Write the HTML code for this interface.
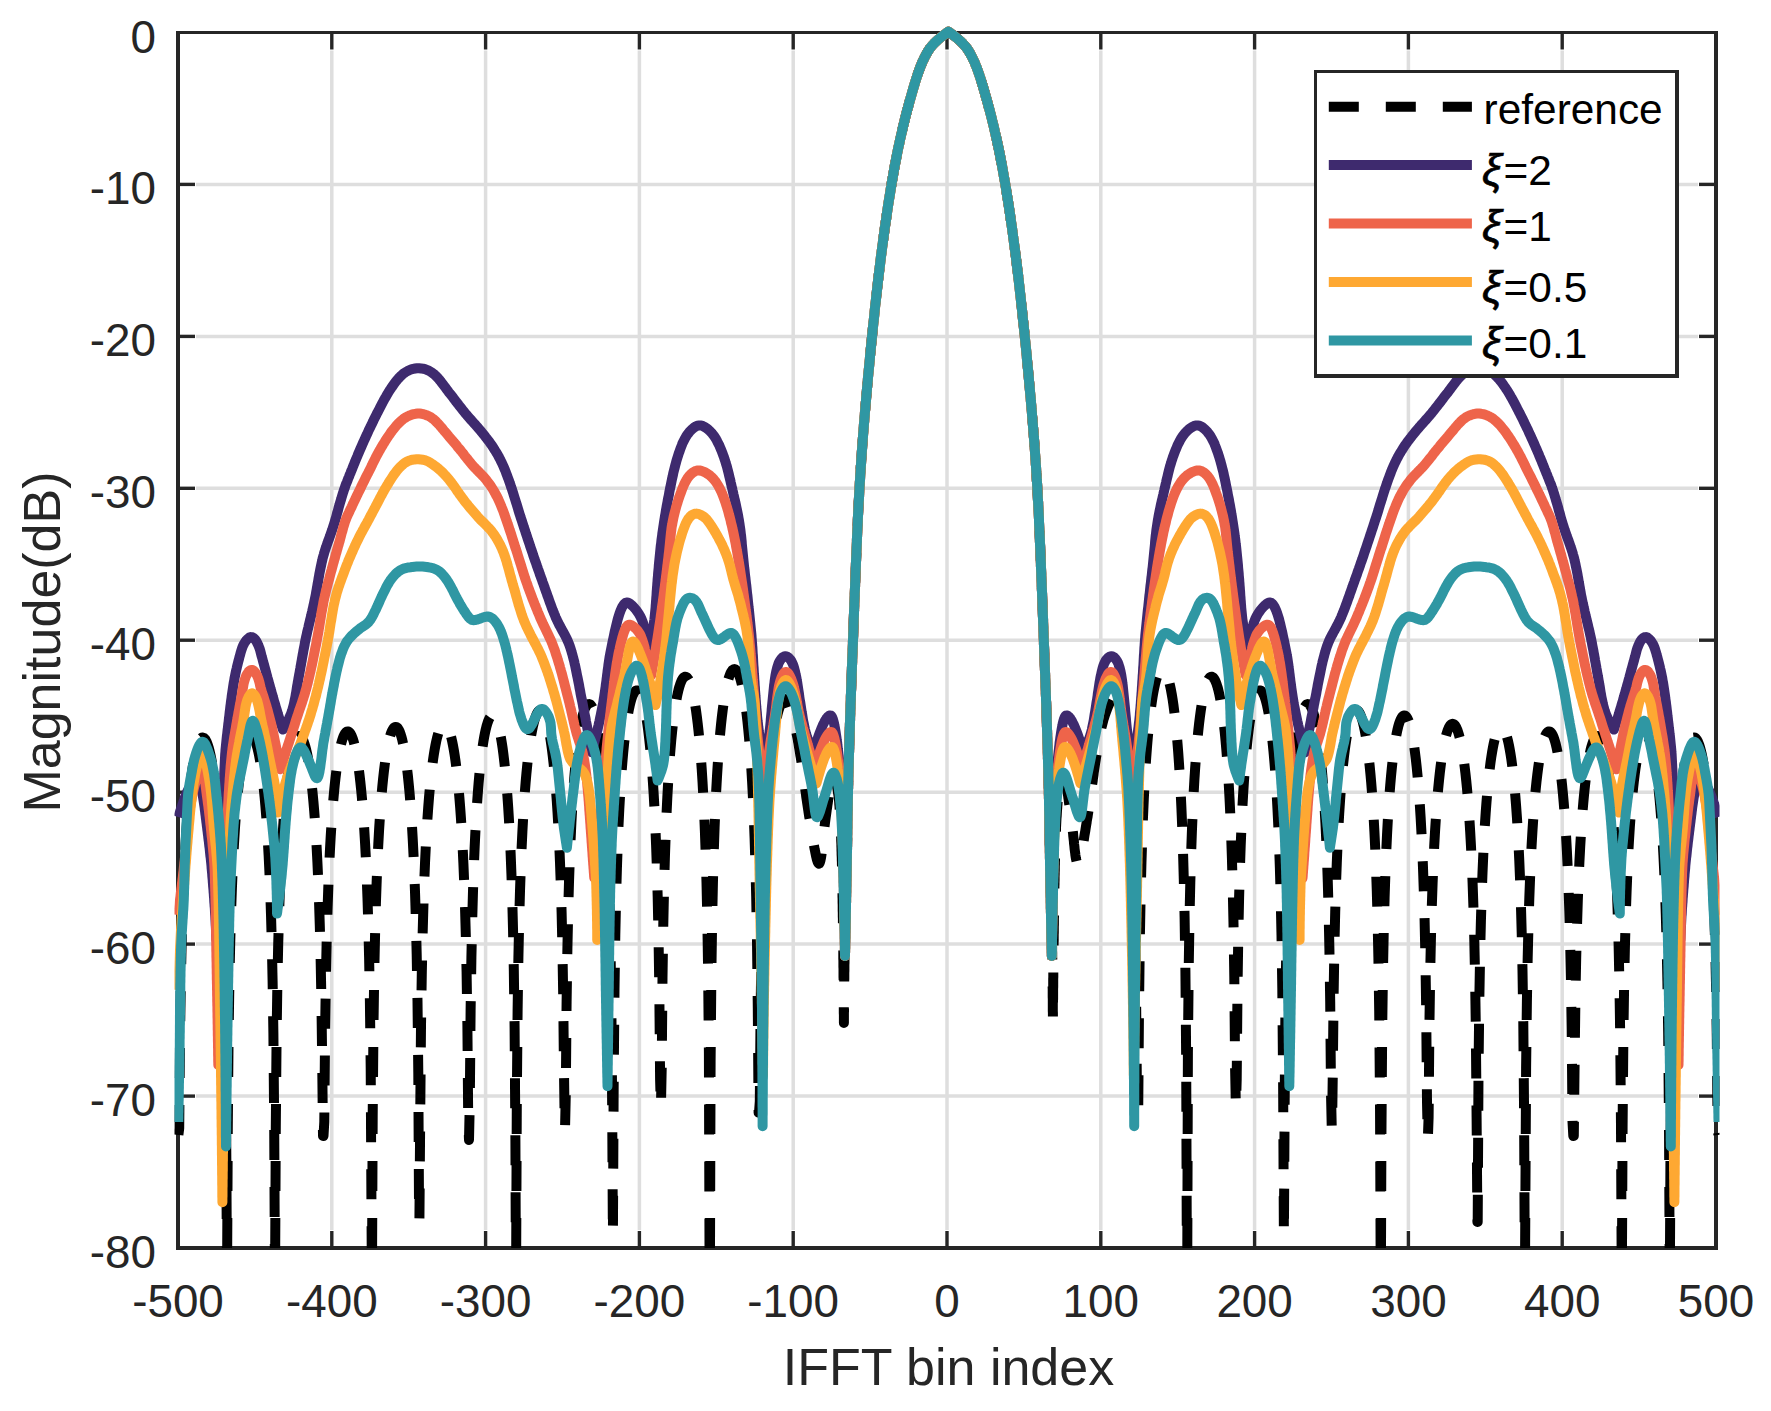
<!DOCTYPE html>
<html><head><meta charset="utf-8"><title>IFFT magnitude</title>
<style>
html,body{margin:0;padding:0;background:#fff;}
svg{display:block;}
text{font-family:"Liberation Sans",sans-serif;fill:#262626;}
.tk{font-size:45.8px;}
.lb{font-size:52px;}
.lg{font-size:42.4px;fill:#000;}
.xi{font-style:italic;font-size:44.5px;stroke:#000;stroke-width:0.7px;}
</style></head><body>
<svg width="1771" height="1411" viewBox="0 0 1771 1411">
<rect x="0" y="0" width="1771" height="1411" fill="#ffffff"/>
<defs><clipPath id="clip"><rect x="174.5" y="25.5" width="1545.0" height="1223.0"/></clipPath></defs>
<g stroke="#dedede" stroke-width="3.5" fill="none">
<line x1="331.8" y1="50.5" x2="331.8" y2="1230.0"/><line x1="485.6" y1="50.5" x2="485.6" y2="1230.0"/><line x1="639.4" y1="50.5" x2="639.4" y2="1230.0"/><line x1="793.2" y1="50.5" x2="793.2" y2="1230.0"/><line x1="947.0" y1="50.5" x2="947.0" y2="1230.0"/><line x1="1100.8" y1="50.5" x2="1100.8" y2="1230.0"/><line x1="1254.6" y1="50.5" x2="1254.6" y2="1230.0"/><line x1="1408.4" y1="50.5" x2="1408.4" y2="1230.0"/><line x1="1562.2" y1="50.5" x2="1562.2" y2="1230.0"/><line x1="196.0" y1="1096.1" x2="1698.0" y2="1096.1"/><line x1="196.0" y1="944.1" x2="1698.0" y2="944.1"/><line x1="196.0" y1="792.2" x2="1698.0" y2="792.2"/><line x1="196.0" y1="640.2" x2="1698.0" y2="640.2"/><line x1="196.0" y1="488.3" x2="1698.0" y2="488.3"/><line x1="196.0" y1="336.4" x2="1698.0" y2="336.4"/><line x1="196.0" y1="184.4" x2="1698.0" y2="184.4"/>
</g>
<g fill="#262626" stroke="none">
<rect x="176" y="31" width="4" height="1219"/><rect x="1714" y="31" width="4" height="1219"/><rect x="176" y="31" width="1542" height="3"/><rect x="176" y="1246" width="1542" height="4"/>
</g>
<g stroke="#262626" stroke-width="3.4" fill="none">
<line x1="331.8" y1="1248.0" x2="331.8" y2="1231.0"/><line x1="331.8" y1="32.5" x2="331.8" y2="49.5"/><line x1="485.6" y1="1248.0" x2="485.6" y2="1231.0"/><line x1="485.6" y1="32.5" x2="485.6" y2="49.5"/><line x1="639.4" y1="1248.0" x2="639.4" y2="1231.0"/><line x1="639.4" y1="32.5" x2="639.4" y2="49.5"/><line x1="793.2" y1="1248.0" x2="793.2" y2="1231.0"/><line x1="793.2" y1="32.5" x2="793.2" y2="49.5"/><line x1="947.0" y1="1248.0" x2="947.0" y2="1231.0"/><line x1="947.0" y1="32.5" x2="947.0" y2="49.5"/><line x1="1100.8" y1="1248.0" x2="1100.8" y2="1231.0"/><line x1="1100.8" y1="32.5" x2="1100.8" y2="49.5"/><line x1="1254.6" y1="1248.0" x2="1254.6" y2="1231.0"/><line x1="1254.6" y1="32.5" x2="1254.6" y2="49.5"/><line x1="1408.4" y1="1248.0" x2="1408.4" y2="1231.0"/><line x1="1408.4" y1="32.5" x2="1408.4" y2="49.5"/><line x1="1562.2" y1="1248.0" x2="1562.2" y2="1231.0"/><line x1="1562.2" y1="32.5" x2="1562.2" y2="49.5"/><line x1="178.0" y1="1096.1" x2="195.0" y2="1096.1"/><line x1="1716.0" y1="1096.1" x2="1699.0" y2="1096.1"/><line x1="178.0" y1="944.1" x2="195.0" y2="944.1"/><line x1="1716.0" y1="944.1" x2="1699.0" y2="944.1"/><line x1="178.0" y1="792.2" x2="195.0" y2="792.2"/><line x1="1716.0" y1="792.2" x2="1699.0" y2="792.2"/><line x1="178.0" y1="640.2" x2="195.0" y2="640.2"/><line x1="1716.0" y1="640.2" x2="1699.0" y2="640.2"/><line x1="178.0" y1="488.3" x2="195.0" y2="488.3"/><line x1="1716.0" y1="488.3" x2="1699.0" y2="488.3"/><line x1="178.0" y1="336.4" x2="195.0" y2="336.4"/><line x1="1716.0" y1="336.4" x2="1699.0" y2="336.4"/><line x1="178.0" y1="184.4" x2="195.0" y2="184.4"/><line x1="1716.0" y1="184.4" x2="1699.0" y2="184.4"/>
</g>
<text class="tk" x="178.0" y="1316.6" text-anchor="middle">-500</text><text class="tk" x="331.8" y="1316.6" text-anchor="middle">-400</text><text class="tk" x="485.6" y="1316.6" text-anchor="middle">-300</text><text class="tk" x="639.4" y="1316.6" text-anchor="middle">-200</text><text class="tk" x="793.2" y="1316.6" text-anchor="middle">-100</text><text class="tk" x="947.0" y="1316.6" text-anchor="middle">0</text><text class="tk" x="1100.8" y="1316.6" text-anchor="middle">100</text><text class="tk" x="1254.6" y="1316.6" text-anchor="middle">200</text><text class="tk" x="1408.4" y="1316.6" text-anchor="middle">300</text><text class="tk" x="1562.2" y="1316.6" text-anchor="middle">400</text><text class="tk" x="1716.0" y="1316.6" text-anchor="middle">500</text>
<text class="tk" x="156" y="1268.0" text-anchor="end">-80</text><text class="tk" x="156" y="1116.1" text-anchor="end">-70</text><text class="tk" x="156" y="964.1" text-anchor="end">-60</text><text class="tk" x="156" y="812.2" text-anchor="end">-50</text><text class="tk" x="156" y="660.2" text-anchor="end">-40</text><text class="tk" x="156" y="508.3" text-anchor="end">-30</text><text class="tk" x="156" y="356.4" text-anchor="end">-20</text><text class="tk" x="156" y="204.4" text-anchor="end">-10</text><text class="tk" x="156" y="52.5" text-anchor="end">0</text>
<text class="lb" x="948.5" y="1384.7" text-anchor="middle">IFFT bin index</text>
<text class="lb" transform="translate(59.5,642) rotate(-90)" text-anchor="middle">Magnitude(dB)</text>
<g clip-path="url(#clip)" fill="none" stroke-linejoin="round" stroke-linecap="butt">
<path d="M178.4 1135.0L179.2 1128.5L180.0 1037.2L180.8 983.9L181.6 946.4L182.4 917.5L183.2 894.1L184.0 874.5L184.8 857.8L185.6 843.2L186.4 830.5L187.2 819.1L188.0 809.0L188.8 800.0L189.6 791.9L190.4 784.5L191.2 777.9L192.0 772.0L192.8 766.6L193.6 761.8L194.4 757.5L195.2 753.6L196.0 750.3L196.8 747.3L197.6 744.8L198.4 742.7L199.2 740.9L200.0 739.5L200.8 738.5L201.6 737.8L202.4 737.5L203.2 737.6L204.0 738.0L204.8 738.7L205.6 739.8L206.4 741.3L207.2 743.2L208.0 745.4L208.8 748.0L209.6 751.1L210.4 754.6L211.2 758.5L212.0 762.9L212.8 767.9L213.6 773.4L214.4 779.5L215.2 786.3L216.0 793.8L216.8 802.2L217.6 811.5L218.4 821.8L219.2 833.5L220.0 846.7L220.8 861.7L221.6 879.1L222.4 899.5L223.2 924.1L224.0 954.8L224.8 995.3L225.6 1054.7L226.4 1166.4L226.8 1248.0M227.2 1248.0L227.8 1125.3L228.6 1034.0L229.4 980.8L230.2 943.3L231.0 914.3L231.8 891.0L232.6 871.4L233.4 854.7L234.2 840.2L235.0 827.4L235.8 816.2L236.6 806.1L237.4 797.1L238.2 789.0L239.0 781.7L239.8 775.1L240.6 769.2L241.4 763.9L242.2 759.2L243.0 755.0L243.8 751.2L244.6 747.9L245.4 745.0L246.2 742.6L247.0 740.5L247.8 738.9L248.6 737.6L249.4 736.7L250.2 736.2L251.0 736.0L251.8 736.2L252.6 736.7L253.4 737.6L254.2 738.9L255.0 740.5L255.8 742.6L256.6 745.0L257.4 747.9L258.2 751.2L259.0 755.0L259.8 759.2L260.6 763.9L261.4 769.2L262.2 775.1L263.0 781.7L263.8 789.0L264.6 797.1L265.4 806.1L266.2 816.2L267.0 827.4L267.8 840.2L268.6 854.7L269.4 871.4L270.2 891.0L271.0 914.3L271.8 943.3L272.6 980.8L273.4 1034.0L274.2 1125.3L274.8 1248.0M275.2 1248.0L275.8 1126.7L276.6 1035.4L277.4 982.1L278.2 944.6L279.0 915.7L279.8 892.3L280.6 872.7L281.4 856.0L282.2 841.5L283.0 828.7L283.8 817.4L284.6 807.3L285.4 798.2L286.2 790.1L287.0 782.8L287.8 776.2L288.6 770.2L289.4 764.9L290.2 760.1L291.0 755.8L291.8 752.0L292.6 748.6L293.4 745.7L294.2 743.2L295.0 741.0L295.8 739.3L296.6 737.9L297.4 736.9L298.2 736.3L299.0 736.0L299.8 736.1L300.6 736.5L301.4 737.3L302.2 738.4L303.0 739.9L303.8 741.8L304.6 744.1L305.4 746.7L306.2 749.8L307.0 753.3L307.8 757.3L308.6 761.8L309.4 766.8L310.2 772.4L311.0 778.6L311.8 785.4L312.6 793.1L313.4 801.5L314.2 810.9L315.0 821.5L315.8 833.3L316.6 846.7L317.4 862.0L318.2 879.7L319.0 900.5L319.8 925.8L320.6 957.4L321.4 999.6L322.2 1062.7L323.0 1136.0L323.5 1136.0L324.3 1121.8L325.1 1030.5L325.9 977.3L326.7 939.8L327.5 910.9L328.3 887.5L329.1 867.9L329.9 851.2L330.7 836.6L331.5 823.9L332.3 812.6L333.1 802.5L333.9 793.5L334.7 785.3L335.5 778.0L336.3 771.4L337.1 765.5L337.9 760.1L338.7 755.3L339.5 751.1L340.3 747.3L341.1 743.9L341.9 741.0L342.7 738.5L343.5 736.4L344.3 734.7L345.1 733.3L345.9 732.3L346.7 731.7L347.5 731.4L348.3 731.5L349.1 732.0L349.9 732.8L350.7 733.9L351.5 735.5L352.3 737.4L353.1 739.7L353.9 742.4L354.7 745.5L355.5 749.1L356.3 753.1L357.1 757.7L357.9 762.7L358.7 768.4L359.5 774.6L360.3 781.6L361.1 789.3L361.9 797.8L362.7 807.4L363.5 818.1L364.3 830.1L365.1 843.7L365.9 859.2L366.7 877.3L367.5 898.6L368.3 924.5L369.1 957.2L369.9 1001.2L370.7 1068.4L371.5 1213.3L371.7 1248.0M372.1 1248.0L372.7 1114.8L373.5 1023.5L374.3 970.3L375.1 932.8L375.9 903.9L376.7 880.5L377.5 861.0L378.3 844.3L379.1 829.8L379.9 817.1L380.7 805.8L381.5 795.8L382.3 786.8L383.1 778.8L383.9 771.5L384.7 765.0L385.5 759.1L386.3 753.9L387.1 749.2L387.9 745.0L388.7 741.3L389.5 738.1L390.3 735.3L391.1 732.9L391.9 731.0L392.7 729.4L393.5 728.2L394.3 727.4L395.1 726.9L395.9 726.9L396.7 727.2L397.5 727.8L398.3 728.9L399.1 730.3L399.9 732.1L400.7 734.4L401.5 737.0L402.3 740.1L403.1 743.6L403.9 747.6L404.7 752.1L405.5 757.1L406.3 762.7L407.1 769.0L407.9 775.9L408.7 783.7L409.5 792.3L410.3 801.9L411.1 812.7L411.9 824.8L412.7 838.6L413.5 854.4L414.3 872.8L415.1 894.6L415.9 921.1L416.7 954.9L417.5 1000.9L418.3 1072.8L419.1 1222.0L419.4 1222.0L420.2 1117.5L421.0 1026.2L421.8 972.9L422.6 935.4L423.4 906.4L424.2 883.0L425.0 863.4L425.8 846.6L426.6 832.0L427.4 819.2L428.2 807.9L429.0 797.7L429.8 788.6L430.6 780.4L431.4 773.0L432.2 766.3L433.0 760.2L433.8 754.8L434.6 749.9L435.4 745.5L436.2 741.5L437.0 738.0L437.8 735.0L438.6 732.3L439.4 730.0L440.2 728.1L441.0 726.5L441.8 725.3L442.6 724.5L443.4 724.0L444.2 723.8L445.0 724.0L445.8 724.5L446.6 725.3L447.4 726.5L448.2 728.1L449.0 730.0L449.8 732.3L450.6 735.0L451.4 738.0L452.2 741.5L453.0 745.5L453.8 749.9L454.6 754.8L455.4 760.2L456.2 766.3L457.0 773.0L457.8 780.4L458.6 788.6L459.4 797.7L460.2 807.9L461.0 819.2L461.8 832.0L462.6 846.6L463.4 863.4L464.2 883.0L465.0 906.4L465.8 935.4L466.6 972.9L467.4 1026.2L468.2 1117.5L469.0 1140.0L469.0 1140.0L469.8 1102.0L470.6 1010.7L471.4 957.5L472.2 920.0L473.0 891.1L473.8 867.8L474.6 848.2L475.4 831.6L476.2 817.1L477.0 804.4L477.8 793.2L478.6 783.2L479.4 774.3L480.2 766.2L481.0 759.0L481.8 752.6L482.6 746.7L483.4 741.5L484.2 736.9L485.0 732.8L485.8 729.2L486.6 726.0L487.4 723.3L488.2 721.0L489.0 719.1L489.8 717.6L490.6 716.5L491.4 715.8L492.2 715.5L493.0 715.5L493.8 716.0L494.6 716.8L495.4 718.0L496.2 719.5L497.0 721.5L497.8 723.9L498.6 726.7L499.4 730.0L500.2 733.8L501.0 738.0L501.8 742.8L502.6 748.1L503.4 754.1L504.2 760.8L505.0 768.2L505.8 776.4L506.6 785.6L507.4 795.9L508.2 807.4L509.0 820.5L509.8 835.5L510.6 852.8L511.4 873.2L512.2 897.7L513.0 928.4L513.8 968.9L514.6 1028.3L515.4 1139.9L515.8 1248.0M516.2 1248.0L516.8 1102.2L517.6 1010.9L518.4 957.7L519.2 920.1L520.0 891.2L520.8 867.8L521.6 848.2L522.4 831.4L523.2 816.9L524.0 804.1L524.8 792.8L525.6 782.6L526.4 773.6L527.2 765.4L528.0 758.0L528.8 751.4L529.6 745.4L530.4 740.0L531.2 735.1L532.0 730.8L532.8 726.9L533.6 723.5L534.4 720.5L535.2 717.9L536.0 715.7L536.8 713.9L537.6 712.4L538.4 711.3L539.2 710.6L540.0 710.2L540.8 710.2L541.6 710.5L542.4 711.1L543.2 712.1L544.0 713.5L544.8 715.2L545.6 717.3L546.4 719.8L547.2 722.7L548.0 726.0L548.8 729.8L549.6 734.0L550.4 738.7L551.2 744.0L552.0 749.8L552.8 756.3L553.6 763.5L554.4 771.4L555.2 780.3L556.0 790.1L556.8 801.1L557.6 813.5L558.4 827.6L559.2 843.7L560.0 862.5L560.8 884.9L561.6 912.2L562.4 947.2L563.2 995.4L564.0 1072.8L564.8 1130.0L565.0 1130.0L565.8 1093.1L566.6 1001.8L567.4 948.6L568.2 911.1L569.0 882.2L569.8 858.8L570.6 839.2L571.4 822.5L572.2 808.0L573.0 795.3L573.8 784.0L574.6 774.0L575.4 765.0L576.2 756.9L577.0 749.6L577.8 743.0L578.6 737.1L579.4 731.8L580.2 727.1L581.0 722.9L581.8 719.1L582.6 715.9L583.4 713.0L584.2 710.6L585.0 708.5L585.8 706.9L586.6 705.6L587.4 704.7L588.2 704.2L589.0 704.1L589.8 704.3L590.6 704.8L591.4 705.8L592.2 707.1L593.0 708.8L593.8 710.9L594.6 713.3L595.4 716.2L596.2 719.6L597.0 723.4L597.8 727.7L598.6 732.5L599.4 737.8L600.2 743.8L601.0 750.5L601.8 757.8L602.6 766.0L603.4 775.2L604.2 785.3L605.0 796.8L605.8 809.7L606.6 824.5L607.4 841.5L608.2 861.5L609.0 885.4L609.8 915.2L610.6 954.2L611.4 1010.3L612.2 1110.7L612.9 1235.9L613.7 1079.7L614.5 988.4L615.3 935.2L616.1 897.7L616.9 868.8L617.7 845.4L618.5 825.8L619.3 809.1L620.1 794.6L620.9 781.9L621.7 770.6L622.5 760.5L623.3 751.5L624.1 743.4L624.9 736.1L625.7 729.6L626.5 723.7L627.3 718.4L628.1 713.6L628.9 709.4L629.7 705.6L630.5 702.3L631.3 699.5L632.1 697.0L632.9 695.0L633.7 693.3L634.5 692.0L635.3 691.1L636.1 690.6L636.9 690.4L637.7 690.6L638.5 691.1L639.3 692.0L640.1 693.3L640.9 695.0L641.7 697.0L642.5 699.5L643.3 702.3L644.1 705.6L644.9 709.4L645.7 713.6L646.5 718.4L647.3 723.7L648.1 729.6L648.9 736.1L649.7 743.4L650.5 751.5L651.3 760.5L652.1 770.6L652.9 781.9L653.7 794.6L654.5 809.1L655.3 825.8L656.1 845.4L656.9 868.8L657.7 897.7L658.5 935.2L659.3 988.4L660.1 1079.7L660.9 1108.0L661.7 1068.5L662.5 977.2L663.3 924.0L664.1 886.4L664.9 857.5L665.7 834.1L666.5 814.5L667.3 797.7L668.1 783.2L668.9 770.4L669.7 759.1L670.5 749.0L671.3 739.9L672.1 731.7L672.9 724.4L673.7 717.8L674.5 711.8L675.3 706.4L676.1 701.5L676.9 697.2L677.7 693.3L678.5 689.9L679.3 686.9L680.1 684.4L680.9 682.2L681.7 680.4L682.5 678.9L683.3 677.9L684.1 677.1L684.9 676.8L685.7 676.7L686.5 677.1L687.3 677.8L688.1 678.8L688.9 680.2L689.7 681.9L690.5 684.1L691.3 686.6L692.1 689.5L692.9 692.9L693.7 696.7L694.5 701.0L695.3 705.7L696.1 711.1L696.9 717.0L697.7 723.5L698.5 730.8L699.3 738.8L700.1 747.8L700.9 757.8L701.7 768.9L702.5 781.5L703.3 795.8L704.1 812.3L704.9 831.4L705.7 854.3L706.5 882.4L707.3 918.6L708.1 969.2L708.9 1053.0L709.5 1248.0M710.0 1248.0L710.6 1061.7L711.4 970.4L712.2 917.2L713.0 879.6L713.8 850.7L714.6 827.3L715.4 807.7L716.2 790.9L717.0 776.4L717.8 763.6L718.6 752.2L719.4 742.1L720.2 733.0L721.0 724.8L721.8 717.4L722.6 710.8L723.4 704.8L724.2 699.3L725.0 694.5L725.8 690.1L726.6 686.2L727.4 682.8L728.2 679.7L729.0 677.1L729.8 674.9L730.6 673.0L731.4 671.6L732.2 670.4L733.0 669.6L733.8 669.2L734.6 669.1L735.4 669.4L736.2 670.0L737.0 670.9L737.8 672.3L738.6 673.9L739.4 676.0L740.2 678.4L741.0 681.2L741.8 684.4L742.6 688.1L743.4 692.2L744.2 696.8L745.0 702.0L745.8 707.7L746.6 714.0L747.4 721.0L748.2 728.8L749.0 737.4L749.8 747.0L750.6 757.7L751.4 769.8L752.2 783.4L753.0 799.0L753.8 817.1L754.6 838.4L755.4 864.3L756.2 897.0L757.0 941.1L757.8 1008.3L758.6 1112.8L759.0 1112.8L759.8 1101.4L760.6 1010.1L761.4 956.8L762.2 919.2L763.0 890.2L763.8 866.7L764.6 847.0L765.4 830.1L766.2 815.4L767.0 802.5L767.8 790.9L768.6 780.6L769.4 771.3L770.2 762.9L771.0 755.3L771.8 748.4L772.6 742.1L773.4 736.3L774.2 731.1L775.0 726.4L775.8 722.1L776.6 718.3L777.4 714.8L778.2 711.8L779.0 709.0L779.8 706.7L780.6 704.6L781.4 702.9L782.2 701.5L783.0 700.5L783.8 699.7L784.6 699.2L785.4 699.0L786.3 700.8L787.1 702.7L787.9 704.6L788.7 706.4L789.4 708.3L790.1 710.2L790.8 712.0L791.5 713.9L792.1 715.8L792.7 717.7L793.3 719.6L793.8 721.5L794.3 723.5L794.8 725.4L795.3 727.3L795.7 729.3L796.1 731.2L796.5 733.2L796.9 735.1L797.3 737.1L797.7 739.1L798.0 741.1L798.4 743.0L798.7 745.0L799.0 747.0L799.4 749.0L799.7 751.0L800.0 753.0L800.3 754.9L800.7 756.9L801.0 758.9L801.3 760.9L801.6 762.8L801.9 764.8L802.2 766.8L802.5 768.8L802.8 770.8L803.1 772.7L803.3 774.7L803.6 776.7L803.9 778.7L804.1 780.7L804.4 782.7L804.7 784.7L804.9 786.6L805.2 788.6L805.4 790.6L805.7 792.6L806.0 794.6L806.2 796.6L806.5 798.6L806.8 800.5L807.1 802.5L807.4 804.5L807.7 806.5L808.0 808.5L808.3 810.4L808.6 812.4L808.9 814.4L809.2 816.5L809.6 818.7L810.0 820.9L810.3 823.3L810.8 826.3L811.2 828.8L811.6 831.4L812.1 834.0L812.5 836.6L812.9 839.2L813.3 841.7L813.8 844.2L814.2 846.7L814.6 849.0L815.1 851.2L815.5 853.3L815.9 855.3L816.3 857.1L816.7 858.7L817.1 860.2L817.5 861.4L817.9 862.4L818.3 863.1L818.6 863.5L819.0 863.7L819.3 863.5L819.6 863.1L819.9 862.4L820.2 861.4L820.5 860.2L820.8 858.8L821.1 857.1L821.4 855.3L821.6 853.3L821.9 851.1L822.2 848.9L822.4 846.5L822.7 844.0L822.9 841.5L823.2 838.9L823.5 836.3L823.7 833.7L824.0 831.1L824.3 828.5L824.6 826.0L824.9 823.5L825.2 821.1L825.5 818.8L825.8 816.6L826.1 814.5L826.4 812.3L826.7 810.0L827.1 807.7L827.4 805.2L827.8 802.7L828.1 800.1L828.5 797.5L828.8 794.9L829.2 792.4L829.6 789.9L830.0 787.5L830.3 785.3L830.7 783.2L831.1 781.3L831.5 779.7L831.9 778.2L832.3 777.0L832.7 776.2L833.1 775.6L833.5 775.5L833.9 775.8L834.4 776.5L834.9 777.7L835.4 779.3L835.9 781.2L836.4 783.4L836.9 785.8L837.3 788.2L837.8 790.8L838.1 793.3L838.5 795.7L838.8 798.0L839.0 800.1L839.2 802.2L839.3 804.2L839.5 806.2L839.6 808.2L839.8 810.2L839.9 812.2L840.0 814.1L840.1 816.1L840.3 818.1L840.4 820.1L840.5 822.1L840.6 824.1L840.7 826.1L840.8 828.1L840.8 830.1L840.9 832.2L841.0 834.2L841.1 836.2L841.2 838.2L841.2 840.2L841.3 842.2L841.4 844.2L841.4 846.2L841.5 848.2L841.5 850.2L841.6 852.2L841.6 854.2L841.7 856.2L841.8 858.2L841.8 860.2L841.9 862.2L841.9 864.2L842.0 866.2L842.0 868.2L842.0 870.3L842.1 872.3L842.1 874.3L842.2 876.3L842.2 878.3L842.2 880.3L842.3 882.3L842.3 884.3L842.4 886.3L842.4 888.3L842.4 890.3L842.5 892.3L842.5 894.3L842.5 896.8L842.6 898.8L842.6 900.8L842.6 902.8L842.7 904.8L842.7 906.8L842.7 908.8L842.7 910.8L842.8 912.8L842.8 914.8L842.8 916.8L842.9 918.8L842.9 920.8L842.9 922.8L842.9 924.8L843.0 926.8L843.0 928.8L843.0 930.8L843.0 932.8L843.1 934.8L843.1 936.8L843.1 938.8L843.1 940.8L843.2 942.8L843.2 944.8L843.2 946.8L843.2 948.8L843.3 950.8L843.3 952.8L843.3 954.8L843.3 956.8L843.3 958.8L843.4 960.8L843.4 962.8L843.4 964.8L843.4 966.8L843.5 968.8L843.5 970.8L843.5 972.8L843.5 974.9L843.5 976.9L843.6 978.9L843.6 980.9L843.6 982.9L843.6 984.9L843.6 986.9L843.7 988.9L843.7 990.9L843.7 992.9L843.7 994.9L843.7 996.9L843.7 998.9L843.8 1000.9L843.8 1002.9L843.8 1004.9L843.8 1006.9L843.8 1008.9L843.8 1010.9L843.8 1012.9L843.9 1014.9L843.9 1016.9L843.9 1018.9L843.9 1020.9L843.9 1022.9L843.9 1020.9L843.9 1018.9L843.9 1016.9L843.9 1014.9L843.9 1012.9L844.0 1010.9L844.0 1008.9L844.0 1006.9L844.0 1004.9L844.0 1002.9L844.0 1000.9L844.0 998.9L844.1 996.9L844.1 994.9L844.1 992.9L844.1 990.9L844.1 988.9L844.2 986.9L844.2 984.9L844.2 982.9L844.2 980.9L844.3 978.9L844.3 976.9L844.3 974.9L844.3 972.9L844.4 970.9L844.4 968.9L844.4 966.9L844.4 964.9L844.5 962.9L844.5 960.9L844.5 958.9L844.6 956.9L844.6 954.8L844.6 952.8L844.7 950.8L844.7 948.8L844.7 946.8L844.8 944.8L844.8 942.8L844.8 940.8L844.9 938.8L844.9 936.8L844.9 934.8L845.0 932.8L845.0 930.8L845.0 928.8L845.1 926.8L845.1 924.8L845.1 922.8L845.2 920.8L845.2 918.8L845.3 916.8L845.3 914.8L845.4 912.8L845.5 910.8L845.5 908.8L845.6 906.8L845.6 904.8L845.7 902.8L845.8 900.8L845.8 898.8L845.9 896.8L845.9 894.8L846.0 892.8L846.1 890.8L846.1 888.8L846.2 886.8L846.3 884.8L846.3 882.8L846.4 880.8L846.4 878.8L846.5 876.8L846.5 874.8L846.6 872.8L846.6 870.8L846.7 868.8L846.7 866.8L846.8 864.8L846.8 862.8L846.8 860.8L846.9 858.8L846.9 856.8L847.0 854.8L847.0 852.8L847.0 850.8L847.1 848.8L847.1 846.8L847.1 844.8L847.2 842.8L847.2 840.8L847.2 838.8L847.2 836.8L847.3 834.8L847.3 832.8L847.3 830.8L847.4 828.8L847.4 826.8L847.4 824.8L847.5 822.8L847.5 820.8L847.5 818.8L847.5 816.8L847.6 814.8L847.6 812.8L847.6 810.8L847.7 808.8L847.7 806.8L847.8 804.8L847.8 802.8L847.8 800.8L847.9 798.8L847.9 796.8L847.9 794.8L848.0 792.8L848.0 790.8L848.1 788.8L848.1 786.8L848.2 784.8L848.2 782.8L848.3 780.8L848.3 778.8L848.4 776.8L848.4 774.8L848.5 772.8L848.5 770.8L848.6 768.8L848.6 766.8L848.7 764.8L848.7 762.7L848.8 760.7L848.9 758.7L848.9 756.7L849.0 754.7L849.0 752.7L849.1 750.7L849.2 748.7L849.2 746.7L849.3 744.7L849.3 742.7L849.4 740.7L849.5 738.7L849.5 736.7L849.6 734.7L849.7 732.7L849.7 730.7L849.8 728.7L849.9 726.7L849.9 724.7L850.0 722.7L850.0 720.7L850.1 718.7L850.2 716.7L850.2 714.7L850.3 712.7L850.4 710.7L850.4 708.7L850.5 706.7L850.6 704.7L850.6 702.7L850.7 700.7L850.8 698.7L850.9 696.7L850.9 694.7L851.0 692.7L851.1 690.7L851.2 688.7L851.2 686.7L851.3 684.7L851.4 682.7L851.5 680.7L851.5 678.7L851.6 676.7L851.7 674.7L851.8 672.7L851.8 670.7L851.9 668.7L852.0 666.7L852.1 664.7L852.1 662.7L852.2 660.7L852.3 658.7L852.4 656.7L852.4 654.7L852.5 652.7L852.6 650.7L852.7 648.7L852.7 646.7L852.8 644.7L852.9 642.7L853.0 640.7L853.0 638.7L853.1 636.7L853.2 634.7L853.3 632.7L853.3 630.7L853.4 628.7L853.5 626.7L853.6 624.7L853.6 622.7L853.7 620.7L853.8 618.7L853.9 616.7L853.9 614.7L854.0 612.7L854.1 610.7L854.2 608.7L854.2 606.7L854.3 604.7L854.4 602.7L854.5 600.7L854.6 598.7L854.6 596.7L854.7 594.7L854.8 592.7L854.9 590.7L854.9 588.7L855.0 586.7L855.1 584.7L855.2 582.7L855.3 580.7L855.3 578.7L855.4 576.7L855.5 574.7L855.6 572.7L855.7 570.7L855.7 568.7L855.8 566.7L855.9 564.7L856.0 562.7L856.1 560.7L856.1 558.7L856.2 556.7L856.3 554.7L856.4 552.7L856.5 550.7L856.6 548.7L856.6 546.7L856.7 544.7L856.8 542.7L856.9 540.7L857.0 538.7L857.1 536.7L857.2 534.7L857.3 532.7L857.3 530.7L857.4 528.7L857.5 526.7L857.6 524.7L857.7 522.7L857.8 520.7L857.9 518.2L858.0 516.2L858.1 514.2L858.2 512.2L858.3 510.2L858.4 508.2L858.5 506.2L858.6 504.2L858.7 502.2L858.8 500.2L858.9 498.2L859.0 496.2L859.2 494.2L859.3 492.2L859.4 490.2L859.5 488.3L859.6 486.3L859.7 484.3L859.8 482.3L860.0 480.3L860.1 478.3L860.2 476.3L860.3 474.3L860.5 472.3L860.6 470.3L860.7 468.3L860.8 466.3L861.0 464.3L861.1 462.3L861.2 460.3L861.4 458.3L861.5 456.3L861.7 454.3L861.8 452.3L862.0 450.3L862.1 448.3L862.2 446.3L862.4 444.3L862.5 442.3L862.7 440.3L862.8 438.3L863.0 436.3L863.1 434.3L863.3 432.3L863.5 430.3L863.6 428.3L863.8 426.4L863.9 424.4L864.1 422.4L864.3 420.4L864.4 418.4L864.6 416.4L864.8 414.4L864.9 412.4L865.1 410.4L865.3 408.4L865.4 406.4L865.6 404.4L865.8 402.4L866.0 400.4L866.1 398.4L866.3 396.4L866.5 394.4L866.7 392.4L866.9 390.4L867.0 388.4L867.2 386.5L867.4 384.5L867.6 382.5L867.8 380.5L868.0 378.5L868.1 376.5L868.3 374.5L868.5 372.5L868.7 370.5L868.9 368.5L869.1 366.5L869.3 364.5L869.5 362.5L869.7 360.5L869.9 358.5L870.0 356.6L870.2 354.6L870.4 352.6L870.6 350.6L870.8 348.6L871.0 346.6L871.2 344.6L871.4 342.6L871.6 340.6L871.8 338.6L872.0 336.6L872.2 334.7L872.4 332.7L872.6 330.7L872.8 328.7L873.0 326.7L873.2 324.7L873.4 322.7L873.7 320.7L873.9 318.7L874.1 316.7L874.3 314.8L874.5 312.8L874.7 310.8L874.9 308.8L875.1 306.8L875.4 304.8L875.6 302.8L875.8 300.8L876.0 298.8L876.2 296.8L876.4 294.8L876.7 292.9L876.9 290.9L877.1 288.9L877.4 286.9L877.6 284.9L877.8 282.9L878.0 280.9L878.3 278.9L878.5 276.9L878.7 274.9L879.0 272.9L879.2 271.0L879.5 269.0L879.7 267.0L880.0 265.0L880.2 263.0L880.4 261.0L880.7 259.0L880.9 257.0L881.2 255.0L881.5 253.1L881.7 251.1L882.0 249.1L882.2 247.1L882.5 245.1L882.8 243.1L883.0 241.1L883.3 239.2L883.6 237.2L883.8 235.2L884.1 233.2L884.4 231.2L884.7 229.2L884.9 227.3L885.2 225.3L885.5 223.3L885.8 221.3L886.1 219.3L886.4 217.3L886.6 215.4L886.9 213.4L887.2 211.4L887.5 209.4L887.8 207.5L888.1 205.5L888.4 203.5L888.7 201.5L889.1 199.6L889.4 197.6L889.7 195.6L890.0 193.6L890.3 191.7L890.6 189.7L891.0 187.7L891.3 185.8L891.6 183.8L891.9 181.8L892.3 179.8L892.6 177.9L893.0 175.9L893.3 173.9L893.7 172.0L894.0 170.0L894.4 168.0L894.7 166.0L895.1 164.1L895.5 162.1L895.9 160.1L896.3 158.2L896.6 156.2L897.0 154.2L897.4 152.3L897.8 150.3L898.2 148.3L898.7 146.4L899.1 144.4L899.5 142.4L899.9 140.5L900.3 138.5L900.8 136.5L901.2 134.6L901.7 132.6L902.1 130.7L902.6 128.7L903.0 126.8L903.5 124.8L904.0 122.9L904.5 120.9L904.9 119.0L905.4 117.1L905.9 115.1L906.4 113.2L906.9 111.3L907.4 109.3L908.0 107.4L908.5 105.5L909.0 103.6L909.5 101.6L910.1 99.7L910.6 97.8L911.2 95.8L911.7 93.9L912.3 91.9L912.8 90.0L913.4 88.0L914.0 86.0L914.6 84.0L915.2 82.0L915.8 80.1L916.4 78.1L917.1 76.1L917.7 74.2L918.4 72.2L919.1 70.3L919.8 68.4L920.5 66.5L921.3 64.7L922.0 62.8L922.8 61.0L923.7 59.3L924.5 57.5L925.4 55.8L926.3 54.1L927.2 52.5L928.2 50.9L929.2 49.3L930.3 47.8L931.5 46.3L932.8 44.8L934.1 43.4L935.5 42.0L937.0 40.6L938.5 39.2L940.1 37.9L941.7 36.6L943.3 35.3L945.0 34.1L946.7 32.8L948.4 31.6L950.1 32.8L951.8 34.1L953.5 35.3L955.1 36.6L956.7 37.9L958.3 39.2L959.8 40.6L961.3 42.0L962.7 43.4L964.0 44.8L965.3 46.3L966.5 47.8L967.6 49.3L968.6 50.9L969.6 52.5L970.5 54.1L971.4 55.8L972.3 57.5L973.1 59.3L974.0 61.0L974.8 62.8L975.5 64.7L976.3 66.5L977.0 68.4L977.7 70.3L978.4 72.2L979.1 74.2L979.7 76.1L980.4 78.1L981.0 80.1L981.6 82.0L982.2 84.0L982.8 86.0L983.4 88.0L984.0 90.0L984.5 91.9L985.1 93.9L985.6 95.8L986.2 97.8L986.7 99.7L987.3 101.6L987.8 103.6L988.3 105.5L988.8 107.4L989.4 109.3L989.9 111.3L990.4 113.2L990.9 115.1L991.4 117.1L991.9 119.0L992.3 120.9L992.8 122.9L993.3 124.8L993.8 126.8L994.2 128.7L994.7 130.7L995.1 132.6L995.6 134.6L996.0 136.5L996.5 138.5L996.9 140.5L997.3 142.4L997.7 144.4L998.1 146.4L998.6 148.3L999.0 150.3L999.4 152.3L999.8 154.2L1000.2 156.2L1000.5 158.2L1000.9 160.1L1001.3 162.1L1001.7 164.1L1002.1 166.0L1002.4 168.0L1002.8 170.0L1003.1 172.0L1003.5 173.9L1003.8 175.9L1004.2 177.9L1004.5 179.8L1004.9 181.8L1005.2 183.8L1005.5 185.8L1005.8 187.7L1006.2 189.7L1006.5 191.7L1006.8 193.6L1007.1 195.6L1007.4 197.6L1007.7 199.6L1008.1 201.5L1008.4 203.5L1008.7 205.5L1009.0 207.5L1009.3 209.4L1009.6 211.4L1009.9 213.4L1010.2 215.4L1010.4 217.3L1010.7 219.3L1011.0 221.3L1011.3 223.3L1011.6 225.3L1011.9 227.3L1012.1 229.2L1012.4 231.2L1012.7 233.2L1013.0 235.2L1013.2 237.2L1013.5 239.2L1013.8 241.1L1014.0 243.1L1014.3 245.1L1014.6 247.1L1014.8 249.1L1015.1 251.1L1015.3 253.1L1015.6 255.0L1015.9 257.0L1016.1 259.0L1016.4 261.0L1016.6 263.0L1016.8 265.0L1017.1 267.0L1017.3 269.0L1017.6 271.0L1017.8 272.9L1018.1 274.9L1018.3 276.9L1018.5 278.9L1018.8 280.9L1019.0 282.9L1019.2 284.9L1019.4 286.9L1019.7 288.9L1019.9 290.9L1020.1 292.9L1020.4 294.8L1020.6 296.8L1020.8 298.8L1021.0 300.8L1021.2 302.8L1021.4 304.8L1021.7 306.8L1021.9 308.8L1022.1 310.8L1022.3 312.8L1022.5 314.8L1022.7 316.7L1022.9 318.7L1023.1 320.7L1023.4 322.7L1023.6 324.7L1023.8 326.7L1024.0 328.7L1024.2 330.7L1024.4 332.7L1024.6 334.7L1024.8 336.6L1025.0 338.6L1025.2 340.6L1025.4 342.6L1025.6 344.6L1025.8 346.6L1026.0 348.6L1026.2 350.6L1026.4 352.6L1026.6 354.6L1026.8 356.6L1026.9 358.5L1027.1 360.5L1027.3 362.5L1027.5 364.5L1027.7 366.5L1027.9 368.5L1028.1 370.5L1028.3 372.5L1028.5 374.5L1028.7 376.5L1028.8 378.5L1029.0 380.5L1029.2 382.5L1029.4 384.5L1029.6 386.5L1029.8 388.4L1029.9 390.4L1030.1 392.4L1030.3 394.4L1030.5 396.4L1030.7 398.4L1030.8 400.4L1031.0 402.4L1031.2 404.4L1031.4 406.4L1031.5 408.4L1031.7 410.4L1031.9 412.4L1032.0 414.4L1032.2 416.4L1032.4 418.4L1032.5 420.4L1032.7 422.4L1032.9 424.4L1033.0 426.4L1033.2 428.3L1033.3 430.3L1033.5 432.3L1033.7 434.3L1033.8 436.3L1034.0 438.3L1034.1 440.3L1034.3 442.3L1034.4 444.3L1034.6 446.3L1034.7 448.3L1034.8 450.3L1035.0 452.3L1035.1 454.3L1035.3 456.3L1035.4 458.3L1035.6 460.3L1035.7 462.3L1035.8 464.3L1036.0 466.3L1036.1 468.3L1036.2 470.3L1036.3 472.3L1036.5 474.3L1036.6 476.3L1036.7 478.3L1036.8 480.3L1037.0 482.3L1037.1 484.3L1037.2 486.3L1037.3 488.3L1037.4 490.2L1037.5 492.2L1037.6 494.2L1037.8 496.2L1037.9 498.2L1038.0 500.2L1038.1 502.2L1038.2 504.2L1038.3 506.2L1038.4 508.2L1038.5 510.2L1038.6 512.2L1038.7 514.2L1038.8 516.2L1038.9 518.2L1039.0 520.7L1039.1 522.7L1039.2 524.7L1039.3 526.7L1039.4 528.7L1039.5 530.7L1039.5 532.7L1039.6 534.7L1039.7 536.7L1039.8 538.7L1039.9 540.7L1040.0 542.7L1040.1 544.7L1040.2 546.7L1040.2 548.7L1040.3 550.7L1040.4 552.7L1040.5 554.7L1040.6 556.7L1040.7 558.7L1040.7 560.7L1040.8 562.7L1040.9 564.7L1041.0 566.7L1041.1 568.7L1041.1 570.7L1041.2 572.7L1041.3 574.7L1041.4 576.7L1041.5 578.7L1041.5 580.7L1041.6 582.7L1041.7 584.7L1041.8 586.7L1041.9 588.7L1041.9 590.7L1042.0 592.7L1042.1 594.7L1042.2 596.7L1042.2 598.7L1042.3 600.7L1042.4 602.7L1042.5 604.7L1042.6 606.7L1042.6 608.7L1042.7 610.7L1042.8 612.7L1042.9 614.7L1042.9 616.7L1043.0 618.7L1043.1 620.7L1043.2 622.7L1043.2 624.7L1043.3 626.7L1043.4 628.7L1043.5 630.7L1043.5 632.7L1043.6 634.7L1043.7 636.7L1043.8 638.7L1043.8 640.7L1043.9 642.7L1044.0 644.7L1044.1 646.7L1044.1 648.7L1044.2 650.7L1044.3 652.7L1044.4 654.7L1044.4 656.7L1044.5 658.7L1044.6 660.7L1044.7 662.7L1044.7 664.7L1044.8 666.7L1044.9 668.7L1045.0 670.7L1045.0 672.7L1045.1 674.7L1045.2 676.7L1045.3 678.7L1045.3 680.7L1045.4 682.7L1045.5 684.7L1045.6 686.7L1045.6 688.7L1045.7 690.7L1045.8 692.7L1045.9 694.7L1045.9 696.7L1046.0 698.7L1046.1 700.7L1046.2 702.7L1046.2 704.7L1046.3 706.7L1046.4 708.7L1046.4 710.7L1046.5 712.7L1046.6 714.7L1046.6 716.7L1046.7 718.7L1046.8 720.7L1046.8 722.7L1046.9 724.7L1046.9 726.7L1047.0 728.7L1047.1 730.7L1047.1 732.7L1047.2 734.7L1047.3 736.7L1047.3 738.7L1047.4 740.7L1047.5 742.7L1047.5 744.7L1047.6 746.7L1047.6 748.7L1047.7 750.7L1047.8 752.7L1047.8 754.7L1047.9 756.7L1047.9 758.7L1048.0 760.7L1048.1 762.7L1048.1 764.8L1048.2 766.8L1048.2 768.8L1048.3 770.8L1048.3 772.8L1048.4 774.8L1048.4 776.8L1048.5 778.8L1048.5 780.8L1048.6 782.8L1048.6 784.8L1048.7 786.8L1048.7 788.8L1048.8 790.8L1048.8 792.8L1048.9 794.8L1048.9 796.8L1048.9 798.8L1049.0 800.8L1049.0 802.8L1049.0 804.8L1049.1 806.8L1049.1 808.8L1049.2 810.8L1049.2 812.8L1049.2 814.8L1049.3 816.8L1049.3 818.8L1049.3 820.8L1049.3 822.8L1049.4 824.8L1049.4 826.8L1049.4 828.8L1049.5 830.8L1049.5 832.8L1049.5 834.8L1049.6 836.8L1049.6 838.8L1049.6 840.8L1049.6 842.8L1049.7 844.8L1049.7 846.8L1049.7 848.8L1049.8 850.8L1049.8 852.8L1049.8 854.8L1049.9 856.8L1049.9 858.8L1050.0 860.8L1050.0 862.8L1050.0 864.8L1050.1 866.8L1050.1 868.8L1050.2 870.8L1050.2 872.8L1050.3 874.8L1050.3 876.8L1050.4 878.8L1050.4 880.8L1050.5 882.8L1050.5 884.8L1050.6 886.8L1050.7 888.8L1050.7 890.8L1050.8 892.8L1050.9 894.8L1050.9 896.8L1051.0 898.8L1051.0 900.8L1051.1 902.8L1051.2 904.8L1051.2 906.8L1051.3 908.8L1051.3 910.8L1051.4 912.8L1051.5 914.8L1051.5 916.8L1051.6 918.8L1051.6 920.8L1051.7 922.8L1051.7 924.8L1051.7 926.8L1051.8 928.8L1051.8 930.8L1051.8 932.8L1051.9 934.8L1051.9 936.8L1051.9 938.8L1052.0 940.8L1052.0 942.8L1052.0 944.8L1052.1 946.8L1052.1 948.8L1052.1 950.8L1052.2 952.8L1052.2 954.8L1052.2 956.9L1052.3 958.9L1052.3 960.9L1052.3 962.9L1052.4 964.9L1052.4 966.9L1052.4 968.9L1052.4 970.9L1052.5 972.9L1052.5 974.9L1052.5 976.9L1052.5 978.9L1052.6 980.9L1052.6 982.9L1052.6 984.9L1052.6 986.9L1052.7 988.9L1052.7 990.9L1052.7 992.9L1052.7 994.9L1052.7 996.9L1052.8 998.9L1052.8 1000.9L1052.8 1002.9L1052.8 1004.9L1052.8 1006.9L1052.8 1008.9L1052.8 1010.9L1052.9 1012.9L1052.9 1014.9L1052.9 1016.9L1052.9 1018.9L1052.9 1020.9L1052.9 1022.9L1052.9 1020.9L1052.9 1018.9L1052.9 1016.9L1052.9 1014.9L1053.0 1012.9L1053.0 1010.9L1053.0 1008.9L1053.0 1006.9L1053.0 1004.9L1053.0 1002.9L1053.0 1000.9L1053.1 998.9L1053.1 996.9L1053.1 994.9L1053.1 992.9L1053.1 990.9L1053.1 988.9L1053.2 986.9L1053.2 984.9L1053.2 982.9L1053.2 980.9L1053.2 978.9L1053.3 976.9L1053.3 974.9L1053.3 972.8L1053.3 970.8L1053.3 968.8L1053.4 966.8L1053.4 964.8L1053.4 962.8L1053.4 960.8L1053.5 958.8L1053.5 956.8L1053.5 954.8L1053.5 952.8L1053.5 950.8L1053.6 948.8L1053.6 946.8L1053.6 944.8L1053.6 942.8L1053.7 940.8L1053.7 938.8L1053.7 936.8L1053.7 934.8L1053.8 932.8L1053.8 930.8L1053.8 928.8L1053.8 926.8L1053.9 924.8L1053.9 922.8L1053.9 920.8L1053.9 918.8L1054.0 916.8L1054.0 914.8L1054.0 912.8L1054.1 910.8L1054.1 908.8L1054.1 906.8L1054.1 904.8L1054.2 902.8L1054.2 900.8L1054.2 898.8L1054.3 896.8L1054.3 894.3L1054.3 892.3L1054.4 890.3L1054.4 888.3L1054.4 886.3L1054.5 884.3L1054.5 882.3L1054.6 880.3L1054.6 878.3L1054.6 876.3L1054.7 874.3L1054.7 872.3L1054.8 870.3L1054.8 868.2L1054.8 866.2L1054.9 864.2L1054.9 862.2L1055.0 860.2L1055.0 858.2L1055.1 856.2L1055.2 854.2L1055.2 852.2L1055.3 850.2L1055.3 848.2L1055.4 846.2L1055.4 844.2L1055.5 842.2L1055.6 840.2L1055.6 838.2L1055.7 836.2L1055.8 834.2L1055.9 832.2L1056.0 830.1L1056.0 828.1L1056.1 826.1L1056.2 824.1L1056.3 822.1L1056.4 820.1L1056.5 818.1L1056.7 816.1L1056.8 814.1L1056.9 812.2L1057.0 810.2L1057.2 808.2L1057.3 806.2L1057.5 804.2L1057.6 802.2L1057.8 800.1L1058.0 798.0L1058.3 795.7L1058.7 793.3L1059.0 790.8L1059.5 788.2L1059.9 785.8L1060.4 783.4L1060.9 781.2L1061.4 779.3L1061.9 777.7L1062.4 776.5L1062.9 775.8L1063.3 775.5L1063.7 775.6L1064.1 776.2L1064.5 777.0L1064.9 778.2L1065.3 779.7L1065.7 781.3L1066.1 783.2L1066.5 785.3L1066.8 787.5L1067.2 789.9L1067.6 792.4L1068.0 794.9L1068.3 797.5L1068.7 800.1L1069.0 802.7L1069.4 805.2L1069.7 807.7L1070.1 810.0L1070.4 812.3L1070.7 814.5L1071.0 816.6L1071.3 818.8L1071.6 821.1L1071.9 823.5L1072.2 826.0L1072.5 828.5L1072.8 831.1L1073.1 833.7L1073.3 836.3L1073.6 838.9L1073.9 841.5L1074.1 844.0L1074.4 846.5L1074.6 848.9L1074.9 851.1L1075.2 853.3L1075.4 855.3L1075.7 857.1L1076.0 858.8L1076.3 860.2L1076.6 861.4L1076.9 862.4L1077.2 863.1L1077.5 863.5L1077.8 863.7L1078.2 863.5L1078.5 863.1L1078.9 862.4L1079.3 861.4L1079.7 860.2L1080.1 858.7L1080.5 857.1L1080.9 855.3L1081.3 853.3L1081.7 851.2L1082.2 849.0L1082.6 846.7L1083.0 844.2L1083.5 841.7L1083.9 839.2L1084.3 836.6L1084.7 834.0L1085.2 831.4L1085.6 828.8L1086.0 826.3L1086.5 823.3L1086.8 820.9L1087.2 818.7L1087.6 816.5L1087.9 814.4L1088.2 812.4L1088.5 810.4L1088.8 808.5L1089.1 806.5L1089.4 804.5L1089.7 802.5L1090.0 800.5L1090.3 798.6L1090.6 796.6L1090.8 794.6L1091.1 792.6L1091.4 790.6L1091.6 788.6L1091.9 786.6L1092.1 784.7L1092.4 782.7L1092.7 780.7L1092.9 778.7L1093.2 776.7L1093.5 774.7L1093.7 772.7L1094.0 770.8L1094.3 768.8L1094.6 766.8L1094.9 764.8L1095.2 762.8L1095.5 760.9L1095.8 758.9L1096.1 756.9L1096.5 754.9L1096.8 753.0L1097.1 751.0L1097.4 749.0L1097.8 747.0L1098.1 745.0L1098.4 743.0L1098.8 741.1L1099.1 739.1L1099.5 737.1L1099.9 735.1L1100.3 733.2L1100.7 731.2L1101.1 729.3L1101.5 727.3L1102.0 725.4L1102.5 723.5L1103.0 721.5L1103.5 719.6L1104.1 717.7L1104.7 715.8L1105.3 713.9L1106.0 712.0L1106.7 710.2L1107.4 708.3L1108.1 706.4L1108.9 704.6L1109.7 702.7L1110.5 700.8L1111.4 699.0L1112.2 699.2L1113.0 699.7L1113.8 700.5L1114.6 701.5L1115.4 702.9L1116.2 704.6L1117.0 706.7L1117.8 709.0L1118.6 711.8L1119.4 714.8L1120.2 718.3L1121.0 722.1L1121.8 726.4L1122.6 731.1L1123.4 736.3L1124.2 742.1L1125.0 748.4L1125.8 755.3L1126.6 762.9L1127.4 771.3L1128.2 780.6L1129.0 790.9L1129.8 802.5L1130.6 815.4L1131.4 830.1L1132.2 847.0L1133.0 866.7L1133.8 890.2L1134.6 919.2L1135.4 956.8L1136.2 1010.1L1137.0 1101.4L1137.8 1112.8L1138.2 1112.8L1139.0 1008.3L1139.8 941.1L1140.6 897.0L1141.4 864.3L1142.2 838.4L1143.0 817.1L1143.8 799.0L1144.6 783.4L1145.4 769.8L1146.2 757.7L1147.0 747.0L1147.8 737.4L1148.6 728.8L1149.4 721.0L1150.2 714.0L1151.0 707.7L1151.8 702.0L1152.6 696.8L1153.4 692.2L1154.2 688.1L1155.0 684.4L1155.8 681.2L1156.6 678.4L1157.4 676.0L1158.2 673.9L1159.0 672.3L1159.8 670.9L1160.6 670.0L1161.4 669.4L1162.2 669.1L1163.0 669.2L1163.8 669.6L1164.6 670.4L1165.4 671.6L1166.2 673.0L1167.0 674.9L1167.8 677.1L1168.6 679.7L1169.4 682.8L1170.2 686.2L1171.0 690.1L1171.8 694.5L1172.6 699.3L1173.4 704.8L1174.2 710.8L1175.0 717.4L1175.8 724.8L1176.6 733.0L1177.4 742.1L1178.2 752.2L1179.0 763.6L1179.8 776.4L1180.6 790.9L1181.4 807.7L1182.2 827.3L1183.0 850.7L1183.8 879.6L1184.6 917.2L1185.4 970.4L1186.2 1061.7L1186.8 1248.0M1187.3 1248.0L1187.9 1053.0L1188.7 969.2L1189.5 918.6L1190.3 882.4L1191.1 854.3L1191.9 831.4L1192.7 812.3L1193.5 795.8L1194.3 781.5L1195.1 768.9L1195.9 757.8L1196.7 747.8L1197.5 738.8L1198.3 730.8L1199.1 723.5L1199.9 717.0L1200.7 711.1L1201.5 705.7L1202.3 701.0L1203.1 696.7L1203.9 692.9L1204.7 689.5L1205.5 686.6L1206.3 684.1L1207.1 681.9L1207.9 680.2L1208.7 678.8L1209.5 677.8L1210.3 677.1L1211.1 676.7L1211.9 676.8L1212.7 677.1L1213.5 677.9L1214.3 678.9L1215.1 680.4L1215.9 682.2L1216.7 684.4L1217.5 686.9L1218.3 689.9L1219.1 693.3L1219.9 697.2L1220.7 701.5L1221.5 706.4L1222.3 711.8L1223.1 717.8L1223.9 724.4L1224.7 731.7L1225.5 739.9L1226.3 749.0L1227.1 759.1L1227.9 770.4L1228.7 783.2L1229.5 797.7L1230.3 814.5L1231.1 834.1L1231.9 857.5L1232.7 886.4L1233.5 924.0L1234.3 977.2L1235.1 1068.5L1235.9 1108.0L1236.7 1079.7L1237.5 988.4L1238.3 935.2L1239.1 897.7L1239.9 868.8L1240.7 845.4L1241.5 825.8L1242.3 809.1L1243.1 794.6L1243.9 781.9L1244.7 770.6L1245.5 760.5L1246.3 751.5L1247.1 743.4L1247.9 736.1L1248.7 729.6L1249.5 723.7L1250.3 718.4L1251.1 713.6L1251.9 709.4L1252.7 705.6L1253.5 702.3L1254.3 699.5L1255.1 697.0L1255.9 695.0L1256.7 693.3L1257.5 692.0L1258.3 691.1L1259.1 690.6L1259.9 690.4L1260.7 690.6L1261.5 691.1L1262.3 692.0L1263.1 693.3L1263.9 695.0L1264.7 697.0L1265.5 699.5L1266.3 702.3L1267.1 705.6L1267.9 709.4L1268.7 713.6L1269.5 718.4L1270.3 723.7L1271.1 729.6L1271.9 736.1L1272.7 743.4L1273.5 751.5L1274.3 760.5L1275.1 770.6L1275.9 781.9L1276.7 794.6L1277.5 809.1L1278.3 825.8L1279.1 845.4L1279.9 868.8L1280.7 897.7L1281.5 935.2L1282.3 988.4L1283.1 1079.7L1283.9 1235.9L1284.6 1110.7L1285.4 1010.3L1286.2 954.2L1287.0 915.2L1287.8 885.4L1288.6 861.5L1289.4 841.5L1290.2 824.5L1291.0 809.7L1291.8 796.8L1292.6 785.3L1293.4 775.2L1294.2 766.0L1295.0 757.8L1295.8 750.5L1296.6 743.8L1297.4 737.8L1298.2 732.5L1299.0 727.7L1299.8 723.4L1300.6 719.6L1301.4 716.2L1302.2 713.3L1303.0 710.9L1303.8 708.8L1304.6 707.1L1305.4 705.8L1306.2 704.8L1307.0 704.3L1307.8 704.1L1308.6 704.2L1309.4 704.7L1310.2 705.6L1311.0 706.9L1311.8 708.5L1312.6 710.6L1313.4 713.0L1314.2 715.9L1315.0 719.1L1315.8 722.9L1316.6 727.1L1317.4 731.8L1318.2 737.1L1319.0 743.0L1319.8 749.6L1320.6 756.9L1321.4 765.0L1322.2 774.0L1323.0 784.0L1323.8 795.3L1324.6 808.0L1325.4 822.5L1326.2 839.2L1327.0 858.8L1327.8 882.2L1328.6 911.1L1329.4 948.6L1330.2 1001.8L1331.0 1093.1L1331.8 1130.0L1332.0 1130.0L1332.8 1072.8L1333.6 995.4L1334.4 947.2L1335.2 912.2L1336.0 884.9L1336.8 862.5L1337.6 843.7L1338.4 827.6L1339.2 813.5L1340.0 801.1L1340.8 790.1L1341.6 780.3L1342.4 771.4L1343.2 763.5L1344.0 756.3L1344.8 749.8L1345.6 744.0L1346.4 738.7L1347.2 734.0L1348.0 729.8L1348.8 726.0L1349.6 722.7L1350.4 719.8L1351.2 717.3L1352.0 715.2L1352.8 713.5L1353.6 712.1L1354.4 711.1L1355.2 710.5L1356.0 710.2L1356.8 710.2L1357.6 710.6L1358.4 711.3L1359.2 712.4L1360.0 713.9L1360.8 715.7L1361.6 717.9L1362.4 720.5L1363.2 723.5L1364.0 726.9L1364.8 730.8L1365.6 735.1L1366.4 740.0L1367.2 745.4L1368.0 751.4L1368.8 758.0L1369.6 765.4L1370.4 773.6L1371.2 782.6L1372.0 792.8L1372.8 804.1L1373.6 816.9L1374.4 831.4L1375.2 848.2L1376.0 867.8L1376.8 891.2L1377.6 920.1L1378.4 957.7L1379.2 1010.9L1380.0 1102.2L1380.6 1248.0M1381.0 1248.0L1381.4 1139.9L1382.2 1028.3L1383.0 968.9L1383.8 928.4L1384.6 897.7L1385.4 873.2L1386.2 852.8L1387.0 835.5L1387.8 820.5L1388.6 807.4L1389.4 795.9L1390.2 785.6L1391.0 776.4L1391.8 768.2L1392.6 760.8L1393.4 754.1L1394.2 748.1L1395.0 742.8L1395.8 738.0L1396.6 733.8L1397.4 730.0L1398.2 726.7L1399.0 723.9L1399.8 721.5L1400.6 719.5L1401.4 718.0L1402.2 716.8L1403.0 716.0L1403.8 715.5L1404.6 715.5L1405.4 715.8L1406.2 716.5L1407.0 717.6L1407.8 719.1L1408.6 721.0L1409.4 723.3L1410.2 726.0L1411.0 729.2L1411.8 732.8L1412.6 736.9L1413.4 741.5L1414.2 746.7L1415.0 752.6L1415.8 759.0L1416.6 766.2L1417.4 774.3L1418.2 783.2L1419.0 793.2L1419.8 804.4L1420.6 817.1L1421.4 831.6L1422.2 848.2L1423.0 867.8L1423.8 891.1L1424.6 920.0L1425.4 957.5L1426.2 1010.7L1427.0 1102.0L1427.8 1140.0L1427.8 1140.0L1428.6 1117.5L1429.4 1026.2L1430.2 972.9L1431.0 935.4L1431.8 906.4L1432.6 883.0L1433.4 863.4L1434.2 846.6L1435.0 832.0L1435.8 819.2L1436.6 807.9L1437.4 797.7L1438.2 788.6L1439.0 780.4L1439.8 773.0L1440.6 766.3L1441.4 760.2L1442.2 754.8L1443.0 749.9L1443.8 745.5L1444.6 741.5L1445.4 738.0L1446.2 735.0L1447.0 732.3L1447.8 730.0L1448.6 728.1L1449.4 726.5L1450.2 725.3L1451.0 724.5L1451.8 724.0L1452.6 723.8L1453.4 724.0L1454.2 724.5L1455.0 725.3L1455.8 726.5L1456.6 728.1L1457.4 730.0L1458.2 732.3L1459.0 735.0L1459.8 738.0L1460.6 741.5L1461.4 745.5L1462.2 749.9L1463.0 754.8L1463.8 760.2L1464.6 766.3L1465.4 773.0L1466.2 780.4L1467.0 788.6L1467.8 797.7L1468.6 807.9L1469.4 819.2L1470.2 832.0L1471.0 846.6L1471.8 863.4L1472.6 883.0L1473.4 906.4L1474.2 935.4L1475.0 972.9L1475.8 1026.2L1476.6 1117.5L1477.4 1222.0L1477.7 1222.0L1478.5 1072.8L1479.3 1000.9L1480.1 954.9L1480.9 921.1L1481.7 894.6L1482.5 872.8L1483.3 854.4L1484.1 838.6L1484.9 824.8L1485.7 812.7L1486.5 801.9L1487.3 792.3L1488.1 783.7L1488.9 775.9L1489.7 769.0L1490.5 762.7L1491.3 757.1L1492.1 752.1L1492.9 747.6L1493.7 743.6L1494.5 740.1L1495.3 737.0L1496.1 734.4L1496.9 732.1L1497.7 730.3L1498.5 728.9L1499.3 727.8L1500.1 727.2L1500.9 726.9L1501.7 726.9L1502.5 727.4L1503.3 728.2L1504.1 729.4L1504.9 731.0L1505.7 732.9L1506.5 735.3L1507.3 738.1L1508.1 741.3L1508.9 745.0L1509.7 749.2L1510.5 753.9L1511.3 759.1L1512.1 765.0L1512.9 771.5L1513.7 778.8L1514.5 786.8L1515.3 795.8L1516.1 805.8L1516.9 817.1L1517.7 829.8L1518.5 844.3L1519.3 861.0L1520.1 880.5L1520.9 903.9L1521.7 932.8L1522.5 970.3L1523.3 1023.5L1524.1 1114.8L1524.7 1248.0M1525.1 1248.0L1525.3 1213.3L1526.1 1068.4L1526.9 1001.2L1527.7 957.2L1528.5 924.5L1529.3 898.6L1530.1 877.3L1530.9 859.2L1531.7 843.7L1532.5 830.1L1533.3 818.1L1534.1 807.4L1534.9 797.8L1535.7 789.3L1536.5 781.6L1537.3 774.6L1538.1 768.4L1538.9 762.7L1539.7 757.7L1540.5 753.1L1541.3 749.1L1542.1 745.5L1542.9 742.4L1543.7 739.7L1544.5 737.4L1545.3 735.5L1546.1 733.9L1546.9 732.8L1547.7 732.0L1548.5 731.5L1549.3 731.4L1550.1 731.7L1550.9 732.3L1551.7 733.3L1552.5 734.7L1553.3 736.4L1554.1 738.5L1554.9 741.0L1555.7 743.9L1556.5 747.3L1557.3 751.1L1558.1 755.3L1558.9 760.1L1559.7 765.5L1560.5 771.4L1561.3 778.0L1562.1 785.3L1562.9 793.5L1563.7 802.5L1564.5 812.6L1565.3 823.9L1566.1 836.6L1566.9 851.2L1567.7 867.9L1568.5 887.5L1569.3 910.9L1570.1 939.8L1570.9 977.3L1571.7 1030.5L1572.5 1121.8L1573.3 1136.0L1573.8 1136.0L1574.6 1062.7L1575.4 999.6L1576.2 957.4L1577.0 925.8L1577.8 900.5L1578.6 879.7L1579.4 862.0L1580.2 846.7L1581.0 833.3L1581.8 821.5L1582.6 810.9L1583.4 801.5L1584.2 793.1L1585.0 785.4L1585.8 778.6L1586.6 772.4L1587.4 766.8L1588.2 761.8L1589.0 757.3L1589.8 753.3L1590.6 749.8L1591.4 746.7L1592.2 744.1L1593.0 741.8L1593.8 739.9L1594.6 738.4L1595.4 737.3L1596.2 736.5L1597.0 736.1L1597.8 736.0L1598.6 736.3L1599.4 736.9L1600.2 737.9L1601.0 739.3L1601.8 741.0L1602.6 743.2L1603.4 745.7L1604.2 748.6L1605.0 752.0L1605.8 755.8L1606.6 760.1L1607.4 764.9L1608.2 770.2L1609.0 776.2L1609.8 782.8L1610.6 790.1L1611.4 798.2L1612.2 807.3L1613.0 817.4L1613.8 828.7L1614.6 841.5L1615.4 856.0L1616.2 872.7L1617.0 892.3L1617.8 915.7L1618.6 944.6L1619.4 982.1L1620.2 1035.4L1621.0 1126.7L1621.6 1248.0M1622.0 1248.0L1622.6 1125.3L1623.4 1034.0L1624.2 980.8L1625.0 943.3L1625.8 914.3L1626.6 891.0L1627.4 871.4L1628.2 854.7L1629.0 840.2L1629.8 827.4L1630.6 816.2L1631.4 806.1L1632.2 797.1L1633.0 789.0L1633.8 781.7L1634.6 775.1L1635.4 769.2L1636.2 763.9L1637.0 759.2L1637.8 755.0L1638.6 751.2L1639.4 747.9L1640.2 745.0L1641.0 742.6L1641.8 740.5L1642.6 738.9L1643.4 737.6L1644.2 736.7L1645.0 736.2L1645.8 736.0L1646.6 736.2L1647.4 736.7L1648.2 737.6L1649.0 738.9L1649.8 740.5L1650.6 742.6L1651.4 745.0L1652.2 747.9L1653.0 751.2L1653.8 755.0L1654.6 759.2L1655.4 763.9L1656.2 769.2L1657.0 775.1L1657.8 781.7L1658.6 789.0L1659.4 797.1L1660.2 806.1L1661.0 816.2L1661.8 827.4L1662.6 840.2L1663.4 854.7L1664.2 871.4L1665.0 891.0L1665.8 914.3L1666.6 943.3L1667.4 980.8L1668.2 1034.0L1669.0 1125.3L1669.6 1248.0M1670.0 1248.0L1670.4 1166.4L1671.2 1054.7L1672.0 995.3L1672.8 954.8L1673.6 924.1L1674.4 899.5L1675.2 879.1L1676.0 861.7L1676.8 846.7L1677.6 833.5L1678.4 821.8L1679.2 811.5L1680.0 802.2L1680.8 793.8L1681.6 786.3L1682.4 779.5L1683.2 773.4L1684.0 767.9L1684.8 762.9L1685.6 758.5L1686.4 754.6L1687.2 751.1L1688.0 748.0L1688.8 745.4L1689.6 743.2L1690.4 741.3L1691.2 739.8L1692.0 738.7L1692.8 738.0L1693.6 737.6L1694.4 737.5L1695.2 737.8L1696.0 738.5L1696.8 739.5L1697.6 740.9L1698.4 742.7L1699.2 744.8L1700.0 747.3L1700.8 750.3L1701.6 753.6L1702.4 757.5L1703.2 761.8L1704.0 766.6L1704.8 772.0L1705.6 777.9L1706.4 784.5L1707.2 791.9L1708.0 800.0L1708.8 809.0L1709.6 819.1L1710.4 830.5L1711.2 843.2L1712.0 857.8L1712.8 874.5L1713.6 894.1L1714.4 917.5L1715.2 946.4L1716.0 983.9L1716.8 1037.2L1717.6 1128.5L1718.4 1135.0" stroke="#000" stroke-width="10.0" stroke-dasharray="30 27"/>
<path d="M178.3 817.0L178.9 815.1L179.6 813.2L180.2 811.3L180.8 809.4L181.5 807.5L182.1 805.6L182.8 803.7L183.4 801.8L184.1 799.8L184.7 797.9L185.4 796.1L186.2 794.2L187.0 792.3L187.8 790.5L188.7 788.7L189.8 787.0L191.0 785.4L192.4 784.0L193.9 782.9L195.6 782.2L197.3 782.1L198.8 782.5L199.9 783.4L200.7 784.7L201.2 786.5L201.7 788.6L202.1 790.8L202.4 793.1L202.7 795.4L203.1 797.5L203.4 799.5L203.7 801.5L204.0 803.5L204.3 805.5L204.6 807.5L204.8 809.5L205.1 811.5L205.3 813.5L205.6 815.5L205.8 817.5L206.1 819.5L206.3 821.5L206.6 823.5L206.8 825.5L207.1 827.4L207.3 829.4L207.6 831.4L207.8 833.4L208.1 835.4L208.3 837.4L208.6 839.9L208.9 841.9L209.1 843.9L209.3 845.9L209.6 847.9L209.8 849.9L210.0 851.9L210.2 853.9L210.4 855.9L210.7 857.9L210.9 859.9L211.1 861.9L211.3 863.9L211.5 865.9L211.6 867.9L211.8 869.9L212.0 871.9L212.2 873.9L212.3 875.9L212.5 877.9L212.7 879.9L212.8 881.9L213.0 883.9L213.1 885.9L213.3 887.9L213.5 889.9L213.6 891.9L213.8 893.9L213.9 895.9L214.1 897.9L214.2 899.9L214.3 901.9L214.5 903.9L214.6 905.9L214.8 907.9L214.9 909.9L215.0 911.9L215.1 913.9L215.3 915.9L215.4 917.9L215.5 919.9L215.6 921.9L215.7 923.9L215.8 925.9L215.9 928.0L216.0 930.0L216.1 932.0L216.2 934.0L216.3 936.0L216.4 938.0L216.5 940.0L216.6 938.0L216.7 936.0L216.9 934.0L217.0 932.0L217.1 930.0L217.2 928.0L217.4 926.0L217.5 924.0L217.6 922.0L217.7 920.0L217.8 918.0L218.0 916.0L218.1 914.0L218.2 912.0L218.3 910.0L218.4 908.0L218.5 906.0L218.7 904.0L218.8 902.0L218.9 900.0L219.0 898.0L219.1 896.0L219.2 894.0L219.3 892.0L219.5 890.0L219.6 888.0L219.7 886.0L219.8 884.0L219.9 882.0L220.0 880.0L220.1 878.0L220.2 876.0L220.3 874.0L220.4 872.0L220.5 870.0L220.6 868.0L220.8 866.0L220.9 864.0L221.0 862.0L221.1 860.0L221.2 858.0L221.3 856.0L221.4 854.0L221.5 852.0L221.6 850.0L221.7 848.0L221.8 846.0L221.9 844.0L222.0 842.0L222.1 840.0L222.2 838.0L222.2 836.0L222.3 834.0L222.4 832.0L222.5 830.0L222.6 828.0L222.7 826.0L222.7 824.0L222.8 822.0L222.9 820.0L222.9 818.0L223.0 816.0L223.1 814.0L223.1 812.0L223.2 810.0L223.2 808.0L223.3 806.0L223.3 804.0L223.4 802.0L223.4 800.0L223.5 798.0L223.6 796.0L223.6 794.0L223.7 792.0L223.7 790.0L223.8 787.9L223.8 785.9L223.9 783.9L224.0 781.9L224.0 779.9L224.1 777.9L224.2 775.9L224.2 773.9L224.3 771.9L224.4 769.9L224.5 767.9L224.6 765.9L224.7 763.9L224.8 761.9L224.9 759.9L225.0 757.9L225.1 756.0L225.2 754.0L225.4 752.0L225.5 750.0L225.7 748.0L225.9 746.0L226.1 744.0L226.3 742.0L226.5 740.0L226.7 738.0L226.9 736.0L227.2 734.0L227.4 732.0L227.6 730.0L227.9 728.0L228.1 726.1L228.3 724.1L228.6 722.1L228.8 720.1L229.0 718.1L229.3 716.1L229.5 714.1L229.7 712.1L230.0 710.1L230.2 708.1L230.4 706.2L230.7 704.2L230.9 702.2L231.2 700.2L231.5 698.2L231.7 696.2L232.0 694.2L232.3 692.2L232.6 690.3L232.9 688.3L233.2 686.3L233.5 684.3L233.8 682.4L234.2 680.4L234.5 678.4L234.9 676.5L235.3 674.5L235.7 672.5L236.1 670.6L236.6 668.6L237.0 666.7L237.5 664.7L238.0 662.8L238.5 660.8L239.0 658.9L239.5 656.9L240.1 654.9L240.6 652.9L241.2 650.9L241.8 649.0L242.5 647.1L243.2 645.3L244.1 643.6L245.2 641.9L246.4 640.2L247.8 638.8L249.3 637.6L250.9 637.1L252.4 637.3L253.8 638.1L255.1 639.5L256.3 641.2L257.3 643.1L258.2 644.9L258.9 646.7L259.6 648.6L260.2 650.5L260.7 652.5L261.2 654.5L261.7 656.4L262.3 658.4L262.8 660.4L263.3 662.3L263.9 664.2L264.4 666.2L264.9 668.1L265.4 670.0L266.0 672.0L266.5 673.9L267.0 675.8L267.5 677.8L268.1 679.7L268.6 681.6L269.1 683.6L269.7 685.5L270.2 687.4L270.7 689.3L271.3 691.3L271.8 693.2L272.4 695.1L272.9 697.0L273.5 699.0L274.0 700.9L274.6 702.8L275.2 704.7L275.7 706.7L276.3 708.6L276.9 710.5L277.5 712.4L278.0 714.3L278.6 716.2L279.2 718.2L279.8 720.1L280.4 722.0L281.0 723.9L281.7 725.8L282.3 727.7L282.9 729.6L283.9 727.8L285.0 726.1L286.0 724.3L287.0 722.5L287.9 720.7L288.8 718.9L289.6 717.1L290.4 715.3L291.1 713.5L291.8 711.6L292.4 709.7L292.9 707.8L293.4 705.9L293.9 704.0L294.3 702.1L294.7 700.1L295.1 698.2L295.5 696.2L295.8 694.2L296.2 692.2L296.5 690.2L296.8 688.2L297.1 686.2L297.5 684.2L297.8 682.3L298.2 680.3L298.5 678.3L298.9 676.3L299.2 674.4L299.6 672.4L299.9 670.4L300.3 668.4L300.6 666.5L301.0 664.5L301.3 662.5L301.7 660.6L302.0 658.6L302.4 656.6L302.7 654.6L303.1 652.7L303.4 650.7L303.8 648.7L304.2 646.8L304.6 644.8L304.9 642.8L305.3 640.9L305.7 638.9L306.1 637.0L306.6 635.0L307.0 633.0L307.4 631.1L307.9 629.1L308.4 627.2L308.8 625.2L309.3 623.3L309.8 621.3L310.2 619.4L310.7 617.5L311.2 615.5L311.6 613.6L312.1 611.6L312.5 609.7L313.0 607.7L313.4 605.8L313.9 603.8L314.3 601.8L314.7 599.9L315.1 597.9L315.5 596.0L315.9 594.0L316.2 592.0L316.6 590.0L316.9 588.1L317.3 586.1L317.6 584.1L318.0 582.1L318.3 580.2L318.6 578.2L319.0 576.2L319.3 574.2L319.7 572.3L320.1 570.3L320.5 568.3L320.9 566.4L321.3 564.4L321.7 562.5L322.2 560.5L322.6 558.6L323.1 556.7L323.7 554.8L324.2 552.8L324.8 550.9L325.4 549.0L326.1 547.1L326.7 545.2L327.4 543.3L328.0 541.4L328.7 539.6L329.4 537.7L330.1 535.8L330.7 533.9L331.4 532.0L332.1 530.1L332.7 528.2L333.3 526.3L333.9 524.4L334.5 522.5L335.1 520.5L335.7 518.6L336.2 516.7L336.7 514.8L337.2 512.8L337.8 510.9L338.3 509.0L338.8 507.0L339.4 505.1L339.9 503.2L340.5 501.3L341.1 499.3L341.6 497.4L342.2 495.5L342.8 493.6L343.4 491.7L344.0 489.8L344.7 487.9L345.3 486.0L346.0 484.1L346.8 482.3L347.5 480.4L348.2 478.5L349.0 476.7L349.7 474.8L350.5 473.0L351.2 471.1L352.0 469.3L352.7 467.4L353.5 465.5L354.2 463.7L355.0 461.8L355.7 460.0L356.5 458.1L357.3 456.3L358.0 454.4L358.8 452.6L359.6 450.7L360.4 448.9L361.2 447.1L362.0 445.2L362.8 443.4L363.6 441.6L364.5 439.7L365.3 437.9L366.1 436.1L367.0 434.3L367.8 432.5L368.6 430.6L369.5 428.8L370.4 427.0L371.2 425.2L372.1 423.4L373.0 421.6L373.8 419.8L374.7 418.0L375.6 416.2L376.5 414.4L377.4 412.7L378.3 410.9L379.3 409.1L380.2 407.3L381.1 405.5L382.0 403.7L383.0 401.9L383.9 400.2L384.9 398.4L385.9 396.7L386.9 394.9L387.9 393.2L388.9 391.5L390.0 389.9L391.1 388.2L392.3 386.5L393.4 384.9L394.6 383.2L395.8 381.6L397.1 380.0L398.4 378.5L399.8 377.0L401.2 375.6L402.6 374.3L404.2 373.1L405.8 372.0L407.6 371.0L409.4 370.1L411.2 369.4L413.2 368.9L415.1 368.5L417.1 368.2L419.1 368.2L421.1 368.4L423.0 368.7L425.0 369.2L426.8 369.9L428.7 370.7L430.4 371.6L432.1 372.7L433.7 373.9L435.2 375.2L436.6 376.6L437.9 378.0L439.2 379.5L440.5 381.1L441.7 382.7L442.9 384.3L444.2 386.0L445.4 387.6L446.6 389.2L447.8 390.8L449.0 392.4L450.3 393.9L451.5 395.5L452.7 397.1L453.9 398.7L455.1 400.3L456.3 401.9L457.6 403.5L458.8 405.1L460.0 406.6L461.3 408.2L462.5 409.8L463.8 411.4L465.0 412.9L466.3 414.4L467.6 416.0L468.9 417.5L470.2 419.0L471.6 420.5L472.9 422.0L474.2 423.5L475.6 424.9L476.9 426.4L478.2 428.0L479.5 429.5L480.8 431.0L482.1 432.6L483.3 434.1L484.6 435.7L485.8 437.3L487.1 438.9L488.3 440.5L489.5 442.1L490.6 443.7L491.8 445.3L492.9 447.0L494.0 448.7L495.0 450.4L496.1 452.1L497.1 453.8L498.1 455.5L499.0 457.3L500.0 459.1L500.9 460.9L501.8 462.7L502.6 464.5L503.4 466.3L504.2 468.1L505.0 470.0L505.7 471.8L506.4 473.7L507.1 475.6L507.8 477.5L508.5 479.3L509.2 481.2L509.8 483.1L510.5 485.0L511.1 486.9L511.8 488.8L512.4 490.7L513.0 492.6L513.6 494.5L514.2 496.4L514.8 498.4L515.4 500.3L516.0 502.2L516.6 504.1L517.2 506.0L517.8 507.9L518.3 509.8L518.9 511.8L519.5 513.7L520.1 515.6L520.7 517.5L521.4 519.4L522.0 521.3L522.6 523.2L523.2 525.1L523.8 527.0L524.5 528.9L525.1 530.8L525.7 532.7L526.3 534.6L527.0 536.5L527.6 538.4L528.2 540.3L528.9 542.2L529.5 544.1L530.1 546.0L530.8 547.9L531.4 549.8L532.1 551.7L532.7 553.6L533.3 555.5L534.0 557.4L534.6 559.3L535.3 561.2L536.0 563.1L536.6 565.0L537.3 566.9L537.9 568.7L538.6 570.6L539.3 572.5L539.9 574.4L540.6 576.3L541.3 578.2L542.0 580.1L542.6 582.0L543.3 583.8L544.0 585.7L544.6 587.6L545.3 589.5L546.0 591.4L546.7 593.3L547.3 595.2L548.0 597.1L548.7 598.9L549.3 600.8L550.0 602.7L550.7 604.6L551.4 606.5L552.1 608.4L552.8 610.2L553.6 612.1L554.3 613.9L555.1 615.8L555.8 617.6L556.7 619.5L557.5 621.3L558.4 623.1L559.3 624.9L560.3 626.6L561.2 628.4L562.2 630.2L563.2 632.0L564.1 633.7L565.1 635.5L566.0 637.3L566.9 639.1L567.7 640.9L568.5 642.7L569.2 644.6L569.9 646.4L570.5 648.3L571.1 650.2L571.6 652.0L572.2 653.9L572.7 655.9L573.2 657.8L573.7 659.7L574.2 661.6L574.6 663.6L575.1 665.5L575.5 667.5L575.9 669.5L576.3 671.4L576.7 673.4L577.1 675.4L577.5 677.3L577.9 679.3L578.3 681.3L578.7 683.3L579.1 685.3L579.4 687.3L579.8 689.3L580.2 691.2L580.5 693.2L580.9 695.2L581.3 697.2L581.7 699.1L582.1 701.1L582.5 703.1L582.9 705.0L583.2 707.0L583.6 709.0L584.0 710.9L584.4 712.9L584.8 714.9L585.2 716.8L585.6 718.8L585.9 720.8L586.3 722.7L586.7 724.7L587.1 726.7L587.4 728.6L587.8 730.6L588.2 732.6L588.5 734.5L588.9 736.5L589.3 738.5L589.6 740.4L590.0 742.4L590.3 744.4L590.7 746.4L591.0 748.3L591.4 750.3L591.7 752.3L592.2 750.3L592.8 748.4L593.3 746.4L593.8 744.5L594.3 742.6L594.8 740.6L595.3 738.7L595.8 736.7L596.3 734.8L596.7 732.8L597.2 730.8L597.7 728.9L598.1 726.9L598.6 725.0L599.0 723.0L599.5 721.1L599.9 719.1L600.3 717.1L600.7 715.2L601.1 713.2L601.5 711.3L601.9 709.3L602.3 707.3L602.7 705.4L603.1 703.4L603.4 701.4L603.8 698.9L604.1 697.0L604.4 695.0L604.7 693.0L605.0 691.0L605.3 689.0L605.6 687.0L605.8 685.0L606.1 683.0L606.4 681.0L606.6 679.0L606.9 677.0L607.1 675.0L607.4 673.0L607.6 671.0L607.9 669.0L608.2 667.0L608.4 665.0L608.7 663.0L609.0 661.0L609.3 659.1L609.6 657.1L610.0 655.1L610.3 653.2L610.7 651.2L611.1 649.2L611.5 647.2L611.9 645.2L612.3 643.1L612.8 640.9L613.3 638.6L613.8 636.2L614.3 633.8L614.8 631.3L615.4 628.8L616.0 626.3L616.6 623.8L617.2 621.4L617.8 619.0L618.5 616.7L619.2 614.5L619.9 612.4L620.6 610.5L621.4 608.7L622.2 607.1L623.0 605.7L623.8 604.5L624.6 603.6L625.5 602.9L626.4 602.5L627.4 602.5L628.8 603.0L630.1 603.8L631.5 605.0L633.0 606.4L634.6 608.1L636.1 609.9L637.5 611.9L638.8 613.8L639.9 615.7L640.9 617.6L641.7 619.4L642.4 621.1L643.0 622.9L643.6 624.7L644.3 626.5L644.8 628.4L645.4 630.3L645.9 632.2L646.4 634.2L646.8 636.2L647.2 638.2L647.5 640.2L647.8 642.3L648.0 644.4L648.2 646.6L648.3 648.8L648.4 650.9L648.9 649.0L649.3 647.0L649.8 645.1L650.2 643.1L650.6 641.1L651.0 639.2L651.4 637.2L651.8 635.2L652.2 633.3L652.6 631.3L652.9 629.3L653.2 627.4L653.5 625.4L653.8 623.4L654.1 621.4L654.4 619.5L654.6 617.5L654.8 615.5L655.0 613.5L655.2 611.5L655.4 609.5L655.6 607.5L655.7 605.5L655.9 603.5L656.0 601.5L656.2 599.5L656.3 597.5L656.5 595.5L656.6 593.5L656.7 591.5L656.9 589.5L657.0 587.5L657.2 585.5L657.3 583.5L657.5 581.5L657.6 579.5L657.8 577.5L658.0 575.5L658.1 573.6L658.3 571.6L658.5 569.6L658.7 567.6L658.8 565.6L659.0 563.6L659.2 561.6L659.4 559.6L659.6 557.6L659.8 555.6L660.0 553.6L660.2 551.6L660.4 549.6L660.6 547.6L660.8 545.6L661.1 543.7L661.3 541.7L661.5 539.7L661.8 537.7L662.1 535.7L662.3 533.7L662.6 531.7L662.9 529.8L663.2 527.8L663.5 525.8L663.8 523.8L664.1 521.8L664.4 519.9L664.7 517.9L665.0 515.9L665.4 513.9L665.7 511.9L666.0 510.0L666.4 508.0L666.7 506.0L667.1 504.1L667.5 502.1L667.8 500.1L668.2 498.1L668.6 496.2L669.0 494.2L669.3 492.2L669.7 490.3L670.1 488.3L670.5 486.4L670.9 484.4L671.3 482.4L671.7 480.5L672.1 478.5L672.6 476.5L673.0 474.6L673.4 472.6L673.9 470.6L674.4 468.7L674.9 466.7L675.4 464.8L675.9 462.9L676.4 461.0L677.0 459.1L677.6 457.1L678.2 455.2L678.8 453.3L679.5 451.4L680.2 449.4L680.9 447.5L681.7 445.5L682.4 443.6L683.3 441.8L684.2 440.0L685.1 438.2L686.1 436.5L687.1 434.9L688.3 433.4L689.5 431.8L691.0 430.3L692.5 428.8L694.2 427.4L695.9 426.4L697.6 425.7L699.3 425.4L701.1 425.5L702.9 426.1L704.6 427.0L706.4 428.2L708.1 429.4L709.6 430.8L711.0 432.2L712.2 433.6L713.4 435.1L714.5 436.7L715.6 438.3L716.6 440.1L717.5 441.9L718.5 443.8L719.4 445.6L720.2 447.6L721.0 449.5L721.8 451.4L722.5 453.3L723.2 455.2L723.9 457.1L724.5 459.0L725.2 460.9L725.7 462.8L726.3 464.7L726.9 466.6L727.4 468.6L727.9 470.5L728.4 472.5L728.9 474.4L729.3 476.4L729.9 478.8L730.4 480.8L730.8 482.8L731.3 484.7L731.7 486.7L732.2 488.6L732.6 490.6L733.1 492.5L733.5 494.5L734.0 496.4L734.4 498.4L734.9 500.3L735.3 502.3L735.8 504.3L736.2 506.2L736.6 508.2L737.0 510.1L737.4 512.1L737.8 514.1L738.2 516.0L738.5 518.0L738.9 520.0L739.2 522.0L739.5 523.9L739.8 525.9L740.1 527.9L740.4 529.9L740.6 531.8L740.8 533.8L741.1 535.8L741.3 537.8L741.5 539.8L741.7 541.8L741.8 543.8L742.0 545.8L742.2 547.8L742.4 549.8L742.6 551.8L742.8 553.8L743.0 555.8L743.2 557.8L743.4 559.8L743.6 561.7L743.8 563.7L744.0 565.7L744.2 567.7L744.5 569.7L744.7 571.7L744.9 573.7L745.1 575.7L745.4 577.7L745.6 579.7L745.8 581.6L746.0 583.6L746.3 585.6L746.5 587.6L746.7 589.6L746.9 591.6L747.1 593.6L747.4 595.6L747.6 597.6L747.8 599.6L748.0 601.6L748.2 603.5L748.4 605.5L748.6 607.5L748.9 609.5L749.1 611.5L749.3 613.5L749.5 615.5L749.7 617.5L749.9 619.5L750.1 621.5L750.3 623.5L750.5 625.5L750.7 627.4L750.9 629.4L751.1 631.4L751.3 633.4L751.5 635.4L751.6 637.4L751.8 639.4L751.9 641.4L752.1 643.4L752.2 645.4L752.4 647.4L752.5 649.4L752.6 651.4L752.7 653.4L752.9 655.4L753.0 657.4L753.1 659.4L753.2 661.4L753.3 663.4L753.4 665.4L753.6 667.4L753.7 669.4L753.8 671.4L753.9 673.4L754.1 675.4L754.2 677.4L754.3 679.4L754.5 681.4L754.6 683.4L754.7 685.4L754.9 687.4L755.0 689.4L755.1 691.4L755.3 693.4L755.4 695.4L755.6 697.4L755.7 699.4L755.9 701.4L756.0 703.4L756.2 705.4L756.3 707.3L756.5 709.3L756.7 711.3L756.9 713.3L757.0 715.3L757.2 717.3L757.4 719.3L757.6 721.3L757.9 723.3L758.1 725.3L758.3 727.3L758.6 729.3L758.8 731.2L759.1 733.2L759.3 735.2L759.6 737.2L759.8 739.2L760.0 741.2L760.3 743.2L760.5 745.2L760.8 747.2L761.0 749.1L761.2 751.1L761.4 753.1L761.7 755.1L761.9 757.1L762.1 759.1L762.4 761.1L762.6 763.1L762.8 765.1L763.1 767.0L763.3 769.0L763.5 771.0L763.8 773.0L764.0 775.0L764.2 773.0L764.4 771.0L764.6 769.0L764.8 767.0L765.0 765.0L765.2 763.0L765.4 761.0L765.6 759.0L765.9 757.0L766.1 755.0L766.4 753.1L766.6 751.1L766.9 749.1L767.2 747.1L767.5 745.1L767.9 743.1L768.2 741.1L768.5 739.2L768.8 737.2L769.1 735.2L769.4 733.2L769.6 731.2L769.9 729.2L770.1 727.2L770.3 725.2L770.5 723.2L770.7 721.2L770.8 719.2L771.0 717.2L771.2 715.2L771.4 713.2L771.6 711.2L771.7 709.2L771.9 707.2L772.1 705.2L772.3 703.2L772.5 701.2L772.7 699.2L772.9 697.2L773.1 695.2L773.3 693.2L773.5 691.2L773.7 689.2L773.9 687.2L774.1 685.2L774.4 683.2L774.6 681.3L774.9 679.3L775.2 677.3L775.5 675.3L775.9 673.3L776.3 671.3L776.8 669.3L777.3 667.3L777.9 665.4L778.5 663.5L779.1 662.2L780.1 660.4L781.3 658.8L782.7 657.4L784.2 656.5L785.8 656.2L787.3 656.7L788.8 657.8L790.2 659.3L791.3 660.9L792.2 662.7L793.0 664.5L793.7 666.4L794.2 668.3L794.7 670.3L795.2 672.3L795.6 674.3L796.1 676.3L796.5 678.3L796.8 680.2L797.2 682.2L797.5 684.2L797.8 686.2L798.1 688.2L798.4 690.2L798.7 692.1L799.0 694.1L799.2 696.1L799.5 698.1L799.8 700.1L800.2 702.1L800.5 704.1L800.8 706.1L801.1 708.1L801.4 710.0L801.7 712.0L802.1 714.0L802.4 716.0L802.7 718.0L803.0 720.0L803.4 722.0L803.8 723.9L804.2 725.9L804.6 727.8L805.0 729.8L805.5 731.7L806.0 733.6L806.6 735.5L807.2 737.4L807.9 739.3L808.6 741.2L809.4 743.1L810.1 744.9L811.0 746.8L811.8 748.6L812.7 750.4L813.5 752.3L814.6 748.7L815.6 745.2L816.6 741.9L817.6 738.8L818.6 735.9L819.5 733.3L820.5 730.8L821.4 728.5L822.3 726.4L823.1 724.5L824.0 722.8L824.8 721.2L825.6 719.9L826.3 718.7L827.1 717.7L827.8 716.9L828.5 716.3L829.1 715.8L829.7 715.5L830.3 715.4L830.9 715.6L831.4 716.1L832.0 716.9L832.5 718.1L833.0 719.5L833.5 721.3L834.0 723.2L834.4 725.4L834.9 727.7L835.3 730.1L835.7 732.6L836.1 735.2L836.5 737.7L836.8 740.3L837.2 742.8L837.4 745.1L837.7 747.4L837.9 749.6L838.2 751.6L838.4 753.6L838.6 755.6L838.8 757.6L838.9 759.6L839.1 761.6L839.3 763.6L839.5 765.6L839.6 767.6L839.8 769.6L839.9 771.6L840.1 773.6L840.2 775.6L840.4 777.6L840.5 779.6L840.6 781.6L840.7 783.6L840.9 785.6L841.0 787.6L841.1 789.6L841.2 791.6L841.3 793.6L841.4 795.7L841.5 797.7L841.6 799.7L841.7 801.7L841.8 803.7L841.8 805.7L841.9 807.7L842.0 809.7L842.1 811.7L842.1 813.7L842.2 815.7L842.3 817.7L842.3 819.7L842.4 821.7L842.4 823.7L842.5 825.7L842.6 827.7L842.6 829.7L842.7 831.7L842.7 833.7L842.8 835.7L842.8 837.7L842.9 839.7L842.9 841.8L843.0 843.8L843.0 845.8L843.0 847.8L843.1 849.8L843.1 851.8L843.2 853.8L843.2 855.8L843.2 857.8L843.3 859.8L843.3 861.8L843.4 863.8L843.4 865.8L843.5 867.8L843.5 869.8L843.5 871.8L843.6 873.8L843.6 875.8L843.7 877.8L843.7 879.8L843.7 881.8L843.8 883.8L843.8 885.8L843.9 887.9L843.9 889.9L843.9 891.9L844.0 893.9L844.0 895.9L844.1 897.9L844.1 899.9L844.1 901.9L844.2 903.9L844.2 905.9L844.2 907.9L844.3 909.9L844.3 911.9L844.3 913.9L844.4 915.9L844.4 917.9L844.5 919.9L844.5 921.9L844.5 923.9L844.6 925.9L844.6 927.9L844.6 929.9L844.7 931.9L844.7 934.0L844.7 936.0L844.7 938.0L844.8 940.0L844.8 942.0L844.8 944.0L844.9 946.0L844.9 948.0L844.9 950.0L844.9 952.0L845.0 954.0L845.0 956.0L845.0 954.0L845.1 952.0L845.1 950.0L845.2 948.0L845.2 946.0L845.2 944.0L845.3 942.0L845.3 940.0L845.4 938.0L845.4 936.0L845.4 934.0L845.5 932.0L845.5 930.0L845.6 928.0L845.6 926.0L845.6 924.0L845.7 922.0L845.7 920.0L845.8 918.0L845.8 916.0L845.8 914.0L845.9 912.0L845.9 910.0L846.0 908.0L846.0 906.0L846.0 904.0L846.1 902.0L846.1 900.0L846.1 898.0L846.2 896.0L846.2 894.0L846.3 892.0L846.3 890.0L846.3 888.0L846.4 885.9L846.4 883.9L846.4 881.9L846.5 879.9L846.5 877.9L846.6 875.9L846.6 873.9L846.6 871.9L846.7 869.9L846.7 867.9L846.7 865.9L846.8 863.9L846.8 861.9L846.8 859.9L846.9 857.9L846.9 855.9L846.9 853.9L847.0 851.9L847.0 849.9L847.0 847.9L847.1 845.9L847.1 843.9L847.1 841.9L847.2 839.9L847.2 837.9L847.2 835.9L847.3 833.9L847.3 831.9L847.3 829.9L847.4 827.9L847.4 825.9L847.4 823.9L847.4 821.9L847.5 819.9L847.5 817.9L847.5 815.9L847.6 813.9L847.6 811.9L847.7 809.9L847.7 807.9L847.7 805.9L847.8 803.9L847.8 801.9L847.8 799.9L847.9 797.9L847.9 795.9L848.0 793.9L848.0 791.9L848.0 789.9L848.1 787.9L848.1 785.9L848.2 783.9L848.2 781.9L848.3 779.9L848.3 777.9L848.4 775.9L848.4 773.9L848.5 771.9L848.5 769.9L848.6 767.9L848.7 765.9L848.7 763.9L848.8 761.9L848.8 759.9L848.9 757.9L848.9 755.9L849.0 753.9L849.1 751.9L849.1 749.9L849.2 747.9L849.2 745.9L849.3 743.9L849.4 741.8L849.4 739.8L849.5 737.8L849.6 735.8L849.6 733.8L849.7 731.8L849.8 729.8L849.8 727.8L849.9 725.8L849.9 723.8L850.0 721.8L850.1 719.8L850.1 717.8L850.2 715.8L850.3 713.8L850.3 711.8L850.4 709.8L850.5 707.8L850.5 705.8L850.6 703.8L850.7 701.8L850.8 699.8L850.8 697.8L850.9 695.8L851.0 693.8L851.0 691.8L851.1 689.8L851.2 687.8L851.3 685.8L851.3 683.8L851.4 681.8L851.5 679.8L851.6 677.8L851.6 675.8L851.7 673.8L851.8 671.8L851.9 669.8L851.9 667.8L852.0 665.8L852.1 663.8L852.2 661.8L852.2 659.8L852.3 657.8L852.4 655.8L852.5 653.8L852.6 651.8L852.6 649.8L852.7 647.8L852.8 645.8L852.9 643.8L852.9 641.8L853.0 639.8L853.1 637.8L853.2 635.8L853.2 633.8L853.3 631.8L853.4 629.8L853.4 627.8L853.5 625.8L853.6 623.8L853.7 621.8L853.7 619.8L853.8 617.8L853.9 615.8L854.0 613.8L854.0 611.8L854.1 609.8L854.2 607.8L854.3 605.8L854.3 603.8L854.4 601.8L854.5 599.8L854.6 597.8L854.7 595.8L854.7 593.8L854.8 591.8L854.9 589.8L855.0 587.8L855.1 585.8L855.1 583.8L855.2 581.8L855.3 579.8L855.4 577.8L855.5 575.8L855.5 573.8L855.6 571.8L855.7 569.8L855.8 567.8L855.9 565.8L855.9 563.8L856.0 561.8L856.1 559.8L856.2 557.8L856.3 555.8L856.4 553.8L856.4 551.8L856.5 549.8L856.6 547.8L856.7 545.8L856.8 543.8L856.9 541.8L856.9 539.8L857.0 537.8L857.1 535.8L857.2 533.8L857.3 531.8L857.4 529.8L857.5 527.8L857.6 525.8L857.7 523.8L857.8 521.8L857.8 519.8L857.9 517.8L858.0 515.8L858.1 513.8L858.2 511.8L858.3 509.8L858.4 507.8L858.5 505.8L858.6 503.8L858.7 501.8L858.9 499.8L859.0 497.8L859.1 495.8L859.2 493.8L859.3 491.8L859.4 489.8L859.5 487.8L859.6 485.8L859.7 484.3L859.8 482.3L860.0 480.3L860.1 478.3L860.2 476.3L860.3 474.3L860.5 472.3L860.6 470.3L860.7 468.3L860.8 466.3L861.0 464.4L861.1 462.4L861.2 460.4L861.4 458.4L861.5 456.4L861.7 454.4L861.8 452.4L861.9 450.4L862.1 448.4L862.2 446.4L862.4 444.4L862.5 442.4L862.7 440.4L862.8 438.4L863.0 436.4L863.1 434.4L863.3 432.4L863.5 430.4L863.6 428.4L863.8 426.4L863.9 424.4L864.1 422.4L864.3 420.4L864.4 418.4L864.6 416.4L864.8 414.4L864.9 412.4L865.1 410.4L865.3 408.4L865.4 406.5L865.6 404.5L865.8 402.5L866.0 400.5L866.1 398.5L866.3 396.5L866.5 394.5L866.7 392.5L866.9 390.5L867.0 388.5L867.2 386.5L867.4 384.5L867.6 382.5L867.8 380.5L867.9 378.5L868.1 376.5L868.3 374.5L868.5 372.5L868.7 370.6L868.9 368.6L869.1 366.6L869.3 364.6L869.5 362.6L869.7 360.6L869.9 358.6L870.0 356.6L870.2 354.6L870.4 352.6L870.6 350.6L870.8 348.6L871.0 346.6L871.2 344.7L871.4 342.7L871.6 340.7L871.8 338.7L872.0 336.7L872.2 334.7L872.4 332.7L872.6 330.7L872.8 328.7L873.0 326.7L873.2 324.7L873.4 322.8L873.7 320.8L873.9 318.8L874.1 316.8L874.3 314.8L874.5 312.8L874.7 310.8L874.9 308.8L875.1 306.8L875.3 304.8L875.6 302.8L875.8 300.9L876.0 298.9L876.2 296.9L876.4 294.9L876.7 292.9L876.9 290.9L877.1 288.9L877.3 286.9L877.6 284.9L877.8 282.9L878.0 280.9L878.3 279.0L878.5 277.0L878.7 275.0L879.0 273.0L879.2 271.0L879.5 269.0L879.7 267.0L880.0 265.0L880.2 263.0L880.4 261.0L880.7 259.1L880.9 257.1L881.2 255.1L881.5 253.1L881.7 251.1L882.0 249.1L882.2 247.1L882.5 245.1L882.8 243.2L883.0 241.2L883.3 239.2L883.6 237.2L883.8 235.2L884.1 233.2L884.4 231.2L884.6 229.3L884.9 227.3L885.2 225.3L885.5 223.3L885.8 221.3L886.1 219.4L886.4 217.4L886.6 215.4L886.9 213.4L887.2 211.4L887.5 209.5L887.8 207.5L888.1 205.5L888.4 203.5L888.7 201.6L889.0 199.6L889.4 197.6L889.7 195.6L890.0 193.7L890.3 191.7L890.6 189.7L890.9 187.7L891.3 185.8L891.6 183.8L891.9 181.8L892.3 179.9L892.6 177.9L893.0 175.9L893.3 174.0L893.7 172.0L894.0 170.0L894.4 168.0L894.7 166.1L895.1 164.1L895.5 162.1L895.9 160.2L896.2 158.2L896.6 156.2L897.0 154.2L897.4 152.3L897.8 150.3L898.2 148.3L898.6 146.4L899.1 144.4L899.5 142.4L899.9 140.5L900.3 138.5L900.8 136.6L901.2 134.6L901.7 132.6L902.1 130.7L902.6 128.7L903.0 126.8L903.5 124.8L904.0 122.9L904.5 120.9L904.9 119.0L905.4 117.1L905.9 115.1L906.4 113.2L906.9 111.3L907.4 109.3L908.0 107.4L908.5 105.5L909.0 103.6L909.5 101.6L910.1 99.7L910.6 97.8L911.2 95.9L911.7 93.9L912.3 91.9L912.8 90.0L913.4 88.0L914.0 86.0L914.6 84.0L915.2 82.1L915.8 80.1L916.4 78.1L917.1 76.1L917.7 74.2L918.4 72.3L919.1 70.3L919.8 68.4L920.5 66.5L921.3 64.7L922.0 62.8L922.8 61.0L923.7 59.3L924.5 57.5L925.4 55.8L926.3 54.1L927.2 52.5L928.2 50.9L929.2 49.3L930.3 47.8L931.5 46.3L932.8 44.8L934.1 43.4L935.5 42.0L937.0 40.6L938.5 39.3L940.1 37.9L941.7 36.6L943.3 35.3L945.0 34.1L946.7 32.8L948.4 31.6L950.1 32.8L951.8 34.1L953.5 35.3L955.1 36.6L956.7 37.9L958.3 39.3L959.8 40.6L961.3 42.0L962.7 43.4L964.0 44.8L965.3 46.3L966.5 47.8L967.6 49.3L968.6 50.9L969.6 52.5L970.5 54.1L971.4 55.8L972.3 57.5L973.1 59.3L974.0 61.0L974.8 62.8L975.5 64.7L976.3 66.5L977.0 68.4L977.7 70.3L978.4 72.3L979.1 74.2L979.7 76.1L980.4 78.1L981.0 80.1L981.6 82.1L982.2 84.0L982.8 86.0L983.4 88.0L984.0 90.0L984.5 91.9L985.1 93.9L985.6 95.9L986.2 97.8L986.7 99.7L987.3 101.6L987.8 103.6L988.3 105.5L988.8 107.4L989.4 109.3L989.9 111.3L990.4 113.2L990.9 115.1L991.4 117.1L991.9 119.0L992.3 120.9L992.8 122.9L993.3 124.8L993.8 126.8L994.2 128.7L994.7 130.7L995.1 132.6L995.6 134.6L996.0 136.6L996.5 138.5L996.9 140.5L997.3 142.4L997.7 144.4L998.2 146.4L998.6 148.3L999.0 150.3L999.4 152.3L999.8 154.2L1000.2 156.2L1000.6 158.2L1000.9 160.2L1001.3 162.1L1001.7 164.1L1002.1 166.1L1002.4 168.0L1002.8 170.0L1003.1 172.0L1003.5 174.0L1003.8 175.9L1004.2 177.9L1004.5 179.9L1004.9 181.8L1005.2 183.8L1005.5 185.8L1005.9 187.7L1006.2 189.7L1006.5 191.7L1006.8 193.7L1007.1 195.6L1007.4 197.6L1007.8 199.6L1008.1 201.6L1008.4 203.5L1008.7 205.5L1009.0 207.5L1009.3 209.5L1009.6 211.4L1009.9 213.4L1010.2 215.4L1010.4 217.4L1010.7 219.4L1011.0 221.3L1011.3 223.3L1011.6 225.3L1011.9 227.3L1012.2 229.3L1012.4 231.2L1012.7 233.2L1013.0 235.2L1013.2 237.2L1013.5 239.2L1013.8 241.2L1014.0 243.2L1014.3 245.1L1014.6 247.1L1014.8 249.1L1015.1 251.1L1015.3 253.1L1015.6 255.1L1015.9 257.1L1016.1 259.1L1016.4 261.0L1016.6 263.0L1016.8 265.0L1017.1 267.0L1017.3 269.0L1017.6 271.0L1017.8 273.0L1018.1 275.0L1018.3 277.0L1018.5 279.0L1018.8 280.9L1019.0 282.9L1019.2 284.9L1019.5 286.9L1019.7 288.9L1019.9 290.9L1020.1 292.9L1020.4 294.9L1020.6 296.9L1020.8 298.9L1021.0 300.9L1021.2 302.8L1021.5 304.8L1021.7 306.8L1021.9 308.8L1022.1 310.8L1022.3 312.8L1022.5 314.8L1022.7 316.8L1022.9 318.8L1023.1 320.8L1023.4 322.8L1023.6 324.7L1023.8 326.7L1024.0 328.7L1024.2 330.7L1024.4 332.7L1024.6 334.7L1024.8 336.7L1025.0 338.7L1025.2 340.7L1025.4 342.7L1025.6 344.7L1025.8 346.6L1026.0 348.6L1026.2 350.6L1026.4 352.6L1026.6 354.6L1026.8 356.6L1026.9 358.6L1027.1 360.6L1027.3 362.6L1027.5 364.6L1027.7 366.6L1027.9 368.6L1028.1 370.6L1028.3 372.5L1028.5 374.5L1028.7 376.5L1028.9 378.5L1029.0 380.5L1029.2 382.5L1029.4 384.5L1029.6 386.5L1029.8 388.5L1029.9 390.5L1030.1 392.5L1030.3 394.5L1030.5 396.5L1030.7 398.5L1030.8 400.5L1031.0 402.5L1031.2 404.5L1031.4 406.5L1031.5 408.4L1031.7 410.4L1031.9 412.4L1032.0 414.4L1032.2 416.4L1032.4 418.4L1032.5 420.4L1032.7 422.4L1032.9 424.4L1033.0 426.4L1033.2 428.4L1033.3 430.4L1033.5 432.4L1033.7 434.4L1033.8 436.4L1034.0 438.4L1034.1 440.4L1034.3 442.4L1034.4 444.4L1034.6 446.4L1034.7 448.4L1034.9 450.4L1035.0 452.4L1035.1 454.4L1035.3 456.4L1035.4 458.4L1035.6 460.4L1035.7 462.4L1035.8 464.4L1036.0 466.3L1036.1 468.3L1036.2 470.3L1036.3 472.3L1036.5 474.3L1036.6 476.3L1036.7 478.3L1036.8 480.3L1037.0 482.3L1037.1 484.3L1037.2 485.8L1037.3 487.8L1037.4 489.8L1037.5 491.8L1037.6 493.8L1037.7 495.8L1037.8 497.8L1037.9 499.8L1038.1 501.8L1038.2 503.8L1038.3 505.8L1038.4 507.8L1038.5 509.8L1038.6 511.8L1038.7 513.8L1038.8 515.8L1038.9 517.8L1039.0 519.8L1039.0 521.8L1039.1 523.8L1039.2 525.8L1039.3 527.8L1039.4 529.8L1039.5 531.8L1039.6 533.8L1039.7 535.8L1039.8 537.8L1039.9 539.8L1039.9 541.8L1040.0 543.8L1040.1 545.8L1040.2 547.8L1040.3 549.8L1040.4 551.8L1040.4 553.8L1040.5 555.8L1040.6 557.8L1040.7 559.8L1040.8 561.8L1040.9 563.8L1040.9 565.8L1041.0 567.8L1041.1 569.8L1041.2 571.8L1041.3 573.8L1041.3 575.8L1041.4 577.8L1041.5 579.8L1041.6 581.8L1041.7 583.8L1041.7 585.8L1041.8 587.8L1041.9 589.8L1042.0 591.8L1042.1 593.8L1042.1 595.8L1042.2 597.8L1042.3 599.8L1042.4 601.8L1042.5 603.8L1042.5 605.8L1042.6 607.8L1042.7 609.8L1042.8 611.8L1042.8 613.8L1042.9 615.8L1043.0 617.8L1043.1 619.8L1043.1 621.8L1043.2 623.8L1043.3 625.8L1043.4 627.8L1043.4 629.8L1043.5 631.8L1043.6 633.8L1043.6 635.8L1043.7 637.8L1043.8 639.8L1043.9 641.8L1043.9 643.8L1044.0 645.8L1044.1 647.8L1044.2 649.8L1044.2 651.8L1044.3 653.8L1044.4 655.8L1044.5 657.8L1044.6 659.8L1044.6 661.8L1044.7 663.8L1044.8 665.8L1044.9 667.8L1044.9 669.8L1045.0 671.8L1045.1 673.8L1045.2 675.8L1045.2 677.8L1045.3 679.8L1045.4 681.8L1045.5 683.8L1045.5 685.8L1045.6 687.8L1045.7 689.8L1045.8 691.8L1045.8 693.8L1045.9 695.8L1046.0 697.8L1046.0 699.8L1046.1 701.8L1046.2 703.8L1046.3 705.8L1046.3 707.8L1046.4 709.8L1046.5 711.8L1046.5 713.8L1046.6 715.8L1046.7 717.8L1046.7 719.8L1046.8 721.8L1046.9 723.8L1046.9 725.8L1047.0 727.8L1047.0 729.8L1047.1 731.8L1047.2 733.8L1047.2 735.8L1047.3 737.8L1047.4 739.8L1047.4 741.8L1047.5 743.9L1047.6 745.9L1047.6 747.9L1047.7 749.9L1047.7 751.9L1047.8 753.9L1047.9 755.9L1047.9 757.9L1048.0 759.9L1048.0 761.9L1048.1 763.9L1048.1 765.9L1048.2 767.9L1048.3 769.9L1048.3 771.9L1048.4 773.9L1048.4 775.9L1048.5 777.9L1048.5 779.9L1048.6 781.9L1048.6 783.9L1048.7 785.9L1048.7 787.9L1048.8 789.9L1048.8 791.9L1048.8 793.9L1048.9 795.9L1048.9 797.9L1049.0 799.9L1049.0 801.9L1049.0 803.9L1049.1 805.9L1049.1 807.9L1049.1 809.9L1049.2 811.9L1049.2 813.9L1049.3 815.9L1049.3 817.9L1049.3 819.9L1049.4 821.9L1049.4 823.9L1049.4 825.9L1049.4 827.9L1049.5 829.9L1049.5 831.9L1049.5 833.9L1049.6 835.9L1049.6 837.9L1049.6 839.9L1049.7 841.9L1049.7 843.9L1049.7 845.9L1049.8 847.9L1049.8 849.9L1049.8 851.9L1049.9 853.9L1049.9 855.9L1049.9 857.9L1050.0 859.9L1050.0 861.9L1050.0 863.9L1050.1 865.9L1050.1 867.9L1050.1 869.9L1050.2 871.9L1050.2 873.9L1050.2 875.9L1050.3 877.9L1050.3 879.9L1050.4 881.9L1050.4 883.9L1050.4 885.9L1050.5 888.0L1050.5 890.0L1050.5 892.0L1050.6 894.0L1050.6 896.0L1050.7 898.0L1050.7 900.0L1050.7 902.0L1050.8 904.0L1050.8 906.0L1050.8 908.0L1050.9 910.0L1050.9 912.0L1051.0 914.0L1051.0 916.0L1051.0 918.0L1051.1 920.0L1051.1 922.0L1051.2 924.0L1051.2 926.0L1051.2 928.0L1051.3 930.0L1051.3 932.0L1051.4 934.0L1051.4 936.0L1051.4 938.0L1051.5 940.0L1051.5 942.0L1051.6 944.0L1051.6 946.0L1051.6 948.0L1051.7 950.0L1051.7 952.0L1051.8 954.0L1051.8 956.0L1051.8 954.0L1051.9 952.0L1051.9 950.0L1051.9 948.0L1051.9 946.0L1052.0 944.0L1052.0 942.0L1052.0 940.0L1052.1 938.0L1052.1 936.0L1052.1 934.0L1052.1 931.9L1052.2 929.9L1052.2 927.9L1052.2 925.9L1052.3 923.9L1052.3 921.9L1052.3 919.9L1052.4 917.9L1052.4 915.9L1052.5 913.9L1052.5 911.9L1052.5 909.9L1052.6 907.9L1052.6 905.9L1052.6 903.9L1052.7 901.9L1052.7 899.9L1052.7 897.9L1052.8 895.9L1052.8 893.9L1052.9 891.9L1052.9 889.9L1052.9 887.9L1053.0 885.8L1053.0 883.8L1053.1 881.8L1053.1 879.8L1053.1 877.8L1053.2 875.8L1053.2 873.8L1053.3 871.8L1053.3 869.8L1053.3 867.8L1053.4 865.8L1053.4 863.8L1053.5 861.8L1053.5 859.8L1053.6 857.8L1053.6 855.8L1053.6 853.8L1053.7 851.8L1053.7 849.8L1053.8 847.8L1053.8 845.8L1053.8 843.8L1053.9 841.8L1053.9 839.7L1054.0 837.7L1054.0 835.7L1054.1 833.7L1054.1 831.7L1054.2 829.7L1054.2 827.7L1054.3 825.7L1054.4 823.7L1054.4 821.7L1054.5 819.7L1054.5 817.7L1054.6 815.7L1054.7 813.7L1054.7 811.7L1054.8 809.7L1054.9 807.7L1055.0 805.7L1055.0 803.7L1055.1 801.7L1055.2 799.7L1055.3 797.7L1055.4 795.7L1055.5 793.6L1055.6 791.6L1055.7 789.6L1055.8 787.6L1055.9 785.6L1056.1 783.6L1056.2 781.6L1056.3 779.6L1056.4 777.6L1056.6 775.6L1056.7 773.6L1056.9 771.6L1057.0 769.6L1057.2 767.6L1057.3 765.6L1057.5 763.6L1057.7 761.6L1057.9 759.6L1058.0 757.6L1058.2 755.6L1058.4 753.6L1058.6 751.6L1058.9 749.6L1059.1 747.4L1059.4 745.1L1059.6 742.8L1060.0 740.3L1060.3 737.7L1060.7 735.2L1061.1 732.6L1061.5 730.1L1061.9 727.7L1062.4 725.4L1062.8 723.2L1063.3 721.3L1063.8 719.5L1064.3 718.1L1064.8 716.9L1065.4 716.1L1065.9 715.6L1066.5 715.4L1067.1 715.5L1067.7 715.8L1068.3 716.3L1069.0 716.9L1069.7 717.7L1070.5 718.7L1071.2 719.9L1072.0 721.2L1072.8 722.8L1073.7 724.5L1074.5 726.4L1075.4 728.5L1076.3 730.8L1077.3 733.3L1078.2 735.9L1079.2 738.8L1080.2 741.9L1081.2 745.2L1082.2 748.7L1083.3 752.3L1084.1 750.4L1085.0 748.6L1085.8 746.8L1086.7 744.9L1087.4 743.1L1088.2 741.2L1088.9 739.3L1089.6 737.4L1090.2 735.5L1090.8 733.6L1091.3 731.7L1091.8 729.8L1092.2 727.8L1092.6 725.9L1093.0 723.9L1093.4 722.0L1093.8 720.0L1094.1 718.0L1094.4 716.0L1094.7 714.0L1095.1 712.0L1095.4 710.0L1095.7 708.1L1096.0 706.1L1096.3 704.1L1096.6 702.1L1097.0 700.1L1097.3 698.1L1097.6 696.1L1097.8 694.1L1098.1 692.1L1098.4 690.2L1098.7 688.2L1099.0 686.2L1099.3 684.2L1099.6 682.2L1100.0 680.2L1100.3 678.3L1100.7 676.3L1101.2 674.3L1101.6 672.3L1102.1 670.3L1102.6 668.3L1103.1 666.4L1103.8 664.5L1104.6 662.7L1105.5 660.9L1106.6 659.3L1108.0 657.8L1109.5 656.7L1111.0 656.2L1112.6 656.5L1114.1 657.4L1115.5 658.8L1116.7 660.4L1117.7 662.2L1118.3 663.5L1118.9 665.4L1119.5 667.3L1120.0 669.3L1120.5 671.3L1120.9 673.3L1121.3 675.3L1121.6 677.3L1121.9 679.3L1122.2 681.3L1122.4 683.2L1122.7 685.2L1122.9 687.2L1123.1 689.2L1123.3 691.2L1123.5 693.2L1123.7 695.2L1123.9 697.2L1124.1 699.2L1124.3 701.2L1124.5 703.2L1124.7 705.2L1124.9 707.2L1125.1 709.2L1125.2 711.2L1125.4 713.2L1125.6 715.2L1125.8 717.2L1126.0 719.2L1126.1 721.2L1126.3 723.2L1126.5 725.2L1126.7 727.2L1126.9 729.2L1127.2 731.2L1127.4 733.2L1127.7 735.2L1128.0 737.2L1128.3 739.2L1128.6 741.1L1128.9 743.1L1129.3 745.1L1129.6 747.1L1129.9 749.1L1130.2 751.1L1130.4 753.1L1130.7 755.0L1130.9 757.0L1131.2 759.0L1131.4 761.0L1131.6 763.0L1131.8 765.0L1132.0 767.0L1132.2 769.0L1132.4 771.0L1132.6 773.0L1132.8 775.0L1133.0 773.0L1133.3 771.0L1133.5 769.0L1133.7 767.0L1134.0 765.1L1134.2 763.1L1134.4 761.1L1134.7 759.1L1134.9 757.1L1135.1 755.1L1135.4 753.1L1135.6 751.1L1135.8 749.1L1136.0 747.2L1136.3 745.2L1136.5 743.2L1136.8 741.2L1137.0 739.2L1137.2 737.2L1137.5 735.2L1137.7 733.2L1138.0 731.2L1138.2 729.3L1138.5 727.3L1138.7 725.3L1138.9 723.3L1139.2 721.3L1139.4 719.3L1139.6 717.3L1139.8 715.3L1139.9 713.3L1140.1 711.3L1140.3 709.3L1140.5 707.3L1140.6 705.4L1140.8 703.4L1140.9 701.4L1141.1 699.4L1141.2 697.4L1141.4 695.4L1141.5 693.4L1141.7 691.4L1141.8 689.4L1141.9 687.4L1142.1 685.4L1142.2 683.4L1142.3 681.4L1142.5 679.4L1142.6 677.4L1142.7 675.4L1142.9 673.4L1143.0 671.4L1143.1 669.4L1143.2 667.4L1143.4 665.4L1143.5 663.4L1143.6 661.4L1143.7 659.4L1143.8 657.4L1143.9 655.4L1144.1 653.4L1144.2 651.4L1144.3 649.4L1144.4 647.4L1144.6 645.4L1144.7 643.4L1144.9 641.4L1145.0 639.4L1145.2 637.4L1145.3 635.4L1145.5 633.4L1145.7 631.4L1145.9 629.4L1146.1 627.4L1146.3 625.5L1146.5 623.5L1146.7 621.5L1146.9 619.5L1147.1 617.5L1147.3 615.5L1147.5 613.5L1147.7 611.5L1147.9 609.5L1148.2 607.5L1148.4 605.5L1148.6 603.5L1148.8 601.6L1149.0 599.6L1149.2 597.6L1149.4 595.6L1149.7 593.6L1149.9 591.6L1150.1 589.6L1150.3 587.6L1150.5 585.6L1150.8 583.6L1151.0 581.6L1151.2 579.7L1151.4 577.7L1151.7 575.7L1151.9 573.7L1152.1 571.7L1152.3 569.7L1152.6 567.7L1152.8 565.7L1153.0 563.7L1153.2 561.7L1153.4 559.8L1153.6 557.8L1153.8 555.8L1154.0 553.8L1154.2 551.8L1154.4 549.8L1154.6 547.8L1154.8 545.8L1155.0 543.8L1155.1 541.8L1155.3 539.8L1155.5 537.8L1155.7 535.8L1156.0 533.8L1156.2 531.8L1156.4 529.9L1156.7 527.9L1157.0 525.9L1157.3 523.9L1157.6 522.0L1157.9 520.0L1158.3 518.0L1158.6 516.0L1159.0 514.1L1159.4 512.1L1159.8 510.1L1160.2 508.2L1160.6 506.2L1161.0 504.3L1161.5 502.3L1161.9 500.3L1162.4 498.4L1162.8 496.4L1163.3 494.5L1163.7 492.5L1164.2 490.6L1164.6 488.6L1165.1 486.7L1165.5 484.7L1166.0 482.8L1166.4 480.8L1166.9 478.8L1167.5 476.4L1167.9 474.4L1168.4 472.5L1168.9 470.5L1169.4 468.6L1169.9 466.6L1170.5 464.7L1171.1 462.8L1171.6 460.9L1172.3 459.0L1172.9 457.1L1173.6 455.2L1174.3 453.3L1175.0 451.4L1175.8 449.5L1176.6 447.6L1177.4 445.6L1178.3 443.8L1179.3 441.9L1180.2 440.1L1181.2 438.3L1182.3 436.7L1183.4 435.1L1184.6 433.6L1185.8 432.2L1187.2 430.8L1188.7 429.4L1190.4 428.2L1192.2 427.0L1193.9 426.1L1195.7 425.5L1197.5 425.4L1199.2 425.7L1200.9 426.4L1202.6 427.4L1204.3 428.8L1205.8 430.3L1207.3 431.8L1208.5 433.4L1209.7 434.9L1210.7 436.5L1211.7 438.2L1212.6 440.0L1213.5 441.8L1214.4 443.6L1215.1 445.5L1215.9 447.5L1216.6 449.4L1217.3 451.4L1218.0 453.3L1218.6 455.2L1219.2 457.1L1219.8 459.1L1220.4 461.0L1220.9 462.9L1221.4 464.8L1221.9 466.7L1222.4 468.7L1222.9 470.6L1223.4 472.6L1223.8 474.6L1224.2 476.5L1224.7 478.5L1225.1 480.5L1225.5 482.4L1225.9 484.4L1226.3 486.4L1226.7 488.3L1227.1 490.3L1227.5 492.2L1227.8 494.2L1228.2 496.2L1228.6 498.1L1229.0 500.1L1229.3 502.1L1229.7 504.1L1230.1 506.0L1230.4 508.0L1230.8 510.0L1231.1 511.9L1231.4 513.9L1231.8 515.9L1232.1 517.9L1232.4 519.9L1232.7 521.8L1233.0 523.8L1233.3 525.8L1233.6 527.8L1233.9 529.8L1234.2 531.7L1234.5 533.7L1234.7 535.7L1235.0 537.7L1235.3 539.7L1235.5 541.7L1235.7 543.7L1236.0 545.6L1236.2 547.6L1236.4 549.6L1236.6 551.6L1236.8 553.6L1237.0 555.6L1237.2 557.6L1237.4 559.6L1237.6 561.6L1237.8 563.6L1238.0 565.6L1238.1 567.6L1238.3 569.6L1238.5 571.6L1238.7 573.6L1238.8 575.5L1239.0 577.5L1239.2 579.5L1239.3 581.5L1239.5 583.5L1239.6 585.5L1239.8 587.5L1239.9 589.5L1240.1 591.5L1240.2 593.5L1240.3 595.5L1240.5 597.5L1240.6 599.5L1240.8 601.5L1240.9 603.5L1241.1 605.5L1241.2 607.5L1241.4 609.5L1241.6 611.5L1241.8 613.5L1242.0 615.5L1242.2 617.5L1242.4 619.5L1242.7 621.4L1243.0 623.4L1243.3 625.4L1243.6 627.4L1243.9 629.3L1244.2 631.3L1244.6 633.3L1245.0 635.2L1245.4 637.2L1245.8 639.2L1246.2 641.1L1246.6 643.1L1247.0 645.1L1247.5 647.0L1247.9 649.0L1248.4 650.9L1248.5 648.8L1248.6 646.6L1248.8 644.4L1249.0 642.3L1249.3 640.2L1249.6 638.2L1250.0 636.2L1250.4 634.2L1250.9 632.2L1251.4 630.3L1252.0 628.4L1252.5 626.5L1253.2 624.7L1253.8 622.9L1254.4 621.1L1255.1 619.4L1255.9 617.6L1256.9 615.7L1258.0 613.8L1259.3 611.9L1260.7 609.9L1262.2 608.1L1263.8 606.4L1265.3 605.0L1266.7 603.8L1268.0 603.0L1269.4 602.5L1270.4 602.5L1271.3 602.9L1272.2 603.6L1273.0 604.5L1273.8 605.7L1274.6 607.1L1275.4 608.7L1276.2 610.5L1276.9 612.4L1277.6 614.5L1278.3 616.7L1279.0 619.0L1279.6 621.4L1280.2 623.8L1280.8 626.3L1281.4 628.8L1282.0 631.3L1282.5 633.8L1283.0 636.2L1283.5 638.6L1284.0 640.9L1284.5 643.1L1284.9 645.2L1285.3 647.2L1285.7 649.2L1286.1 651.2L1286.5 653.2L1286.8 655.1L1287.2 657.1L1287.5 659.1L1287.8 661.0L1288.1 663.0L1288.4 665.0L1288.6 667.0L1288.9 669.0L1289.2 671.0L1289.4 673.0L1289.7 675.0L1289.9 677.0L1290.2 679.0L1290.4 681.0L1290.7 683.0L1291.0 685.0L1291.2 687.0L1291.5 689.0L1291.8 691.0L1292.1 693.0L1292.4 695.0L1292.7 697.0L1293.0 698.9L1293.4 701.4L1293.7 703.4L1294.1 705.4L1294.5 707.3L1294.9 709.3L1295.3 711.3L1295.7 713.2L1296.1 715.2L1296.5 717.1L1296.9 719.1L1297.3 721.1L1297.8 723.0L1298.2 725.0L1298.7 726.9L1299.1 728.9L1299.6 730.8L1300.1 732.8L1300.5 734.8L1301.0 736.7L1301.5 738.7L1302.0 740.6L1302.5 742.6L1303.0 744.5L1303.5 746.4L1304.0 748.4L1304.6 750.3L1305.1 752.3L1305.4 750.3L1305.8 748.3L1306.1 746.4L1306.5 744.4L1306.8 742.4L1307.2 740.4L1307.5 738.5L1307.9 736.5L1308.3 734.5L1308.6 732.6L1309.0 730.6L1309.4 728.6L1309.7 726.7L1310.1 724.7L1310.5 722.7L1310.9 720.8L1311.2 718.8L1311.6 716.8L1312.0 714.9L1312.4 712.9L1312.8 710.9L1313.2 709.0L1313.6 707.0L1313.9 705.0L1314.3 703.1L1314.7 701.1L1315.1 699.1L1315.5 697.2L1315.9 695.2L1316.3 693.2L1316.6 691.2L1317.0 689.3L1317.4 687.3L1317.7 685.3L1318.1 683.3L1318.5 681.3L1318.9 679.3L1319.3 677.3L1319.7 675.4L1320.1 673.4L1320.5 671.4L1320.9 669.5L1321.3 667.5L1321.7 665.5L1322.2 663.6L1322.6 661.6L1323.1 659.7L1323.6 657.8L1324.1 655.9L1324.6 653.9L1325.2 652.0L1325.7 650.2L1326.3 648.3L1326.9 646.4L1327.6 644.6L1328.3 642.7L1329.1 640.9L1329.9 639.1L1330.8 637.3L1331.7 635.5L1332.7 633.7L1333.6 632.0L1334.6 630.2L1335.6 628.4L1336.5 626.6L1337.5 624.9L1338.4 623.1L1339.3 621.3L1340.1 619.5L1341.0 617.6L1341.7 615.8L1342.5 613.9L1343.2 612.1L1344.0 610.2L1344.7 608.4L1345.4 606.5L1346.1 604.6L1346.8 602.7L1347.5 600.8L1348.1 598.9L1348.8 597.1L1349.5 595.2L1350.1 593.3L1350.8 591.4L1351.5 589.5L1352.2 587.6L1352.8 585.7L1353.5 583.8L1354.2 582.0L1354.8 580.1L1355.5 578.2L1356.2 576.3L1356.9 574.4L1357.5 572.5L1358.2 570.6L1358.9 568.7L1359.5 566.9L1360.2 565.0L1360.8 563.1L1361.5 561.2L1362.2 559.3L1362.8 557.4L1363.5 555.5L1364.1 553.6L1364.7 551.7L1365.4 549.8L1366.0 547.9L1366.7 546.0L1367.3 544.1L1367.9 542.2L1368.6 540.3L1369.2 538.4L1369.8 536.5L1370.5 534.6L1371.1 532.7L1371.7 530.8L1372.3 528.9L1373.0 527.0L1373.6 525.1L1374.2 523.2L1374.8 521.3L1375.4 519.4L1376.1 517.5L1376.7 515.6L1377.3 513.7L1377.9 511.8L1378.5 509.8L1379.0 507.9L1379.6 506.0L1380.2 504.1L1380.8 502.2L1381.4 500.3L1382.0 498.4L1382.6 496.4L1383.2 494.5L1383.8 492.6L1384.4 490.7L1385.0 488.8L1385.7 486.9L1386.3 485.0L1387.0 483.1L1387.6 481.2L1388.3 479.3L1389.0 477.5L1389.7 475.6L1390.4 473.7L1391.1 471.8L1391.8 470.0L1392.6 468.1L1393.4 466.3L1394.2 464.5L1395.0 462.7L1395.9 460.9L1396.8 459.1L1397.8 457.3L1398.7 455.5L1399.7 453.8L1400.7 452.1L1401.8 450.4L1402.8 448.7L1403.9 447.0L1405.0 445.3L1406.2 443.7L1407.3 442.1L1408.5 440.5L1409.7 438.9L1411.0 437.3L1412.2 435.7L1413.5 434.1L1414.7 432.6L1416.0 431.0L1417.3 429.5L1418.6 428.0L1419.9 426.4L1421.2 424.9L1422.6 423.5L1423.9 422.0L1425.2 420.5L1426.6 419.0L1427.9 417.5L1429.2 416.0L1430.5 414.4L1431.8 412.9L1433.0 411.4L1434.3 409.8L1435.5 408.2L1436.8 406.6L1438.0 405.1L1439.2 403.5L1440.5 401.9L1441.7 400.3L1442.9 398.7L1444.1 397.1L1445.3 395.5L1446.5 393.9L1447.8 392.4L1449.0 390.8L1450.2 389.2L1451.4 387.6L1452.6 386.0L1453.9 384.3L1455.1 382.7L1456.3 381.1L1457.6 379.5L1458.9 378.0L1460.2 376.6L1461.6 375.2L1463.1 373.9L1464.7 372.7L1466.4 371.6L1468.1 370.7L1470.0 369.9L1471.8 369.2L1473.8 368.7L1475.7 368.4L1477.7 368.2L1479.7 368.2L1481.7 368.5L1483.6 368.9L1485.6 369.4L1487.4 370.1L1489.2 371.0L1491.0 372.0L1492.6 373.1L1494.2 374.3L1495.6 375.6L1497.0 377.0L1498.4 378.5L1499.7 380.0L1501.0 381.6L1502.2 383.2L1503.4 384.9L1504.5 386.5L1505.7 388.2L1506.8 389.9L1507.9 391.5L1508.9 393.2L1509.9 394.9L1510.9 396.7L1511.9 398.4L1512.9 400.2L1513.8 401.9L1514.8 403.7L1515.7 405.5L1516.6 407.3L1517.5 409.1L1518.5 410.9L1519.4 412.7L1520.3 414.4L1521.2 416.2L1522.1 418.0L1523.0 419.8L1523.8 421.6L1524.7 423.4L1525.6 425.2L1526.4 427.0L1527.3 428.8L1528.2 430.6L1529.0 432.5L1529.8 434.3L1530.7 436.1L1531.5 437.9L1532.3 439.7L1533.2 441.6L1534.0 443.4L1534.8 445.2L1535.6 447.1L1536.4 448.9L1537.2 450.7L1538.0 452.6L1538.8 454.4L1539.5 456.3L1540.3 458.1L1541.1 460.0L1541.8 461.8L1542.6 463.7L1543.3 465.5L1544.1 467.4L1544.8 469.3L1545.6 471.1L1546.3 473.0L1547.1 474.8L1547.8 476.7L1548.6 478.5L1549.3 480.4L1550.0 482.3L1550.8 484.1L1551.5 486.0L1552.1 487.9L1552.8 489.8L1553.4 491.7L1554.0 493.6L1554.6 495.5L1555.2 497.4L1555.7 499.3L1556.3 501.3L1556.9 503.2L1557.4 505.1L1558.0 507.0L1558.5 509.0L1559.0 510.9L1559.6 512.8L1560.1 514.8L1560.6 516.7L1561.1 518.6L1561.7 520.5L1562.3 522.5L1562.9 524.4L1563.5 526.3L1564.1 528.2L1564.7 530.1L1565.4 532.0L1566.1 533.9L1566.7 535.8L1567.4 537.7L1568.1 539.6L1568.8 541.4L1569.4 543.3L1570.1 545.2L1570.7 547.1L1571.4 549.0L1572.0 550.9L1572.6 552.8L1573.1 554.8L1573.7 556.7L1574.2 558.6L1574.6 560.5L1575.1 562.5L1575.5 564.4L1575.9 566.4L1576.3 568.3L1576.7 570.3L1577.1 572.3L1577.5 574.2L1577.8 576.2L1578.2 578.2L1578.5 580.2L1578.8 582.1L1579.2 584.1L1579.5 586.1L1579.9 588.1L1580.2 590.0L1580.6 592.0L1580.9 594.0L1581.3 596.0L1581.7 597.9L1582.1 599.9L1582.5 601.8L1582.9 603.8L1583.4 605.8L1583.8 607.7L1584.3 609.7L1584.7 611.6L1585.2 613.6L1585.6 615.5L1586.1 617.5L1586.6 619.4L1587.0 621.3L1587.5 623.3L1588.0 625.2L1588.4 627.2L1588.9 629.1L1589.4 631.1L1589.8 633.0L1590.2 635.0L1590.7 637.0L1591.1 638.9L1591.5 640.9L1591.9 642.8L1592.2 644.8L1592.6 646.8L1593.0 648.7L1593.4 650.7L1593.7 652.7L1594.1 654.6L1594.4 656.6L1594.8 658.6L1595.1 660.6L1595.5 662.5L1595.8 664.5L1596.2 666.5L1596.5 668.4L1596.9 670.4L1597.2 672.4L1597.6 674.4L1597.9 676.3L1598.3 678.3L1598.6 680.3L1599.0 682.3L1599.3 684.2L1599.7 686.2L1600.0 688.2L1600.3 690.2L1600.6 692.2L1601.0 694.2L1601.3 696.2L1601.7 698.2L1602.1 700.1L1602.5 702.1L1602.9 704.0L1603.4 705.9L1603.9 707.8L1604.4 709.7L1605.0 711.6L1605.7 713.5L1606.4 715.3L1607.2 717.1L1608.0 718.9L1608.9 720.7L1609.8 722.5L1610.8 724.3L1611.8 726.1L1612.9 727.8L1613.9 729.6L1614.5 727.7L1615.1 725.8L1615.8 723.9L1616.4 722.0L1617.0 720.1L1617.6 718.2L1618.2 716.2L1618.8 714.3L1619.3 712.4L1619.9 710.5L1620.5 708.6L1621.1 706.7L1621.6 704.7L1622.2 702.8L1622.8 700.9L1623.3 699.0L1623.9 697.0L1624.4 695.1L1625.0 693.2L1625.5 691.3L1626.1 689.3L1626.6 687.4L1627.1 685.5L1627.7 683.6L1628.2 681.6L1628.7 679.7L1629.3 677.8L1629.8 675.8L1630.3 673.9L1630.8 672.0L1631.4 670.0L1631.9 668.1L1632.4 666.2L1632.9 664.2L1633.5 662.3L1634.0 660.4L1634.5 658.4L1635.1 656.4L1635.6 654.5L1636.1 652.5L1636.6 650.5L1637.2 648.6L1637.9 646.7L1638.6 644.9L1639.5 643.1L1640.5 641.2L1641.7 639.5L1643.0 638.1L1644.4 637.3L1645.9 637.1L1647.5 637.6L1649.0 638.8L1650.4 640.2L1651.6 641.9L1652.7 643.6L1653.6 645.3L1654.3 647.1L1655.0 649.0L1655.6 650.9L1656.2 652.9L1656.7 654.9L1657.3 656.9L1657.8 658.9L1658.3 660.8L1658.8 662.8L1659.3 664.7L1659.8 666.7L1660.2 668.6L1660.7 670.6L1661.1 672.5L1661.5 674.5L1661.9 676.5L1662.3 678.4L1662.6 680.4L1663.0 682.4L1663.3 684.3L1663.6 686.3L1663.9 688.3L1664.2 690.3L1664.5 692.2L1664.8 694.2L1665.1 696.2L1665.3 698.2L1665.6 700.2L1665.9 702.2L1666.1 704.2L1666.4 706.2L1666.6 708.1L1666.8 710.1L1667.1 712.1L1667.3 714.1L1667.5 716.1L1667.8 718.1L1668.0 720.1L1668.2 722.1L1668.5 724.1L1668.7 726.1L1668.9 728.0L1669.2 730.0L1669.4 732.0L1669.6 734.0L1669.9 736.0L1670.1 738.0L1670.3 740.0L1670.5 742.0L1670.7 744.0L1670.9 746.0L1671.1 748.0L1671.3 750.0L1671.4 752.0L1671.6 754.0L1671.7 756.0L1671.8 757.9L1671.9 759.9L1672.0 761.9L1672.1 763.9L1672.2 765.9L1672.3 767.9L1672.4 769.9L1672.5 771.9L1672.6 773.9L1672.6 775.9L1672.7 777.9L1672.8 779.9L1672.8 781.9L1672.9 783.9L1673.0 785.9L1673.0 787.9L1673.1 790.0L1673.1 792.0L1673.2 794.0L1673.2 796.0L1673.3 798.0L1673.4 800.0L1673.4 802.0L1673.5 804.0L1673.5 806.0L1673.6 808.0L1673.6 810.0L1673.7 812.0L1673.7 814.0L1673.8 816.0L1673.9 818.0L1673.9 820.0L1674.0 822.0L1674.1 824.0L1674.1 826.0L1674.2 828.0L1674.3 830.0L1674.4 832.0L1674.5 834.0L1674.6 836.0L1674.6 838.0L1674.7 840.0L1674.8 842.0L1674.9 844.0L1675.0 846.0L1675.1 848.0L1675.2 850.0L1675.3 852.0L1675.4 854.0L1675.5 856.0L1675.6 858.0L1675.7 860.0L1675.8 862.0L1675.9 864.0L1676.0 866.0L1676.2 868.0L1676.3 870.0L1676.4 872.0L1676.5 874.0L1676.6 876.0L1676.7 878.0L1676.8 880.0L1676.9 882.0L1677.0 884.0L1677.1 886.0L1677.2 888.0L1677.3 890.0L1677.5 892.0L1677.6 894.0L1677.7 896.0L1677.8 898.0L1677.9 900.0L1678.0 902.0L1678.1 904.0L1678.3 906.0L1678.4 908.0L1678.5 910.0L1678.6 912.0L1678.7 914.0L1678.8 916.0L1679.0 918.0L1679.1 920.0L1679.2 922.0L1679.3 924.0L1679.4 926.0L1679.6 928.0L1679.7 930.0L1679.8 932.0L1679.9 934.0L1680.1 936.0L1680.2 938.0L1680.3 940.0L1680.4 938.0L1680.5 936.0L1680.6 934.0L1680.7 932.0L1680.8 930.0L1680.9 928.0L1681.0 925.9L1681.1 923.9L1681.2 921.9L1681.3 919.9L1681.4 917.9L1681.5 915.9L1681.7 913.9L1681.8 911.9L1681.9 909.9L1682.0 907.9L1682.2 905.9L1682.3 903.9L1682.5 901.9L1682.6 899.9L1682.7 897.9L1682.9 895.9L1683.0 893.9L1683.2 891.9L1683.3 889.9L1683.5 887.9L1683.7 885.9L1683.8 883.9L1684.0 881.9L1684.1 879.9L1684.3 877.9L1684.5 875.9L1684.6 873.9L1684.8 871.9L1685.0 869.9L1685.2 867.9L1685.3 865.9L1685.5 863.9L1685.7 861.9L1685.9 859.9L1686.1 857.9L1686.4 855.9L1686.6 853.9L1686.8 851.9L1687.0 849.9L1687.2 847.9L1687.5 845.9L1687.7 843.9L1687.9 841.9L1688.2 839.9L1688.5 837.4L1688.7 835.4L1689.0 833.4L1689.2 831.4L1689.5 829.4L1689.7 827.4L1690.0 825.5L1690.2 823.5L1690.5 821.5L1690.7 819.5L1691.0 817.5L1691.2 815.5L1691.5 813.5L1691.7 811.5L1692.0 809.5L1692.2 807.5L1692.5 805.5L1692.8 803.5L1693.1 801.5L1693.4 799.5L1693.7 797.5L1694.1 795.4L1694.4 793.1L1694.7 790.8L1695.1 788.6L1695.6 786.5L1696.1 784.7L1696.9 783.4L1698.0 782.5L1699.5 782.1L1701.2 782.2L1702.9 782.9L1704.4 784.0L1705.8 785.4L1707.0 787.0L1708.1 788.7L1709.0 790.5L1709.8 792.3L1710.6 794.2L1711.4 796.1L1712.1 797.9L1712.7 799.8L1713.4 801.8L1714.0 803.7L1714.7 805.6L1715.3 807.5L1716.0 809.4L1716.6 811.3L1717.2 813.2L1717.9 815.1L1718.5 817.0" stroke="#3e2a6e" stroke-width="10.0"/>
<path d="M178.3 915.0L178.5 913.0L178.8 911.0L179.0 909.0L179.2 907.0L179.5 905.0L179.7 903.1L179.9 901.1L180.1 899.1L180.4 897.1L180.6 895.1L180.8 893.1L181.1 891.1L181.3 889.1L181.6 887.1L181.8 885.2L182.0 883.2L182.3 881.2L182.5 879.2L182.8 877.2L183.0 875.2L183.2 873.2L183.5 871.2L183.7 869.2L183.9 867.2L184.1 865.3L184.3 863.3L184.6 861.3L184.8 859.3L185.0 857.3L185.2 855.3L185.4 853.3L185.6 851.3L185.7 849.3L185.9 847.3L186.1 845.3L186.3 843.3L186.5 841.3L186.7 839.3L186.9 837.3L187.0 835.3L187.2 833.4L187.4 831.4L187.6 829.4L187.7 827.4L187.9 825.4L188.1 823.4L188.3 821.4L188.5 819.4L188.7 817.4L189.0 815.4L189.2 813.4L189.5 811.4L189.8 809.5L190.1 807.5L190.4 805.5L190.7 803.5L191.1 801.5L191.5 799.6L191.8 797.6L192.2 795.6L192.7 793.7L193.1 791.7L193.5 789.8L194.0 787.8L194.5 785.8L195.0 783.9L195.6 782.0L196.3 780.1L197.1 778.1L198.0 776.2L199.1 774.3L200.1 772.7L201.1 771.6L201.9 771.1L202.6 771.4L203.1 772.2L203.6 773.5L204.0 775.2L204.4 777.2L204.8 779.4L205.2 781.8L205.5 784.3L205.8 786.9L206.1 789.4L206.4 791.9L206.7 794.2L207.0 796.4L207.3 798.4L207.6 800.4L207.8 802.4L208.1 804.4L208.4 806.4L208.6 808.4L208.9 810.4L209.1 812.4L209.3 814.4L209.6 816.4L209.8 818.3L210.0 820.3L210.2 822.3L210.4 824.3L210.7 826.3L210.9 828.3L211.1 830.3L211.3 832.3L211.5 834.3L211.7 836.3L212.0 838.3L212.2 840.3L212.4 842.3L212.6 844.8L212.8 846.8L213.0 848.7L213.2 850.7L213.4 852.7L213.6 854.7L213.7 856.7L213.9 858.7L214.0 860.7L214.2 862.7L214.3 864.7L214.4 866.7L214.5 868.7L214.6 870.7L214.7 872.7L214.8 874.7L214.8 876.7L214.9 878.7L215.0 880.7L215.0 882.7L215.1 884.7L215.1 886.7L215.2 888.7L215.2 890.7L215.3 892.7L215.3 894.7L215.4 896.7L215.4 898.7L215.5 900.7L215.5 902.7L215.6 904.7L215.6 906.7L215.6 908.7L215.7 910.7L215.7 912.8L215.7 914.8L215.8 916.8L215.8 918.8L215.9 920.8L215.9 922.8L215.9 924.8L216.0 926.8L216.0 928.8L216.0 930.8L216.0 932.8L216.1 934.8L216.1 936.8L216.1 938.8L216.2 940.8L216.2 942.8L216.2 944.8L216.3 946.8L216.3 948.8L216.3 950.8L216.4 952.8L216.4 954.8L216.4 956.8L216.5 958.8L216.5 960.8L216.6 962.8L216.6 964.8L216.6 966.9L216.7 968.9L216.7 970.9L216.7 972.9L216.8 974.9L216.8 976.9L216.8 978.9L216.9 980.9L216.9 982.9L217.0 984.9L217.0 986.9L217.0 988.9L217.1 990.9L217.1 992.9L217.1 994.9L217.2 996.9L217.2 998.9L217.2 1000.9L217.3 1002.9L217.3 1004.9L217.4 1006.9L217.4 1008.9L217.4 1010.9L217.5 1012.9L217.5 1014.9L217.5 1016.9L217.6 1018.9L217.6 1020.9L217.6 1022.9L217.7 1024.9L217.7 1026.9L217.7 1028.9L217.8 1030.9L217.8 1033.0L217.8 1035.0L217.9 1037.0L217.9 1039.0L217.9 1041.0L218.0 1043.0L218.0 1045.0L218.0 1047.0L218.1 1049.0L218.1 1051.0L218.1 1053.0L218.1 1055.0L218.2 1057.0L218.2 1059.0L218.2 1061.0L218.3 1063.0L218.3 1065.0L218.3 1063.0L218.4 1061.0L218.4 1059.0L218.5 1057.0L218.5 1055.0L218.5 1053.0L218.6 1051.0L218.6 1049.0L218.7 1047.0L218.7 1045.0L218.8 1043.0L218.8 1041.0L218.8 1039.0L218.9 1037.0L218.9 1035.0L219.0 1033.0L219.0 1031.0L219.1 1029.0L219.1 1027.0L219.2 1025.0L219.2 1023.0L219.3 1021.0L219.3 1019.0L219.4 1017.0L219.4 1014.9L219.5 1012.9L219.5 1010.9L219.6 1008.9L219.6 1006.9L219.7 1004.9L219.8 1002.9L219.8 1000.9L219.9 998.9L219.9 996.9L220.0 994.9L220.0 992.9L220.1 990.9L220.1 988.9L220.2 986.9L220.3 984.9L220.3 982.9L220.4 980.9L220.4 978.9L220.5 976.9L220.5 974.9L220.6 972.9L220.7 970.9L220.7 968.9L220.8 966.9L220.9 964.9L220.9 962.9L221.0 960.9L221.0 958.9L221.1 956.9L221.2 954.9L221.2 952.9L221.3 950.9L221.3 948.9L221.4 946.9L221.5 944.9L221.5 942.9L221.6 940.9L221.7 938.9L221.7 936.9L221.8 934.9L221.9 932.9L222.0 930.9L222.0 928.9L222.1 926.9L222.2 924.9L222.2 922.9L222.3 920.9L222.4 918.9L222.5 916.9L222.5 914.9L222.6 912.9L222.7 910.9L222.8 908.9L222.8 906.9L222.9 904.9L223.0 902.9L223.1 900.9L223.2 898.9L223.3 896.9L223.3 894.9L223.4 892.9L223.5 890.9L223.6 888.9L223.7 886.9L223.8 884.9L223.9 882.9L224.0 880.9L224.1 878.9L224.2 876.9L224.3 874.9L224.4 872.9L224.5 870.9L224.6 868.9L224.7 866.9L224.8 864.9L224.9 862.9L225.0 860.9L225.2 858.9L225.3 856.9L225.4 854.9L225.5 852.9L225.7 850.9L225.8 848.9L225.9 846.9L226.0 844.9L226.2 842.9L226.3 840.9L226.4 838.9L226.5 836.9L226.7 834.9L226.8 832.9L226.9 830.9L227.0 828.9L227.1 826.9L227.2 824.9L227.3 822.9L227.5 820.9L227.6 818.9L227.6 816.9L227.7 814.9L227.8 812.9L227.9 810.4L228.0 808.4L228.1 806.4L228.2 804.4L228.3 802.4L228.4 800.4L228.5 798.4L228.6 796.4L228.7 794.4L228.8 792.4L229.0 790.4L229.1 788.4L229.2 786.4L229.3 784.4L229.5 782.4L229.6 780.4L229.7 778.4L229.9 776.4L230.0 774.4L230.2 772.4L230.3 770.4L230.5 768.4L230.6 766.4L230.8 764.4L231.0 762.4L231.2 760.4L231.4 758.4L231.6 756.5L231.8 754.5L232.0 752.5L232.3 750.5L232.5 748.5L232.8 746.5L233.1 744.5L233.4 742.6L233.7 740.6L234.0 738.6L234.3 736.6L234.7 734.6L235.0 732.7L235.3 730.7L235.7 728.7L236.0 726.7L236.3 724.8L236.7 722.8L237.0 720.8L237.4 718.8L237.7 716.9L238.1 714.9L238.4 712.9L238.8 711.0L239.2 709.0L239.5 707.0L239.9 705.1L240.3 703.1L240.7 701.1L241.0 699.1L241.4 697.2L241.7 695.1L242.1 693.1L242.4 691.1L242.7 689.1L243.1 687.1L243.4 685.1L243.8 683.1L244.3 681.2L244.9 679.3L245.5 677.4L246.3 675.5L247.3 673.7L248.5 671.9L249.8 670.6L251.1 669.9L252.5 670.0L253.8 670.8L255.1 672.3L256.2 674.0L257.2 675.9L258.0 677.7L258.6 679.6L259.2 681.6L259.7 683.5L260.1 685.5L260.6 687.5L261.2 689.4L261.7 691.4L262.3 693.3L263.0 695.2L263.6 697.1L264.2 699.0L264.8 700.9L265.4 702.8L266.0 704.7L266.6 706.6L267.1 708.6L267.7 710.5L268.2 712.4L268.7 714.4L269.2 716.3L269.7 718.2L270.2 720.2L270.7 722.1L271.2 724.1L271.6 726.0L272.1 728.0L272.5 729.9L272.9 731.9L273.4 733.8L273.8 735.8L274.2 737.7L274.6 739.7L275.0 741.7L275.4 743.6L275.8 745.6L276.2 747.5L276.6 749.5L277.0 751.5L277.4 753.4L277.8 755.4L278.1 757.4L278.5 759.3L278.9 761.3L279.2 763.3L279.6 765.3L280.0 767.2L280.3 769.2L280.9 767.3L281.5 765.4L282.1 763.5L282.7 761.6L283.3 759.7L284.0 757.8L284.6 755.9L285.2 753.9L285.8 752.0L286.4 750.1L287.0 748.2L287.6 746.3L288.2 744.4L288.9 742.5L289.5 740.6L290.1 738.7L290.7 736.8L291.3 734.9L291.9 733.0L292.5 731.1L293.2 729.2L293.8 727.3L294.4 725.4L295.0 723.5L295.6 721.5L296.2 719.6L296.8 717.7L297.5 715.8L298.1 713.9L298.7 712.0L299.4 710.1L300.0 708.2L300.7 706.3L301.3 704.4L302.0 702.5L302.6 700.6L303.2 698.7L303.8 696.8L304.4 694.9L305.0 693.0L305.5 691.1L306.1 689.2L306.6 687.2L307.1 685.3L307.6 683.4L308.1 681.4L308.5 679.5L309.0 677.5L309.5 675.6L309.9 673.6L310.4 671.7L310.8 669.7L311.2 667.8L311.7 665.8L312.1 663.9L312.5 661.9L312.9 659.9L313.3 658.0L313.7 656.0L314.1 654.0L314.5 652.1L314.9 650.1L315.3 648.1L315.7 646.2L316.1 644.2L316.5 642.2L316.8 640.3L317.2 638.3L317.6 636.3L317.9 634.4L318.3 632.4L318.6 630.4L318.9 628.5L319.3 626.5L319.6 624.5L319.9 622.5L320.2 620.5L320.6 618.6L320.9 616.6L321.2 614.6L321.5 612.6L321.9 610.7L322.2 608.7L322.6 606.7L323.0 604.8L323.3 602.8L323.7 600.8L324.1 598.9L324.6 596.9L325.0 595.0L325.5 593.0L325.9 591.1L326.4 589.1L326.9 587.2L327.4 585.3L327.9 583.3L328.4 581.4L329.0 579.5L329.5 577.5L330.0 575.6L330.5 573.6L331.0 571.7L331.6 569.8L332.1 567.8L332.6 565.9L333.1 564.0L333.7 562.1L334.2 560.1L334.8 558.2L335.3 556.3L335.8 554.3L336.4 552.4L336.9 550.5L337.5 548.6L338.0 546.6L338.6 544.7L339.1 542.8L339.7 540.9L340.2 538.9L340.7 537.0L341.2 535.1L341.7 533.1L342.3 531.2L342.8 529.2L343.3 527.3L343.9 525.4L344.5 523.5L345.1 521.6L345.8 519.7L346.5 517.9L347.3 516.0L348.1 514.2L349.0 512.4L349.8 510.6L350.7 508.8L351.6 507.0L352.4 505.1L353.3 503.3L354.1 501.5L355.0 499.7L355.8 497.9L356.7 496.1L357.6 494.3L358.4 492.5L359.3 490.7L360.2 488.9L361.1 487.1L361.9 485.3L362.8 483.5L363.7 481.7L364.6 479.9L365.5 478.1L366.4 476.3L367.3 474.5L368.2 472.8L369.1 471.0L370.0 469.2L370.9 467.4L371.8 465.6L372.6 463.8L373.5 462.0L374.4 460.2L375.3 458.4L376.2 456.6L377.2 454.8L378.1 453.1L379.1 451.3L380.1 449.6L381.1 447.8L382.1 446.1L383.1 444.4L384.2 442.7L385.2 441.0L386.3 439.3L387.4 437.6L388.5 436.0L389.7 434.3L390.8 432.7L392.0 431.0L393.2 429.4L394.5 427.9L395.8 426.3L397.1 424.8L398.5 423.4L399.9 422.0L401.4 420.6L403.0 419.3L404.6 418.1L406.3 417.1L408.0 416.2L409.8 415.4L411.7 414.7L413.6 414.2L415.6 413.8L417.6 413.6L419.6 413.6L421.6 413.8L423.5 414.2L425.5 414.8L427.3 415.5L429.1 416.3L430.8 417.2L432.4 418.4L434.0 419.6L435.5 421.0L436.9 422.5L438.3 423.9L439.7 425.4L441.0 426.9L442.3 428.5L443.5 430.0L444.8 431.6L446.1 433.1L447.4 434.6L448.7 436.2L450.0 437.7L451.3 439.2L452.6 440.7L453.9 442.3L455.2 443.8L456.5 445.3L457.7 446.9L459.0 448.4L460.3 450.0L461.5 451.5L462.8 453.1L463.7 454.3L464.9 455.9L466.2 457.4L467.4 459.0L468.7 460.6L469.9 462.1L471.2 463.7L472.5 465.2L473.8 466.7L475.2 468.1L476.6 469.6L478.0 471.0L479.4 472.5L480.8 473.9L482.2 475.4L483.6 476.8L484.9 478.3L486.2 479.8L487.4 481.4L488.6 483.0L489.8 484.6L490.9 486.2L492.0 487.9L493.1 489.6L494.1 491.4L495.1 493.1L496.0 494.9L497.0 496.6L497.9 498.4L498.7 500.2L499.5 502.0L500.3 503.9L501.1 505.7L501.8 507.6L502.6 509.5L503.3 511.3L504.0 513.2L504.6 515.1L505.3 517.0L506.0 518.9L506.6 520.8L507.3 522.7L507.9 524.6L508.6 526.5L509.2 528.4L509.8 530.3L510.5 532.2L511.1 534.1L511.7 536.0L512.3 537.9L512.9 539.8L513.5 541.7L514.1 543.6L514.7 545.5L515.3 547.4L516.0 549.3L516.6 551.2L517.2 553.1L517.8 555.1L518.4 557.0L519.0 558.9L519.6 560.8L520.2 562.7L520.8 564.6L521.4 566.5L522.0 568.4L522.6 570.4L523.2 572.3L523.8 574.2L524.4 576.1L525.0 578.0L525.7 579.9L526.3 581.8L527.0 583.6L527.6 585.5L528.3 587.4L529.0 589.3L529.7 591.2L530.4 593.1L531.1 594.9L531.8 596.8L532.5 598.7L533.2 600.5L534.0 602.4L534.7 604.3L535.5 606.1L536.2 608.0L537.0 609.8L537.7 611.7L538.5 613.5L539.3 615.4L540.0 617.2L540.8 619.1L541.7 620.9L542.5 622.7L543.3 624.5L544.2 626.3L545.1 628.2L546.0 630.0L546.8 631.8L547.7 633.6L548.6 635.4L549.4 637.2L550.3 639.0L551.1 640.8L551.9 642.7L552.6 644.5L553.3 646.4L554.0 648.2L554.7 650.1L555.3 652.0L555.9 653.9L556.5 655.8L557.2 657.7L557.7 659.6L558.3 661.5L558.9 663.4L559.5 665.3L560.0 667.3L560.6 669.2L561.1 671.1L561.7 673.1L562.2 675.0L562.7 676.9L563.2 678.9L563.7 680.8L564.2 682.8L564.7 684.7L565.2 686.7L565.7 688.6L566.2 690.6L566.7 692.5L567.2 694.4L567.7 696.4L568.2 698.3L568.7 700.3L569.2 702.2L569.7 704.2L570.1 706.1L570.6 708.1L571.1 710.0L571.5 712.0L572.0 713.9L572.4 715.9L572.8 717.8L573.3 719.8L573.7 721.7L574.2 723.7L574.6 725.6L575.1 727.6L575.6 729.5L576.1 731.4L576.6 733.4L577.2 735.3L577.8 737.2L578.4 739.1L579.0 741.0L579.7 742.9L580.3 744.9L580.9 746.8L581.5 748.7L582.0 750.6L582.6 752.5L583.0 754.5L583.4 756.4L583.8 758.4L584.2 760.3L584.5 762.3L584.8 764.3L585.1 766.3L585.4 768.2L585.7 770.2L585.9 772.2L586.2 774.2L586.4 776.2L586.6 778.2L586.9 780.2L587.1 782.2L587.3 784.2L587.4 786.2L587.6 788.1L587.8 790.1L588.0 792.1L588.1 794.1L588.3 796.1L588.5 798.1L588.6 800.1L588.8 802.1L588.9 804.1L589.1 806.1L589.2 808.1L589.3 810.1L589.5 812.1L589.6 814.1L589.8 816.1L589.9 818.1L590.1 820.1L590.2 822.1L590.4 824.1L590.5 826.1L590.6 828.1L590.8 830.1L590.9 832.1L591.1 834.1L591.2 836.1L591.4 838.1L591.5 840.1L591.6 842.1L591.8 844.1L591.9 846.1L592.1 848.1L592.2 850.0L592.4 852.0L592.5 854.0L592.6 856.0L592.8 858.0L592.9 860.0L593.1 862.0L593.2 864.0L593.4 866.0L593.5 868.0L593.7 870.0L593.8 872.0L594.0 874.0L594.1 876.0L594.3 878.0L594.5 876.0L594.7 874.0L594.9 872.0L595.0 870.0L595.2 868.0L595.4 866.0L595.6 864.0L595.8 862.0L596.0 860.0L596.2 858.1L596.4 856.1L596.6 854.1L596.8 852.1L597.0 850.1L597.2 848.1L597.4 846.1L597.6 844.1L597.8 842.1L598.0 840.1L598.2 838.1L598.4 836.1L598.6 834.1L598.9 832.1L599.1 830.2L599.3 828.2L599.5 826.2L599.7 824.2L599.9 822.2L600.1 820.2L600.3 818.2L600.6 816.2L600.8 814.2L601.0 812.2L601.2 810.2L601.4 808.2L601.6 806.2L601.8 804.3L602.0 802.3L602.3 800.3L602.5 798.3L602.7 796.3L602.9 794.3L603.1 792.3L603.3 790.3L603.5 788.3L603.7 786.3L603.9 784.3L604.1 782.3L604.3 780.3L604.4 778.3L604.6 776.3L604.7 774.3L604.9 772.3L605.0 770.3L605.2 768.3L605.3 766.3L605.4 764.3L605.6 762.4L605.7 760.4L605.9 758.4L606.0 756.4L606.2 754.4L606.3 752.4L606.5 750.4L606.6 748.4L606.8 746.4L607.0 744.4L607.2 742.4L607.4 740.4L607.6 738.4L607.8 736.4L608.0 734.4L608.2 732.4L608.4 730.4L608.6 728.4L608.8 726.4L609.1 724.4L609.3 722.5L609.5 720.5L609.7 718.5L610.0 716.5L610.2 714.5L610.5 712.5L610.7 710.5L610.9 708.5L611.2 706.5L611.4 704.5L611.7 702.6L611.9 700.6L612.2 698.6L612.4 696.6L612.6 694.6L612.9 692.6L613.1 690.6L613.4 688.6L613.6 686.6L613.8 684.6L614.1 682.6L614.3 680.5L614.6 678.5L614.9 676.5L615.1 674.5L615.4 672.6L615.7 670.6L616.0 668.6L616.3 666.6L616.6 664.6L616.9 662.6L617.3 660.7L617.6 658.7L618.0 656.7L618.3 654.8L618.7 652.9L619.1 650.9L619.6 649.0L620.0 647.0L620.5 644.9L621.0 642.7L621.6 640.4L622.2 638.0L622.9 635.6L623.6 633.3L624.4 631.1L625.2 629.1L626.0 627.4L627.0 626.1L627.9 625.1L629.0 624.7L630.3 624.8L631.7 625.4L633.2 626.4L634.9 627.8L636.4 629.3L637.8 630.9L639.0 632.6L640.0 634.2L640.8 635.9L641.5 637.7L642.2 639.5L642.8 641.4L643.4 643.3L643.9 645.3L644.5 647.3L644.9 649.3L645.4 651.4L645.9 653.4L646.4 655.5L646.9 657.5L647.4 659.4L647.9 661.4L648.4 663.4L648.9 665.3L649.4 667.2L649.8 669.2L650.3 671.1L650.8 673.1L651.3 675.0L651.6 673.1L652.0 671.1L652.3 669.1L652.6 667.1L653.0 665.2L653.3 663.2L653.7 661.2L654.0 659.3L654.3 657.3L654.7 655.3L655.0 653.3L655.3 651.4L655.7 649.4L656.0 647.4L656.3 645.4L656.6 643.4L656.9 641.5L657.3 639.5L657.6 637.5L657.9 635.5L658.2 633.6L658.5 631.6L658.8 629.6L659.1 627.6L659.4 625.6L659.7 623.7L660.0 621.7L660.3 619.7L660.6 617.7L660.8 615.7L661.1 613.8L661.4 611.8L661.7 609.8L661.9 607.8L662.2 605.8L662.5 603.9L662.8 601.9L663.0 599.9L663.3 597.9L663.6 595.9L663.8 593.9L664.1 591.9L664.3 590.0L664.6 588.0L664.9 586.0L665.1 584.0L665.4 582.0L665.6 580.0L665.9 578.0L666.1 576.1L666.4 574.1L666.6 572.1L666.9 570.1L667.1 568.1L667.3 566.1L667.6 564.1L667.8 562.1L668.0 560.2L668.3 558.2L668.5 556.2L668.7 554.2L669.0 552.2L669.2 550.2L669.4 548.2L669.6 546.2L669.8 544.2L670.0 542.2L670.2 540.2L670.4 538.2L670.6 536.2L670.8 534.2L671.0 532.3L671.3 530.3L671.5 528.3L671.8 526.3L672.2 524.4L672.5 522.4L672.9 520.4L673.3 518.5L673.7 516.5L674.2 514.5L674.7 512.6L675.2 510.6L675.7 508.7L676.2 506.7L676.8 504.8L677.4 502.9L678.0 500.9L678.6 499.0L679.3 497.1L679.9 495.2L680.6 493.4L681.3 491.5L682.0 489.6L682.7 487.8L683.5 485.9L684.3 484.0L685.2 482.2L686.2 480.4L687.2 478.7L688.3 477.1L689.6 475.5L691.0 474.1L692.5 472.8L694.2 471.7L696.0 470.8L697.8 470.4L699.6 470.5L701.5 470.9L703.4 471.6L705.3 472.4L707.0 473.5L708.7 474.6L710.3 475.8L711.7 477.1L713.1 478.5L714.4 480.1L715.7 481.7L716.8 483.4L717.9 485.1L718.9 486.9L719.8 488.6L720.7 490.4L721.5 492.1L722.3 493.9L723.0 495.8L723.7 497.6L724.4 499.5L725.1 501.4L725.7 503.3L726.3 505.2L726.9 507.1L727.5 509.1L728.1 511.1L728.6 513.0L729.1 515.0L729.7 517.0L730.2 518.9L730.7 520.9L731.1 522.9L731.6 524.8L732.1 526.8L732.5 528.7L733.0 530.7L733.4 532.6L733.8 534.6L734.2 536.5L734.6 538.5L735.0 540.5L735.4 542.4L735.8 544.4L736.1 546.4L736.5 548.4L736.8 550.3L737.2 552.3L737.5 554.3L737.9 556.3L738.2 558.2L738.5 560.2L738.9 562.2L739.2 564.2L739.5 566.1L739.8 568.1L740.1 570.1L740.4 572.1L740.7 574.0L741.0 576.0L741.3 578.0L741.6 580.0L741.9 582.0L742.2 583.9L742.5 585.9L742.8 587.9L743.1 589.9L743.3 591.9L743.6 593.9L743.9 595.8L744.1 597.8L744.4 599.8L744.7 601.8L744.9 603.8L745.2 605.8L745.5 607.7L745.7 609.7L746.0 611.7L746.3 613.7L746.5 615.7L746.8 617.7L747.0 619.7L747.3 621.7L747.5 623.6L747.8 625.6L748.0 627.6L748.2 629.6L748.4 631.6L748.7 633.6L748.9 635.6L749.1 637.6L749.3 639.6L749.5 641.5L749.7 643.5L749.9 645.5L750.1 647.5L750.3 649.5L750.5 651.5L750.6 653.5L750.8 655.5L751.0 657.5L751.2 659.5L751.3 661.5L751.5 663.5L751.7 665.5L751.8 667.5L752.0 669.5L752.2 671.5L752.3 673.4L752.5 675.4L752.7 677.4L752.8 679.4L753.0 681.4L753.1 683.4L753.3 685.4L753.5 687.4L753.6 689.4L753.8 691.4L753.9 693.4L754.1 695.4L754.2 697.4L754.4 699.4L754.5 701.4L754.7 703.4L754.8 705.4L755.0 707.4L755.1 709.4L755.3 711.4L755.4 713.4L755.6 715.4L755.8 717.4L755.9 719.4L756.1 721.3L756.3 723.3L756.5 725.3L756.7 727.3L756.9 729.3L757.0 731.3L757.2 733.3L757.4 735.3L757.6 737.3L757.8 739.3L758.0 741.3L758.2 743.3L758.4 745.3L758.7 747.3L758.9 749.2L759.1 751.2L759.3 753.2L759.5 755.2L759.7 757.2L759.9 759.2L760.1 761.2L760.3 763.2L760.6 765.2L760.8 767.2L761.0 769.1L761.2 771.1L761.4 773.1L761.7 775.1L761.9 777.1L762.1 779.1L762.4 781.1L762.6 783.1L762.8 785.1L763.1 787.0L763.3 789.0L763.5 791.0L763.8 793.0L764.0 795.0L764.2 793.0L764.4 791.0L764.6 789.0L764.8 787.0L765.0 785.0L765.2 783.0L765.4 781.0L765.6 779.0L765.9 777.0L766.1 775.0L766.3 773.0L766.6 771.1L766.8 769.1L767.0 767.1L767.3 765.1L767.5 763.1L767.8 761.1L768.1 759.1L768.3 757.1L768.6 755.1L768.8 753.2L769.1 751.2L769.4 749.2L769.7 747.2L770.0 745.2L770.3 743.2L770.6 741.3L770.9 739.3L771.3 737.3L771.6 735.3L771.9 733.3L772.3 731.4L772.6 729.4L772.9 727.4L773.3 725.4L773.6 723.5L773.9 721.5L774.3 719.5L774.6 717.5L774.9 715.5L775.2 713.5L775.5 711.5L775.8 709.5L776.0 707.5L776.3 705.5L776.5 703.5L776.7 701.4L777.0 699.4L777.2 697.4L777.5 695.4L777.8 693.4L778.1 691.4L778.4 689.4L778.7 687.5L779.1 685.5L779.6 683.6L780.1 681.7L780.7 679.7L781.5 677.6L782.4 675.6L783.4 673.8L784.5 672.5L785.6 671.9L786.7 672.1L787.9 673.0L789.0 674.5L790.0 676.4L791.0 678.4L791.8 680.5L792.5 682.4L793.1 684.3L793.7 686.2L794.1 688.1L794.6 690.0L795.0 692.0L795.4 694.0L795.8 695.9L796.2 697.9L796.6 699.9L796.9 701.9L797.3 704.0L797.6 706.0L798.0 708.0L798.4 710.0L798.8 711.9L799.3 713.9L799.7 715.9L800.2 717.8L800.7 719.7L801.2 721.7L801.8 723.6L802.3 725.5L802.8 727.5L803.4 729.4L803.9 731.3L804.5 733.3L805.0 735.2L805.6 737.1L806.1 739.1L806.7 741.0L807.3 742.9L807.8 744.8L808.4 746.8L808.9 748.7L809.5 750.6L810.1 752.5L810.6 754.5L811.2 756.4L811.8 758.3L812.4 760.2L812.9 762.1L813.5 764.1L814.1 766.0L814.7 767.9L815.7 764.4L816.8 761.0L817.8 757.8L818.8 754.8L819.8 751.9L820.7 749.3L821.7 746.8L822.6 744.6L823.5 742.5L824.3 740.6L825.2 738.9L826.0 737.4L826.8 736.1L827.5 735.0L828.2 734.0L828.9 733.2L829.6 732.6L830.2 732.2L830.8 732.0L831.3 732.0L831.9 732.3L832.4 732.9L832.9 733.8L833.4 735.1L833.9 736.6L834.4 738.3L834.8 740.2L835.3 742.4L835.7 744.7L836.1 747.1L836.5 749.6L836.9 752.1L837.3 754.7L837.6 757.3L837.9 759.8L838.2 762.3L838.5 764.7L838.7 767.0L838.9 769.1L839.1 771.2L839.3 773.2L839.5 775.2L839.6 777.2L839.8 779.2L840.0 781.2L840.1 783.2L840.3 785.2L840.4 787.2L840.5 789.2L840.7 791.2L840.8 793.2L840.9 795.2L841.0 797.2L841.1 799.2L841.3 801.2L841.4 803.2L841.5 805.2L841.6 807.2L841.7 809.2L841.7 811.2L841.8 813.2L841.9 815.2L842.0 817.2L842.1 819.3L842.2 821.3L842.2 823.3L842.3 825.8L842.4 827.8L842.5 829.8L842.6 831.8L842.6 833.8L842.7 835.8L842.8 837.8L842.8 839.8L842.9 841.8L842.9 843.8L843.0 845.8L843.1 847.8L843.1 849.8L843.2 851.8L843.2 853.8L843.3 855.8L843.3 857.8L843.4 859.8L843.4 861.8L843.5 863.8L843.5 865.8L843.5 867.8L843.6 869.8L843.6 871.8L843.7 873.8L843.7 875.9L843.8 877.9L843.8 879.9L843.8 881.9L843.9 883.9L843.9 885.9L844.0 887.9L844.0 889.9L844.0 891.9L844.1 893.9L844.1 895.9L844.1 897.9L844.2 899.9L844.2 901.9L844.3 903.9L844.3 905.9L844.3 907.9L844.4 909.9L844.4 911.9L844.4 913.9L844.5 915.9L844.5 917.9L844.5 919.9L844.6 921.9L844.6 923.9L844.6 925.9L844.7 927.9L844.7 930.0L844.7 932.0L844.7 934.0L844.8 936.0L844.8 938.0L844.8 940.0L844.8 942.0L844.9 944.0L844.9 946.0L844.9 948.0L844.9 950.0L845.0 952.0L845.0 954.0L845.0 956.0L845.0 954.0L845.1 952.0L845.1 950.0L845.2 948.0L845.2 946.0L845.2 944.0L845.3 942.0L845.3 940.0L845.4 938.0L845.4 936.0L845.4 934.0L845.5 932.0L845.5 930.0L845.6 928.0L845.6 926.0L845.6 924.0L845.7 922.0L845.7 920.0L845.8 918.0L845.8 916.0L845.8 914.0L845.9 912.0L845.9 910.0L846.0 908.0L846.0 906.0L846.0 904.0L846.1 902.0L846.1 900.0L846.1 898.0L846.2 896.0L846.2 894.0L846.3 892.0L846.3 890.0L846.3 888.0L846.4 885.9L846.4 883.9L846.4 881.9L846.5 879.9L846.5 877.9L846.6 875.9L846.6 873.9L846.6 871.9L846.7 869.9L846.7 867.9L846.7 865.9L846.8 863.9L846.8 861.9L846.8 859.9L846.9 857.9L846.9 855.9L846.9 853.9L847.0 851.9L847.0 849.9L847.0 847.9L847.1 845.9L847.1 843.9L847.1 841.9L847.2 839.9L847.2 837.9L847.2 835.9L847.3 833.9L847.3 831.9L847.3 829.9L847.4 827.9L847.4 825.9L847.4 823.9L847.4 821.9L847.5 819.9L847.5 817.9L847.5 815.9L847.6 813.9L847.6 811.9L847.7 809.9L847.7 807.9L847.7 805.9L847.8 803.9L847.8 801.9L847.8 799.9L847.9 797.9L847.9 795.9L848.0 793.9L848.0 791.9L848.0 789.9L848.1 787.9L848.1 785.9L848.2 783.9L848.2 781.9L848.3 779.9L848.3 777.9L848.4 775.9L848.4 773.9L848.5 771.9L848.5 769.9L848.6 767.9L848.7 765.9L848.7 763.9L848.8 761.9L848.8 759.9L848.9 757.9L848.9 755.9L849.0 753.9L849.1 751.9L849.1 749.9L849.2 747.9L849.2 745.9L849.3 743.9L849.4 741.8L849.4 739.8L849.5 737.8L849.6 735.8L849.6 733.8L849.7 731.8L849.8 729.8L849.8 727.8L849.9 725.8L849.9 723.8L850.0 721.8L850.1 719.8L850.1 717.8L850.2 715.8L850.3 713.8L850.3 711.8L850.4 709.8L850.5 707.8L850.5 705.8L850.6 703.8L850.7 701.8L850.8 699.8L850.8 697.8L850.9 695.8L851.0 693.8L851.0 691.8L851.1 689.8L851.2 687.8L851.3 685.8L851.3 683.8L851.4 681.8L851.5 679.8L851.6 677.8L851.6 675.8L851.7 673.8L851.8 671.8L851.9 669.8L851.9 667.8L852.0 665.8L852.1 663.8L852.2 661.8L852.2 659.8L852.3 657.8L852.4 655.8L852.5 653.8L852.6 651.8L852.6 649.8L852.7 647.8L852.8 645.8L852.9 643.8L852.9 641.8L853.0 639.8L853.1 637.8L853.2 635.8L853.2 633.8L853.3 631.8L853.4 629.8L853.4 627.8L853.5 625.8L853.6 623.8L853.7 621.8L853.7 619.8L853.8 617.8L853.9 615.8L854.0 613.8L854.0 611.8L854.1 609.8L854.2 607.8L854.3 605.8L854.3 603.8L854.4 601.8L854.5 599.8L854.6 597.8L854.7 595.8L854.7 593.8L854.8 591.8L854.9 589.8L855.0 587.8L855.1 585.8L855.1 583.8L855.2 581.8L855.3 579.8L855.4 577.8L855.5 575.8L855.5 573.8L855.6 571.8L855.7 569.8L855.8 567.8L855.9 565.8L855.9 563.8L856.0 561.8L856.1 559.8L856.2 557.8L856.3 555.8L856.4 553.8L856.4 551.8L856.5 549.8L856.6 547.8L856.7 545.8L856.8 543.8L856.9 541.8L856.9 539.8L857.0 537.8L857.1 535.8L857.2 533.8L857.3 531.8L857.4 529.8L857.5 527.8L857.6 525.8L857.7 523.8L857.8 521.8L857.8 519.8L857.9 517.8L858.0 515.8L858.1 513.8L858.2 511.8L858.3 509.8L858.4 507.8L858.5 505.8L858.6 503.8L858.7 501.8L858.9 499.8L859.0 497.8L859.1 495.8L859.2 493.8L859.3 491.8L859.4 489.8L859.5 487.8L859.6 485.8L859.7 484.3L859.8 482.3L860.0 480.3L860.1 478.3L860.2 476.3L860.3 474.3L860.5 472.3L860.6 470.3L860.7 468.3L860.8 466.3L861.0 464.4L861.1 462.4L861.2 460.4L861.4 458.4L861.5 456.4L861.7 454.4L861.8 452.4L861.9 450.4L862.1 448.4L862.2 446.4L862.4 444.4L862.5 442.4L862.7 440.4L862.8 438.4L863.0 436.4L863.1 434.4L863.3 432.4L863.5 430.4L863.6 428.4L863.8 426.4L863.9 424.4L864.1 422.4L864.3 420.4L864.4 418.4L864.6 416.4L864.8 414.4L864.9 412.4L865.1 410.4L865.3 408.4L865.4 406.5L865.6 404.5L865.8 402.5L866.0 400.5L866.1 398.5L866.3 396.5L866.5 394.5L866.7 392.5L866.9 390.5L867.0 388.5L867.2 386.5L867.4 384.5L867.6 382.5L867.8 380.5L867.9 378.5L868.1 376.5L868.3 374.5L868.5 372.5L868.7 370.6L868.9 368.6L869.1 366.6L869.3 364.6L869.5 362.6L869.7 360.6L869.9 358.6L870.0 356.6L870.2 354.6L870.4 352.6L870.6 350.6L870.8 348.6L871.0 346.6L871.2 344.7L871.4 342.7L871.6 340.7L871.8 338.7L872.0 336.7L872.2 334.7L872.4 332.7L872.6 330.7L872.8 328.7L873.0 326.7L873.2 324.7L873.4 322.8L873.7 320.8L873.9 318.8L874.1 316.8L874.3 314.8L874.5 312.8L874.7 310.8L874.9 308.8L875.1 306.8L875.3 304.8L875.6 302.8L875.8 300.9L876.0 298.9L876.2 296.9L876.4 294.9L876.7 292.9L876.9 290.9L877.1 288.9L877.3 286.9L877.6 284.9L877.8 282.9L878.0 280.9L878.3 279.0L878.5 277.0L878.7 275.0L879.0 273.0L879.2 271.0L879.5 269.0L879.7 267.0L880.0 265.0L880.2 263.0L880.4 261.0L880.7 259.1L880.9 257.1L881.2 255.1L881.5 253.1L881.7 251.1L882.0 249.1L882.2 247.1L882.5 245.1L882.8 243.2L883.0 241.2L883.3 239.2L883.6 237.2L883.8 235.2L884.1 233.2L884.4 231.2L884.6 229.3L884.9 227.3L885.2 225.3L885.5 223.3L885.8 221.3L886.1 219.4L886.4 217.4L886.6 215.4L886.9 213.4L887.2 211.4L887.5 209.5L887.8 207.5L888.1 205.5L888.4 203.5L888.7 201.6L889.0 199.6L889.4 197.6L889.7 195.6L890.0 193.7L890.3 191.7L890.6 189.7L890.9 187.7L891.3 185.8L891.6 183.8L891.9 181.8L892.3 179.9L892.6 177.9L893.0 175.9L893.3 174.0L893.7 172.0L894.0 170.0L894.4 168.0L894.7 166.1L895.1 164.1L895.5 162.1L895.9 160.2L896.2 158.2L896.6 156.2L897.0 154.2L897.4 152.3L897.8 150.3L898.2 148.3L898.6 146.4L899.1 144.4L899.5 142.4L899.9 140.5L900.3 138.5L900.8 136.6L901.2 134.6L901.7 132.6L902.1 130.7L902.6 128.7L903.0 126.8L903.5 124.8L904.0 122.9L904.5 120.9L904.9 119.0L905.4 117.1L905.9 115.1L906.4 113.2L906.9 111.3L907.4 109.3L908.0 107.4L908.5 105.5L909.0 103.6L909.5 101.6L910.1 99.7L910.6 97.8L911.2 95.9L911.7 93.9L912.3 91.9L912.8 90.0L913.4 88.0L914.0 86.0L914.6 84.0L915.2 82.1L915.8 80.1L916.4 78.1L917.1 76.1L917.7 74.2L918.4 72.3L919.1 70.3L919.8 68.4L920.5 66.5L921.3 64.7L922.0 62.8L922.8 61.0L923.7 59.3L924.5 57.5L925.4 55.8L926.3 54.1L927.2 52.5L928.2 50.9L929.2 49.3L930.3 47.8L931.5 46.3L932.8 44.8L934.1 43.4L935.5 42.0L937.0 40.6L938.5 39.3L940.1 37.9L941.7 36.6L943.3 35.3L945.0 34.1L946.7 32.8L948.4 31.6L950.1 32.8L951.8 34.1L953.5 35.3L955.1 36.6L956.7 37.9L958.3 39.3L959.8 40.6L961.3 42.0L962.7 43.4L964.0 44.8L965.3 46.3L966.5 47.8L967.6 49.3L968.6 50.9L969.6 52.5L970.5 54.1L971.4 55.8L972.3 57.5L973.1 59.3L974.0 61.0L974.8 62.8L975.5 64.7L976.3 66.5L977.0 68.4L977.7 70.3L978.4 72.3L979.1 74.2L979.7 76.1L980.4 78.1L981.0 80.1L981.6 82.1L982.2 84.0L982.8 86.0L983.4 88.0L984.0 90.0L984.5 91.9L985.1 93.9L985.6 95.9L986.2 97.8L986.7 99.7L987.3 101.6L987.8 103.6L988.3 105.5L988.8 107.4L989.4 109.3L989.9 111.3L990.4 113.2L990.9 115.1L991.4 117.1L991.9 119.0L992.3 120.9L992.8 122.9L993.3 124.8L993.8 126.8L994.2 128.7L994.7 130.7L995.1 132.6L995.6 134.6L996.0 136.6L996.5 138.5L996.9 140.5L997.3 142.4L997.7 144.4L998.2 146.4L998.6 148.3L999.0 150.3L999.4 152.3L999.8 154.2L1000.2 156.2L1000.6 158.2L1000.9 160.2L1001.3 162.1L1001.7 164.1L1002.1 166.1L1002.4 168.0L1002.8 170.0L1003.1 172.0L1003.5 174.0L1003.8 175.9L1004.2 177.9L1004.5 179.9L1004.9 181.8L1005.2 183.8L1005.5 185.8L1005.9 187.7L1006.2 189.7L1006.5 191.7L1006.8 193.7L1007.1 195.6L1007.4 197.6L1007.8 199.6L1008.1 201.6L1008.4 203.5L1008.7 205.5L1009.0 207.5L1009.3 209.5L1009.6 211.4L1009.9 213.4L1010.2 215.4L1010.4 217.4L1010.7 219.4L1011.0 221.3L1011.3 223.3L1011.6 225.3L1011.9 227.3L1012.2 229.3L1012.4 231.2L1012.7 233.2L1013.0 235.2L1013.2 237.2L1013.5 239.2L1013.8 241.2L1014.0 243.2L1014.3 245.1L1014.6 247.1L1014.8 249.1L1015.1 251.1L1015.3 253.1L1015.6 255.1L1015.9 257.1L1016.1 259.1L1016.4 261.0L1016.6 263.0L1016.8 265.0L1017.1 267.0L1017.3 269.0L1017.6 271.0L1017.8 273.0L1018.1 275.0L1018.3 277.0L1018.5 279.0L1018.8 280.9L1019.0 282.9L1019.2 284.9L1019.5 286.9L1019.7 288.9L1019.9 290.9L1020.1 292.9L1020.4 294.9L1020.6 296.9L1020.8 298.9L1021.0 300.9L1021.2 302.8L1021.5 304.8L1021.7 306.8L1021.9 308.8L1022.1 310.8L1022.3 312.8L1022.5 314.8L1022.7 316.8L1022.9 318.8L1023.1 320.8L1023.4 322.8L1023.6 324.7L1023.8 326.7L1024.0 328.7L1024.2 330.7L1024.4 332.7L1024.6 334.7L1024.8 336.7L1025.0 338.7L1025.2 340.7L1025.4 342.7L1025.6 344.7L1025.8 346.6L1026.0 348.6L1026.2 350.6L1026.4 352.6L1026.6 354.6L1026.8 356.6L1026.9 358.6L1027.1 360.6L1027.3 362.6L1027.5 364.6L1027.7 366.6L1027.9 368.6L1028.1 370.6L1028.3 372.5L1028.5 374.5L1028.7 376.5L1028.9 378.5L1029.0 380.5L1029.2 382.5L1029.4 384.5L1029.6 386.5L1029.8 388.5L1029.9 390.5L1030.1 392.5L1030.3 394.5L1030.5 396.5L1030.7 398.5L1030.8 400.5L1031.0 402.5L1031.2 404.5L1031.4 406.5L1031.5 408.4L1031.7 410.4L1031.9 412.4L1032.0 414.4L1032.2 416.4L1032.4 418.4L1032.5 420.4L1032.7 422.4L1032.9 424.4L1033.0 426.4L1033.2 428.4L1033.3 430.4L1033.5 432.4L1033.7 434.4L1033.8 436.4L1034.0 438.4L1034.1 440.4L1034.3 442.4L1034.4 444.4L1034.6 446.4L1034.7 448.4L1034.9 450.4L1035.0 452.4L1035.1 454.4L1035.3 456.4L1035.4 458.4L1035.6 460.4L1035.7 462.4L1035.8 464.4L1036.0 466.3L1036.1 468.3L1036.2 470.3L1036.3 472.3L1036.5 474.3L1036.6 476.3L1036.7 478.3L1036.8 480.3L1037.0 482.3L1037.1 484.3L1037.2 485.8L1037.3 487.8L1037.4 489.8L1037.5 491.8L1037.6 493.8L1037.7 495.8L1037.8 497.8L1037.9 499.8L1038.1 501.8L1038.2 503.8L1038.3 505.8L1038.4 507.8L1038.5 509.8L1038.6 511.8L1038.7 513.8L1038.8 515.8L1038.9 517.8L1039.0 519.8L1039.0 521.8L1039.1 523.8L1039.2 525.8L1039.3 527.8L1039.4 529.8L1039.5 531.8L1039.6 533.8L1039.7 535.8L1039.8 537.8L1039.9 539.8L1039.9 541.8L1040.0 543.8L1040.1 545.8L1040.2 547.8L1040.3 549.8L1040.4 551.8L1040.4 553.8L1040.5 555.8L1040.6 557.8L1040.7 559.8L1040.8 561.8L1040.9 563.8L1040.9 565.8L1041.0 567.8L1041.1 569.8L1041.2 571.8L1041.3 573.8L1041.3 575.8L1041.4 577.8L1041.5 579.8L1041.6 581.8L1041.7 583.8L1041.7 585.8L1041.8 587.8L1041.9 589.8L1042.0 591.8L1042.1 593.8L1042.1 595.8L1042.2 597.8L1042.3 599.8L1042.4 601.8L1042.5 603.8L1042.5 605.8L1042.6 607.8L1042.7 609.8L1042.8 611.8L1042.8 613.8L1042.9 615.8L1043.0 617.8L1043.1 619.8L1043.1 621.8L1043.2 623.8L1043.3 625.8L1043.4 627.8L1043.4 629.8L1043.5 631.8L1043.6 633.8L1043.6 635.8L1043.7 637.8L1043.8 639.8L1043.9 641.8L1043.9 643.8L1044.0 645.8L1044.1 647.8L1044.2 649.8L1044.2 651.8L1044.3 653.8L1044.4 655.8L1044.5 657.8L1044.6 659.8L1044.6 661.8L1044.7 663.8L1044.8 665.8L1044.9 667.8L1044.9 669.8L1045.0 671.8L1045.1 673.8L1045.2 675.8L1045.2 677.8L1045.3 679.8L1045.4 681.8L1045.5 683.8L1045.5 685.8L1045.6 687.8L1045.7 689.8L1045.8 691.8L1045.8 693.8L1045.9 695.8L1046.0 697.8L1046.0 699.8L1046.1 701.8L1046.2 703.8L1046.3 705.8L1046.3 707.8L1046.4 709.8L1046.5 711.8L1046.5 713.8L1046.6 715.8L1046.7 717.8L1046.7 719.8L1046.8 721.8L1046.9 723.8L1046.9 725.8L1047.0 727.8L1047.0 729.8L1047.1 731.8L1047.2 733.8L1047.2 735.8L1047.3 737.8L1047.4 739.8L1047.4 741.8L1047.5 743.9L1047.6 745.9L1047.6 747.9L1047.7 749.9L1047.7 751.9L1047.8 753.9L1047.9 755.9L1047.9 757.9L1048.0 759.9L1048.0 761.9L1048.1 763.9L1048.1 765.9L1048.2 767.9L1048.3 769.9L1048.3 771.9L1048.4 773.9L1048.4 775.9L1048.5 777.9L1048.5 779.9L1048.6 781.9L1048.6 783.9L1048.7 785.9L1048.7 787.9L1048.8 789.9L1048.8 791.9L1048.8 793.9L1048.9 795.9L1048.9 797.9L1049.0 799.9L1049.0 801.9L1049.0 803.9L1049.1 805.9L1049.1 807.9L1049.1 809.9L1049.2 811.9L1049.2 813.9L1049.3 815.9L1049.3 817.9L1049.3 819.9L1049.4 821.9L1049.4 823.9L1049.4 825.9L1049.4 827.9L1049.5 829.9L1049.5 831.9L1049.5 833.9L1049.6 835.9L1049.6 837.9L1049.6 839.9L1049.7 841.9L1049.7 843.9L1049.7 845.9L1049.8 847.9L1049.8 849.9L1049.8 851.9L1049.9 853.9L1049.9 855.9L1049.9 857.9L1050.0 859.9L1050.0 861.9L1050.0 863.9L1050.1 865.9L1050.1 867.9L1050.1 869.9L1050.2 871.9L1050.2 873.9L1050.2 875.9L1050.3 877.9L1050.3 879.9L1050.4 881.9L1050.4 883.9L1050.4 885.9L1050.5 888.0L1050.5 890.0L1050.5 892.0L1050.6 894.0L1050.6 896.0L1050.7 898.0L1050.7 900.0L1050.7 902.0L1050.8 904.0L1050.8 906.0L1050.8 908.0L1050.9 910.0L1050.9 912.0L1051.0 914.0L1051.0 916.0L1051.0 918.0L1051.1 920.0L1051.1 922.0L1051.2 924.0L1051.2 926.0L1051.2 928.0L1051.3 930.0L1051.3 932.0L1051.4 934.0L1051.4 936.0L1051.4 938.0L1051.5 940.0L1051.5 942.0L1051.6 944.0L1051.6 946.0L1051.6 948.0L1051.7 950.0L1051.7 952.0L1051.8 954.0L1051.8 956.0L1051.8 954.0L1051.8 952.0L1051.9 950.0L1051.9 948.0L1051.9 946.0L1051.9 944.0L1052.0 942.0L1052.0 940.0L1052.0 938.0L1052.0 936.0L1052.1 934.0L1052.1 932.0L1052.1 930.0L1052.1 927.9L1052.2 925.9L1052.2 923.9L1052.2 921.9L1052.3 919.9L1052.3 917.9L1052.3 915.9L1052.4 913.9L1052.4 911.9L1052.4 909.9L1052.5 907.9L1052.5 905.9L1052.5 903.9L1052.6 901.9L1052.6 899.9L1052.7 897.9L1052.7 895.9L1052.7 893.9L1052.8 891.9L1052.8 889.9L1052.8 887.9L1052.9 885.9L1052.9 883.9L1053.0 881.9L1053.0 879.9L1053.0 877.9L1053.1 875.9L1053.1 873.8L1053.2 871.8L1053.2 869.8L1053.3 867.8L1053.3 865.8L1053.3 863.8L1053.4 861.8L1053.4 859.8L1053.5 857.8L1053.5 855.8L1053.6 853.8L1053.6 851.8L1053.7 849.8L1053.7 847.8L1053.8 845.8L1053.9 843.8L1053.9 841.8L1054.0 839.8L1054.0 837.8L1054.1 835.8L1054.2 833.8L1054.2 831.8L1054.3 829.8L1054.4 827.8L1054.5 825.8L1054.6 823.3L1054.6 821.3L1054.7 819.3L1054.8 817.2L1054.9 815.2L1055.0 813.2L1055.1 811.2L1055.1 809.2L1055.2 807.2L1055.3 805.2L1055.4 803.2L1055.5 801.2L1055.7 799.2L1055.8 797.2L1055.9 795.2L1056.0 793.2L1056.1 791.2L1056.3 789.2L1056.4 787.2L1056.5 785.2L1056.7 783.2L1056.8 781.2L1057.0 779.2L1057.2 777.2L1057.3 775.2L1057.5 773.2L1057.7 771.2L1057.9 769.1L1058.1 767.0L1058.3 764.7L1058.6 762.3L1058.9 759.8L1059.2 757.3L1059.5 754.7L1059.9 752.1L1060.3 749.6L1060.7 747.1L1061.1 744.7L1061.5 742.4L1062.0 740.2L1062.4 738.3L1062.9 736.6L1063.4 735.1L1063.9 733.8L1064.4 732.9L1064.9 732.3L1065.5 732.0L1066.0 732.0L1066.6 732.2L1067.2 732.6L1067.9 733.2L1068.6 734.0L1069.3 735.0L1070.0 736.1L1070.8 737.4L1071.6 738.9L1072.5 740.6L1073.3 742.5L1074.2 744.6L1075.1 746.8L1076.1 749.3L1077.0 751.9L1078.0 754.8L1079.0 757.8L1080.0 761.0L1081.1 764.4L1082.1 767.9L1082.7 766.0L1083.3 764.1L1083.9 762.1L1084.4 760.2L1085.0 758.3L1085.6 756.4L1086.2 754.5L1086.7 752.5L1087.3 750.6L1087.9 748.7L1088.4 746.8L1089.0 744.8L1089.5 742.9L1090.1 741.0L1090.7 739.1L1091.2 737.1L1091.8 735.2L1092.3 733.3L1092.9 731.3L1093.4 729.4L1094.0 727.5L1094.5 725.5L1095.0 723.6L1095.6 721.7L1096.1 719.7L1096.6 717.8L1097.1 715.9L1097.5 713.9L1098.0 711.9L1098.4 710.0L1098.8 708.0L1099.2 706.0L1099.5 704.0L1099.9 701.9L1100.2 699.9L1100.6 697.9L1101.0 695.9L1101.4 694.0L1101.8 692.0L1102.2 690.0L1102.7 688.1L1103.1 686.2L1103.7 684.3L1104.3 682.4L1105.0 680.5L1105.8 678.4L1106.8 676.4L1107.8 674.5L1108.9 673.0L1110.1 672.1L1111.2 671.9L1112.3 672.5L1113.4 673.8L1114.4 675.6L1115.3 677.6L1116.1 679.7L1116.7 681.7L1117.2 683.6L1117.7 685.5L1118.1 687.5L1118.4 689.4L1118.7 691.4L1119.0 693.4L1119.3 695.4L1119.6 697.4L1119.8 699.4L1120.1 701.4L1120.3 703.5L1120.5 705.5L1120.8 707.5L1121.0 709.5L1121.3 711.5L1121.6 713.5L1121.9 715.5L1122.2 717.5L1122.5 719.5L1122.9 721.5L1123.2 723.5L1123.5 725.4L1123.9 727.4L1124.2 729.4L1124.5 731.4L1124.9 733.3L1125.2 735.3L1125.5 737.3L1125.9 739.3L1126.2 741.3L1126.5 743.2L1126.8 745.2L1127.1 747.2L1127.4 749.2L1127.7 751.2L1128.0 753.2L1128.2 755.1L1128.5 757.1L1128.7 759.1L1129.0 761.1L1129.3 763.1L1129.5 765.1L1129.8 767.1L1130.0 769.1L1130.2 771.1L1130.5 773.0L1130.7 775.0L1130.9 777.0L1131.2 779.0L1131.4 781.0L1131.6 783.0L1131.8 785.0L1132.0 787.0L1132.2 789.0L1132.4 791.0L1132.6 793.0L1132.8 795.0L1133.0 793.0L1133.3 791.0L1133.5 789.0L1133.7 787.0L1134.0 785.1L1134.2 783.1L1134.4 781.1L1134.7 779.1L1134.9 777.1L1135.1 775.1L1135.4 773.1L1135.6 771.1L1135.8 769.1L1136.0 767.2L1136.2 765.2L1136.5 763.2L1136.7 761.2L1136.9 759.2L1137.1 757.2L1137.3 755.2L1137.5 753.2L1137.7 751.2L1137.9 749.2L1138.1 747.3L1138.4 745.3L1138.6 743.3L1138.8 741.3L1139.0 739.3L1139.2 737.3L1139.4 735.3L1139.6 733.3L1139.8 731.3L1139.9 729.3L1140.1 727.3L1140.3 725.3L1140.5 723.3L1140.7 721.3L1140.9 719.4L1141.0 717.4L1141.2 715.4L1141.4 713.4L1141.5 711.4L1141.7 709.4L1141.8 707.4L1142.0 705.4L1142.1 703.4L1142.3 701.4L1142.4 699.4L1142.6 697.4L1142.7 695.4L1142.9 693.4L1143.0 691.4L1143.2 689.4L1143.3 687.4L1143.5 685.4L1143.7 683.4L1143.8 681.4L1144.0 679.4L1144.1 677.4L1144.3 675.4L1144.5 673.4L1144.6 671.5L1144.8 669.5L1145.0 667.5L1145.1 665.5L1145.3 663.5L1145.5 661.5L1145.6 659.5L1145.8 657.5L1146.0 655.5L1146.2 653.5L1146.3 651.5L1146.5 649.5L1146.7 647.5L1146.9 645.5L1147.1 643.5L1147.3 641.5L1147.5 639.6L1147.7 637.6L1147.9 635.6L1148.1 633.6L1148.4 631.6L1148.6 629.6L1148.8 627.6L1149.0 625.6L1149.3 623.6L1149.5 621.7L1149.8 619.7L1150.0 617.7L1150.3 615.7L1150.5 613.7L1150.8 611.7L1151.1 609.7L1151.3 607.7L1151.6 605.8L1151.9 603.8L1152.1 601.8L1152.4 599.8L1152.7 597.8L1152.9 595.8L1153.2 593.9L1153.5 591.9L1153.7 589.9L1154.0 587.9L1154.3 585.9L1154.6 583.9L1154.9 582.0L1155.2 580.0L1155.5 578.0L1155.8 576.0L1156.1 574.0L1156.4 572.1L1156.7 570.1L1157.0 568.1L1157.3 566.1L1157.6 564.2L1157.9 562.2L1158.3 560.2L1158.6 558.2L1158.9 556.3L1159.3 554.3L1159.6 552.3L1160.0 550.3L1160.3 548.4L1160.7 546.4L1161.0 544.4L1161.4 542.4L1161.8 540.5L1162.2 538.5L1162.6 536.5L1163.0 534.6L1163.4 532.6L1163.8 530.7L1164.3 528.7L1164.7 526.8L1165.2 524.8L1165.7 522.9L1166.1 520.9L1166.6 518.9L1167.1 517.0L1167.7 515.0L1168.2 513.0L1168.7 511.1L1169.3 509.1L1169.9 507.1L1170.5 505.2L1171.1 503.3L1171.7 501.4L1172.4 499.5L1173.1 497.6L1173.8 495.8L1174.5 493.9L1175.3 492.1L1176.1 490.4L1177.0 488.6L1177.9 486.9L1178.9 485.1L1180.0 483.4L1181.1 481.7L1182.4 480.1L1183.7 478.5L1185.1 477.1L1186.5 475.8L1188.1 474.6L1189.8 473.5L1191.5 472.4L1193.4 471.6L1195.3 470.9L1197.2 470.5L1199.0 470.4L1200.8 470.8L1202.6 471.7L1204.3 472.8L1205.8 474.1L1207.2 475.5L1208.5 477.1L1209.6 478.7L1210.6 480.4L1211.6 482.2L1212.5 484.0L1213.3 485.9L1214.1 487.8L1214.8 489.6L1215.5 491.5L1216.2 493.4L1216.9 495.2L1217.5 497.1L1218.2 499.0L1218.8 500.9L1219.4 502.9L1220.0 504.8L1220.6 506.7L1221.1 508.7L1221.6 510.6L1222.1 512.6L1222.6 514.5L1223.1 516.5L1223.5 518.5L1223.9 520.4L1224.3 522.4L1224.6 524.4L1225.0 526.3L1225.3 528.3L1225.5 530.3L1225.8 532.3L1226.0 534.2L1226.2 536.2L1226.4 538.2L1226.6 540.2L1226.8 542.2L1227.0 544.2L1227.2 546.2L1227.4 548.2L1227.6 550.2L1227.8 552.2L1228.1 554.2L1228.3 556.2L1228.5 558.2L1228.8 560.2L1229.0 562.1L1229.2 564.1L1229.5 566.1L1229.7 568.1L1229.9 570.1L1230.2 572.1L1230.4 574.1L1230.7 576.1L1230.9 578.0L1231.2 580.0L1231.4 582.0L1231.7 584.0L1231.9 586.0L1232.2 588.0L1232.5 590.0L1232.7 591.9L1233.0 593.9L1233.2 595.9L1233.5 597.9L1233.8 599.9L1234.0 601.9L1234.3 603.9L1234.6 605.8L1234.9 607.8L1235.1 609.8L1235.4 611.8L1235.7 613.8L1236.0 615.7L1236.2 617.7L1236.5 619.7L1236.8 621.7L1237.1 623.7L1237.4 625.6L1237.7 627.6L1238.0 629.6L1238.3 631.6L1238.6 633.6L1238.9 635.5L1239.2 637.5L1239.5 639.5L1239.9 641.5L1240.2 643.4L1240.5 645.4L1240.8 647.4L1241.1 649.4L1241.5 651.4L1241.8 653.3L1242.1 655.3L1242.5 657.3L1242.8 659.3L1243.1 661.2L1243.5 663.2L1243.8 665.2L1244.2 667.1L1244.5 669.1L1244.8 671.1L1245.2 673.1L1245.5 675.0L1246.0 673.1L1246.5 671.1L1247.0 669.2L1247.4 667.2L1247.9 665.3L1248.4 663.4L1248.9 661.4L1249.4 659.4L1249.9 657.5L1250.4 655.5L1250.9 653.4L1251.4 651.4L1251.9 649.3L1252.3 647.3L1252.9 645.3L1253.4 643.3L1254.0 641.4L1254.6 639.5L1255.3 637.7L1256.0 635.9L1256.8 634.2L1257.8 632.6L1259.0 630.9L1260.4 629.3L1261.9 627.8L1263.6 626.4L1265.1 625.4L1266.5 624.8L1267.8 624.7L1268.9 625.1L1269.8 626.1L1270.8 627.4L1271.6 629.1L1272.4 631.1L1273.2 633.3L1273.9 635.6L1274.6 638.0L1275.2 640.4L1275.8 642.7L1276.3 644.9L1276.8 647.0L1277.2 649.0L1277.7 650.9L1278.1 652.9L1278.5 654.8L1278.8 656.7L1279.2 658.7L1279.5 660.7L1279.9 662.6L1280.2 664.6L1280.5 666.6L1280.8 668.6L1281.1 670.6L1281.4 672.6L1281.7 674.5L1281.9 676.5L1282.2 678.5L1282.5 680.5L1282.7 682.6L1283.0 684.6L1283.2 686.6L1283.4 688.6L1283.7 690.6L1283.9 692.6L1284.2 694.6L1284.4 696.6L1284.6 698.6L1284.9 700.6L1285.1 702.6L1285.4 704.5L1285.6 706.5L1285.9 708.5L1286.1 710.5L1286.3 712.5L1286.6 714.5L1286.8 716.5L1287.1 718.5L1287.3 720.5L1287.5 722.5L1287.7 724.4L1288.0 726.4L1288.2 728.4L1288.4 730.4L1288.6 732.4L1288.8 734.4L1289.0 736.4L1289.2 738.4L1289.4 740.4L1289.6 742.4L1289.8 744.4L1290.0 746.4L1290.2 748.4L1290.3 750.4L1290.5 752.4L1290.6 754.4L1290.8 756.4L1290.9 758.4L1291.1 760.4L1291.2 762.4L1291.4 764.3L1291.5 766.3L1291.6 768.3L1291.8 770.3L1291.9 772.3L1292.1 774.3L1292.2 776.3L1292.4 778.3L1292.5 780.3L1292.7 782.3L1292.9 784.3L1293.1 786.3L1293.3 788.3L1293.5 790.3L1293.7 792.3L1293.9 794.3L1294.1 796.3L1294.3 798.3L1294.5 800.3L1294.8 802.3L1295.0 804.3L1295.2 806.2L1295.4 808.2L1295.6 810.2L1295.8 812.2L1296.0 814.2L1296.2 816.2L1296.5 818.2L1296.7 820.2L1296.9 822.2L1297.1 824.2L1297.3 826.2L1297.5 828.2L1297.7 830.2L1297.9 832.1L1298.2 834.1L1298.4 836.1L1298.6 838.1L1298.8 840.1L1299.0 842.1L1299.2 844.1L1299.4 846.1L1299.6 848.1L1299.8 850.1L1300.0 852.1L1300.2 854.1L1300.4 856.1L1300.6 858.1L1300.8 860.0L1301.0 862.0L1301.2 864.0L1301.4 866.0L1301.6 868.0L1301.8 870.0L1301.9 872.0L1302.1 874.0L1302.3 876.0L1302.5 878.0L1302.7 876.0L1302.8 874.0L1303.0 872.0L1303.1 870.0L1303.3 868.0L1303.4 866.0L1303.6 864.0L1303.7 862.0L1303.9 860.0L1304.0 858.0L1304.2 856.0L1304.3 854.0L1304.4 852.0L1304.6 850.0L1304.7 848.1L1304.9 846.1L1305.0 844.1L1305.2 842.1L1305.3 840.1L1305.4 838.1L1305.6 836.1L1305.7 834.1L1305.9 832.1L1306.0 830.1L1306.2 828.1L1306.3 826.1L1306.4 824.1L1306.6 822.1L1306.7 820.1L1306.9 818.1L1307.0 816.1L1307.2 814.1L1307.3 812.1L1307.5 810.1L1307.6 808.1L1307.7 806.1L1307.9 804.1L1308.0 802.1L1308.2 800.1L1308.3 798.1L1308.5 796.1L1308.7 794.1L1308.8 792.1L1309.0 790.1L1309.2 788.1L1309.4 786.2L1309.5 784.2L1309.7 782.2L1309.9 780.2L1310.2 778.2L1310.4 776.2L1310.6 774.2L1310.9 772.2L1311.1 770.2L1311.4 768.2L1311.7 766.3L1312.0 764.3L1312.3 762.3L1312.6 760.3L1313.0 758.4L1313.4 756.4L1313.8 754.5L1314.2 752.5L1314.8 750.6L1315.3 748.7L1315.9 746.8L1316.5 744.9L1317.1 742.9L1317.8 741.0L1318.4 739.1L1319.0 737.2L1319.6 735.3L1320.2 733.4L1320.7 731.4L1321.2 729.5L1321.7 727.6L1322.2 725.6L1322.6 723.7L1323.1 721.7L1323.5 719.8L1324.0 717.8L1324.4 715.9L1324.8 713.9L1325.3 712.0L1325.7 710.0L1326.2 708.1L1326.7 706.1L1327.1 704.2L1327.6 702.2L1328.1 700.3L1328.6 698.3L1329.1 696.4L1329.6 694.4L1330.1 692.5L1330.6 690.6L1331.1 688.6L1331.6 686.7L1332.1 684.7L1332.6 682.8L1333.1 680.8L1333.6 678.9L1334.1 676.9L1334.6 675.0L1335.1 673.1L1335.7 671.1L1336.2 669.2L1336.8 667.3L1337.3 665.3L1337.9 663.4L1338.5 661.5L1339.1 659.6L1339.6 657.7L1340.3 655.8L1340.9 653.9L1341.5 652.0L1342.1 650.1L1342.8 648.2L1343.5 646.4L1344.2 644.5L1344.9 642.7L1345.7 640.8L1346.5 639.0L1347.4 637.2L1348.2 635.4L1349.1 633.6L1350.0 631.8L1350.8 630.0L1351.7 628.2L1352.6 626.3L1353.5 624.5L1354.3 622.7L1355.1 620.9L1356.0 619.1L1356.8 617.2L1357.5 615.4L1358.3 613.5L1359.1 611.7L1359.8 609.8L1360.6 608.0L1361.3 606.1L1362.1 604.3L1362.8 602.4L1363.6 600.5L1364.3 598.7L1365.0 596.8L1365.7 594.9L1366.4 593.1L1367.1 591.2L1367.8 589.3L1368.5 587.4L1369.2 585.5L1369.8 583.6L1370.5 581.8L1371.1 579.9L1371.8 578.0L1372.4 576.1L1373.0 574.2L1373.6 572.3L1374.2 570.4L1374.8 568.4L1375.4 566.5L1376.0 564.6L1376.6 562.7L1377.2 560.8L1377.8 558.9L1378.4 557.0L1379.0 555.1L1379.6 553.1L1380.2 551.2L1380.8 549.3L1381.5 547.4L1382.1 545.5L1382.7 543.6L1383.3 541.7L1383.9 539.8L1384.5 537.9L1385.1 536.0L1385.7 534.1L1386.3 532.2L1387.0 530.3L1387.6 528.4L1388.2 526.5L1388.9 524.6L1389.5 522.7L1390.2 520.8L1390.8 518.9L1391.5 517.0L1392.2 515.1L1392.8 513.2L1393.5 511.3L1394.2 509.5L1395.0 507.6L1395.7 505.7L1396.5 503.9L1397.3 502.0L1398.1 500.2L1398.9 498.4L1399.8 496.6L1400.8 494.9L1401.7 493.1L1402.7 491.4L1403.7 489.6L1404.8 487.9L1405.9 486.2L1407.0 484.6L1408.2 483.0L1409.4 481.4L1410.6 479.8L1411.9 478.3L1413.2 476.8L1414.6 475.4L1416.0 473.9L1417.4 472.5L1418.8 471.0L1420.2 469.6L1421.6 468.1L1423.0 466.7L1424.3 465.2L1425.6 463.7L1426.9 462.1L1428.1 460.6L1429.4 459.0L1430.6 457.4L1431.9 455.9L1433.1 454.3L1434.0 453.1L1435.3 451.5L1436.5 450.0L1437.8 448.4L1439.1 446.9L1440.3 445.3L1441.6 443.8L1442.9 442.3L1444.2 440.7L1445.5 439.2L1446.8 437.7L1448.1 436.2L1449.4 434.6L1450.7 433.1L1452.0 431.6L1453.3 430.0L1454.5 428.5L1455.8 426.9L1457.1 425.4L1458.5 423.9L1459.9 422.5L1461.3 421.0L1462.8 419.6L1464.4 418.4L1466.0 417.2L1467.7 416.3L1469.5 415.5L1471.3 414.8L1473.3 414.2L1475.2 413.8L1477.2 413.6L1479.2 413.6L1481.2 413.8L1483.2 414.2L1485.1 414.7L1487.0 415.4L1488.8 416.2L1490.5 417.1L1492.2 418.1L1493.8 419.3L1495.4 420.6L1496.9 422.0L1498.3 423.4L1499.7 424.8L1501.0 426.3L1502.3 427.9L1503.6 429.4L1504.8 431.0L1506.0 432.7L1507.1 434.3L1508.3 436.0L1509.4 437.6L1510.5 439.3L1511.6 441.0L1512.6 442.7L1513.7 444.4L1514.7 446.1L1515.7 447.8L1516.7 449.6L1517.7 451.3L1518.7 453.1L1519.6 454.8L1520.6 456.6L1521.5 458.4L1522.4 460.2L1523.3 462.0L1524.2 463.8L1525.0 465.6L1525.9 467.4L1526.8 469.2L1527.7 471.0L1528.6 472.8L1529.5 474.5L1530.4 476.3L1531.3 478.1L1532.2 479.9L1533.1 481.7L1534.0 483.5L1534.9 485.3L1535.7 487.1L1536.6 488.9L1537.5 490.7L1538.4 492.5L1539.2 494.3L1540.1 496.1L1541.0 497.9L1541.8 499.7L1542.7 501.5L1543.5 503.3L1544.4 505.1L1545.2 507.0L1546.1 508.8L1547.0 510.6L1547.8 512.4L1548.7 514.2L1549.5 516.0L1550.3 517.9L1551.0 519.7L1551.7 521.6L1552.3 523.5L1552.9 525.4L1553.5 527.3L1554.0 529.2L1554.5 531.2L1555.1 533.1L1555.6 535.1L1556.1 537.0L1556.6 538.9L1557.1 540.9L1557.7 542.8L1558.2 544.7L1558.8 546.6L1559.3 548.6L1559.9 550.5L1560.4 552.4L1561.0 554.3L1561.5 556.3L1562.0 558.2L1562.6 560.1L1563.1 562.1L1563.7 564.0L1564.2 565.9L1564.7 567.8L1565.2 569.8L1565.8 571.7L1566.3 573.6L1566.8 575.6L1567.3 577.5L1567.8 579.5L1568.4 581.4L1568.9 583.3L1569.4 585.3L1569.9 587.2L1570.4 589.1L1570.9 591.1L1571.3 593.0L1571.8 595.0L1572.2 596.9L1572.7 598.9L1573.1 600.8L1573.5 602.8L1573.8 604.8L1574.2 606.7L1574.6 608.7L1574.9 610.7L1575.3 612.6L1575.6 614.6L1575.9 616.6L1576.2 618.6L1576.6 620.5L1576.9 622.5L1577.2 624.5L1577.5 626.5L1577.9 628.5L1578.2 630.4L1578.5 632.4L1578.9 634.4L1579.2 636.3L1579.6 638.3L1580.0 640.3L1580.3 642.2L1580.7 644.2L1581.1 646.2L1581.5 648.1L1581.9 650.1L1582.3 652.1L1582.7 654.0L1583.1 656.0L1583.5 658.0L1583.9 659.9L1584.3 661.9L1584.7 663.9L1585.1 665.8L1585.6 667.8L1586.0 669.7L1586.4 671.7L1586.9 673.6L1587.3 675.6L1587.8 677.5L1588.3 679.5L1588.7 681.4L1589.2 683.4L1589.7 685.3L1590.2 687.2L1590.7 689.2L1591.3 691.1L1591.8 693.0L1592.4 694.9L1593.0 696.8L1593.6 698.7L1594.2 700.6L1594.8 702.5L1595.5 704.4L1596.1 706.3L1596.8 708.2L1597.4 710.1L1598.1 712.0L1598.7 713.9L1599.3 715.8L1600.0 717.7L1600.6 719.6L1601.2 721.5L1601.8 723.5L1602.4 725.4L1603.0 727.3L1603.6 729.2L1604.3 731.1L1604.9 733.0L1605.5 734.9L1606.1 736.8L1606.7 738.7L1607.3 740.6L1607.9 742.5L1608.6 744.4L1609.2 746.3L1609.8 748.2L1610.4 750.1L1611.0 752.0L1611.6 753.9L1612.2 755.9L1612.8 757.8L1613.5 759.7L1614.1 761.6L1614.7 763.5L1615.3 765.4L1615.9 767.3L1616.5 769.2L1616.8 767.2L1617.2 765.3L1617.6 763.3L1617.9 761.3L1618.3 759.3L1618.7 757.4L1619.0 755.4L1619.4 753.4L1619.8 751.5L1620.2 749.5L1620.6 747.5L1621.0 745.6L1621.4 743.6L1621.8 741.7L1622.2 739.7L1622.6 737.7L1623.0 735.8L1623.4 733.8L1623.9 731.9L1624.3 729.9L1624.7 728.0L1625.2 726.0L1625.6 724.1L1626.1 722.1L1626.6 720.2L1627.1 718.2L1627.6 716.3L1628.1 714.4L1628.6 712.4L1629.1 710.5L1629.7 708.6L1630.2 706.6L1630.8 704.7L1631.4 702.8L1632.0 700.9L1632.6 699.0L1633.2 697.1L1633.8 695.2L1634.5 693.3L1635.1 691.4L1635.6 689.4L1636.2 687.5L1636.7 685.5L1637.1 683.5L1637.6 681.6L1638.2 679.6L1638.8 677.7L1639.6 675.9L1640.6 674.0L1641.7 672.3L1643.0 670.8L1644.3 670.0L1645.7 669.9L1647.0 670.6L1648.3 671.9L1649.5 673.7L1650.5 675.5L1651.3 677.4L1651.9 679.3L1652.5 681.2L1653.0 683.1L1653.4 685.1L1653.7 687.1L1654.1 689.1L1654.4 691.1L1654.7 693.1L1655.1 695.1L1655.4 697.2L1655.8 699.1L1656.1 701.1L1656.5 703.1L1656.9 705.1L1657.3 707.0L1657.6 709.0L1658.0 711.0L1658.4 712.9L1658.7 714.9L1659.1 716.9L1659.4 718.8L1659.8 720.8L1660.1 722.8L1660.5 724.8L1660.8 726.7L1661.1 728.7L1661.5 730.7L1661.8 732.7L1662.1 734.6L1662.5 736.6L1662.8 738.6L1663.1 740.6L1663.4 742.6L1663.7 744.5L1664.0 746.5L1664.3 748.5L1664.5 750.5L1664.8 752.5L1665.0 754.5L1665.2 756.5L1665.4 758.4L1665.6 760.4L1665.8 762.4L1666.0 764.4L1666.2 766.4L1666.3 768.4L1666.5 770.4L1666.6 772.4L1666.8 774.4L1666.9 776.4L1667.1 778.4L1667.2 780.4L1667.3 782.4L1667.5 784.4L1667.6 786.4L1667.7 788.4L1667.8 790.4L1668.0 792.4L1668.1 794.4L1668.2 796.4L1668.3 798.4L1668.4 800.4L1668.5 802.4L1668.6 804.4L1668.7 806.4L1668.8 808.4L1668.9 810.4L1669.0 812.9L1669.1 814.9L1669.2 816.9L1669.2 818.9L1669.3 820.9L1669.5 822.9L1669.6 824.9L1669.7 826.9L1669.8 828.9L1669.9 830.9L1670.0 832.9L1670.1 834.9L1670.3 836.9L1670.4 838.9L1670.5 840.9L1670.6 842.9L1670.8 844.9L1670.9 846.9L1671.0 848.9L1671.1 850.9L1671.3 852.9L1671.4 854.9L1671.5 856.9L1671.6 858.9L1671.8 860.9L1671.9 862.9L1672.0 864.9L1672.1 866.9L1672.2 868.9L1672.3 870.9L1672.4 872.9L1672.5 874.9L1672.6 876.9L1672.7 878.9L1672.8 880.9L1672.9 882.9L1673.0 884.9L1673.1 886.9L1673.2 888.9L1673.3 890.9L1673.4 892.9L1673.5 894.9L1673.5 896.9L1673.6 898.9L1673.7 900.9L1673.8 902.9L1673.9 904.9L1674.0 906.9L1674.0 908.9L1674.1 910.9L1674.2 912.9L1674.3 914.9L1674.3 916.9L1674.4 918.9L1674.5 920.9L1674.6 922.9L1674.6 924.9L1674.7 926.9L1674.8 928.9L1674.8 930.9L1674.9 932.9L1675.0 934.9L1675.1 936.9L1675.1 938.9L1675.2 940.9L1675.3 942.9L1675.3 944.9L1675.4 946.9L1675.5 948.9L1675.5 950.9L1675.6 952.9L1675.6 954.9L1675.7 956.9L1675.8 958.9L1675.8 960.9L1675.9 962.9L1675.9 964.9L1676.0 966.9L1676.1 968.9L1676.1 970.9L1676.2 972.9L1676.3 974.9L1676.3 976.9L1676.4 978.9L1676.4 980.9L1676.5 982.9L1676.5 984.9L1676.6 986.9L1676.7 988.9L1676.7 990.9L1676.8 992.9L1676.8 994.9L1676.9 996.9L1676.9 998.9L1677.0 1000.9L1677.0 1002.9L1677.1 1004.9L1677.2 1006.9L1677.2 1008.9L1677.3 1010.9L1677.3 1012.9L1677.4 1014.9L1677.4 1017.0L1677.5 1019.0L1677.5 1021.0L1677.6 1023.0L1677.6 1025.0L1677.7 1027.0L1677.7 1029.0L1677.8 1031.0L1677.8 1033.0L1677.9 1035.0L1677.9 1037.0L1678.0 1039.0L1678.0 1041.0L1678.0 1043.0L1678.1 1045.0L1678.1 1047.0L1678.2 1049.0L1678.2 1051.0L1678.3 1053.0L1678.3 1055.0L1678.3 1057.0L1678.4 1059.0L1678.4 1061.0L1678.5 1063.0L1678.5 1065.0L1678.5 1063.0L1678.6 1061.0L1678.6 1059.0L1678.6 1057.0L1678.7 1055.0L1678.7 1053.0L1678.7 1051.0L1678.7 1049.0L1678.8 1047.0L1678.8 1045.0L1678.8 1043.0L1678.9 1041.0L1678.9 1039.0L1678.9 1037.0L1679.0 1035.0L1679.0 1033.0L1679.0 1030.9L1679.1 1028.9L1679.1 1026.9L1679.1 1024.9L1679.2 1022.9L1679.2 1020.9L1679.2 1018.9L1679.3 1016.9L1679.3 1014.9L1679.3 1012.9L1679.4 1010.9L1679.4 1008.9L1679.4 1006.9L1679.5 1004.9L1679.5 1002.9L1679.6 1000.9L1679.6 998.9L1679.6 996.9L1679.7 994.9L1679.7 992.9L1679.7 990.9L1679.8 988.9L1679.8 986.9L1679.8 984.9L1679.9 982.9L1679.9 980.9L1680.0 978.9L1680.0 976.9L1680.0 974.9L1680.1 972.9L1680.1 970.9L1680.1 968.9L1680.2 966.9L1680.2 964.8L1680.2 962.8L1680.3 960.8L1680.3 958.8L1680.4 956.8L1680.4 954.8L1680.4 952.8L1680.5 950.8L1680.5 948.8L1680.5 946.8L1680.6 944.8L1680.6 942.8L1680.6 940.8L1680.7 938.8L1680.7 936.8L1680.7 934.8L1680.8 932.8L1680.8 930.8L1680.8 928.8L1680.8 926.8L1680.9 924.8L1680.9 922.8L1680.9 920.8L1681.0 918.8L1681.0 916.8L1681.1 914.8L1681.1 912.8L1681.1 910.7L1681.2 908.7L1681.2 906.7L1681.2 904.7L1681.3 902.7L1681.3 900.7L1681.4 898.7L1681.4 896.7L1681.5 894.7L1681.5 892.7L1681.6 890.7L1681.6 888.7L1681.7 886.7L1681.7 884.7L1681.8 882.7L1681.8 880.7L1681.9 878.7L1682.0 876.7L1682.0 874.7L1682.1 872.7L1682.2 870.7L1682.3 868.7L1682.4 866.7L1682.5 864.7L1682.6 862.7L1682.8 860.7L1682.9 858.7L1683.1 856.7L1683.2 854.7L1683.4 852.7L1683.6 850.7L1683.8 848.7L1684.0 846.8L1684.2 844.8L1684.4 842.3L1684.6 840.3L1684.8 838.3L1685.1 836.3L1685.3 834.3L1685.5 832.3L1685.7 830.3L1685.9 828.3L1686.1 826.3L1686.4 824.3L1686.6 822.3L1686.8 820.3L1687.0 818.3L1687.2 816.4L1687.5 814.4L1687.7 812.4L1687.9 810.4L1688.2 808.4L1688.4 806.4L1688.7 804.4L1689.0 802.4L1689.2 800.4L1689.5 798.4L1689.8 796.4L1690.1 794.2L1690.4 791.9L1690.7 789.4L1691.0 786.9L1691.3 784.3L1691.6 781.8L1692.0 779.4L1692.4 777.2L1692.8 775.2L1693.2 773.5L1693.7 772.2L1694.2 771.4L1694.9 771.1L1695.7 771.6L1696.7 772.7L1697.7 774.3L1698.8 776.2L1699.7 778.1L1700.5 780.1L1701.2 782.0L1701.8 783.9L1702.3 785.8L1702.8 787.8L1703.3 789.8L1703.7 791.7L1704.1 793.7L1704.6 795.6L1705.0 797.6L1705.3 799.6L1705.7 801.5L1706.1 803.5L1706.4 805.5L1706.7 807.5L1707.0 809.5L1707.3 811.4L1707.6 813.4L1707.8 815.4L1708.1 817.4L1708.3 819.4L1708.5 821.4L1708.7 823.4L1708.9 825.4L1709.1 827.4L1709.2 829.4L1709.4 831.4L1709.6 833.4L1709.8 835.3L1709.9 837.3L1710.1 839.3L1710.3 841.3L1710.5 843.3L1710.7 845.3L1710.9 847.3L1711.1 849.3L1711.2 851.3L1711.4 853.3L1711.6 855.3L1711.8 857.3L1712.0 859.3L1712.2 861.3L1712.5 863.3L1712.7 865.3L1712.9 867.2L1713.1 869.2L1713.3 871.2L1713.6 873.2L1713.8 875.2L1714.0 877.2L1714.3 879.2L1714.5 881.2L1714.8 883.2L1715.0 885.2L1715.2 887.1L1715.5 889.1L1715.7 891.1L1716.0 893.1L1716.2 895.1L1716.4 897.1L1716.7 899.1L1716.9 901.1L1717.1 903.1L1717.3 905.0L1717.6 907.0L1717.8 909.0L1718.0 911.0L1718.3 913.0L1718.5 915.0" stroke="#ee644a" stroke-width="10.0"/>
<path d="M178.3 990.0L178.4 988.0L178.4 986.0L178.5 984.0L178.6 982.0L178.6 980.0L178.7 978.0L178.8 976.0L178.9 974.0L179.0 972.0L179.0 970.0L179.1 968.0L179.2 966.0L179.3 964.0L179.4 962.0L179.5 960.0L179.6 958.0L179.7 956.0L179.8 954.0L179.9 952.0L180.0 950.0L180.1 948.0L180.2 946.0L180.3 944.0L180.4 942.0L180.5 940.0L180.6 938.0L180.7 936.0L180.8 934.0L180.9 932.0L181.0 930.0L181.1 928.0L181.2 926.0L181.4 924.0L181.5 922.0L181.6 920.0L181.7 918.0L181.9 916.0L182.0 914.0L182.1 912.0L182.3 910.0L182.4 908.0L182.6 906.0L182.7 904.0L182.8 902.0L183.0 900.0L183.1 898.0L183.3 896.0L183.4 894.0L183.6 892.0L183.7 890.0L183.9 888.0L184.0 886.0L184.2 884.1L184.3 882.1L184.5 880.1L184.6 878.1L184.8 876.1L184.9 874.1L185.1 872.1L185.2 870.1L185.4 868.1L185.5 866.1L185.7 864.1L185.9 862.1L186.0 860.1L186.2 858.1L186.3 856.1L186.5 854.1L186.6 852.1L186.8 850.1L187.0 848.1L187.1 846.1L187.3 844.1L187.5 842.1L187.6 840.1L187.8 838.1L188.0 836.1L188.1 834.2L188.3 832.2L188.5 830.2L188.7 828.2L188.8 826.2L189.0 824.2L189.2 822.2L189.4 820.2L189.6 818.2L189.7 816.2L189.9 814.2L190.1 812.2L190.3 810.2L190.5 808.2L190.7 806.2L190.9 804.2L191.2 802.2L191.4 800.3L191.6 798.3L191.8 796.3L192.1 794.3L192.3 792.3L192.6 790.3L192.9 788.3L193.2 786.3L193.4 784.3L193.7 782.4L194.1 780.4L194.4 778.4L194.8 776.4L195.1 774.4L195.5 772.5L195.9 770.5L196.4 768.5L197.0 766.4L197.6 764.2L198.3 761.8L199.0 759.5L199.8 757.4L200.5 755.6L201.3 754.2L202.0 753.4L202.7 753.2L203.3 753.7L203.9 754.7L204.4 756.2L205.0 758.1L205.5 760.3L206.0 762.7L206.5 765.2L207.0 767.6L207.4 770.0L207.9 772.2L208.2 774.3L208.6 776.3L209.0 778.3L209.3 780.3L209.6 782.2L209.9 784.2L210.2 786.2L210.5 788.2L210.7 790.2L211.0 792.2L211.2 794.2L211.4 796.1L211.6 798.1L211.8 800.1L212.0 802.1L212.1 804.1L212.3 806.1L212.4 808.1L212.6 810.1L212.7 812.1L212.8 814.1L213.0 816.1L213.1 818.1L213.3 820.1L213.4 822.1L213.6 824.1L213.8 826.1L213.9 828.1L214.1 830.1L214.3 832.1L214.5 834.1L214.7 836.1L214.9 838.1L215.1 840.0L215.3 842.0L215.5 844.0L215.8 846.0L216.0 848.0L216.2 850.0L216.3 852.0L216.5 854.0L216.7 856.0L216.9 858.0L217.0 860.0L217.2 862.0L217.3 864.0L217.5 866.0L217.6 868.0L217.7 870.0L217.8 872.0L217.8 874.0L217.9 876.0L218.0 878.0L218.0 880.0L218.1 882.0L218.1 884.0L218.2 886.0L218.2 888.0L218.3 890.0L218.3 892.0L218.4 894.0L218.4 896.0L218.5 898.0L218.5 900.0L218.6 902.0L218.6 904.0L218.7 906.0L218.7 908.0L218.7 910.0L218.8 912.0L218.8 914.0L218.8 916.0L218.9 918.0L218.9 920.0L219.0 922.0L219.0 924.0L219.0 926.0L219.0 928.0L219.1 930.0L219.1 932.0L219.1 934.0L219.2 936.0L219.2 938.0L219.2 940.0L219.3 942.0L219.3 944.0L219.3 946.0L219.3 948.0L219.4 950.0L219.4 952.0L219.4 954.0L219.4 956.0L219.5 958.0L219.5 960.0L219.5 962.0L219.5 964.0L219.6 966.0L219.6 968.0L219.6 970.0L219.6 972.0L219.7 974.1L219.7 976.1L219.7 978.1L219.7 980.1L219.8 982.1L219.8 984.1L219.8 986.1L219.8 988.1L219.9 990.1L219.9 992.1L219.9 994.1L219.9 996.1L220.0 998.1L220.0 1000.1L220.0 1002.1L220.1 1004.1L220.1 1006.1L220.1 1008.1L220.1 1010.1L220.2 1012.1L220.2 1014.1L220.2 1016.1L220.3 1018.1L220.3 1020.1L220.3 1022.1L220.3 1024.1L220.4 1026.1L220.4 1028.1L220.4 1030.1L220.5 1032.1L220.5 1034.1L220.5 1036.1L220.5 1038.1L220.6 1040.1L220.6 1042.1L220.6 1044.1L220.6 1046.1L220.7 1048.1L220.7 1050.1L220.7 1052.1L220.7 1054.1L220.8 1056.1L220.8 1058.1L220.8 1060.1L220.9 1062.2L220.9 1064.2L220.9 1066.2L220.9 1068.2L221.0 1070.2L221.0 1072.2L221.0 1074.2L221.0 1076.2L221.1 1078.2L221.1 1080.2L221.1 1082.2L221.1 1084.2L221.2 1086.2L221.2 1088.2L221.2 1090.2L221.2 1092.2L221.3 1094.2L221.3 1096.2L221.3 1098.2L221.3 1100.2L221.4 1102.2L221.4 1104.2L221.4 1106.2L221.4 1108.2L221.5 1110.2L221.5 1112.2L221.5 1114.2L221.5 1116.2L221.5 1118.2L221.6 1120.2L221.6 1122.2L221.6 1124.2L221.6 1126.2L221.7 1128.2L221.7 1130.2L221.7 1132.2L221.7 1134.2L221.8 1136.2L221.8 1138.2L221.8 1140.2L221.8 1142.2L221.8 1144.2L221.9 1146.2L221.9 1148.2L221.9 1150.2L221.9 1152.2L221.9 1154.2L222.0 1156.2L222.0 1158.3L222.0 1160.3L222.0 1162.3L222.0 1164.3L222.1 1166.3L222.1 1168.3L222.1 1170.3L222.1 1172.3L222.1 1174.3L222.2 1176.3L222.2 1178.3L222.2 1180.3L222.2 1182.3L222.2 1184.3L222.3 1186.3L222.3 1188.3L222.3 1190.3L222.3 1192.3L222.3 1194.3L222.3 1196.3L222.4 1198.3L222.4 1200.3L222.4 1202.3L222.4 1200.3L222.4 1198.3L222.5 1196.3L222.5 1194.3L222.5 1192.3L222.5 1190.3L222.5 1188.3L222.6 1186.3L222.6 1184.3L222.6 1182.3L222.6 1180.3L222.7 1178.3L222.7 1176.3L222.7 1174.3L222.7 1172.3L222.8 1170.3L222.8 1168.3L222.8 1166.3L222.8 1164.3L222.8 1162.3L222.9 1160.3L222.9 1158.3L222.9 1156.3L222.9 1154.3L223.0 1152.2L223.0 1150.2L223.0 1148.2L223.1 1146.2L223.1 1144.2L223.1 1142.2L223.1 1140.2L223.2 1138.2L223.2 1136.2L223.2 1134.2L223.2 1132.2L223.3 1130.2L223.3 1128.2L223.3 1126.2L223.4 1124.2L223.4 1122.2L223.4 1120.2L223.4 1118.2L223.5 1116.2L223.5 1114.2L223.5 1112.2L223.6 1110.2L223.6 1108.2L223.6 1106.2L223.6 1104.2L223.7 1102.2L223.7 1100.2L223.7 1098.2L223.8 1096.2L223.8 1094.2L223.8 1092.2L223.9 1090.2L223.9 1088.2L223.9 1086.2L224.0 1084.2L224.0 1082.2L224.0 1080.2L224.0 1078.2L224.1 1076.2L224.1 1074.2L224.1 1072.2L224.2 1070.2L224.2 1068.2L224.2 1066.2L224.3 1064.2L224.3 1062.2L224.3 1060.2L224.4 1058.2L224.4 1056.2L224.4 1054.2L224.5 1052.2L224.5 1050.1L224.5 1048.1L224.6 1046.1L224.6 1044.1L224.6 1042.1L224.7 1040.1L224.7 1038.1L224.7 1036.1L224.8 1034.1L224.8 1032.1L224.8 1030.1L224.9 1028.1L224.9 1026.1L224.9 1024.1L225.0 1022.1L225.0 1020.1L225.1 1018.1L225.1 1016.1L225.1 1014.1L225.2 1012.1L225.2 1010.1L225.2 1008.1L225.3 1006.1L225.3 1004.1L225.4 1002.1L225.4 1000.1L225.4 998.1L225.5 996.1L225.5 994.1L225.6 992.1L225.6 990.1L225.6 988.1L225.7 986.1L225.7 984.1L225.8 982.1L225.8 980.1L225.9 978.1L225.9 976.1L225.9 974.1L226.0 972.1L226.0 970.1L226.1 968.1L226.1 966.1L226.2 964.1L226.2 962.1L226.3 960.1L226.3 958.1L226.4 956.1L226.4 954.1L226.5 952.1L226.5 950.1L226.5 948.1L226.6 946.1L226.7 944.1L226.7 942.1L226.8 940.1L226.8 938.1L226.9 936.1L226.9 934.0L227.0 932.0L227.0 930.0L227.1 928.0L227.2 926.0L227.2 924.0L227.3 922.0L227.4 920.0L227.4 918.0L227.5 916.0L227.6 914.0L227.6 912.0L227.7 910.0L227.7 908.0L227.8 906.0L227.9 904.0L227.9 902.0L228.0 900.0L228.1 898.0L228.1 896.0L228.2 894.0L228.3 892.0L228.3 890.0L228.4 888.0L228.5 886.0L228.5 884.0L228.6 882.0L228.7 880.0L228.7 878.0L228.8 876.0L228.9 874.0L228.9 872.0L229.0 870.0L229.1 868.0L229.1 866.0L229.2 864.0L229.2 862.0L229.3 860.0L229.3 858.0L229.4 856.0L229.5 854.0L229.5 852.0L229.6 850.0L229.6 848.0L229.7 846.0L229.7 844.0L229.8 842.0L229.8 840.0L229.9 838.0L230.0 836.0L230.0 834.0L230.1 832.0L230.2 830.0L230.3 828.0L230.3 826.0L230.4 824.0L230.5 822.0L230.6 820.0L230.7 818.0L230.8 816.0L231.0 814.0L231.1 812.0L231.2 810.0L231.4 808.0L231.5 806.0L231.7 804.0L231.9 802.0L232.0 800.0L232.2 798.0L232.4 796.0L232.5 794.0L232.7 792.0L232.9 790.0L233.1 788.0L233.3 786.0L233.4 784.1L233.6 782.1L233.8 780.1L234.0 778.1L234.2 776.1L234.5 774.1L234.7 772.1L234.9 770.1L235.1 768.1L235.4 766.1L235.6 764.1L235.9 762.2L236.1 760.2L236.4 758.2L236.7 756.2L237.0 754.2L237.4 752.3L237.7 750.3L238.1 748.3L238.4 746.4L238.8 744.4L239.2 742.4L239.5 740.5L239.9 738.5L240.3 736.5L240.7 734.6L241.1 732.6L241.5 730.6L241.9 728.7L242.3 726.7L242.6 724.7L243.0 722.8L243.4 720.8L243.7 718.8L244.0 716.8L244.3 714.8L244.6 712.8L244.9 710.8L245.2 708.8L245.5 706.8L245.9 704.9L246.4 702.9L247.0 700.9L247.8 698.8L248.7 696.8L249.8 695.1L250.9 693.8L252.0 693.3L253.1 693.7L254.2 694.8L255.3 696.4L256.2 698.4L257.0 700.3L257.6 702.3L258.1 704.2L258.6 706.2L259.0 708.1L259.4 710.1L259.8 712.1L260.1 714.1L260.5 716.1L260.9 718.1L261.3 720.0L261.7 722.0L262.2 724.0L262.6 725.9L263.1 727.9L263.5 729.8L264.0 731.8L264.4 733.7L264.8 735.7L265.3 737.6L265.7 739.6L266.1 741.5L266.5 743.5L266.9 745.5L267.3 747.4L267.7 749.4L268.0 751.4L268.4 753.3L268.8 755.3L269.2 757.3L269.6 759.2L270.0 761.2L270.4 763.2L270.8 765.1L271.2 767.1L271.6 769.0L272.0 771.0L272.5 773.0L272.9 774.9L273.3 776.9L273.7 778.9L274.1 780.8L274.4 782.8L274.8 784.8L275.1 786.7L275.4 788.7L275.7 790.7L275.9 792.7L276.2 794.6L276.4 796.6L276.6 798.6L276.8 800.6L277.0 802.6L277.2 804.6L277.4 806.6L277.5 808.6L277.7 810.6L277.8 812.6L278.2 810.6L278.7 808.7L279.1 806.7L279.6 804.8L280.0 802.8L280.5 800.9L281.0 798.9L281.5 797.0L282.0 795.0L282.6 793.1L283.1 791.2L283.7 789.3L284.2 787.3L284.8 785.4L285.3 783.5L285.9 781.6L286.5 779.7L287.1 777.8L287.7 775.9L288.4 774.0L289.0 772.1L289.7 770.2L290.4 768.4L291.1 766.5L291.8 764.6L292.5 762.8L293.3 760.9L294.1 759.1L294.8 757.2L295.6 755.4L296.4 753.5L297.2 751.7L297.9 749.8L298.7 747.9L299.4 746.1L300.2 744.2L300.9 742.4L301.6 740.5L302.3 738.6L303.0 736.7L303.7 734.9L304.4 733.0L305.0 731.1L305.7 729.2L306.4 727.3L307.0 725.4L307.7 723.5L308.3 721.6L309.0 719.7L309.6 717.8L310.2 715.9L310.8 714.0L311.3 712.1L311.9 710.2L312.5 708.3L313.0 706.3L313.6 704.4L314.1 702.5L314.6 700.5L315.1 698.6L315.7 696.7L316.2 694.7L316.6 692.8L317.1 690.9L317.6 688.9L318.1 687.0L318.5 685.0L319.0 683.1L319.4 681.1L319.9 679.2L320.3 677.2L320.7 675.3L321.2 673.3L321.6 671.4L322.0 669.4L322.4 667.4L322.8 665.5L323.2 663.5L323.6 661.6L324.0 659.6L324.4 657.6L324.8 655.7L325.2 653.7L325.6 651.7L326.0 649.8L326.4 647.8L326.8 645.8L327.1 643.9L327.5 641.9L327.9 639.9L328.2 638.0L328.6 636.0L328.9 634.0L329.3 632.1L329.6 630.1L329.9 628.1L330.2 626.1L330.5 624.1L330.8 622.1L331.2 620.2L331.5 618.2L331.8 616.2L332.1 614.2L332.5 612.2L332.8 610.3L333.2 608.3L333.5 606.4L333.9 604.4L334.4 602.5L334.8 600.5L335.3 598.6L335.8 596.7L336.3 594.7L336.8 592.8L337.4 590.9L338.0 589.0L338.6 587.1L339.3 585.2L339.9 583.3L340.6 581.4L341.3 579.5L342.0 577.6L342.7 575.7L343.4 573.9L344.1 572.0L344.8 570.1L345.5 568.2L346.2 566.4L346.9 564.5L347.7 562.7L348.4 560.8L349.2 558.9L350.0 557.1L350.8 555.3L351.6 553.4L352.4 551.6L353.2 549.8L354.0 547.9L354.9 546.1L355.7 544.3L356.5 542.5L357.4 540.7L358.3 538.9L359.2 537.1L360.1 535.3L361.0 533.5L362.0 531.8L362.9 530.0L363.9 528.3L364.8 526.5L365.8 524.7L366.8 523.0L367.7 521.2L368.7 519.5L369.6 517.7L370.5 515.9L371.5 514.2L372.4 512.4L373.4 510.6L374.3 508.9L375.3 507.1L376.2 505.3L377.1 503.6L378.1 501.8L379.0 500.0L379.9 498.2L380.8 496.5L381.8 494.7L382.7 492.9L383.7 491.2L384.7 489.4L385.7 487.7L386.7 486.0L387.8 484.3L388.8 482.5L389.9 480.8L391.0 479.1L392.1 477.4L393.2 475.7L394.4 474.0L395.6 472.4L396.8 470.8L398.1 469.3L399.4 467.8L400.8 466.4L402.2 465.1L403.7 463.8L405.3 462.6L407.0 461.6L408.8 460.8L410.7 460.2L412.6 459.7L414.6 459.4L416.6 459.2L418.6 459.2L420.6 459.4L422.6 459.7L424.5 460.1L426.4 460.7L428.2 461.5L429.9 462.5L431.6 463.6L433.3 464.7L434.9 465.9L436.5 467.1L438.1 468.4L439.6 469.7L441.1 471.0L442.5 472.4L443.9 473.8L445.3 475.3L446.6 476.8L447.9 478.3L449.2 479.8L450.4 481.4L451.7 483.0L452.8 484.6L454.0 486.2L455.2 487.9L456.3 489.5L457.4 491.2L458.6 492.8L459.7 494.5L460.9 496.1L462.1 497.7L463.3 499.3L464.5 500.9L465.7 502.5L467.0 504.0L468.2 505.6L469.8 507.5L471.1 509.1L472.4 510.6L473.7 512.1L475.0 513.6L476.3 515.1L477.6 516.6L479.0 518.1L480.4 519.6L481.8 521.0L483.3 522.4L484.7 523.8L486.1 525.2L487.5 526.7L488.9 528.1L490.2 529.6L491.5 531.1L492.7 532.7L493.9 534.3L495.0 535.9L496.1 537.6L497.1 539.3L498.1 541.1L499.1 542.9L500.0 544.6L500.9 546.4L501.8 548.3L502.5 550.1L503.3 551.9L504.0 553.8L504.6 555.6L505.3 557.5L505.9 559.4L506.5 561.3L507.0 563.2L507.6 565.2L508.1 567.1L508.7 569.1L509.2 571.0L509.7 572.9L510.2 574.9L510.8 576.8L511.3 578.8L511.8 580.7L512.4 582.6L512.9 584.6L513.5 586.5L514.1 588.4L514.6 590.3L515.2 592.3L515.7 594.2L516.2 596.1L516.8 598.1L517.3 600.0L517.9 601.9L518.4 603.9L519.0 605.8L519.6 607.7L520.2 609.6L520.8 611.5L521.4 613.4L522.0 615.3L522.7 617.2L523.4 619.0L524.1 620.9L524.9 622.7L525.7 624.6L526.5 626.4L527.4 628.2L528.2 630.0L529.1 631.8L530.0 633.6L530.9 635.4L531.8 637.2L532.8 639.0L533.7 640.7L534.6 642.5L535.6 644.3L536.5 646.1L537.4 647.8L538.3 649.6L539.2 651.4L540.1 653.2L540.9 655.0L541.7 656.9L542.4 658.7L543.2 660.6L543.9 662.4L544.6 664.3L545.3 666.2L546.0 668.0L546.7 669.9L547.4 671.8L548.0 673.7L548.7 675.6L549.3 677.5L549.9 679.4L550.5 681.3L551.1 683.2L551.7 685.2L552.3 687.1L552.9 689.0L553.4 690.9L554.0 692.8L554.6 694.7L555.1 696.7L555.6 698.6L556.2 700.5L556.7 702.4L557.2 704.4L557.7 706.3L558.2 708.3L558.7 710.2L559.2 712.1L559.7 714.1L560.2 716.0L560.7 718.0L561.2 719.9L561.7 721.8L562.2 723.8L562.6 725.7L563.1 727.7L563.6 729.6L564.0 731.6L564.5 733.6L564.9 735.6L565.3 737.6L565.6 739.7L566.0 741.7L566.3 743.8L566.7 745.8L567.1 747.9L567.5 749.9L567.9 751.8L568.4 753.7L568.9 755.6L569.5 757.3L570.2 759.0L571.2 760.6L572.3 762.1L573.7 763.5L575.2 764.9L576.8 766.2L578.4 767.5L580.0 768.8L581.5 770.0L582.9 771.4L584.0 772.9L584.9 774.5L585.6 776.3L586.3 778.2L586.9 780.1L587.4 782.2L587.8 784.2L588.2 786.2L588.6 788.2L588.9 790.2L589.2 792.1L589.5 794.1L589.7 796.1L589.9 798.1L590.1 800.1L590.3 802.1L590.5 804.1L590.7 806.1L590.9 808.1L591.0 810.1L591.2 812.1L591.4 814.1L591.5 816.1L591.7 818.1L591.8 820.1L592.0 822.1L592.2 824.1L592.3 826.1L592.5 828.1L592.7 830.1L592.8 832.0L593.0 834.0L593.1 836.0L593.3 838.0L593.4 840.0L593.6 842.0L593.7 844.0L593.8 846.0L594.0 848.0L594.1 850.0L594.2 852.0L594.4 854.0L594.5 856.0L594.6 858.0L594.8 860.0L594.9 862.0L595.0 864.0L595.2 866.0L595.3 868.0L595.4 870.0L595.5 872.0L595.7 874.0L595.8 876.0L595.9 878.0L596.0 880.0L596.1 882.0L596.2 884.0L596.3 886.0L596.3 888.0L596.4 890.0L596.4 892.0L596.5 894.0L596.5 896.0L596.6 898.0L596.6 900.0L596.7 902.0L596.7 904.0L596.8 906.0L596.8 908.0L596.9 910.0L596.9 912.0L596.9 914.0L597.0 916.0L597.0 918.0L597.0 920.0L597.1 922.0L597.1 924.0L597.1 926.0L597.1 928.0L597.2 930.0L597.2 932.0L597.2 934.0L597.2 936.0L597.2 938.0L597.2 940.0L597.2 938.0L597.2 936.0L597.3 934.0L597.3 932.0L597.3 930.0L597.4 928.0L597.4 926.0L597.5 924.0L597.5 922.0L597.6 920.0L597.6 917.9L597.7 915.9L597.8 913.9L597.9 911.9L597.9 909.9L598.0 907.9L598.1 905.9L598.2 903.9L598.3 901.9L598.3 899.9L598.4 897.9L598.5 895.9L598.6 893.9L598.7 891.9L598.8 889.9L598.9 887.9L599.0 885.9L599.2 883.9L599.3 881.9L599.4 879.9L599.6 877.9L599.7 875.9L599.9 873.9L600.1 871.9L600.3 869.9L600.4 867.9L600.6 865.9L600.8 864.0L601.0 862.0L601.2 860.0L601.3 858.0L601.5 856.0L601.7 854.0L601.8 852.0L602.0 850.0L602.1 848.0L602.3 846.0L602.4 844.0L602.6 842.0L602.7 840.0L602.9 838.0L603.0 836.0L603.1 834.0L603.3 832.0L603.4 830.0L603.6 828.0L603.7 826.0L603.8 824.0L604.0 822.0L604.1 820.0L604.3 818.0L604.4 816.0L604.6 814.0L604.7 812.0L604.9 810.0L605.0 808.0L605.2 806.0L605.4 804.0L605.5 802.0L605.7 800.0L605.8 798.0L606.0 796.0L606.2 794.0L606.3 792.0L606.5 790.0L606.6 788.0L606.8 786.0L606.9 784.0L607.1 782.0L607.2 780.0L607.3 778.0L607.5 776.0L607.6 774.0L607.7 772.0L607.8 770.0L608.0 768.0L608.1 766.0L608.2 764.0L608.3 762.0L608.5 760.0L608.6 757.9L608.7 755.9L608.8 754.4L609.0 752.4L609.1 750.4L609.3 748.4L609.4 746.5L609.6 744.5L609.8 742.5L609.9 740.5L610.1 738.5L610.3 736.5L610.6 734.5L610.8 732.6L611.1 730.6L611.3 728.6L611.7 726.6L612.0 724.7L612.5 722.7L612.9 720.8L613.3 718.8L613.8 716.9L614.3 714.9L614.8 713.0L615.3 711.0L615.8 709.1L616.3 707.1L616.8 705.2L617.3 703.2L617.7 701.3L618.2 699.3L618.7 697.4L619.2 695.4L619.7 693.5L620.2 691.5L620.6 689.6L621.1 687.6L621.6 685.7L622.1 683.8L622.6 681.8L623.1 679.9L623.6 677.9L624.1 675.9L624.6 673.9L625.0 671.7L625.5 669.4L626.0 667.0L626.4 664.5L626.9 662.0L627.3 659.5L627.8 656.9L628.2 654.5L628.7 652.1L629.1 649.9L629.6 647.9L630.1 646.0L630.6 644.5L631.2 643.2L631.7 642.3L632.3 641.7L632.9 641.5L633.5 641.6L634.2 642.1L635.0 643.0L635.7 644.1L636.5 645.5L637.4 647.2L638.3 649.0L639.1 651.1L640.0 653.2L640.9 655.5L641.8 657.8L642.7 660.2L643.5 662.6L644.4 665.0L645.2 667.4L645.9 669.7L646.7 671.8L647.3 673.9L648.0 675.9L648.6 677.8L649.2 679.8L649.8 681.7L650.3 683.6L650.9 685.5L651.4 687.4L651.9 689.4L652.4 691.3L652.9 693.3L653.4 695.2L653.9 697.2L654.3 699.1L654.7 701.1L655.1 703.1L655.5 705.1L655.9 703.1L656.3 701.2L656.8 699.2L657.2 697.2L657.6 695.3L658.0 693.3L658.3 691.3L658.7 689.4L659.1 687.4L659.5 685.4L659.8 683.4L660.2 681.5L660.5 679.5L660.9 677.5L661.2 675.6L661.5 673.6L661.9 671.6L662.2 669.6L662.5 667.7L662.8 665.7L663.1 663.7L663.4 661.7L663.7 659.7L664.0 657.8L664.2 655.8L664.5 653.8L664.8 651.8L665.0 649.8L665.3 647.8L665.5 645.9L665.7 643.9L666.0 641.9L666.2 639.9L666.4 637.9L666.6 635.9L666.8 633.9L667.0 631.9L667.1 629.9L667.3 627.9L667.5 625.9L667.7 623.9L667.9 622.0L668.1 620.0L668.3 618.0L668.5 616.0L668.7 614.0L668.9 612.0L669.1 610.0L669.3 608.0L669.5 606.0L669.6 604.0L669.8 602.0L670.0 600.0L670.2 598.0L670.4 596.0L670.6 594.0L670.8 592.0L671.0 590.0L671.2 588.0L671.4 586.0L671.6 584.0L671.9 582.1L672.1 580.1L672.4 578.1L672.6 576.1L672.9 574.1L673.2 572.2L673.5 570.2L673.8 568.2L674.1 566.3L674.4 564.3L674.8 562.3L675.2 560.3L675.6 558.3L676.0 556.4L676.4 554.4L676.8 552.4L677.3 550.5L677.8 548.5L678.3 546.5L678.8 544.6L679.3 542.6L679.8 540.7L680.4 538.8L681.0 536.9L681.6 535.0L682.2 533.1L682.8 531.2L683.5 529.3L684.2 527.4L684.9 525.6L685.7 523.7L686.6 521.8L687.6 520.1L688.6 518.4L689.9 516.9L691.3 515.5L692.9 514.5L694.6 513.8L696.5 513.6L698.3 513.9L700.2 514.6L701.9 515.6L703.6 516.6L705.1 517.9L706.5 519.2L707.8 520.8L709.0 522.4L710.2 524.1L711.3 525.8L712.4 527.5L713.5 529.2L714.5 530.9L715.5 532.6L716.5 534.4L717.5 536.1L718.5 537.9L719.4 539.7L720.4 541.5L721.3 543.3L722.2 545.1L723.0 546.9L723.9 548.7L724.7 550.6L725.4 552.4L726.2 554.3L726.9 556.2L727.6 558.0L728.2 559.9L728.8 561.8L729.4 563.7L729.9 565.6L730.4 567.6L730.9 569.5L731.4 571.5L731.8 573.4L732.3 575.4L732.8 577.3L733.3 579.3L733.9 581.2L734.4 583.1L735.0 585.0L735.6 587.0L736.2 588.9L736.8 590.8L737.4 592.7L738.0 594.6L738.5 596.5L739.0 598.5L739.6 600.4L740.1 602.3L740.6 604.3L741.1 606.2L741.5 608.2L742.0 610.1L742.5 612.1L743.0 614.0L743.5 616.0L743.9 617.9L744.4 619.9L744.8 621.8L745.2 623.8L745.6 625.8L746.0 627.7L746.4 629.7L746.7 631.7L747.0 633.6L747.3 635.6L747.6 637.6L747.8 639.6L748.0 641.6L748.2 643.5L748.4 645.5L748.5 647.5L748.7 649.5L748.8 651.5L749.0 653.5L749.1 655.5L749.2 657.5L749.3 659.5L749.5 661.5L749.6 663.5L749.7 665.5L749.8 667.5L750.0 669.5L750.1 671.5L750.3 673.5L750.5 675.5L750.7 677.5L750.9 679.5L751.2 681.5L751.5 683.5L751.8 685.4L752.2 687.4L752.4 688.9L752.8 690.9L753.2 692.8L753.6 694.8L753.9 696.8L754.2 698.8L754.4 700.7L754.6 702.7L754.8 704.7L754.9 706.7L755.0 708.7L755.1 710.7L755.2 712.7L755.3 714.6L755.4 716.6L755.5 718.6L755.6 720.6L755.7 722.6L755.8 724.6L755.9 726.6L756.0 728.6L756.1 730.6L756.2 732.6L756.2 734.6L756.3 736.6L756.4 738.5L756.5 740.5L756.6 742.5L756.6 744.5L756.7 746.5L756.8 748.5L756.8 750.5L756.9 752.5L757.0 754.5L757.1 756.5L757.1 758.5L757.2 760.5L757.2 762.5L757.3 764.5L757.4 766.5L757.4 768.5L757.5 770.5L757.5 772.5L757.6 774.5L757.6 776.5L757.7 778.5L757.7 780.5L757.8 782.5L757.8 784.5L757.9 786.5L757.9 788.6L758.0 790.6L758.0 792.6L758.1 794.6L758.1 796.6L758.2 798.6L758.2 800.6L758.3 802.6L758.3 804.6L758.3 806.6L758.4 808.6L758.4 810.6L758.5 812.6L758.5 814.6L758.5 816.6L758.6 818.6L758.6 820.6L758.6 822.6L758.7 824.6L758.7 826.7L758.7 828.7L758.8 830.7L758.8 832.7L758.9 834.7L758.9 836.7L758.9 838.7L759.0 840.7L759.0 842.7L759.0 844.7L759.1 846.7L759.1 848.7L759.1 850.7L759.2 852.7L759.2 854.7L759.2 856.8L759.3 858.8L759.3 860.8L759.3 862.8L759.4 864.8L759.4 866.8L759.4 868.8L759.5 870.8L759.5 872.8L759.5 874.8L759.6 876.8L759.6 878.8L759.6 880.8L759.7 882.8L759.7 884.8L759.7 886.8L759.8 888.8L759.8 890.8L759.9 892.8L759.9 894.8L759.9 896.8L760.0 898.8L760.0 900.8L760.1 902.8L760.1 904.8L760.1 906.8L760.2 908.9L760.2 910.9L760.3 912.9L760.3 914.9L760.3 916.9L760.4 918.9L760.4 920.9L760.5 922.9L760.5 924.9L760.5 926.9L760.6 928.9L760.6 930.9L760.7 932.9L760.7 934.9L760.7 936.9L760.8 938.9L760.8 940.9L760.9 942.9L760.9 944.9L760.9 946.9L761.0 948.9L761.0 950.9L761.1 952.9L761.1 954.9L761.1 956.9L761.2 958.9L761.2 960.9L761.2 962.9L761.3 964.9L761.3 966.9L761.3 968.9L761.4 970.9L761.4 972.9L761.5 974.9L761.5 976.9L761.5 978.9L761.6 980.9L761.6 982.9L761.6 984.9L761.7 986.9L761.7 988.9L761.7 990.9L761.8 992.9L761.8 994.9L761.8 996.9L761.9 998.9L761.9 1000.9L761.9 1002.9L762.0 1004.9L762.0 1006.9L762.0 1008.9L762.1 1010.9L762.1 1012.9L762.1 1014.9L762.2 1016.9L762.2 1018.9L762.2 1020.9L762.3 1022.9L762.3 1025.0L762.3 1027.0L762.4 1029.0L762.4 1031.0L762.4 1033.0L762.4 1035.0L762.5 1037.0L762.5 1039.0L762.5 1041.0L762.6 1043.0L762.6 1045.0L762.6 1047.0L762.7 1049.0L762.7 1051.0L762.7 1053.0L762.7 1055.0L762.8 1057.0L762.8 1059.0L762.8 1061.0L762.8 1063.0L762.9 1065.0L762.9 1067.0L762.9 1069.0L762.9 1071.0L763.0 1073.0L763.0 1075.0L763.0 1073.0L763.0 1071.0L763.0 1069.0L763.1 1067.0L763.1 1065.0L763.1 1063.0L763.1 1061.0L763.1 1059.0L763.1 1057.0L763.2 1055.0L763.2 1053.0L763.2 1051.0L763.2 1049.0L763.2 1047.0L763.3 1045.0L763.3 1043.0L763.3 1041.0L763.3 1039.0L763.4 1036.9L763.4 1034.9L763.4 1032.9L763.4 1030.9L763.5 1028.9L763.5 1026.9L763.5 1024.9L763.6 1022.9L763.6 1020.9L763.6 1018.9L763.6 1016.9L763.7 1014.9L763.7 1012.9L763.7 1010.9L763.8 1008.9L763.8 1006.9L763.8 1004.9L763.9 1002.9L763.9 1000.9L763.9 998.9L764.0 996.9L764.0 994.9L764.0 992.9L764.1 990.9L764.1 988.9L764.1 986.9L764.2 984.9L764.2 982.9L764.3 980.9L764.3 978.9L764.3 976.9L764.4 974.9L764.4 972.9L764.4 970.9L764.5 968.9L764.5 966.9L764.6 964.9L764.6 962.9L764.6 960.9L764.7 958.9L764.7 956.9L764.8 954.9L764.8 952.9L764.9 950.8L764.9 948.8L765.0 946.3L765.0 944.3L765.0 942.3L765.1 940.3L765.1 938.3L765.2 936.3L765.2 934.3L765.3 932.3L765.3 930.3L765.3 928.3L765.4 926.3L765.4 924.3L765.5 922.3L765.5 920.3L765.6 918.3L765.6 916.3L765.7 914.3L765.7 912.3L765.8 910.3L765.8 908.3L765.9 906.3L765.9 904.3L765.9 902.3L766.0 900.3L766.0 898.3L766.1 896.3L766.1 894.3L766.2 892.3L766.2 890.3L766.3 888.3L766.3 886.3L766.4 884.3L766.4 882.3L766.5 880.3L766.5 878.3L766.6 876.3L766.7 874.3L766.7 872.3L766.8 870.3L766.8 868.3L766.9 866.3L766.9 864.3L767.0 862.3L767.1 860.3L767.1 858.3L767.2 856.3L767.3 854.2L767.3 852.2L767.4 850.2L767.5 848.2L767.5 846.2L767.6 844.2L767.7 842.2L767.7 840.2L767.8 838.2L767.9 836.2L768.0 834.2L768.0 832.2L768.1 830.2L768.2 828.2L768.3 826.2L768.4 824.2L768.4 822.2L768.5 820.2L768.6 818.2L768.7 816.2L768.8 814.2L768.9 812.2L769.0 810.2L769.1 808.2L769.2 806.2L769.3 804.2L769.4 802.2L769.5 800.2L769.6 798.2L769.8 796.2L769.9 794.2L770.0 792.2L770.2 790.2L770.3 788.3L770.5 786.3L770.6 784.3L770.8 782.3L770.9 780.3L771.1 778.3L771.2 776.3L771.4 774.3L771.6 772.3L771.7 770.3L771.9 768.3L772.1 766.3L772.3 764.3L772.4 762.3L772.6 760.3L772.8 758.3L773.0 756.3L773.2 754.3L773.3 752.3L773.5 750.3L773.7 748.3L773.9 746.3L774.1 744.3L774.3 742.3L774.5 740.4L774.6 738.4L774.8 736.3L775.0 734.3L775.2 732.3L775.3 730.3L775.5 728.2L775.7 726.2L775.8 724.2L776.0 722.1L776.2 720.1L776.3 718.0L776.5 716.0L776.7 714.0L776.9 711.9L777.1 709.9L777.3 707.9L777.6 705.9L777.8 703.9L778.1 701.9L778.4 700.0L778.7 698.0L779.0 696.1L779.4 693.7L779.8 691.8L780.2 689.9L780.8 688.0L781.4 686.0L782.3 684.0L783.3 682.2L784.4 680.8L785.5 680.1L786.7 680.2L787.8 681.1L788.9 682.6L790.0 684.5L790.9 686.5L791.7 688.4L792.4 690.3L793.0 692.2L793.6 694.1L794.1 696.0L794.5 697.9L795.0 699.8L795.4 701.8L795.8 703.8L796.2 705.7L796.6 707.7L796.9 709.7L797.3 711.7L797.6 713.7L798.0 715.8L798.4 717.8L798.7 719.8L799.1 721.8L799.6 723.7L800.0 725.7L800.4 727.7L800.9 729.6L801.4 731.5L801.9 733.5L802.4 735.4L802.9 737.4L803.5 739.3L804.0 741.2L804.5 743.1L805.1 745.1L805.6 747.0L806.2 748.9L806.7 750.9L807.3 752.8L807.8 754.7L808.4 756.6L808.9 758.6L809.5 760.5L810.1 762.4L810.6 764.3L811.2 766.2L811.8 768.2L812.3 770.1L812.9 772.0L813.5 773.9L814.1 775.8L814.6 777.8L815.2 779.7L815.8 781.6L816.4 783.5L817.4 780.0L818.3 776.6L819.3 773.3L820.2 770.2L821.1 767.3L822.0 764.6L822.9 762.1L823.7 759.8L824.5 757.7L825.4 755.8L826.1 754.1L826.9 752.5L827.6 751.2L828.3 750.0L829.0 749.0L829.7 748.2L830.3 747.6L830.9 747.2L831.5 746.9L832.0 746.9L832.5 747.2L833.0 747.8L833.5 748.7L834.0 749.8L834.5 751.3L834.9 753.0L835.4 755.0L835.8 757.1L836.2 759.4L836.6 761.8L837.0 764.3L837.4 766.8L837.7 769.4L838.1 772.0L838.4 774.5L838.7 777.0L838.9 779.4L839.2 781.7L839.4 783.9L839.6 786.0L839.8 788.0L839.9 790.0L840.1 792.0L840.3 794.0L840.4 796.0L840.6 798.0L840.7 800.0L840.9 802.0L841.0 804.0L841.1 806.0L841.2 808.0L841.4 810.0L841.5 812.1L841.6 814.1L841.7 816.1L841.8 818.1L841.9 820.1L842.0 822.1L842.1 824.1L842.1 826.1L842.2 828.1L842.3 830.1L842.4 831.6L842.4 833.6L842.5 835.6L842.6 837.6L842.7 839.6L842.7 841.7L842.8 843.7L842.9 845.7L842.9 847.7L843.0 849.7L843.0 851.7L843.1 853.7L843.1 855.7L843.2 857.7L843.2 859.7L843.3 861.7L843.3 863.7L843.4 865.7L843.4 867.7L843.5 869.7L843.5 871.7L843.6 873.7L843.6 875.8L843.6 877.8L843.7 879.8L843.7 881.8L843.8 883.8L843.8 885.8L843.9 887.8L843.9 889.8L843.9 891.8L844.0 893.8L844.0 895.8L844.1 897.8L844.1 899.8L844.1 901.8L844.2 903.8L844.2 905.8L844.3 907.9L844.3 909.9L844.3 911.9L844.4 913.9L844.4 915.9L844.4 917.9L844.5 919.9L844.5 921.9L844.5 923.9L844.6 925.9L844.6 927.9L844.6 929.9L844.7 931.9L844.7 933.9L844.7 935.9L844.8 937.9L844.8 939.9L844.8 942.0L844.8 944.0L844.9 946.0L844.9 948.0L844.9 950.0L845.0 952.0L845.0 954.0L845.0 956.0L845.0 954.0L845.1 952.0L845.1 950.0L845.2 948.0L845.2 946.0L845.2 944.0L845.3 942.0L845.3 940.0L845.4 938.0L845.4 936.0L845.4 934.0L845.5 932.0L845.5 930.0L845.6 928.0L845.6 926.0L845.6 924.0L845.7 922.0L845.7 920.0L845.8 918.0L845.8 916.0L845.8 914.0L845.9 912.0L845.9 910.0L846.0 908.0L846.0 906.0L846.0 904.0L846.1 902.0L846.1 900.0L846.1 898.0L846.2 896.0L846.2 894.0L846.3 892.0L846.3 890.0L846.3 888.0L846.4 885.9L846.4 883.9L846.4 881.9L846.5 879.9L846.5 877.9L846.6 875.9L846.6 873.9L846.6 871.9L846.7 869.9L846.7 867.9L846.7 865.9L846.8 863.9L846.8 861.9L846.8 859.9L846.9 857.9L846.9 855.9L846.9 853.9L847.0 851.9L847.0 849.9L847.0 847.9L847.1 845.9L847.1 843.9L847.1 841.9L847.2 839.9L847.2 837.9L847.2 835.9L847.3 833.9L847.3 831.9L847.3 829.9L847.4 827.9L847.4 825.9L847.4 823.9L847.4 821.9L847.5 819.9L847.5 817.9L847.5 815.9L847.6 813.9L847.6 811.9L847.7 809.9L847.7 807.9L847.7 805.9L847.8 803.9L847.8 801.9L847.8 799.9L847.9 797.9L847.9 795.9L848.0 793.9L848.0 791.9L848.0 789.9L848.1 787.9L848.1 785.9L848.2 783.9L848.2 781.9L848.3 779.9L848.3 777.9L848.4 775.9L848.4 773.9L848.5 771.9L848.5 769.9L848.6 767.9L848.7 765.9L848.7 763.9L848.8 761.9L848.8 759.9L848.9 757.9L848.9 755.9L849.0 753.9L849.1 751.9L849.1 749.9L849.2 747.9L849.2 745.9L849.3 743.9L849.4 741.8L849.4 739.8L849.5 737.8L849.6 735.8L849.6 733.8L849.7 731.8L849.8 729.8L849.8 727.8L849.9 725.8L849.9 723.8L850.0 721.8L850.1 719.8L850.1 717.8L850.2 715.8L850.3 713.8L850.3 711.8L850.4 709.8L850.5 707.8L850.5 705.8L850.6 703.8L850.7 701.8L850.8 699.8L850.8 697.8L850.9 695.8L851.0 693.8L851.0 691.8L851.1 689.8L851.2 687.8L851.3 685.8L851.3 683.8L851.4 681.8L851.5 679.8L851.6 677.8L851.6 675.8L851.7 673.8L851.8 671.8L851.9 669.8L851.9 667.8L852.0 665.8L852.1 663.8L852.2 661.8L852.2 659.8L852.3 657.8L852.4 655.8L852.5 653.8L852.6 651.8L852.6 649.8L852.7 647.8L852.8 645.8L852.9 643.8L852.9 641.8L853.0 639.8L853.1 637.8L853.2 635.8L853.2 633.8L853.3 631.8L853.4 629.8L853.4 627.8L853.5 625.8L853.6 623.8L853.7 621.8L853.7 619.8L853.8 617.8L853.9 615.8L854.0 613.8L854.0 611.8L854.1 609.8L854.2 607.8L854.3 605.8L854.3 603.8L854.4 601.8L854.5 599.8L854.6 597.8L854.7 595.8L854.7 593.8L854.8 591.8L854.9 589.8L855.0 587.8L855.1 585.8L855.1 583.8L855.2 581.8L855.3 579.8L855.4 577.8L855.5 575.8L855.5 573.8L855.6 571.8L855.7 569.8L855.8 567.8L855.9 565.8L855.9 563.8L856.0 561.8L856.1 559.8L856.2 557.8L856.3 555.8L856.4 553.8L856.4 551.8L856.5 549.8L856.6 547.8L856.7 545.8L856.8 543.8L856.9 541.8L856.9 539.8L857.0 537.8L857.1 535.8L857.2 533.8L857.3 531.8L857.4 529.8L857.5 527.8L857.6 525.8L857.7 523.8L857.8 521.8L857.8 519.8L857.9 517.8L858.0 515.8L858.1 513.8L858.2 511.8L858.3 509.8L858.4 507.8L858.5 505.8L858.6 503.8L858.7 501.8L858.9 499.8L859.0 497.8L859.1 495.8L859.2 493.8L859.3 491.8L859.4 489.8L859.5 487.8L859.6 485.8L859.7 484.3L859.8 482.3L860.0 480.3L860.1 478.3L860.2 476.3L860.3 474.3L860.5 472.3L860.6 470.3L860.7 468.3L860.8 466.3L861.0 464.4L861.1 462.4L861.2 460.4L861.4 458.4L861.5 456.4L861.7 454.4L861.8 452.4L861.9 450.4L862.1 448.4L862.2 446.4L862.4 444.4L862.5 442.4L862.7 440.4L862.8 438.4L863.0 436.4L863.1 434.4L863.3 432.4L863.5 430.4L863.6 428.4L863.8 426.4L863.9 424.4L864.1 422.4L864.3 420.4L864.4 418.4L864.6 416.4L864.8 414.4L864.9 412.4L865.1 410.4L865.3 408.4L865.4 406.5L865.6 404.5L865.8 402.5L866.0 400.5L866.1 398.5L866.3 396.5L866.5 394.5L866.7 392.5L866.9 390.5L867.0 388.5L867.2 386.5L867.4 384.5L867.6 382.5L867.8 380.5L867.9 378.5L868.1 376.5L868.3 374.5L868.5 372.5L868.7 370.6L868.9 368.6L869.1 366.6L869.3 364.6L869.5 362.6L869.7 360.6L869.9 358.6L870.0 356.6L870.2 354.6L870.4 352.6L870.6 350.6L870.8 348.6L871.0 346.6L871.2 344.7L871.4 342.7L871.6 340.7L871.8 338.7L872.0 336.7L872.2 334.7L872.4 332.7L872.6 330.7L872.8 328.7L873.0 326.7L873.2 324.7L873.4 322.8L873.7 320.8L873.9 318.8L874.1 316.8L874.3 314.8L874.5 312.8L874.7 310.8L874.9 308.8L875.1 306.8L875.3 304.8L875.6 302.8L875.8 300.9L876.0 298.9L876.2 296.9L876.4 294.9L876.7 292.9L876.9 290.9L877.1 288.9L877.3 286.9L877.6 284.9L877.8 282.9L878.0 280.9L878.3 279.0L878.5 277.0L878.7 275.0L879.0 273.0L879.2 271.0L879.5 269.0L879.7 267.0L880.0 265.0L880.2 263.0L880.4 261.0L880.7 259.1L880.9 257.1L881.2 255.1L881.5 253.1L881.7 251.1L882.0 249.1L882.2 247.1L882.5 245.1L882.8 243.2L883.0 241.2L883.3 239.2L883.6 237.2L883.8 235.2L884.1 233.2L884.4 231.2L884.6 229.3L884.9 227.3L885.2 225.3L885.5 223.3L885.8 221.3L886.1 219.4L886.4 217.4L886.6 215.4L886.9 213.4L887.2 211.4L887.5 209.5L887.8 207.5L888.1 205.5L888.4 203.5L888.7 201.6L889.0 199.6L889.4 197.6L889.7 195.6L890.0 193.7L890.3 191.7L890.6 189.7L890.9 187.7L891.3 185.8L891.6 183.8L891.9 181.8L892.3 179.9L892.6 177.9L893.0 175.9L893.3 174.0L893.7 172.0L894.0 170.0L894.4 168.0L894.7 166.1L895.1 164.1L895.5 162.1L895.9 160.2L896.2 158.2L896.6 156.2L897.0 154.2L897.4 152.3L897.8 150.3L898.2 148.3L898.6 146.4L899.1 144.4L899.5 142.4L899.9 140.5L900.3 138.5L900.8 136.6L901.2 134.6L901.7 132.6L902.1 130.7L902.6 128.7L903.0 126.8L903.5 124.8L904.0 122.9L904.5 120.9L904.9 119.0L905.4 117.1L905.9 115.1L906.4 113.2L906.9 111.3L907.4 109.3L908.0 107.4L908.5 105.5L909.0 103.6L909.5 101.6L910.1 99.7L910.6 97.8L911.2 95.9L911.7 93.9L912.3 91.9L912.8 90.0L913.4 88.0L914.0 86.0L914.6 84.0L915.2 82.1L915.8 80.1L916.4 78.1L917.1 76.1L917.7 74.2L918.4 72.3L919.1 70.3L919.8 68.4L920.5 66.5L921.3 64.7L922.0 62.8L922.8 61.0L923.7 59.3L924.5 57.5L925.4 55.8L926.3 54.1L927.2 52.5L928.2 50.9L929.2 49.3L930.3 47.8L931.5 46.3L932.8 44.8L934.1 43.4L935.5 42.0L937.0 40.6L938.5 39.3L940.1 37.9L941.7 36.6L943.3 35.3L945.0 34.1L946.7 32.8L948.4 31.6L950.1 32.8L951.8 34.1L953.5 35.3L955.1 36.6L956.7 37.9L958.3 39.3L959.8 40.6L961.3 42.0L962.7 43.4L964.0 44.8L965.3 46.3L966.5 47.8L967.6 49.3L968.6 50.9L969.6 52.5L970.5 54.1L971.4 55.8L972.3 57.5L973.1 59.3L974.0 61.0L974.8 62.8L975.5 64.7L976.3 66.5L977.0 68.4L977.7 70.3L978.4 72.3L979.1 74.2L979.7 76.1L980.4 78.1L981.0 80.1L981.6 82.1L982.2 84.0L982.8 86.0L983.4 88.0L984.0 90.0L984.5 91.9L985.1 93.9L985.6 95.9L986.2 97.8L986.7 99.7L987.3 101.6L987.8 103.6L988.3 105.5L988.8 107.4L989.4 109.3L989.9 111.3L990.4 113.2L990.9 115.1L991.4 117.1L991.9 119.0L992.3 120.9L992.8 122.9L993.3 124.8L993.8 126.8L994.2 128.7L994.7 130.7L995.1 132.6L995.6 134.6L996.0 136.6L996.5 138.5L996.9 140.5L997.3 142.4L997.7 144.4L998.2 146.4L998.6 148.3L999.0 150.3L999.4 152.3L999.8 154.2L1000.2 156.2L1000.6 158.2L1000.9 160.2L1001.3 162.1L1001.7 164.1L1002.1 166.1L1002.4 168.0L1002.8 170.0L1003.1 172.0L1003.5 174.0L1003.8 175.9L1004.2 177.9L1004.5 179.9L1004.9 181.8L1005.2 183.8L1005.5 185.8L1005.9 187.7L1006.2 189.7L1006.5 191.7L1006.8 193.7L1007.1 195.6L1007.4 197.6L1007.8 199.6L1008.1 201.6L1008.4 203.5L1008.7 205.5L1009.0 207.5L1009.3 209.5L1009.6 211.4L1009.9 213.4L1010.2 215.4L1010.4 217.4L1010.7 219.4L1011.0 221.3L1011.3 223.3L1011.6 225.3L1011.9 227.3L1012.2 229.3L1012.4 231.2L1012.7 233.2L1013.0 235.2L1013.2 237.2L1013.5 239.2L1013.8 241.2L1014.0 243.2L1014.3 245.1L1014.6 247.1L1014.8 249.1L1015.1 251.1L1015.3 253.1L1015.6 255.1L1015.9 257.1L1016.1 259.1L1016.4 261.0L1016.6 263.0L1016.8 265.0L1017.1 267.0L1017.3 269.0L1017.6 271.0L1017.8 273.0L1018.1 275.0L1018.3 277.0L1018.5 279.0L1018.8 280.9L1019.0 282.9L1019.2 284.9L1019.5 286.9L1019.7 288.9L1019.9 290.9L1020.1 292.9L1020.4 294.9L1020.6 296.9L1020.8 298.9L1021.0 300.9L1021.2 302.8L1021.5 304.8L1021.7 306.8L1021.9 308.8L1022.1 310.8L1022.3 312.8L1022.5 314.8L1022.7 316.8L1022.9 318.8L1023.1 320.8L1023.4 322.8L1023.6 324.7L1023.8 326.7L1024.0 328.7L1024.2 330.7L1024.4 332.7L1024.6 334.7L1024.8 336.7L1025.0 338.7L1025.2 340.7L1025.4 342.7L1025.6 344.7L1025.8 346.6L1026.0 348.6L1026.2 350.6L1026.4 352.6L1026.6 354.6L1026.8 356.6L1026.9 358.6L1027.1 360.6L1027.3 362.6L1027.5 364.6L1027.7 366.6L1027.9 368.6L1028.1 370.6L1028.3 372.5L1028.5 374.5L1028.7 376.5L1028.9 378.5L1029.0 380.5L1029.2 382.5L1029.4 384.5L1029.6 386.5L1029.8 388.5L1029.9 390.5L1030.1 392.5L1030.3 394.5L1030.5 396.5L1030.7 398.5L1030.8 400.5L1031.0 402.5L1031.2 404.5L1031.4 406.5L1031.5 408.4L1031.7 410.4L1031.9 412.4L1032.0 414.4L1032.2 416.4L1032.4 418.4L1032.5 420.4L1032.7 422.4L1032.9 424.4L1033.0 426.4L1033.2 428.4L1033.3 430.4L1033.5 432.4L1033.7 434.4L1033.8 436.4L1034.0 438.4L1034.1 440.4L1034.3 442.4L1034.4 444.4L1034.6 446.4L1034.7 448.4L1034.9 450.4L1035.0 452.4L1035.1 454.4L1035.3 456.4L1035.4 458.4L1035.6 460.4L1035.7 462.4L1035.8 464.4L1036.0 466.3L1036.1 468.3L1036.2 470.3L1036.3 472.3L1036.5 474.3L1036.6 476.3L1036.7 478.3L1036.8 480.3L1037.0 482.3L1037.1 484.3L1037.2 485.8L1037.3 487.8L1037.4 489.8L1037.5 491.8L1037.6 493.8L1037.7 495.8L1037.8 497.8L1037.9 499.8L1038.1 501.8L1038.2 503.8L1038.3 505.8L1038.4 507.8L1038.5 509.8L1038.6 511.8L1038.7 513.8L1038.8 515.8L1038.9 517.8L1039.0 519.8L1039.0 521.8L1039.1 523.8L1039.2 525.8L1039.3 527.8L1039.4 529.8L1039.5 531.8L1039.6 533.8L1039.7 535.8L1039.8 537.8L1039.9 539.8L1039.9 541.8L1040.0 543.8L1040.1 545.8L1040.2 547.8L1040.3 549.8L1040.4 551.8L1040.4 553.8L1040.5 555.8L1040.6 557.8L1040.7 559.8L1040.8 561.8L1040.9 563.8L1040.9 565.8L1041.0 567.8L1041.1 569.8L1041.2 571.8L1041.3 573.8L1041.3 575.8L1041.4 577.8L1041.5 579.8L1041.6 581.8L1041.7 583.8L1041.7 585.8L1041.8 587.8L1041.9 589.8L1042.0 591.8L1042.1 593.8L1042.1 595.8L1042.2 597.8L1042.3 599.8L1042.4 601.8L1042.5 603.8L1042.5 605.8L1042.6 607.8L1042.7 609.8L1042.8 611.8L1042.8 613.8L1042.9 615.8L1043.0 617.8L1043.1 619.8L1043.1 621.8L1043.2 623.8L1043.3 625.8L1043.4 627.8L1043.4 629.8L1043.5 631.8L1043.6 633.8L1043.6 635.8L1043.7 637.8L1043.8 639.8L1043.9 641.8L1043.9 643.8L1044.0 645.8L1044.1 647.8L1044.2 649.8L1044.2 651.8L1044.3 653.8L1044.4 655.8L1044.5 657.8L1044.6 659.8L1044.6 661.8L1044.7 663.8L1044.8 665.8L1044.9 667.8L1044.9 669.8L1045.0 671.8L1045.1 673.8L1045.2 675.8L1045.2 677.8L1045.3 679.8L1045.4 681.8L1045.5 683.8L1045.5 685.8L1045.6 687.8L1045.7 689.8L1045.8 691.8L1045.8 693.8L1045.9 695.8L1046.0 697.8L1046.0 699.8L1046.1 701.8L1046.2 703.8L1046.3 705.8L1046.3 707.8L1046.4 709.8L1046.5 711.8L1046.5 713.8L1046.6 715.8L1046.7 717.8L1046.7 719.8L1046.8 721.8L1046.9 723.8L1046.9 725.8L1047.0 727.8L1047.0 729.8L1047.1 731.8L1047.2 733.8L1047.2 735.8L1047.3 737.8L1047.4 739.8L1047.4 741.8L1047.5 743.9L1047.6 745.9L1047.6 747.9L1047.7 749.9L1047.7 751.9L1047.8 753.9L1047.9 755.9L1047.9 757.9L1048.0 759.9L1048.0 761.9L1048.1 763.9L1048.1 765.9L1048.2 767.9L1048.3 769.9L1048.3 771.9L1048.4 773.9L1048.4 775.9L1048.5 777.9L1048.5 779.9L1048.6 781.9L1048.6 783.9L1048.7 785.9L1048.7 787.9L1048.8 789.9L1048.8 791.9L1048.8 793.9L1048.9 795.9L1048.9 797.9L1049.0 799.9L1049.0 801.9L1049.0 803.9L1049.1 805.9L1049.1 807.9L1049.1 809.9L1049.2 811.9L1049.2 813.9L1049.3 815.9L1049.3 817.9L1049.3 819.9L1049.4 821.9L1049.4 823.9L1049.4 825.9L1049.4 827.9L1049.5 829.9L1049.5 831.9L1049.5 833.9L1049.6 835.9L1049.6 837.9L1049.6 839.9L1049.7 841.9L1049.7 843.9L1049.7 845.9L1049.8 847.9L1049.8 849.9L1049.8 851.9L1049.9 853.9L1049.9 855.9L1049.9 857.9L1050.0 859.9L1050.0 861.9L1050.0 863.9L1050.1 865.9L1050.1 867.9L1050.1 869.9L1050.2 871.9L1050.2 873.9L1050.2 875.9L1050.3 877.9L1050.3 879.9L1050.4 881.9L1050.4 883.9L1050.4 885.9L1050.5 888.0L1050.5 890.0L1050.5 892.0L1050.6 894.0L1050.6 896.0L1050.7 898.0L1050.7 900.0L1050.7 902.0L1050.8 904.0L1050.8 906.0L1050.8 908.0L1050.9 910.0L1050.9 912.0L1051.0 914.0L1051.0 916.0L1051.0 918.0L1051.1 920.0L1051.1 922.0L1051.2 924.0L1051.2 926.0L1051.2 928.0L1051.3 930.0L1051.3 932.0L1051.4 934.0L1051.4 936.0L1051.4 938.0L1051.5 940.0L1051.5 942.0L1051.6 944.0L1051.6 946.0L1051.6 948.0L1051.7 950.0L1051.7 952.0L1051.8 954.0L1051.8 956.0L1051.8 954.0L1051.8 952.0L1051.9 950.0L1051.9 948.0L1051.9 946.0L1052.0 944.0L1052.0 942.0L1052.0 939.9L1052.0 937.9L1052.1 935.9L1052.1 933.9L1052.1 931.9L1052.2 929.9L1052.2 927.9L1052.2 925.9L1052.3 923.9L1052.3 921.9L1052.3 919.9L1052.4 917.9L1052.4 915.9L1052.4 913.9L1052.5 911.9L1052.5 909.9L1052.5 907.9L1052.6 905.8L1052.6 903.8L1052.7 901.8L1052.7 899.8L1052.7 897.8L1052.8 895.8L1052.8 893.8L1052.9 891.8L1052.9 889.8L1052.9 887.8L1053.0 885.8L1053.0 883.8L1053.1 881.8L1053.1 879.8L1053.2 877.8L1053.2 875.8L1053.2 873.7L1053.3 871.7L1053.3 869.7L1053.4 867.7L1053.4 865.7L1053.5 863.7L1053.5 861.7L1053.6 859.7L1053.6 857.7L1053.7 855.7L1053.7 853.7L1053.8 851.7L1053.8 849.7L1053.9 847.7L1053.9 845.7L1054.0 843.7L1054.1 841.7L1054.1 839.6L1054.2 837.6L1054.3 835.6L1054.4 833.6L1054.4 831.6L1054.5 830.1L1054.6 828.1L1054.7 826.1L1054.7 824.1L1054.8 822.1L1054.9 820.1L1055.0 818.1L1055.1 816.1L1055.2 814.1L1055.3 812.1L1055.4 810.0L1055.6 808.0L1055.7 806.0L1055.8 804.0L1055.9 802.0L1056.1 800.0L1056.2 798.0L1056.4 796.0L1056.5 794.0L1056.7 792.0L1056.9 790.0L1057.0 788.0L1057.2 786.0L1057.4 783.9L1057.6 781.7L1057.9 779.4L1058.1 777.0L1058.4 774.5L1058.7 772.0L1059.1 769.4L1059.4 766.8L1059.8 764.3L1060.2 761.8L1060.6 759.4L1061.0 757.1L1061.4 755.0L1061.9 753.0L1062.3 751.3L1062.8 749.8L1063.3 748.7L1063.8 747.8L1064.3 747.2L1064.8 746.9L1065.3 746.9L1065.9 747.2L1066.5 747.6L1067.1 748.2L1067.8 749.0L1068.5 750.0L1069.2 751.2L1069.9 752.5L1070.7 754.1L1071.4 755.8L1072.3 757.7L1073.1 759.8L1073.9 762.1L1074.8 764.6L1075.7 767.3L1076.6 770.2L1077.5 773.3L1078.5 776.6L1079.4 780.0L1080.4 783.5L1081.0 781.6L1081.6 779.7L1082.2 777.8L1082.7 775.8L1083.3 773.9L1083.9 772.0L1084.5 770.1L1085.0 768.2L1085.6 766.2L1086.2 764.3L1086.7 762.4L1087.3 760.5L1087.9 758.6L1088.4 756.6L1089.0 754.7L1089.5 752.8L1090.1 750.9L1090.6 748.9L1091.2 747.0L1091.7 745.1L1092.3 743.1L1092.8 741.2L1093.3 739.3L1093.9 737.4L1094.4 735.4L1094.9 733.5L1095.4 731.5L1095.9 729.6L1096.4 727.7L1096.8 725.7L1097.2 723.7L1097.7 721.8L1098.1 719.8L1098.4 717.8L1098.8 715.8L1099.2 713.7L1099.5 711.7L1099.9 709.7L1100.2 707.7L1100.6 705.7L1101.0 703.8L1101.4 701.8L1101.8 699.8L1102.3 697.9L1102.7 696.0L1103.2 694.1L1103.8 692.2L1104.4 690.3L1105.1 688.4L1105.9 686.5L1106.8 684.5L1107.9 682.6L1109.0 681.1L1110.1 680.2L1111.3 680.1L1112.4 680.8L1113.5 682.2L1114.5 684.0L1115.4 686.0L1116.0 688.0L1116.6 689.9L1117.0 691.8L1117.4 693.7L1117.8 696.1L1118.1 698.0L1118.4 700.0L1118.7 701.9L1119.0 703.9L1119.2 705.9L1119.5 707.9L1119.7 709.9L1119.9 711.9L1120.1 714.0L1120.3 716.0L1120.5 718.0L1120.6 720.1L1120.8 722.1L1121.0 724.2L1121.1 726.2L1121.3 728.2L1121.5 730.3L1121.6 732.3L1121.8 734.3L1122.0 736.3L1122.2 738.4L1122.3 740.4L1122.5 742.3L1122.7 744.3L1122.9 746.3L1123.1 748.3L1123.3 750.3L1123.5 752.3L1123.6 754.3L1123.8 756.3L1124.0 758.3L1124.2 760.3L1124.4 762.3L1124.5 764.3L1124.7 766.3L1124.9 768.3L1125.1 770.3L1125.2 772.3L1125.4 774.3L1125.6 776.3L1125.7 778.3L1125.9 780.3L1126.0 782.3L1126.2 784.3L1126.3 786.3L1126.5 788.3L1126.6 790.2L1126.8 792.2L1126.9 794.2L1127.0 796.2L1127.2 798.2L1127.3 800.2L1127.4 802.2L1127.5 804.2L1127.6 806.2L1127.7 808.2L1127.8 810.2L1127.9 812.2L1128.0 814.2L1128.1 816.2L1128.2 818.2L1128.3 820.2L1128.4 822.2L1128.4 824.2L1128.5 826.2L1128.6 828.2L1128.7 830.2L1128.8 832.2L1128.8 834.2L1128.9 836.2L1129.0 838.2L1129.1 840.2L1129.1 842.2L1129.2 844.2L1129.3 846.2L1129.3 848.2L1129.4 850.2L1129.5 852.2L1129.5 854.2L1129.6 856.3L1129.7 858.3L1129.7 860.3L1129.8 862.3L1129.9 864.3L1129.9 866.3L1130.0 868.3L1130.0 870.3L1130.1 872.3L1130.1 874.3L1130.2 876.3L1130.3 878.3L1130.3 880.3L1130.4 882.3L1130.4 884.3L1130.5 886.3L1130.5 888.3L1130.6 890.3L1130.6 892.3L1130.7 894.3L1130.7 896.3L1130.8 898.3L1130.8 900.3L1130.9 902.3L1130.9 904.3L1130.9 906.3L1131.0 908.3L1131.0 910.3L1131.1 912.3L1131.1 914.3L1131.2 916.3L1131.2 918.3L1131.3 920.3L1131.3 922.3L1131.4 924.3L1131.4 926.3L1131.5 928.3L1131.5 930.3L1131.5 932.3L1131.6 934.3L1131.6 936.3L1131.7 938.3L1131.7 940.3L1131.8 942.3L1131.8 944.3L1131.8 946.3L1131.9 948.8L1131.9 950.8L1132.0 952.9L1132.0 954.9L1132.1 956.9L1132.1 958.9L1132.2 960.9L1132.2 962.9L1132.2 964.9L1132.3 966.9L1132.3 968.9L1132.4 970.9L1132.4 972.9L1132.4 974.9L1132.5 976.9L1132.5 978.9L1132.5 980.9L1132.6 982.9L1132.6 984.9L1132.7 986.9L1132.7 988.9L1132.7 990.9L1132.8 992.9L1132.8 994.9L1132.8 996.9L1132.9 998.9L1132.9 1000.9L1132.9 1002.9L1133.0 1004.9L1133.0 1006.9L1133.0 1008.9L1133.1 1010.9L1133.1 1012.9L1133.1 1014.9L1133.2 1016.9L1133.2 1018.9L1133.2 1020.9L1133.2 1022.9L1133.3 1024.9L1133.3 1026.9L1133.3 1028.9L1133.4 1030.9L1133.4 1032.9L1133.4 1034.9L1133.4 1036.9L1133.5 1039.0L1133.5 1041.0L1133.5 1043.0L1133.5 1045.0L1133.6 1047.0L1133.6 1049.0L1133.6 1051.0L1133.6 1053.0L1133.6 1055.0L1133.7 1057.0L1133.7 1059.0L1133.7 1061.0L1133.7 1063.0L1133.7 1065.0L1133.7 1067.0L1133.8 1069.0L1133.8 1071.0L1133.8 1073.0L1133.8 1075.0L1133.8 1073.0L1133.9 1071.0L1133.9 1069.0L1133.9 1067.0L1133.9 1065.0L1134.0 1063.0L1134.0 1061.0L1134.0 1059.0L1134.0 1057.0L1134.1 1055.0L1134.1 1053.0L1134.1 1051.0L1134.1 1049.0L1134.2 1047.0L1134.2 1045.0L1134.2 1043.0L1134.3 1041.0L1134.3 1039.0L1134.3 1037.0L1134.4 1035.0L1134.4 1033.0L1134.4 1031.0L1134.4 1029.0L1134.5 1027.0L1134.5 1025.0L1134.5 1022.9L1134.6 1020.9L1134.6 1018.9L1134.6 1016.9L1134.7 1014.9L1134.7 1012.9L1134.7 1010.9L1134.8 1008.9L1134.8 1006.9L1134.8 1004.9L1134.9 1002.9L1134.9 1000.9L1134.9 998.9L1135.0 996.9L1135.0 994.9L1135.0 992.9L1135.1 990.9L1135.1 988.9L1135.1 986.9L1135.2 984.9L1135.2 982.9L1135.2 980.9L1135.3 978.9L1135.3 976.9L1135.3 974.9L1135.4 972.9L1135.4 970.9L1135.5 968.9L1135.5 966.9L1135.5 964.9L1135.6 962.9L1135.6 960.9L1135.6 958.9L1135.7 956.9L1135.7 954.9L1135.7 952.9L1135.8 950.9L1135.8 948.9L1135.9 946.9L1135.9 944.9L1135.9 942.9L1136.0 940.9L1136.0 938.9L1136.1 936.9L1136.1 934.9L1136.1 932.9L1136.2 930.9L1136.2 928.9L1136.3 926.9L1136.3 924.9L1136.3 922.9L1136.4 920.9L1136.4 918.9L1136.5 916.9L1136.5 914.9L1136.5 912.9L1136.6 910.9L1136.6 908.9L1136.7 906.8L1136.7 904.8L1136.7 902.8L1136.8 900.8L1136.8 898.8L1136.9 896.8L1136.9 894.8L1136.9 892.8L1137.0 890.8L1137.0 888.8L1137.1 886.8L1137.1 884.8L1137.1 882.8L1137.2 880.8L1137.2 878.8L1137.2 876.8L1137.3 874.8L1137.3 872.8L1137.3 870.8L1137.4 868.8L1137.4 866.8L1137.4 864.8L1137.5 862.8L1137.5 860.8L1137.5 858.8L1137.6 856.8L1137.6 854.7L1137.6 852.7L1137.7 850.7L1137.7 848.7L1137.7 846.7L1137.8 844.7L1137.8 842.7L1137.8 840.7L1137.9 838.7L1137.9 836.7L1137.9 834.7L1138.0 832.7L1138.0 830.7L1138.1 828.7L1138.1 826.7L1138.1 824.6L1138.2 822.6L1138.2 820.6L1138.2 818.6L1138.3 816.6L1138.3 814.6L1138.3 812.6L1138.4 810.6L1138.4 808.6L1138.5 806.6L1138.5 804.6L1138.5 802.6L1138.6 800.6L1138.6 798.6L1138.7 796.6L1138.7 794.6L1138.8 792.6L1138.8 790.6L1138.9 788.6L1138.9 786.5L1139.0 784.5L1139.0 782.5L1139.1 780.5L1139.1 778.5L1139.2 776.5L1139.2 774.5L1139.3 772.5L1139.3 770.5L1139.4 768.5L1139.4 766.5L1139.5 764.5L1139.6 762.5L1139.6 760.5L1139.7 758.5L1139.7 756.5L1139.8 754.5L1139.9 752.5L1140.0 750.5L1140.0 748.5L1140.1 746.5L1140.2 744.5L1140.2 742.5L1140.3 740.5L1140.4 738.5L1140.5 736.6L1140.6 734.6L1140.6 732.6L1140.7 730.6L1140.8 728.6L1140.9 726.6L1141.0 724.6L1141.1 722.6L1141.2 720.6L1141.3 718.6L1141.4 716.6L1141.5 714.6L1141.6 712.7L1141.7 710.7L1141.8 708.7L1141.9 706.7L1142.0 704.7L1142.2 702.7L1142.4 700.7L1142.6 698.8L1142.9 696.8L1143.2 694.8L1143.6 692.8L1144.0 690.9L1144.4 688.9L1144.6 687.4L1145.0 685.4L1145.3 683.5L1145.6 681.5L1145.9 679.5L1146.1 677.5L1146.3 675.5L1146.5 673.5L1146.7 671.5L1146.8 669.5L1147.0 667.5L1147.1 665.5L1147.2 663.5L1147.3 661.5L1147.5 659.5L1147.6 657.5L1147.7 655.5L1147.8 653.5L1148.0 651.5L1148.1 649.5L1148.3 647.5L1148.4 645.5L1148.6 643.5L1148.8 641.6L1149.0 639.6L1149.2 637.6L1149.5 635.6L1149.8 633.6L1150.1 631.7L1150.4 629.7L1150.8 627.7L1151.2 625.8L1151.6 623.8L1152.0 621.8L1152.4 619.9L1152.9 617.9L1153.3 616.0L1153.8 614.0L1154.3 612.1L1154.8 610.1L1155.3 608.2L1155.7 606.2L1156.2 604.3L1156.7 602.3L1157.2 600.4L1157.8 598.5L1158.3 596.5L1158.8 594.6L1159.4 592.7L1160.0 590.8L1160.6 588.9L1161.2 587.0L1161.8 585.0L1162.4 583.1L1162.9 581.2L1163.5 579.3L1164.0 577.3L1164.5 575.4L1165.0 573.4L1165.4 571.5L1165.9 569.5L1166.4 567.6L1166.9 565.6L1167.4 563.7L1168.0 561.8L1168.6 559.9L1169.2 558.0L1169.9 556.2L1170.6 554.3L1171.4 552.4L1172.1 550.6L1172.9 548.7L1173.8 546.9L1174.6 545.1L1175.5 543.3L1176.4 541.5L1177.4 539.7L1178.3 537.9L1179.3 536.1L1180.3 534.4L1181.3 532.6L1182.3 530.9L1183.3 529.2L1184.4 527.5L1185.5 525.8L1186.6 524.1L1187.8 522.4L1189.0 520.8L1190.3 519.2L1191.7 517.9L1193.2 516.6L1194.9 515.6L1196.6 514.6L1198.5 513.9L1200.3 513.6L1202.2 513.8L1203.9 514.5L1205.5 515.5L1206.9 516.9L1208.2 518.4L1209.2 520.1L1210.2 521.8L1211.1 523.7L1211.9 525.6L1212.6 527.4L1213.3 529.3L1214.0 531.2L1214.6 533.1L1215.2 535.0L1215.8 536.9L1216.4 538.8L1217.0 540.7L1217.5 542.6L1218.0 544.6L1218.5 546.5L1219.0 548.5L1219.5 550.5L1220.0 552.4L1220.4 554.4L1220.8 556.4L1221.2 558.3L1221.6 560.3L1222.0 562.3L1222.4 564.3L1222.7 566.3L1223.0 568.2L1223.3 570.2L1223.6 572.2L1223.9 574.1L1224.2 576.1L1224.4 578.1L1224.7 580.1L1224.9 582.1L1225.2 584.0L1225.4 586.0L1225.6 588.0L1225.8 590.0L1226.0 592.0L1226.2 594.0L1226.4 596.0L1226.6 598.0L1226.8 600.0L1227.0 602.0L1227.2 604.0L1227.3 606.0L1227.5 608.0L1227.7 610.0L1227.9 612.0L1228.1 614.0L1228.3 616.0L1228.5 618.0L1228.7 620.0L1228.9 622.0L1229.1 623.9L1229.3 625.9L1229.5 627.9L1229.7 629.9L1229.8 631.9L1230.0 633.9L1230.2 635.9L1230.4 637.9L1230.6 639.9L1230.8 641.9L1231.1 643.9L1231.3 645.9L1231.5 647.8L1231.8 649.8L1232.0 651.8L1232.3 653.8L1232.6 655.8L1232.8 657.8L1233.1 659.7L1233.4 661.7L1233.7 663.7L1234.0 665.7L1234.3 667.7L1234.6 669.6L1234.9 671.6L1235.3 673.6L1235.6 675.6L1235.9 677.5L1236.3 679.5L1236.6 681.5L1237.0 683.4L1237.3 685.4L1237.7 687.4L1238.1 689.4L1238.5 691.3L1238.8 693.3L1239.2 695.3L1239.6 697.2L1240.0 699.2L1240.5 701.2L1240.9 703.1L1241.3 705.1L1241.7 703.1L1242.1 701.1L1242.5 699.1L1242.9 697.2L1243.4 695.2L1243.9 693.3L1244.4 691.3L1244.9 689.4L1245.4 687.4L1245.9 685.5L1246.5 683.6L1247.0 681.7L1247.6 679.8L1248.2 677.8L1248.8 675.9L1249.5 673.9L1250.1 671.8L1250.9 669.7L1251.6 667.4L1252.4 665.0L1253.3 662.6L1254.1 660.2L1255.0 657.8L1255.9 655.5L1256.8 653.2L1257.7 651.1L1258.5 649.0L1259.4 647.2L1260.3 645.5L1261.1 644.1L1261.8 643.0L1262.6 642.1L1263.3 641.6L1263.9 641.5L1264.5 641.7L1265.1 642.3L1265.6 643.2L1266.2 644.5L1266.7 646.0L1267.2 647.9L1267.7 649.9L1268.1 652.1L1268.6 654.5L1269.0 656.9L1269.5 659.5L1269.9 662.0L1270.4 664.5L1270.8 667.0L1271.3 669.4L1271.8 671.7L1272.2 673.9L1272.7 675.9L1273.2 677.9L1273.7 679.9L1274.2 681.8L1274.7 683.8L1275.2 685.7L1275.7 687.6L1276.2 689.6L1276.6 691.5L1277.1 693.5L1277.6 695.4L1278.1 697.4L1278.6 699.3L1279.1 701.3L1279.5 703.2L1280.0 705.2L1280.5 707.1L1281.0 709.1L1281.5 711.0L1282.0 713.0L1282.5 714.9L1283.0 716.9L1283.5 718.8L1283.9 720.8L1284.3 722.7L1284.8 724.7L1285.1 726.6L1285.5 728.6L1285.7 730.6L1286.0 732.6L1286.2 734.5L1286.5 736.5L1286.7 738.5L1286.9 740.5L1287.0 742.5L1287.2 744.5L1287.4 746.5L1287.5 748.4L1287.7 750.4L1287.8 752.4L1288.0 754.4L1288.1 755.9L1288.2 757.9L1288.3 760.0L1288.5 762.0L1288.6 764.0L1288.7 766.0L1288.8 768.0L1289.0 770.0L1289.1 772.0L1289.2 774.0L1289.3 776.0L1289.5 778.0L1289.6 780.0L1289.7 782.0L1289.9 784.0L1290.0 786.0L1290.2 788.0L1290.3 790.0L1290.5 792.0L1290.6 794.0L1290.8 796.0L1291.0 798.0L1291.1 800.0L1291.3 802.0L1291.4 804.0L1291.6 806.0L1291.8 808.0L1291.9 810.0L1292.1 812.0L1292.2 814.0L1292.4 816.0L1292.5 818.0L1292.7 820.0L1292.8 822.0L1293.0 824.0L1293.1 826.0L1293.2 828.0L1293.4 830.0L1293.5 832.0L1293.7 834.0L1293.8 836.0L1293.9 838.0L1294.1 840.0L1294.2 842.0L1294.4 844.0L1294.5 846.0L1294.7 848.0L1294.8 850.0L1295.0 852.0L1295.1 854.0L1295.3 856.0L1295.5 858.0L1295.6 860.0L1295.8 862.0L1296.0 864.0L1296.2 865.9L1296.4 867.9L1296.5 869.9L1296.7 871.9L1296.9 873.9L1297.1 875.9L1297.2 877.9L1297.4 879.9L1297.5 881.9L1297.6 883.9L1297.8 885.9L1297.9 887.9L1298.0 889.9L1298.1 891.9L1298.2 893.9L1298.3 895.9L1298.4 897.9L1298.5 899.9L1298.5 901.9L1298.6 903.9L1298.7 905.9L1298.8 907.9L1298.9 909.9L1298.9 911.9L1299.0 913.9L1299.1 915.9L1299.2 917.9L1299.2 920.0L1299.3 922.0L1299.3 924.0L1299.4 926.0L1299.4 928.0L1299.5 930.0L1299.5 932.0L1299.5 934.0L1299.6 936.0L1299.6 938.0L1299.6 940.0L1299.6 938.0L1299.6 936.0L1299.6 934.0L1299.6 932.0L1299.6 930.0L1299.7 928.0L1299.7 926.0L1299.7 924.0L1299.7 922.0L1299.8 920.0L1299.8 918.0L1299.8 916.0L1299.9 914.0L1299.9 912.0L1299.9 910.0L1300.0 908.0L1300.0 906.0L1300.1 904.0L1300.1 902.0L1300.2 900.0L1300.2 898.0L1300.3 896.0L1300.3 894.0L1300.4 892.0L1300.4 890.0L1300.5 888.0L1300.5 886.0L1300.6 884.0L1300.7 882.0L1300.8 880.0L1300.9 878.0L1301.0 876.0L1301.1 874.0L1301.3 872.0L1301.4 870.0L1301.5 868.0L1301.6 866.0L1301.8 864.0L1301.9 862.0L1302.0 860.0L1302.2 858.0L1302.3 856.0L1302.4 854.0L1302.6 852.0L1302.7 850.0L1302.8 848.0L1303.0 846.0L1303.1 844.0L1303.2 842.0L1303.4 840.0L1303.5 838.0L1303.7 836.0L1303.8 834.0L1304.0 832.0L1304.1 830.1L1304.3 828.1L1304.5 826.1L1304.6 824.1L1304.8 822.1L1305.0 820.1L1305.1 818.1L1305.3 816.1L1305.4 814.1L1305.6 812.1L1305.8 810.1L1305.9 808.1L1306.1 806.1L1306.3 804.1L1306.5 802.1L1306.7 800.1L1306.9 798.1L1307.1 796.1L1307.3 794.1L1307.6 792.1L1307.9 790.2L1308.2 788.2L1308.6 786.2L1309.0 784.2L1309.4 782.2L1309.9 780.1L1310.5 778.2L1311.2 776.3L1311.9 774.5L1312.8 772.9L1313.9 771.4L1315.3 770.0L1316.8 768.8L1318.4 767.5L1320.0 766.2L1321.6 764.9L1323.1 763.5L1324.5 762.1L1325.6 760.6L1326.6 759.0L1327.3 757.3L1327.9 755.6L1328.4 753.7L1328.9 751.8L1329.3 749.9L1329.7 747.9L1330.1 745.8L1330.5 743.8L1330.8 741.7L1331.2 739.7L1331.5 737.6L1331.9 735.6L1332.3 733.6L1332.8 731.6L1333.2 729.6L1333.7 727.7L1334.2 725.7L1334.6 723.8L1335.1 721.8L1335.6 719.9L1336.1 718.0L1336.6 716.0L1337.1 714.1L1337.6 712.1L1338.1 710.2L1338.6 708.3L1339.1 706.3L1339.6 704.4L1340.1 702.4L1340.6 700.5L1341.2 698.6L1341.7 696.7L1342.2 694.7L1342.8 692.8L1343.4 690.9L1343.9 689.0L1344.5 687.1L1345.1 685.2L1345.7 683.2L1346.3 681.3L1346.9 679.4L1347.5 677.5L1348.1 675.6L1348.8 673.7L1349.4 671.8L1350.1 669.9L1350.8 668.0L1351.5 666.2L1352.2 664.3L1352.9 662.4L1353.6 660.6L1354.4 658.7L1355.1 656.9L1355.9 655.0L1356.7 653.2L1357.6 651.4L1358.5 649.6L1359.4 647.8L1360.3 646.1L1361.2 644.3L1362.2 642.5L1363.1 640.7L1364.0 639.0L1365.0 637.2L1365.9 635.4L1366.8 633.6L1367.7 631.8L1368.6 630.0L1369.4 628.2L1370.3 626.4L1371.1 624.6L1371.9 622.7L1372.7 620.9L1373.4 619.0L1374.1 617.2L1374.8 615.3L1375.4 613.4L1376.0 611.5L1376.6 609.6L1377.2 607.7L1377.8 605.8L1378.4 603.9L1378.9 601.9L1379.5 600.0L1380.0 598.1L1380.6 596.1L1381.1 594.2L1381.6 592.3L1382.2 590.3L1382.7 588.4L1383.3 586.5L1383.9 584.6L1384.4 582.6L1385.0 580.7L1385.5 578.8L1386.0 576.8L1386.6 574.9L1387.1 572.9L1387.6 571.0L1388.1 569.1L1388.7 567.1L1389.2 565.2L1389.8 563.2L1390.3 561.3L1390.9 559.4L1391.5 557.5L1392.2 555.6L1392.8 553.8L1393.5 551.9L1394.3 550.1L1395.0 548.3L1395.9 546.4L1396.8 544.6L1397.7 542.9L1398.7 541.1L1399.7 539.3L1400.7 537.6L1401.8 535.9L1402.9 534.3L1404.1 532.7L1405.3 531.1L1406.6 529.6L1407.9 528.1L1409.3 526.7L1410.7 525.2L1412.1 523.8L1413.5 522.4L1415.0 521.0L1416.4 519.6L1417.8 518.1L1419.2 516.6L1420.5 515.1L1421.8 513.6L1423.1 512.1L1424.4 510.6L1425.7 509.1L1427.0 507.5L1428.6 505.6L1429.8 504.0L1431.1 502.5L1432.3 500.9L1433.5 499.3L1434.7 497.7L1435.9 496.1L1437.1 494.5L1438.2 492.8L1439.4 491.2L1440.5 489.5L1441.6 487.9L1442.8 486.2L1444.0 484.6L1445.1 483.0L1446.4 481.4L1447.6 479.8L1448.9 478.3L1450.2 476.8L1451.5 475.3L1452.9 473.8L1454.3 472.4L1455.7 471.0L1457.2 469.7L1458.7 468.4L1460.3 467.1L1461.9 465.9L1463.5 464.7L1465.2 463.6L1466.9 462.5L1468.6 461.5L1470.4 460.7L1472.3 460.1L1474.2 459.7L1476.2 459.4L1478.2 459.2L1480.2 459.2L1482.2 459.4L1484.2 459.7L1486.1 460.2L1488.0 460.8L1489.8 461.6L1491.5 462.6L1493.1 463.8L1494.6 465.1L1496.0 466.4L1497.4 467.8L1498.7 469.3L1500.0 470.8L1501.2 472.4L1502.4 474.0L1503.6 475.7L1504.7 477.4L1505.8 479.1L1506.9 480.8L1508.0 482.5L1509.0 484.3L1510.1 486.0L1511.1 487.7L1512.1 489.4L1513.1 491.2L1514.1 492.9L1515.0 494.7L1516.0 496.5L1516.9 498.2L1517.8 500.0L1518.7 501.8L1519.7 503.6L1520.6 505.3L1521.5 507.1L1522.5 508.9L1523.4 510.6L1524.4 512.4L1525.3 514.2L1526.3 515.9L1527.2 517.7L1528.1 519.5L1529.1 521.2L1530.0 523.0L1531.0 524.7L1532.0 526.5L1532.9 528.3L1533.9 530.0L1534.8 531.8L1535.8 533.5L1536.7 535.3L1537.6 537.1L1538.5 538.9L1539.4 540.7L1540.3 542.5L1541.1 544.3L1541.9 546.1L1542.8 547.9L1543.6 549.8L1544.4 551.6L1545.2 553.4L1546.0 555.3L1546.8 557.1L1547.6 558.9L1548.4 560.8L1549.1 562.7L1549.9 564.5L1550.6 566.4L1551.3 568.2L1552.0 570.1L1552.7 572.0L1553.4 573.9L1554.1 575.7L1554.8 577.6L1555.5 579.5L1556.2 581.4L1556.9 583.3L1557.5 585.2L1558.2 587.1L1558.8 589.0L1559.4 590.9L1560.0 592.8L1560.5 594.7L1561.0 596.7L1561.5 598.6L1562.0 600.5L1562.4 602.5L1562.9 604.4L1563.3 606.4L1563.6 608.3L1564.0 610.3L1564.3 612.2L1564.7 614.2L1565.0 616.2L1565.3 618.2L1565.6 620.2L1566.0 622.1L1566.3 624.1L1566.6 626.1L1566.9 628.1L1567.2 630.1L1567.5 632.1L1567.9 634.0L1568.2 636.0L1568.6 638.0L1568.9 639.9L1569.3 641.9L1569.7 643.9L1570.0 645.8L1570.4 647.8L1570.8 649.8L1571.2 651.7L1571.6 653.7L1572.0 655.7L1572.4 657.6L1572.8 659.6L1573.2 661.6L1573.6 663.5L1574.0 665.5L1574.4 667.4L1574.8 669.4L1575.2 671.4L1575.6 673.3L1576.1 675.3L1576.5 677.2L1576.9 679.2L1577.4 681.1L1577.8 683.1L1578.3 685.0L1578.7 687.0L1579.2 688.9L1579.7 690.9L1580.2 692.8L1580.6 694.7L1581.1 696.7L1581.7 698.6L1582.2 700.5L1582.7 702.5L1583.2 704.4L1583.8 706.3L1584.3 708.3L1584.9 710.2L1585.5 712.1L1586.0 714.0L1586.6 715.9L1587.2 717.8L1587.8 719.7L1588.5 721.6L1589.1 723.5L1589.8 725.4L1590.4 727.3L1591.1 729.2L1591.8 731.1L1592.4 733.0L1593.1 734.9L1593.8 736.7L1594.5 738.6L1595.2 740.5L1595.9 742.4L1596.6 744.2L1597.4 746.1L1598.1 747.9L1598.9 749.8L1599.6 751.7L1600.4 753.5L1601.2 755.4L1602.0 757.2L1602.7 759.1L1603.5 760.9L1604.3 762.8L1605.0 764.6L1605.7 766.5L1606.4 768.4L1607.1 770.2L1607.8 772.1L1608.4 774.0L1609.1 775.9L1609.7 777.8L1610.3 779.7L1610.9 781.6L1611.5 783.5L1612.0 785.4L1612.6 787.3L1613.1 789.3L1613.7 791.2L1614.2 793.1L1614.8 795.0L1615.3 797.0L1615.8 798.9L1616.3 800.9L1616.8 802.8L1617.2 804.8L1617.7 806.7L1618.1 808.7L1618.6 810.6L1619.0 812.6L1619.1 810.6L1619.3 808.6L1619.4 806.6L1619.6 804.6L1619.8 802.6L1620.0 800.6L1620.2 798.6L1620.4 796.6L1620.6 794.6L1620.9 792.7L1621.1 790.7L1621.4 788.7L1621.7 786.7L1622.0 784.8L1622.4 782.8L1622.7 780.8L1623.1 778.9L1623.5 776.9L1623.9 774.9L1624.3 773.0L1624.8 771.0L1625.2 769.0L1625.6 767.1L1626.0 765.1L1626.4 763.2L1626.8 761.2L1627.2 759.2L1627.6 757.3L1628.0 755.3L1628.4 753.3L1628.8 751.4L1629.1 749.4L1629.5 747.4L1629.9 745.5L1630.3 743.5L1630.7 741.5L1631.1 739.6L1631.5 737.6L1632.0 735.7L1632.4 733.7L1632.8 731.8L1633.3 729.8L1633.7 727.9L1634.2 725.9L1634.6 724.0L1635.1 722.0L1635.5 720.0L1635.9 718.1L1636.3 716.1L1636.7 714.1L1637.0 712.1L1637.4 710.1L1637.8 708.1L1638.2 706.2L1638.7 704.2L1639.2 702.3L1639.8 700.3L1640.6 698.4L1641.5 696.4L1642.6 694.8L1643.7 693.7L1644.8 693.3L1645.9 693.8L1647.0 695.1L1648.1 696.8L1649.0 698.8L1649.8 700.9L1650.4 702.9L1650.9 704.9L1651.3 706.8L1651.6 708.8L1651.9 710.8L1652.2 712.8L1652.5 714.8L1652.8 716.8L1653.1 718.8L1653.4 720.8L1653.8 722.8L1654.2 724.7L1654.5 726.7L1654.9 728.7L1655.3 730.6L1655.7 732.6L1656.1 734.6L1656.5 736.5L1656.9 738.5L1657.3 740.5L1657.6 742.4L1658.0 744.4L1658.4 746.4L1658.7 748.3L1659.1 750.3L1659.4 752.3L1659.8 754.2L1660.1 756.2L1660.4 758.2L1660.7 760.2L1660.9 762.2L1661.2 764.1L1661.4 766.1L1661.7 768.1L1661.9 770.1L1662.1 772.1L1662.3 774.1L1662.6 776.1L1662.8 778.1L1663.0 780.1L1663.2 782.1L1663.4 784.1L1663.5 786.0L1663.7 788.0L1663.9 790.0L1664.1 792.0L1664.3 794.0L1664.4 796.0L1664.6 798.0L1664.8 800.0L1664.9 802.0L1665.1 804.0L1665.3 806.0L1665.4 808.0L1665.6 810.0L1665.7 812.0L1665.8 814.0L1666.0 816.0L1666.1 818.0L1666.2 820.0L1666.3 822.0L1666.4 824.0L1666.5 826.0L1666.5 828.0L1666.6 830.0L1666.7 832.0L1666.8 834.0L1666.8 836.0L1666.9 838.0L1667.0 840.0L1667.0 842.0L1667.1 844.0L1667.1 846.0L1667.2 848.0L1667.2 850.0L1667.3 852.0L1667.3 854.0L1667.4 856.0L1667.5 858.0L1667.5 860.0L1667.6 862.0L1667.6 864.0L1667.7 866.0L1667.7 868.0L1667.8 870.0L1667.9 872.0L1667.9 874.0L1668.0 876.0L1668.1 878.0L1668.1 880.0L1668.2 882.0L1668.3 884.0L1668.3 886.0L1668.4 888.0L1668.5 890.0L1668.5 892.0L1668.6 894.0L1668.7 896.0L1668.7 898.0L1668.8 900.0L1668.9 902.0L1668.9 904.0L1669.0 906.0L1669.1 908.0L1669.1 910.0L1669.2 912.0L1669.2 914.0L1669.3 916.0L1669.4 918.0L1669.4 920.0L1669.5 922.0L1669.6 924.0L1669.6 926.0L1669.7 928.0L1669.8 930.0L1669.8 932.0L1669.9 934.0L1669.9 936.1L1670.0 938.1L1670.0 940.1L1670.1 942.1L1670.1 944.1L1670.2 946.1L1670.3 948.1L1670.3 950.1L1670.3 952.1L1670.4 954.1L1670.4 956.1L1670.5 958.1L1670.5 960.1L1670.6 962.1L1670.6 964.1L1670.7 966.1L1670.7 968.1L1670.8 970.1L1670.8 972.1L1670.9 974.1L1670.9 976.1L1670.9 978.1L1671.0 980.1L1671.0 982.1L1671.1 984.1L1671.1 986.1L1671.2 988.1L1671.2 990.1L1671.2 992.1L1671.3 994.1L1671.3 996.1L1671.4 998.1L1671.4 1000.1L1671.4 1002.1L1671.5 1004.1L1671.5 1006.1L1671.6 1008.1L1671.6 1010.1L1671.6 1012.1L1671.7 1014.1L1671.7 1016.1L1671.7 1018.1L1671.8 1020.1L1671.8 1022.1L1671.9 1024.1L1671.9 1026.1L1671.9 1028.1L1672.0 1030.1L1672.0 1032.1L1672.0 1034.1L1672.1 1036.1L1672.1 1038.1L1672.1 1040.1L1672.2 1042.1L1672.2 1044.1L1672.2 1046.1L1672.3 1048.1L1672.3 1050.1L1672.3 1052.2L1672.4 1054.2L1672.4 1056.2L1672.4 1058.2L1672.5 1060.2L1672.5 1062.2L1672.5 1064.2L1672.6 1066.2L1672.6 1068.2L1672.6 1070.2L1672.7 1072.2L1672.7 1074.2L1672.7 1076.2L1672.8 1078.2L1672.8 1080.2L1672.8 1082.2L1672.8 1084.2L1672.9 1086.2L1672.9 1088.2L1672.9 1090.2L1673.0 1092.2L1673.0 1094.2L1673.0 1096.2L1673.1 1098.2L1673.1 1100.2L1673.1 1102.2L1673.2 1104.2L1673.2 1106.2L1673.2 1108.2L1673.2 1110.2L1673.3 1112.2L1673.3 1114.2L1673.3 1116.2L1673.4 1118.2L1673.4 1120.2L1673.4 1122.2L1673.4 1124.2L1673.5 1126.2L1673.5 1128.2L1673.5 1130.2L1673.6 1132.2L1673.6 1134.2L1673.6 1136.2L1673.6 1138.2L1673.7 1140.2L1673.7 1142.2L1673.7 1144.2L1673.7 1146.2L1673.8 1148.2L1673.8 1150.2L1673.8 1152.2L1673.9 1154.3L1673.9 1156.3L1673.9 1158.3L1673.9 1160.3L1674.0 1162.3L1674.0 1164.3L1674.0 1166.3L1674.0 1168.3L1674.0 1170.3L1674.1 1172.3L1674.1 1174.3L1674.1 1176.3L1674.1 1178.3L1674.2 1180.3L1674.2 1182.3L1674.2 1184.3L1674.2 1186.3L1674.3 1188.3L1674.3 1190.3L1674.3 1192.3L1674.3 1194.3L1674.3 1196.3L1674.4 1198.3L1674.4 1200.3L1674.4 1202.3L1674.4 1200.3L1674.4 1198.3L1674.5 1196.3L1674.5 1194.3L1674.5 1192.3L1674.5 1190.3L1674.5 1188.3L1674.5 1186.3L1674.6 1184.3L1674.6 1182.3L1674.6 1180.3L1674.6 1178.3L1674.6 1176.3L1674.7 1174.3L1674.7 1172.3L1674.7 1170.3L1674.7 1168.3L1674.7 1166.3L1674.8 1164.3L1674.8 1162.3L1674.8 1160.3L1674.8 1158.3L1674.8 1156.2L1674.9 1154.2L1674.9 1152.2L1674.9 1150.2L1674.9 1148.2L1674.9 1146.2L1675.0 1144.2L1675.0 1142.2L1675.0 1140.2L1675.0 1138.2L1675.0 1136.2L1675.1 1134.2L1675.1 1132.2L1675.1 1130.2L1675.1 1128.2L1675.2 1126.2L1675.2 1124.2L1675.2 1122.2L1675.2 1120.2L1675.3 1118.2L1675.3 1116.2L1675.3 1114.2L1675.3 1112.2L1675.3 1110.2L1675.4 1108.2L1675.4 1106.2L1675.4 1104.2L1675.4 1102.2L1675.5 1100.2L1675.5 1098.2L1675.5 1096.2L1675.5 1094.2L1675.6 1092.2L1675.6 1090.2L1675.6 1088.2L1675.6 1086.2L1675.7 1084.2L1675.7 1082.2L1675.7 1080.2L1675.7 1078.2L1675.8 1076.2L1675.8 1074.2L1675.8 1072.2L1675.8 1070.2L1675.9 1068.2L1675.9 1066.2L1675.9 1064.2L1675.9 1062.2L1676.0 1060.1L1676.0 1058.1L1676.0 1056.1L1676.1 1054.1L1676.1 1052.1L1676.1 1050.1L1676.1 1048.1L1676.2 1046.1L1676.2 1044.1L1676.2 1042.1L1676.2 1040.1L1676.3 1038.1L1676.3 1036.1L1676.3 1034.1L1676.3 1032.1L1676.4 1030.1L1676.4 1028.1L1676.4 1026.1L1676.5 1024.1L1676.5 1022.1L1676.5 1020.1L1676.5 1018.1L1676.6 1016.1L1676.6 1014.1L1676.6 1012.1L1676.7 1010.1L1676.7 1008.1L1676.7 1006.1L1676.7 1004.1L1676.8 1002.1L1676.8 1000.1L1676.8 998.1L1676.9 996.1L1676.9 994.1L1676.9 992.1L1676.9 990.1L1677.0 988.1L1677.0 986.1L1677.0 984.1L1677.0 982.1L1677.1 980.1L1677.1 978.1L1677.1 976.1L1677.1 974.1L1677.2 972.0L1677.2 970.0L1677.2 968.0L1677.2 966.0L1677.3 964.0L1677.3 962.0L1677.3 960.0L1677.3 958.0L1677.4 956.0L1677.4 954.0L1677.4 952.0L1677.4 950.0L1677.5 948.0L1677.5 946.0L1677.5 944.0L1677.5 942.0L1677.6 940.0L1677.6 938.0L1677.6 936.0L1677.7 934.0L1677.7 932.0L1677.7 930.0L1677.8 928.0L1677.8 926.0L1677.8 924.0L1677.8 922.0L1677.9 920.0L1677.9 918.0L1678.0 916.0L1678.0 914.0L1678.0 912.0L1678.1 910.0L1678.1 908.0L1678.1 906.0L1678.2 904.0L1678.2 902.0L1678.3 900.0L1678.3 898.0L1678.4 896.0L1678.4 894.0L1678.5 892.0L1678.5 890.0L1678.6 888.0L1678.6 886.0L1678.7 884.0L1678.7 882.0L1678.8 880.0L1678.8 878.0L1678.9 876.0L1679.0 874.0L1679.0 872.0L1679.1 870.0L1679.2 868.0L1679.3 866.0L1679.5 864.0L1679.6 862.0L1679.8 860.0L1679.9 858.0L1680.1 856.0L1680.3 854.0L1680.5 852.0L1680.6 850.0L1680.8 848.0L1681.0 846.0L1681.3 844.0L1681.5 842.0L1681.7 840.0L1681.9 838.1L1682.1 836.1L1682.3 834.1L1682.5 832.1L1682.7 830.1L1682.9 828.1L1683.0 826.1L1683.2 824.1L1683.4 822.1L1683.5 820.1L1683.7 818.1L1683.8 816.1L1684.0 814.1L1684.1 812.1L1684.2 810.1L1684.4 808.1L1684.5 806.1L1684.7 804.1L1684.8 802.1L1685.0 800.1L1685.2 798.1L1685.4 796.1L1685.6 794.2L1685.8 792.2L1686.1 790.2L1686.3 788.2L1686.6 786.2L1686.9 784.2L1687.2 782.2L1687.5 780.3L1687.8 778.3L1688.2 776.3L1688.6 774.3L1688.9 772.2L1689.4 770.0L1689.8 767.6L1690.3 765.2L1690.8 762.7L1691.3 760.3L1691.8 758.1L1692.4 756.2L1692.9 754.7L1693.5 753.7L1694.1 753.2L1694.8 753.4L1695.5 754.2L1696.3 755.6L1697.0 757.4L1697.8 759.5L1698.5 761.8L1699.2 764.2L1699.8 766.4L1700.4 768.5L1700.9 770.5L1701.3 772.5L1701.7 774.4L1702.0 776.4L1702.4 778.4L1702.7 780.4L1703.1 782.4L1703.4 784.3L1703.6 786.3L1703.9 788.3L1704.2 790.3L1704.5 792.3L1704.7 794.3L1705.0 796.3L1705.2 798.3L1705.4 800.3L1705.6 802.2L1705.9 804.2L1706.1 806.2L1706.3 808.2L1706.5 810.2L1706.7 812.2L1706.9 814.2L1707.1 816.2L1707.2 818.2L1707.4 820.2L1707.6 822.2L1707.8 824.2L1708.0 826.2L1708.1 828.2L1708.3 830.2L1708.5 832.2L1708.7 834.2L1708.8 836.1L1709.0 838.1L1709.2 840.1L1709.3 842.1L1709.5 844.1L1709.7 846.1L1709.8 848.1L1710.0 850.1L1710.2 852.1L1710.3 854.1L1710.5 856.1L1710.6 858.1L1710.8 860.1L1710.9 862.1L1711.1 864.1L1711.3 866.1L1711.4 868.1L1711.6 870.1L1711.7 872.1L1711.9 874.1L1712.0 876.1L1712.2 878.1L1712.3 880.1L1712.5 882.1L1712.6 884.1L1712.8 886.0L1712.9 888.0L1713.1 890.0L1713.2 892.0L1713.4 894.0L1713.5 896.0L1713.7 898.0L1713.8 900.0L1714.0 902.0L1714.1 904.0L1714.2 906.0L1714.4 908.0L1714.5 910.0L1714.7 912.0L1714.8 914.0L1714.9 916.0L1715.1 918.0L1715.2 920.0L1715.3 922.0L1715.4 924.0L1715.6 926.0L1715.7 928.0L1715.8 930.0L1715.9 932.0L1716.0 934.0L1716.1 936.0L1716.2 938.0L1716.3 940.0L1716.4 942.0L1716.5 944.0L1716.6 946.0L1716.7 948.0L1716.8 950.0L1716.9 952.0L1717.0 954.0L1717.1 956.0L1717.2 958.0L1717.3 960.0L1717.4 962.0L1717.5 964.0L1717.6 966.0L1717.7 968.0L1717.8 970.0L1717.8 972.0L1717.9 974.0L1718.0 976.0L1718.1 978.0L1718.2 980.0L1718.2 982.0L1718.3 984.0L1718.4 986.0L1718.4 988.0L1718.5 990.0" stroke="#fea832" stroke-width="10.0"/>
<path d="M178.3 1122.0L178.3 1120.0L178.4 1118.0L178.4 1116.0L178.4 1114.0L178.5 1112.0L178.5 1110.0L178.5 1108.0L178.6 1106.0L178.6 1104.0L178.6 1102.0L178.7 1100.0L178.7 1098.0L178.7 1096.0L178.8 1094.0L178.8 1092.0L178.8 1090.0L178.9 1088.0L178.9 1086.0L178.9 1084.0L179.0 1082.0L179.0 1080.0L179.0 1078.0L179.1 1076.0L179.1 1074.0L179.1 1072.0L179.2 1070.0L179.2 1068.0L179.2 1066.0L179.3 1064.0L179.3 1062.0L179.3 1060.0L179.4 1058.0L179.4 1056.0L179.4 1054.0L179.5 1052.0L179.5 1050.0L179.5 1048.0L179.6 1046.0L179.6 1044.0L179.6 1041.9L179.6 1039.9L179.7 1037.9L179.7 1035.9L179.7 1033.9L179.8 1031.9L179.8 1029.9L179.8 1027.9L179.8 1025.9L179.9 1023.9L179.9 1021.9L179.9 1019.9L179.9 1017.9L179.9 1015.9L180.0 1013.9L180.0 1011.9L180.0 1009.9L180.0 1007.9L180.1 1005.9L180.1 1003.9L180.1 1001.9L180.1 999.9L180.2 997.9L180.2 995.9L180.2 993.9L180.2 991.9L180.3 989.9L180.3 987.9L180.3 985.9L180.3 983.9L180.4 981.9L180.4 979.9L180.4 977.9L180.5 975.9L180.5 973.9L180.5 971.9L180.6 969.9L180.6 967.9L180.7 965.9L180.7 963.9L180.7 961.9L180.8 959.9L180.8 957.9L180.9 955.9L180.9 953.9L181.0 951.9L181.0 949.9L181.1 947.9L181.1 945.9L181.2 943.9L181.3 941.9L181.4 939.9L181.5 937.9L181.6 935.9L181.7 933.9L181.8 931.9L182.0 929.9L182.1 927.9L182.2 925.9L182.4 923.4L182.5 921.4L182.6 919.4L182.8 917.4L182.9 915.4L183.0 913.4L183.1 911.4L183.3 909.4L183.4 907.4L183.5 905.4L183.6 903.4L183.7 901.4L183.8 899.4L183.8 897.4L183.9 895.4L184.0 893.4L184.0 891.4L184.1 889.4L184.2 887.4L184.2 885.4L184.3 883.4L184.3 881.4L184.4 879.4L184.4 877.4L184.5 875.4L184.5 873.4L184.6 871.4L184.6 869.4L184.7 867.4L184.7 865.4L184.8 863.4L184.9 861.4L184.9 859.4L185.0 857.4L185.0 855.4L185.1 853.4L185.2 851.4L185.2 849.4L185.3 847.4L185.4 845.4L185.5 843.4L185.6 841.4L185.7 839.4L185.8 837.4L185.9 835.4L186.0 833.4L186.1 831.4L186.2 829.4L186.3 827.4L186.4 825.4L186.5 823.4L186.6 821.4L186.7 819.4L186.8 817.4L186.9 815.4L187.0 813.4L187.1 811.4L187.2 809.4L187.3 807.4L187.4 805.4L187.5 803.4L187.6 801.4L187.7 799.4L187.9 797.4L188.0 795.4L188.2 793.5L188.5 791.5L188.7 789.5L189.0 787.5L189.3 785.5L189.6 783.6L190.0 781.6L190.3 779.6L190.7 777.6L191.0 775.7L191.4 773.7L191.8 771.7L192.1 769.7L192.5 767.8L192.9 765.8L193.2 763.8L193.7 761.9L194.1 759.9L194.7 757.8L195.3 755.7L196.0 753.5L196.8 751.2L197.6 748.9L198.5 746.8L199.4 744.9L200.4 743.4L201.3 742.3L202.2 741.8L203.1 741.9L204.0 742.5L204.9 743.7L205.8 745.4L206.7 747.3L207.6 749.5L208.4 751.8L209.2 754.1L209.9 756.3L210.6 758.4L211.2 760.4L211.7 762.3L212.2 764.3L212.6 766.2L213.0 768.2L213.4 770.2L213.7 772.1L214.1 774.1L214.3 776.1L214.6 778.1L214.8 780.0L215.1 782.0L215.3 784.0L215.5 786.0L215.7 788.0L215.9 790.0L216.1 792.0L216.3 794.0L216.5 796.0L216.7 798.0L217.0 800.0L217.2 802.0L217.4 804.0L217.6 805.9L217.8 807.9L218.0 809.9L218.2 811.9L218.4 813.9L218.6 815.9L218.7 817.9L218.9 819.9L219.1 821.9L219.3 823.9L219.4 825.9L219.6 827.9L219.8 829.9L219.9 831.9L220.1 833.9L220.2 835.9L220.4 837.8L220.5 839.8L220.6 841.8L220.8 843.8L220.9 845.8L221.0 847.8L221.1 849.8L221.2 851.8L221.3 853.8L221.4 855.8L221.5 857.8L221.6 859.8L221.7 861.8L221.8 863.8L221.9 865.8L221.9 867.8L222.0 869.8L222.1 871.8L222.2 873.8L222.2 875.8L222.3 877.8L222.4 879.8L222.5 881.8L222.5 883.8L222.6 885.8L222.7 887.8L222.7 889.8L222.8 891.8L222.8 893.8L222.9 895.8L222.9 897.8L223.0 899.8L223.0 901.8L223.1 903.8L223.1 905.8L223.2 907.8L223.2 909.8L223.3 911.8L223.3 913.8L223.4 915.8L223.4 917.8L223.5 919.8L223.5 921.8L223.6 923.8L223.6 925.8L223.6 927.8L223.7 929.8L223.7 931.8L223.8 933.9L223.8 935.9L223.8 937.9L223.9 939.9L223.9 941.9L223.9 943.9L224.0 945.9L224.0 947.9L224.0 950.4L224.1 952.4L224.1 954.4L224.1 956.4L224.2 958.4L224.2 960.4L224.2 962.4L224.3 964.4L224.3 966.4L224.3 968.4L224.4 970.4L224.4 972.4L224.4 974.4L224.4 976.4L224.5 978.4L224.5 980.4L224.5 982.4L224.6 984.4L224.6 986.4L224.6 988.4L224.6 990.4L224.7 992.4L224.7 994.4L224.7 996.4L224.7 998.4L224.8 1000.4L224.8 1002.4L224.8 1004.4L224.8 1006.4L224.9 1008.4L224.9 1010.4L224.9 1012.4L224.9 1014.4L225.0 1016.4L225.0 1018.4L225.0 1020.4L225.0 1022.4L225.1 1024.4L225.1 1026.4L225.1 1028.4L225.1 1030.4L225.1 1032.4L225.2 1034.4L225.2 1036.4L225.2 1038.4L225.2 1040.4L225.2 1042.4L225.3 1044.4L225.3 1046.4L225.3 1048.4L225.3 1050.4L225.3 1052.4L225.4 1054.4L225.4 1056.4L225.4 1058.4L225.4 1060.4L225.4 1062.4L225.4 1064.4L225.5 1066.4L225.5 1068.4L225.5 1070.4L225.5 1072.4L225.5 1074.4L225.5 1076.4L225.6 1078.4L225.6 1080.5L225.6 1082.5L225.6 1084.5L225.6 1086.5L225.6 1088.5L225.6 1090.5L225.7 1092.5L225.7 1094.5L225.7 1096.5L225.7 1098.5L225.7 1100.5L225.7 1102.5L225.8 1104.5L225.8 1106.5L225.8 1108.5L225.8 1110.5L225.8 1112.5L225.8 1114.5L225.8 1116.5L225.8 1118.5L225.9 1120.5L225.9 1122.5L225.9 1124.5L225.9 1126.5L225.9 1128.5L225.9 1130.5L225.9 1132.5L225.9 1134.5L225.9 1136.5L226.0 1138.5L226.0 1140.5L226.0 1142.5L226.0 1144.5L226.0 1146.5L226.0 1144.5L226.0 1142.5L226.1 1140.5L226.1 1138.5L226.1 1136.5L226.1 1134.5L226.1 1132.5L226.2 1130.5L226.2 1128.5L226.2 1126.5L226.2 1124.5L226.2 1122.5L226.3 1120.5L226.3 1118.5L226.3 1116.5L226.3 1114.5L226.4 1112.5L226.4 1110.5L226.4 1108.5L226.4 1106.4L226.5 1104.4L226.5 1102.4L226.5 1100.4L226.5 1098.4L226.5 1096.4L226.6 1094.4L226.6 1092.4L226.6 1090.4L226.6 1088.4L226.7 1086.4L226.7 1084.4L226.7 1082.4L226.7 1080.4L226.8 1078.4L226.8 1076.4L226.8 1074.4L226.8 1072.4L226.9 1070.4L226.9 1068.4L226.9 1066.4L226.9 1064.4L227.0 1062.4L227.0 1060.4L227.0 1058.4L227.0 1056.4L227.1 1054.4L227.1 1052.4L227.1 1050.4L227.2 1048.4L227.2 1046.4L227.2 1044.4L227.2 1042.4L227.3 1040.4L227.3 1038.4L227.3 1036.4L227.4 1034.4L227.4 1032.4L227.4 1030.4L227.4 1028.3L227.5 1026.3L227.5 1024.3L227.5 1022.3L227.6 1020.3L227.6 1018.3L227.6 1016.3L227.6 1014.3L227.7 1012.3L227.7 1010.3L227.7 1008.3L227.8 1006.3L227.8 1004.3L227.8 1002.3L227.9 1000.3L227.9 998.3L227.9 996.3L228.0 994.3L228.0 992.3L228.0 990.3L228.1 988.3L228.1 986.3L228.1 984.3L228.2 982.3L228.2 980.3L228.2 978.3L228.3 976.3L228.3 974.3L228.3 972.3L228.4 970.3L228.4 968.3L228.4 966.3L228.5 964.3L228.5 962.3L228.5 960.3L228.6 958.3L228.6 956.3L228.6 954.3L228.7 952.3L228.7 950.3L228.7 948.2L228.8 946.2L228.8 944.2L228.8 942.2L228.9 940.2L228.9 938.2L229.0 936.2L229.0 934.2L229.0 932.2L229.1 930.2L229.1 928.2L229.2 926.2L229.2 924.2L229.2 922.2L229.3 920.2L229.3 918.2L229.4 916.2L229.4 914.2L229.5 912.2L229.5 910.2L229.6 908.2L229.6 906.2L229.7 904.2L229.7 902.2L229.8 900.2L229.9 898.2L229.9 896.2L230.0 894.2L230.1 892.2L230.1 890.2L230.2 888.2L230.3 886.2L230.4 884.2L230.5 882.2L230.6 880.2L230.7 878.2L230.8 876.2L230.9 874.2L231.0 872.2L231.1 870.2L231.2 868.2L231.3 866.2L231.4 864.2L231.5 862.2L231.6 860.2L231.7 858.2L231.8 856.2L231.9 854.2L232.0 852.2L232.1 850.2L232.2 848.2L232.3 846.2L232.4 844.2L232.5 842.2L232.6 840.2L232.7 838.2L232.9 836.2L233.0 834.2L233.1 832.7L233.2 830.7L233.3 828.7L233.5 826.7L233.6 824.7L233.8 822.7L233.9 820.7L234.1 818.7L234.3 816.7L234.4 814.7L234.6 812.7L234.8 810.7L235.1 808.7L235.3 806.7L235.5 804.8L235.8 802.8L236.0 800.8L236.3 798.8L236.5 796.8L236.8 794.8L237.1 792.9L237.4 790.9L237.8 788.9L238.1 786.9L238.5 785.0L238.8 783.0L239.2 781.0L239.6 779.1L240.0 777.1L240.4 775.1L240.8 773.2L241.2 771.2L241.6 769.2L242.0 767.3L242.4 765.3L242.8 763.3L243.2 761.4L243.6 759.4L244.0 757.5L244.4 755.5L244.7 753.5L245.1 751.6L245.5 749.6L245.9 747.6L246.3 745.7L246.7 743.7L247.1 741.7L247.6 739.7L248.0 737.5L248.5 735.3L248.9 732.9L249.4 730.4L249.9 728.0L250.4 725.8L251.0 723.8L251.5 722.3L252.0 721.2L252.6 720.8L253.2 720.9L253.8 721.7L254.5 723.0L255.1 724.7L255.8 726.8L256.5 729.1L257.2 731.5L257.8 733.9L258.4 736.2L258.9 738.4L259.4 740.5L259.9 742.5L260.3 744.4L260.7 746.4L261.1 748.3L261.5 750.3L261.9 752.3L262.3 754.3L262.6 756.2L263.0 758.2L263.3 760.2L263.7 762.1L264.0 764.1L264.3 766.1L264.7 768.1L265.0 770.0L265.3 772.0L265.6 774.0L265.9 776.0L266.2 778.0L266.5 779.9L266.8 781.9L267.1 783.9L267.4 785.9L267.6 787.9L267.9 789.9L268.2 791.8L268.5 793.8L268.7 795.8L269.0 797.8L269.3 799.8L269.5 801.8L269.8 803.8L270.0 805.7L270.3 807.7L270.5 809.7L270.8 811.7L271.0 813.7L271.2 815.7L271.4 817.7L271.6 819.7L271.9 821.7L272.1 823.7L272.3 825.6L272.5 827.6L272.7 829.6L272.9 831.6L273.1 833.6L273.3 835.6L273.5 837.6L273.7 839.6L273.9 841.6L274.1 843.6L274.3 845.6L274.5 847.6L274.7 849.6L274.8 851.6L275.0 853.6L275.1 855.6L275.3 857.6L275.4 859.6L275.5 861.6L275.6 863.6L275.7 865.6L275.8 867.6L275.9 869.6L276.0 871.6L276.1 873.6L276.1 875.6L276.2 877.6L276.3 879.6L276.4 881.6L276.4 883.6L276.5 885.6L276.5 887.6L276.6 889.6L276.7 891.6L276.7 893.6L276.8 895.6L276.8 897.6L276.9 899.6L276.9 901.6L276.9 903.6L276.9 905.6L277.0 907.6L277.0 909.6L277.0 911.6L277.0 913.6L277.3 911.6L277.5 909.6L277.8 907.6L278.1 905.7L278.3 903.7L278.6 901.7L278.8 899.7L279.1 897.7L279.3 895.7L279.6 893.7L279.8 891.8L280.0 889.8L280.3 887.8L280.5 885.8L280.7 883.8L280.9 881.8L281.1 879.8L281.4 877.8L281.6 875.8L281.8 873.8L281.9 871.9L282.1 869.9L282.3 867.9L282.5 865.9L282.7 863.9L282.8 861.9L283.0 859.9L283.1 857.9L283.3 855.9L283.4 853.9L283.6 851.9L283.7 849.9L283.9 847.9L284.0 845.9L284.1 843.9L284.3 841.9L284.4 839.9L284.6 837.9L284.7 835.9L284.8 833.9L285.0 831.9L285.1 829.9L285.3 827.9L285.4 825.9L285.6 824.0L285.7 822.0L285.9 820.0L286.1 818.0L286.2 816.0L286.4 814.0L286.6 812.0L286.8 810.0L287.0 808.0L287.1 806.0L287.3 804.0L287.5 802.0L287.7 800.0L288.0 798.0L288.2 796.0L288.4 794.1L288.6 792.1L288.9 790.1L289.1 788.1L289.4 786.1L289.6 784.1L289.9 782.1L290.1 780.1L290.4 778.1L290.7 776.1L291.0 774.1L291.4 772.2L291.7 770.2L292.1 768.2L292.6 766.2L293.1 764.1L293.7 761.8L294.3 759.5L295.1 757.1L295.8 754.8L296.7 752.7L297.5 750.8L298.4 749.2L299.3 748.1L300.2 747.5L301.1 747.4L302.0 748.0L303.0 749.1L304.0 750.7L305.0 752.6L306.0 754.7L307.0 756.9L308.0 759.0L308.9 761.1L309.8 763.3L310.7 765.5L311.6 767.8L312.5 770.1L313.4 772.3L314.2 774.3L314.9 776.0L315.6 777.2L316.3 778.0L316.8 778.2L317.4 778.0L317.8 777.3L318.3 776.3L318.7 775.0L319.1 773.4L319.5 771.6L319.8 769.6L320.2 767.4L320.5 765.0L320.8 762.6L321.2 760.0L321.5 757.5L321.8 754.9L322.1 752.3L322.4 749.8L322.8 747.4L323.1 745.0L323.4 742.8L323.8 740.7L324.2 738.7L324.5 736.7L324.9 734.7L325.3 732.8L325.6 730.8L326.0 728.8L326.4 726.9L326.7 724.9L327.1 722.9L327.4 721.0L327.8 719.0L328.2 717.0L328.5 715.1L328.9 713.1L329.2 711.1L329.6 709.1L329.9 707.2L330.2 705.2L330.6 703.2L330.9 701.2L331.2 699.3L331.6 697.3L331.9 695.3L332.3 693.4L332.6 691.4L333.0 689.4L333.4 687.5L333.8 685.5L334.1 683.5L334.5 681.5L334.9 679.6L335.3 677.6L335.7 675.6L336.1 673.7L336.5 671.7L337.0 669.8L337.4 667.8L337.9 665.8L338.4 663.9L338.9 662.0L339.4 660.1L339.9 658.1L340.5 656.2L341.1 654.3L341.8 652.4L342.5 650.5L343.2 648.6L344.0 646.8L344.9 645.0L345.8 643.3L346.8 641.6L348.0 640.0L349.2 638.5L350.5 637.0L351.9 635.5L353.4 634.1L354.9 632.7L356.4 631.4L358.0 630.1L359.6 628.8L361.2 627.6L362.9 626.5L364.6 625.4L366.2 624.2L367.7 622.9L369.0 621.6L370.2 620.0L371.2 618.4L372.2 616.7L373.2 614.9L374.1 613.1L375.0 611.2L375.9 609.4L376.7 607.6L377.6 605.7L378.4 603.9L379.2 602.1L380.0 600.3L380.8 598.4L381.7 596.6L382.5 594.8L383.4 593.0L384.3 591.2L385.2 589.4L386.1 587.6L387.0 585.8L388.0 584.1L389.0 582.4L390.1 580.7L391.0 579.4L392.2 577.8L393.4 576.3L394.8 574.8L396.2 573.4L397.7 572.1L399.3 570.9L401.0 569.9L402.8 569.0L404.7 568.3L406.6 567.8L408.5 567.4L410.5 567.2L412.5 566.9L414.5 566.7L416.5 566.6L418.5 566.5L420.5 566.5L422.6 566.6L424.6 566.8L426.6 567.0L428.6 567.3L430.6 567.7L432.5 568.1L434.4 568.7L436.1 569.5L437.9 570.4L439.5 571.6L441.0 572.9L442.4 574.3L443.8 575.8L445.0 577.3L446.2 579.0L447.3 580.6L448.4 582.3L449.4 584.1L450.4 585.8L451.4 587.6L452.3 589.3L453.2 591.1L454.1 592.9L455.0 594.7L455.9 596.5L456.8 598.3L457.8 600.1L458.8 601.8L459.7 603.6L460.7 605.3L461.8 607.0L462.8 608.7L463.9 610.5L465.1 612.2L466.3 614.1L467.6 615.9L468.9 617.5L470.3 618.9L471.7 619.8L473.3 620.2L475.0 620.1L476.9 619.7L478.8 619.1L480.8 618.3L482.8 617.6L484.7 617.0L486.6 616.6L488.4 616.6L490.1 617.1L491.7 618.0L493.2 619.2L494.7 620.8L496.0 622.5L497.2 624.2L498.3 626.0L499.2 627.7L500.1 629.5L500.8 631.3L501.6 633.2L502.3 635.2L502.9 637.1L503.5 639.0L504.1 640.9L504.7 642.9L505.2 644.8L505.7 646.7L506.2 648.7L506.6 650.6L507.1 652.6L507.5 654.5L508.0 656.5L508.4 658.5L508.8 660.4L509.2 662.4L509.6 664.3L510.0 666.3L510.4 668.3L510.8 670.2L511.2 672.2L511.6 674.2L511.9 676.1L512.3 678.1L512.7 680.0L513.1 682.0L513.5 684.0L513.9 685.9L514.2 687.9L514.6 689.9L515.0 691.8L515.4 693.8L515.8 695.8L516.2 697.7L516.6 699.7L517.0 701.6L517.5 703.6L517.9 705.6L518.3 707.5L518.8 709.5L519.2 711.5L519.7 713.4L520.3 715.3L520.9 717.3L521.5 719.3L522.3 721.3L523.1 723.5L524.0 725.5L525.0 727.3L526.0 728.5L527.0 729.2L528.1 729.1L529.2 728.4L530.2 727.1L531.3 725.4L532.5 723.4L533.6 721.1L534.7 718.7L535.9 716.4L537.0 714.2L538.2 712.2L539.3 710.6L540.4 709.5L541.5 708.9L542.6 708.9L543.8 709.5L545.0 710.7L546.2 712.3L547.4 714.2L548.5 716.3L549.3 718.5L550.0 720.7L550.5 722.8L550.7 724.8L550.9 726.8L551.0 728.8L551.1 730.8L551.2 732.8L551.4 734.8L551.7 736.8L552.0 738.8L552.4 740.7L552.8 742.7L553.3 744.6L553.8 746.6L554.2 748.6L554.7 750.5L555.2 752.5L555.6 754.4L556.0 756.4L556.4 758.4L556.7 760.3L557.0 762.3L557.3 764.3L557.5 766.3L557.8 768.3L558.0 770.2L558.2 772.2L558.4 774.2L558.6 776.2L558.8 778.2L559.0 780.2L559.2 782.2L559.4 784.2L559.6 786.2L559.8 788.2L560.0 790.2L560.2 792.2L560.4 794.2L560.6 796.2L560.8 798.1L561.0 800.1L561.1 802.1L561.3 804.1L561.5 806.1L561.7 808.1L561.9 810.1L562.1 812.1L562.3 814.1L562.5 816.1L562.7 818.1L563.0 820.1L563.2 822.0L563.4 824.0L563.7 826.0L563.9 828.0L564.2 830.0L564.5 832.0L564.8 833.9L565.1 835.9L565.4 837.9L565.7 839.9L566.0 841.9L566.3 843.8L566.6 845.8L566.9 847.8L567.1 845.8L567.3 843.8L567.5 841.8L567.7 839.8L567.9 837.8L568.2 835.8L568.4 833.9L568.6 831.9L568.8 829.9L569.0 827.9L569.3 825.9L569.5 823.9L569.7 821.9L569.9 819.9L570.2 817.9L570.4 815.9L570.6 813.9L570.9 812.0L571.1 810.0L571.3 808.0L571.6 806.0L571.8 804.0L572.1 802.0L572.3 800.0L572.5 798.0L572.8 796.0L573.0 794.1L573.3 792.1L573.5 790.1L573.8 788.1L574.0 786.1L574.2 784.1L574.5 782.1L574.7 780.1L574.9 778.1L575.2 776.1L575.4 774.1L575.7 772.1L575.9 770.1L576.2 768.1L576.5 766.2L576.8 764.2L577.2 762.2L577.6 760.2L578.0 758.1L578.5 755.9L579.0 753.5L579.7 751.1L580.3 748.7L581.0 746.3L581.7 743.9L582.5 741.8L583.3 739.8L584.0 738.1L584.8 736.7L585.5 735.8L586.3 735.2L587.0 735.1L587.8 735.5L588.6 736.4L589.4 737.6L590.3 739.2L591.1 741.0L592.0 743.1L592.8 745.4L593.6 747.7L594.3 750.1L595.0 752.6L595.6 754.9L596.1 757.2L596.5 759.3L596.8 761.4L597.2 763.3L597.4 765.3L597.7 767.3L597.9 769.3L598.1 771.3L598.3 773.3L598.5 775.3L598.6 777.3L598.8 779.3L599.0 781.3L599.1 783.3L599.3 785.3L599.4 787.3L599.6 789.3L599.8 791.3L599.9 793.3L600.1 795.3L600.2 797.3L600.4 799.3L600.5 801.3L600.7 803.3L600.8 805.3L601.0 807.3L601.1 809.3L601.2 811.3L601.4 813.3L601.5 815.3L601.6 817.3L601.8 819.3L601.9 821.3L602.0 823.3L602.1 825.3L602.2 827.3L602.3 829.3L602.4 831.3L602.5 833.3L602.6 835.3L602.7 837.3L602.8 839.3L602.9 841.3L602.9 843.3L603.0 845.3L603.1 847.3L603.1 849.3L603.2 851.3L603.3 853.8L603.3 855.8L603.4 857.8L603.5 859.8L603.5 861.8L603.6 863.9L603.6 865.9L603.7 867.9L603.7 869.9L603.8 871.9L603.8 873.9L603.9 875.9L603.9 877.9L604.0 879.9L604.0 881.9L604.1 883.9L604.1 885.9L604.1 887.9L604.2 889.9L604.2 891.9L604.3 893.9L604.3 895.9L604.4 897.9L604.4 899.9L604.4 901.9L604.5 903.9L604.5 905.9L604.6 907.9L604.6 909.9L604.6 911.9L604.7 913.9L604.7 915.9L604.7 917.9L604.8 919.9L604.8 921.9L604.8 923.9L604.9 925.9L604.9 928.0L604.9 930.0L605.0 932.0L605.0 934.0L605.0 936.0L605.1 938.0L605.1 940.0L605.1 942.0L605.2 944.0L605.2 946.0L605.2 948.0L605.2 950.0L605.3 952.0L605.3 954.0L605.3 956.0L605.4 958.0L605.4 960.0L605.4 962.0L605.5 964.0L605.5 966.0L605.5 968.0L605.5 970.0L605.6 972.0L605.6 974.0L605.6 976.0L605.7 978.0L605.7 980.0L605.7 982.0L605.7 984.0L605.8 986.0L605.8 988.0L605.8 990.1L605.9 992.1L605.9 994.1L605.9 996.1L606.0 998.1L606.0 1000.1L606.0 1002.1L606.1 1004.1L606.1 1006.1L606.1 1008.1L606.2 1010.1L606.2 1012.1L606.2 1014.1L606.3 1016.1L606.3 1018.1L606.3 1020.1L606.4 1022.1L606.4 1024.1L606.4 1026.1L606.5 1028.1L606.5 1030.1L606.5 1032.1L606.6 1034.1L606.6 1036.1L606.6 1038.1L606.7 1040.1L606.7 1042.1L606.8 1044.1L606.8 1046.1L606.8 1048.1L606.9 1050.1L606.9 1052.1L606.9 1054.2L607.0 1056.2L607.0 1058.2L607.0 1060.2L607.1 1062.2L607.1 1064.2L607.1 1066.2L607.2 1068.2L607.2 1070.2L607.2 1072.2L607.3 1074.2L607.3 1076.2L607.4 1078.2L607.4 1080.2L607.4 1082.2L607.5 1084.2L607.5 1086.2L607.5 1084.2L607.5 1082.2L607.6 1080.2L607.6 1078.2L607.6 1076.2L607.6 1074.2L607.7 1072.2L607.7 1070.2L607.7 1068.2L607.7 1066.2L607.8 1064.2L607.8 1062.2L607.8 1060.2L607.8 1058.2L607.9 1056.2L607.9 1054.1L607.9 1052.1L607.9 1050.1L608.0 1048.1L608.0 1046.1L608.0 1044.1L608.1 1042.1L608.1 1040.1L608.1 1038.1L608.1 1036.1L608.2 1034.1L608.2 1032.1L608.2 1030.1L608.2 1028.1L608.3 1026.1L608.3 1024.1L608.3 1022.1L608.3 1020.1L608.4 1018.1L608.4 1016.1L608.4 1014.1L608.4 1012.1L608.5 1010.1L608.5 1008.1L608.5 1006.1L608.5 1004.1L608.6 1002.1L608.6 1000.1L608.6 998.1L608.7 996.1L608.7 994.0L608.7 992.0L608.7 990.0L608.8 988.0L608.8 986.0L608.8 984.0L608.8 982.0L608.9 980.0L608.9 978.0L608.9 976.0L608.9 974.0L608.9 972.0L609.0 970.0L609.0 968.0L609.0 966.0L609.0 964.0L609.1 962.0L609.1 960.0L609.1 958.0L609.1 956.0L609.2 954.0L609.2 952.0L609.2 949.5L609.2 947.5L609.3 945.5L609.3 943.5L609.3 941.5L609.4 939.5L609.4 937.5L609.4 935.4L609.4 933.4L609.5 931.4L609.5 929.4L609.5 927.4L609.6 925.4L609.6 923.4L609.6 921.4L609.7 919.4L609.7 917.4L609.7 915.4L609.8 913.4L609.8 911.4L609.8 909.4L609.9 907.4L609.9 905.4L609.9 903.4L610.0 901.4L610.0 899.4L610.1 897.4L610.1 895.4L610.1 893.4L610.2 891.4L610.2 889.4L610.3 887.4L610.3 885.4L610.4 883.4L610.4 881.4L610.5 879.4L610.6 877.4L610.6 875.4L610.7 873.4L610.7 871.4L610.8 869.3L610.9 867.3L610.9 865.3L611.0 863.3L611.1 861.3L611.1 859.3L611.2 857.3L611.3 855.3L611.4 853.3L611.4 851.3L611.5 849.3L611.6 847.3L611.7 845.3L611.7 843.3L611.8 841.3L611.9 839.3L612.0 837.3L612.1 835.3L612.2 833.3L612.3 831.3L612.4 829.3L612.5 827.3L612.6 825.3L612.7 823.3L612.9 821.3L613.0 819.3L613.1 817.3L613.3 815.3L613.4 813.3L613.5 811.3L613.7 809.3L613.8 807.3L613.9 805.3L614.1 803.3L614.2 801.3L614.3 799.3L614.5 797.3L614.6 795.3L614.8 793.3L614.9 791.3L615.0 789.3L615.2 787.3L615.3 785.3L615.5 783.3L615.6 781.3L615.7 779.3L615.9 777.3L616.0 775.3L616.2 773.3L616.3 771.3L616.5 769.3L616.6 767.3L616.8 765.3L617.0 763.4L617.1 761.4L617.3 759.4L617.5 757.4L617.7 755.4L617.8 753.4L618.0 751.4L618.2 749.4L618.4 747.4L618.6 745.4L618.8 743.4L619.0 741.4L619.2 739.4L619.5 737.4L619.7 735.4L619.9 733.4L620.1 731.5L620.3 729.5L620.5 727.5L620.8 725.5L621.0 723.5L621.2 721.5L621.4 719.5L621.7 717.5L621.9 715.5L622.2 713.5L622.4 711.5L622.7 709.6L623.0 707.6L623.3 705.6L623.6 703.6L623.9 701.6L624.2 699.6L624.6 697.6L624.9 695.6L625.3 693.6L625.7 691.6L626.0 689.6L626.5 687.6L626.9 685.7L627.4 683.7L627.9 681.8L628.6 679.4L629.2 677.5L629.9 675.6L630.7 673.7L631.7 671.6L632.8 669.7L633.9 667.9L635.0 666.7L636.0 665.9L636.8 665.7L637.6 666.1L638.3 666.8L639.0 667.9L639.7 669.2L640.3 670.8L640.9 672.6L641.5 674.6L642.1 676.8L642.6 679.1L643.2 681.5L643.7 684.0L644.1 686.5L644.6 689.0L645.0 691.6L645.5 694.1L645.9 696.5L646.2 698.8L646.6 701.0L647.0 703.1L647.3 705.2L647.6 707.2L647.9 709.1L648.1 711.1L648.4 713.1L648.6 715.1L648.8 717.1L649.1 719.1L649.3 721.1L649.5 723.1L649.7 725.1L650.0 727.1L650.2 729.1L650.5 731.0L650.7 733.0L651.0 735.0L651.3 737.0L651.6 739.0L651.9 741.0L652.2 742.9L652.5 744.9L652.8 746.9L653.1 748.9L653.4 750.9L653.7 752.8L654.0 754.8L654.3 756.8L654.6 758.8L654.9 760.8L655.2 762.8L655.5 764.7L655.7 766.7L656.0 768.7L656.3 770.7L656.6 772.7L656.8 774.7L657.1 776.6L657.4 778.6L657.6 780.6L658.4 778.7L659.2 776.8L659.9 775.0L660.6 773.1L661.3 771.2L661.9 769.2L662.5 767.3L663.0 765.4L663.4 763.5L663.7 761.5L664.0 759.6L664.2 757.6L664.4 755.6L664.6 753.6L664.7 751.7L664.9 749.7L665.0 747.7L665.1 745.7L665.2 743.6L665.4 741.6L665.4 739.6L665.5 737.6L665.6 735.6L665.7 733.6L665.8 731.6L665.9 729.6L666.0 727.6L666.0 725.6L666.1 723.6L666.2 721.6L666.2 719.6L666.3 717.6L666.3 715.6L666.4 713.6L666.4 711.6L666.5 709.6L666.6 707.6L666.6 705.6L666.7 703.6L666.8 701.6L666.9 699.6L666.9 697.6L667.0 695.6L667.1 693.6L667.2 691.6L667.3 689.6L667.4 687.6L667.5 685.6L667.6 683.6L667.7 681.6L667.9 679.6L668.0 677.6L668.2 675.6L668.4 673.6L668.6 671.6L668.8 669.6L669.0 667.6L669.3 665.6L669.5 663.6L669.8 661.7L670.1 659.7L670.3 657.7L670.6 655.7L670.9 653.7L671.3 651.8L671.6 649.8L671.9 647.8L672.3 645.8L672.6 643.9L673.0 641.9L673.3 639.9L673.6 637.9L674.0 636.0L674.3 634.0L674.6 632.0L675.0 630.0L675.3 628.0L675.7 626.1L676.1 624.1L676.5 622.2L677.0 620.2L677.5 618.3L678.1 616.4L678.8 614.5L679.4 612.6L680.2 610.8L680.9 608.9L681.7 607.1L682.6 605.2L683.4 603.4L684.4 601.7L685.6 600.1L686.9 598.8L688.5 598.0L690.3 597.8L692.0 598.1L693.7 598.9L695.1 600.2L696.4 601.7L697.4 603.3L698.3 605.1L699.1 606.9L699.9 608.8L700.7 610.6L701.5 612.5L702.4 614.3L703.2 616.1L704.1 617.9L704.9 619.7L705.7 621.6L706.6 623.4L707.4 625.2L708.2 627.1L709.1 628.9L710.1 630.8L711.1 632.8L712.2 634.8L713.4 636.7L714.6 638.3L715.8 639.4L717.2 640.0L718.7 640.0L720.3 639.4L722.0 638.4L723.8 637.1L725.6 635.7L727.3 634.5L728.9 633.5L730.4 633.0L731.7 633.1L732.9 633.8L734.0 634.9L735.1 636.5L736.1 638.4L737.1 640.5L738.0 642.7L738.8 644.9L739.6 647.1L740.3 649.1L741.0 651.1L741.6 653.0L742.2 654.9L742.7 656.9L743.2 658.8L743.7 660.8L744.2 662.7L744.6 664.7L745.0 666.6L745.4 668.6L745.7 670.6L746.1 672.5L746.5 674.5L746.8 676.5L747.2 678.5L747.6 680.4L747.9 682.4L748.3 684.4L748.7 686.3L749.1 688.3L749.4 690.3L749.8 692.2L750.1 694.2L750.4 696.2L750.7 698.2L750.9 700.2L751.1 702.1L751.4 704.1L751.5 706.1L751.7 708.1L751.9 710.1L752.1 712.1L752.2 714.1L752.4 716.1L752.6 718.1L752.7 720.1L752.9 722.1L753.0 724.1L753.2 726.1L753.4 728.1L753.6 730.1L753.8 732.1L754.0 734.1L754.2 736.0L754.5 738.0L754.7 740.0L755.0 742.0L755.2 744.0L755.5 746.0L755.8 748.0L756.0 749.9L756.3 751.9L756.5 753.9L756.7 755.9L756.9 757.9L757.1 759.9L757.3 761.9L757.4 763.9L757.6 765.9L757.8 767.9L757.9 769.9L758.1 771.9L758.2 773.9L758.4 775.9L758.5 777.9L758.6 779.9L758.7 781.9L758.8 783.9L758.9 785.9L758.9 787.9L759.0 789.9L759.1 791.9L759.1 793.9L759.2 795.9L759.2 797.9L759.3 799.9L759.3 801.9L759.4 803.9L759.4 805.9L759.5 807.9L759.5 809.9L759.5 811.9L759.6 813.9L759.6 815.9L759.6 817.9L759.7 819.9L759.7 821.9L759.8 823.9L759.8 825.9L759.8 827.9L759.8 829.9L759.9 831.9L759.9 833.9L759.9 835.9L760.0 837.9L760.0 839.9L760.0 841.9L760.0 843.9L760.1 845.9L760.1 847.9L760.1 849.9L760.1 851.9L760.2 853.9L760.2 855.9L760.2 857.9L760.2 859.9L760.3 861.9L760.3 863.9L760.3 865.9L760.3 867.9L760.3 869.9L760.4 871.9L760.4 873.9L760.4 875.9L760.4 877.9L760.5 879.9L760.5 881.9L760.5 884.0L760.5 886.0L760.5 888.0L760.6 890.0L760.6 892.0L760.6 894.0L760.6 896.0L760.7 898.0L760.7 900.0L760.7 902.0L760.8 904.0L760.8 906.0L760.8 908.0L760.8 910.0L760.9 912.0L760.9 914.0L760.9 916.0L760.9 918.0L761.0 920.0L761.0 922.0L761.0 924.0L761.1 926.0L761.1 928.0L761.1 930.0L761.1 932.0L761.2 934.0L761.2 936.0L761.2 938.0L761.2 940.0L761.3 942.0L761.3 944.0L761.3 946.0L761.3 948.0L761.4 950.0L761.4 952.0L761.4 954.0L761.4 956.0L761.5 958.0L761.5 960.0L761.5 962.0L761.5 964.0L761.6 966.0L761.6 968.0L761.6 970.0L761.6 972.0L761.7 974.0L761.7 976.0L761.7 978.0L761.7 980.0L761.7 982.0L761.8 984.1L761.8 986.1L761.8 988.1L761.8 990.1L761.8 992.1L761.9 994.1L761.9 996.1L761.9 998.1L761.9 1000.1L761.9 1002.1L761.9 1004.1L761.9 1006.1L762.0 1008.1L762.0 1010.1L762.0 1012.1L762.0 1014.1L762.0 1016.1L762.0 1018.1L762.1 1020.1L762.1 1022.1L762.1 1024.1L762.1 1026.1L762.1 1028.1L762.1 1030.1L762.1 1032.1L762.2 1034.1L762.2 1036.1L762.2 1038.1L762.2 1040.1L762.2 1042.1L762.2 1044.1L762.2 1046.1L762.2 1048.1L762.3 1050.1L762.3 1052.1L762.3 1054.1L762.3 1056.1L762.3 1058.1L762.3 1060.1L762.3 1062.1L762.3 1064.1L762.4 1066.1L762.4 1068.1L762.4 1070.1L762.4 1072.1L762.4 1074.1L762.4 1076.1L762.4 1078.1L762.4 1080.2L762.4 1082.2L762.5 1084.2L762.5 1086.2L762.5 1088.2L762.5 1090.2L762.5 1092.2L762.5 1094.2L762.5 1096.2L762.5 1098.2L762.5 1100.2L762.5 1102.2L762.5 1104.2L762.5 1106.2L762.6 1108.2L762.6 1110.2L762.6 1112.2L762.6 1114.2L762.6 1116.2L762.6 1118.2L762.6 1120.2L762.6 1122.2L762.6 1124.2L762.6 1126.2L762.6 1124.2L762.6 1122.2L762.6 1120.2L762.6 1118.2L762.6 1116.2L762.7 1114.2L762.7 1112.2L762.7 1110.2L762.7 1108.2L762.7 1106.2L762.7 1104.2L762.7 1102.2L762.7 1100.2L762.7 1098.2L762.7 1096.2L762.8 1094.2L762.8 1092.2L762.8 1090.2L762.8 1088.2L762.8 1086.2L762.8 1084.2L762.8 1082.2L762.8 1080.2L762.9 1078.2L762.9 1076.2L762.9 1074.2L762.9 1072.2L762.9 1070.2L762.9 1068.2L762.9 1066.2L763.0 1064.2L763.0 1062.2L763.0 1060.2L763.0 1058.2L763.0 1056.2L763.0 1054.2L763.0 1052.1L763.1 1050.1L763.1 1048.1L763.1 1046.1L763.1 1044.1L763.1 1042.1L763.1 1040.1L763.2 1038.1L763.2 1036.1L763.2 1034.1L763.2 1032.1L763.2 1030.1L763.2 1028.1L763.3 1026.1L763.3 1024.1L763.3 1022.1L763.3 1020.1L763.3 1018.1L763.4 1016.1L763.4 1014.1L763.4 1012.1L763.4 1010.1L763.4 1008.1L763.4 1006.1L763.5 1004.1L763.5 1002.1L763.5 1000.1L763.5 998.1L763.5 996.1L763.6 994.1L763.6 992.1L763.6 990.1L763.6 988.1L763.6 986.1L763.7 984.1L763.7 982.1L763.7 980.1L763.7 978.1L763.7 976.1L763.8 974.1L763.8 972.1L763.8 970.1L763.8 968.1L763.8 966.1L763.9 964.1L763.9 962.1L763.9 960.1L763.9 958.1L764.0 956.1L764.0 954.1L764.0 952.1L764.0 950.1L764.1 948.1L764.1 946.1L764.1 944.1L764.1 942.1L764.2 940.1L764.2 938.1L764.2 936.1L764.3 934.1L764.3 932.1L764.3 930.1L764.3 928.1L764.4 926.1L764.4 924.1L764.4 922.1L764.5 920.1L764.5 918.1L764.5 916.1L764.6 914.1L764.6 912.1L764.6 910.1L764.7 908.1L764.7 906.1L764.7 904.1L764.8 902.1L764.8 900.1L764.8 898.1L764.9 896.1L764.9 894.1L765.0 892.0L765.0 890.0L765.0 888.0L765.1 886.0L765.1 884.0L765.2 882.0L765.2 880.0L765.3 878.0L765.3 876.0L765.4 874.0L765.4 872.0L765.5 870.0L765.5 868.0L765.6 866.0L765.6 864.0L765.7 862.0L765.8 860.0L765.8 858.0L765.9 856.0L765.9 854.0L766.0 852.0L766.1 850.0L766.1 848.0L766.2 846.0L766.2 844.0L766.3 842.0L766.4 840.0L766.4 838.0L766.5 836.0L766.6 834.0L766.6 832.0L766.7 830.0L766.8 828.0L766.8 826.0L766.9 824.0L767.0 822.0L767.0 820.0L767.1 818.0L767.2 816.0L767.3 814.0L767.4 812.0L767.4 810.0L767.5 808.0L767.6 806.0L767.7 804.0L767.8 802.0L767.9 800.0L768.0 798.0L768.1 796.0L768.2 794.0L768.3 792.0L768.4 790.0L768.5 788.0L768.6 786.0L768.8 784.0L768.9 782.0L769.0 780.1L769.2 778.1L769.3 776.1L769.5 774.1L769.7 772.1L769.8 770.1L770.0 768.1L770.2 766.1L770.4 764.1L770.6 762.1L770.7 760.1L770.9 758.1L771.1 756.1L771.3 754.1L771.5 752.1L771.6 750.1L771.8 748.1L772.0 746.2L772.2 744.2L772.4 742.2L772.6 740.2L772.8 738.2L773.1 736.2L773.3 734.2L773.5 732.2L773.8 730.2L774.0 728.3L774.3 726.3L774.5 724.3L774.8 722.3L775.0 720.3L775.4 717.8L775.7 715.8L776.0 713.9L776.3 711.9L776.6 709.9L777.0 707.9L777.3 706.0L777.7 704.0L778.1 702.0L778.5 700.1L779.0 698.1L779.5 696.1L780.0 694.2L780.7 692.3L781.6 690.4L782.6 688.6L783.7 687.1L784.9 686.3L786.2 686.3L787.4 687.2L788.6 688.6L789.8 690.3L790.8 692.2L791.7 694.0L792.5 695.9L793.2 697.8L793.9 699.7L794.5 701.6L795.1 703.5L795.6 705.4L796.1 707.3L796.5 709.3L797.0 711.2L797.4 713.2L797.8 715.2L798.1 717.1L798.5 719.1L798.8 721.1L799.2 723.1L799.5 725.0L799.9 727.0L800.3 729.0L800.6 731.0L801.0 732.9L801.4 734.9L801.8 736.8L802.2 738.8L802.6 740.8L803.0 742.7L803.4 744.7L803.8 746.7L804.2 748.6L804.6 750.6L804.9 752.5L805.3 754.5L805.7 756.5L806.1 758.4L806.5 760.4L806.9 762.4L807.3 764.3L807.7 766.3L808.1 768.2L808.5 770.2L808.9 772.2L809.3 774.1L809.7 776.1L810.1 778.1L810.5 780.0L810.9 782.0L811.3 783.9L811.6 785.9L812.0 788.0L812.4 790.1L812.7 792.3L813.0 794.7L813.3 797.2L813.6 799.8L813.9 802.3L814.2 804.9L814.5 807.3L814.8 809.6L815.1 811.7L815.4 813.5L815.8 815.1L816.1 816.2L816.5 817.0L817.0 817.3L817.4 817.1L818.0 816.4L818.5 815.3L819.1 813.7L819.8 811.9L820.5 809.7L821.2 807.4L821.9 805.0L822.6 802.6L823.3 800.2L824.1 797.9L824.8 795.7L825.5 793.5L826.2 791.3L826.9 789.0L827.6 786.6L828.3 784.2L829.0 781.8L829.7 779.6L830.4 777.5L831.1 775.7L831.8 774.3L832.5 773.3L833.1 772.8L833.8 772.8L834.5 773.4L835.1 774.6L835.8 776.3L836.5 778.3L837.1 780.6L837.7 783.0L838.2 785.4L838.6 787.7L838.9 789.9L839.2 791.9L839.5 793.9L839.7 795.9L839.9 797.9L840.1 799.9L840.3 801.9L840.5 803.9L840.6 805.9L840.8 807.9L840.9 809.9L841.1 811.9L841.2 813.9L841.3 815.9L841.4 817.9L841.5 819.9L841.6 821.9L841.7 823.9L841.8 825.9L841.9 827.9L842.0 829.9L842.1 831.9L842.2 833.9L842.2 835.9L842.3 837.9L842.4 839.9L842.5 841.9L842.5 843.9L842.6 845.9L842.7 847.9L842.7 849.9L842.8 851.9L842.8 853.9L842.9 855.9L843.0 857.9L843.0 859.9L843.1 862.0L843.1 864.0L843.2 866.0L843.2 868.0L843.3 870.0L843.3 872.0L843.4 874.0L843.4 876.0L843.5 878.0L843.5 880.0L843.5 882.0L843.6 884.0L843.6 886.0L843.7 888.0L843.7 890.0L843.8 892.0L843.8 894.0L843.9 896.0L843.9 898.0L844.0 900.0L844.0 902.0L844.1 904.0L844.1 906.0L844.1 908.0L844.2 910.0L844.2 912.0L844.3 914.0L844.3 916.0L844.3 918.0L844.4 920.0L844.4 922.0L844.5 924.0L844.5 926.0L844.5 928.0L844.6 930.0L844.6 932.0L844.7 934.0L844.7 936.0L844.7 938.0L844.8 940.0L844.8 942.0L844.8 944.0L844.9 946.0L844.9 948.0L844.9 950.0L844.9 952.0L845.0 954.0L845.0 956.0L845.0 954.0L845.1 952.0L845.1 950.0L845.2 948.0L845.2 946.0L845.2 944.0L845.3 942.0L845.3 940.0L845.4 938.0L845.4 936.0L845.4 934.0L845.5 932.0L845.5 930.0L845.6 928.0L845.6 926.0L845.6 924.0L845.7 922.0L845.7 920.0L845.8 918.0L845.8 916.0L845.8 914.0L845.9 912.0L845.9 910.0L846.0 908.0L846.0 906.0L846.0 904.0L846.1 902.0L846.1 900.0L846.1 898.0L846.2 896.0L846.2 894.0L846.3 892.0L846.3 890.0L846.3 888.0L846.4 885.9L846.4 883.9L846.4 881.9L846.5 879.9L846.5 877.9L846.6 875.9L846.6 873.9L846.6 871.9L846.7 869.9L846.7 867.9L846.7 865.9L846.8 863.9L846.8 861.9L846.8 859.9L846.9 857.9L846.9 855.9L846.9 853.9L847.0 851.9L847.0 849.9L847.0 847.9L847.1 845.9L847.1 843.9L847.1 841.9L847.2 839.9L847.2 837.9L847.2 835.9L847.3 833.9L847.3 831.9L847.3 829.9L847.4 827.9L847.4 825.9L847.4 823.9L847.4 821.9L847.5 819.9L847.5 817.9L847.5 815.9L847.6 813.9L847.6 811.9L847.7 809.9L847.7 807.9L847.7 805.9L847.8 803.9L847.8 801.9L847.8 799.9L847.9 797.9L847.9 795.9L848.0 793.9L848.0 791.9L848.0 789.9L848.1 787.9L848.1 785.9L848.2 783.9L848.2 781.9L848.3 779.9L848.3 777.9L848.4 775.9L848.4 773.9L848.5 771.9L848.5 769.9L848.6 767.9L848.7 765.9L848.7 763.9L848.8 761.9L848.8 759.9L848.9 757.9L848.9 755.9L849.0 753.9L849.1 751.9L849.1 749.9L849.2 747.9L849.2 745.9L849.3 743.9L849.4 741.8L849.4 739.8L849.5 737.8L849.6 735.8L849.6 733.8L849.7 731.8L849.8 729.8L849.8 727.8L849.9 725.8L849.9 723.8L850.0 721.8L850.1 719.8L850.1 717.8L850.2 715.8L850.3 713.8L850.3 711.8L850.4 709.8L850.5 707.8L850.5 705.8L850.6 703.8L850.7 701.8L850.8 699.8L850.8 697.8L850.9 695.8L851.0 693.8L851.0 691.8L851.1 689.8L851.2 687.8L851.3 685.8L851.3 683.8L851.4 681.8L851.5 679.8L851.6 677.8L851.6 675.8L851.7 673.8L851.8 671.8L851.9 669.8L851.9 667.8L852.0 665.8L852.1 663.8L852.2 661.8L852.2 659.8L852.3 657.8L852.4 655.8L852.5 653.8L852.6 651.8L852.6 649.8L852.7 647.8L852.8 645.8L852.9 643.8L852.9 641.8L853.0 639.8L853.1 637.8L853.2 635.8L853.2 633.8L853.3 631.8L853.4 629.8L853.4 627.8L853.5 625.8L853.6 623.8L853.7 621.8L853.7 619.8L853.8 617.8L853.9 615.8L854.0 613.8L854.0 611.8L854.1 609.8L854.2 607.8L854.3 605.8L854.3 603.8L854.4 601.8L854.5 599.8L854.6 597.8L854.7 595.8L854.7 593.8L854.8 591.8L854.9 589.8L855.0 587.8L855.1 585.8L855.1 583.8L855.2 581.8L855.3 579.8L855.4 577.8L855.5 575.8L855.5 573.8L855.6 571.8L855.7 569.8L855.8 567.8L855.9 565.8L855.9 563.8L856.0 561.8L856.1 559.8L856.2 557.8L856.3 555.8L856.4 553.8L856.4 551.8L856.5 549.8L856.6 547.8L856.7 545.8L856.8 543.8L856.9 541.8L856.9 539.8L857.0 537.8L857.1 535.8L857.2 533.8L857.3 531.8L857.4 529.8L857.5 527.8L857.6 525.8L857.7 523.8L857.8 521.8L857.8 519.8L857.9 517.8L858.0 515.8L858.1 513.8L858.2 511.8L858.3 509.8L858.4 507.8L858.5 505.8L858.6 503.8L858.7 501.8L858.9 499.8L859.0 497.8L859.1 495.8L859.2 493.8L859.3 491.8L859.4 489.8L859.5 487.8L859.6 485.8L859.7 484.3L859.8 482.3L860.0 480.3L860.1 478.3L860.2 476.3L860.3 474.3L860.5 472.3L860.6 470.3L860.7 468.3L860.8 466.3L861.0 464.4L861.1 462.4L861.2 460.4L861.4 458.4L861.5 456.4L861.7 454.4L861.8 452.4L861.9 450.4L862.1 448.4L862.2 446.4L862.4 444.4L862.5 442.4L862.7 440.4L862.8 438.4L863.0 436.4L863.1 434.4L863.3 432.4L863.5 430.4L863.6 428.4L863.8 426.4L863.9 424.4L864.1 422.4L864.3 420.4L864.4 418.4L864.6 416.4L864.8 414.4L864.9 412.4L865.1 410.4L865.3 408.4L865.4 406.5L865.6 404.5L865.8 402.5L866.0 400.5L866.1 398.5L866.3 396.5L866.5 394.5L866.7 392.5L866.9 390.5L867.0 388.5L867.2 386.5L867.4 384.5L867.6 382.5L867.8 380.5L867.9 378.5L868.1 376.5L868.3 374.5L868.5 372.5L868.7 370.6L868.9 368.6L869.1 366.6L869.3 364.6L869.5 362.6L869.7 360.6L869.9 358.6L870.0 356.6L870.2 354.6L870.4 352.6L870.6 350.6L870.8 348.6L871.0 346.6L871.2 344.7L871.4 342.7L871.6 340.7L871.8 338.7L872.0 336.7L872.2 334.7L872.4 332.7L872.6 330.7L872.8 328.7L873.0 326.7L873.2 324.7L873.4 322.8L873.7 320.8L873.9 318.8L874.1 316.8L874.3 314.8L874.5 312.8L874.7 310.8L874.9 308.8L875.1 306.8L875.3 304.8L875.6 302.8L875.8 300.9L876.0 298.9L876.2 296.9L876.4 294.9L876.7 292.9L876.9 290.9L877.1 288.9L877.3 286.9L877.6 284.9L877.8 282.9L878.0 280.9L878.3 279.0L878.5 277.0L878.7 275.0L879.0 273.0L879.2 271.0L879.5 269.0L879.7 267.0L880.0 265.0L880.2 263.0L880.4 261.0L880.7 259.1L880.9 257.1L881.2 255.1L881.5 253.1L881.7 251.1L882.0 249.1L882.2 247.1L882.5 245.1L882.8 243.2L883.0 241.2L883.3 239.2L883.6 237.2L883.8 235.2L884.1 233.2L884.4 231.2L884.6 229.3L884.9 227.3L885.2 225.3L885.5 223.3L885.8 221.3L886.1 219.4L886.4 217.4L886.6 215.4L886.9 213.4L887.2 211.4L887.5 209.5L887.8 207.5L888.1 205.5L888.4 203.5L888.7 201.6L889.0 199.6L889.4 197.6L889.7 195.6L890.0 193.7L890.3 191.7L890.6 189.7L890.9 187.7L891.3 185.8L891.6 183.8L891.9 181.8L892.3 179.9L892.6 177.9L893.0 175.9L893.3 174.0L893.7 172.0L894.0 170.0L894.4 168.0L894.7 166.1L895.1 164.1L895.5 162.1L895.9 160.2L896.2 158.2L896.6 156.2L897.0 154.2L897.4 152.3L897.8 150.3L898.2 148.3L898.6 146.4L899.1 144.4L899.5 142.4L899.9 140.5L900.3 138.5L900.8 136.6L901.2 134.6L901.7 132.6L902.1 130.7L902.6 128.7L903.0 126.8L903.5 124.8L904.0 122.9L904.5 120.9L904.9 119.0L905.4 117.1L905.9 115.1L906.4 113.2L906.9 111.3L907.4 109.3L908.0 107.4L908.5 105.5L909.0 103.6L909.5 101.6L910.1 99.7L910.6 97.8L911.2 95.9L911.7 93.9L912.3 91.9L912.8 90.0L913.4 88.0L914.0 86.0L914.6 84.0L915.2 82.1L915.8 80.1L916.4 78.1L917.1 76.1L917.7 74.2L918.4 72.3L919.1 70.3L919.8 68.4L920.5 66.5L921.3 64.7L922.0 62.8L922.8 61.0L923.7 59.3L924.5 57.5L925.4 55.8L926.3 54.1L927.2 52.5L928.2 50.9L929.2 49.3L930.3 47.8L931.5 46.3L932.8 44.8L934.1 43.4L935.5 42.0L937.0 40.6L938.5 39.3L940.1 37.9L941.7 36.6L943.3 35.3L945.0 34.1L946.7 32.8L948.4 31.6L950.1 32.8L951.8 34.1L953.5 35.3L955.1 36.6L956.7 37.9L958.3 39.3L959.8 40.6L961.3 42.0L962.7 43.4L964.0 44.8L965.3 46.3L966.5 47.8L967.6 49.3L968.6 50.9L969.6 52.5L970.5 54.1L971.4 55.8L972.3 57.5L973.1 59.3L974.0 61.0L974.8 62.8L975.5 64.7L976.3 66.5L977.0 68.4L977.7 70.3L978.4 72.3L979.1 74.2L979.7 76.1L980.4 78.1L981.0 80.1L981.6 82.1L982.2 84.0L982.8 86.0L983.4 88.0L984.0 90.0L984.5 91.9L985.1 93.9L985.6 95.9L986.2 97.8L986.7 99.7L987.3 101.6L987.8 103.6L988.3 105.5L988.8 107.4L989.4 109.3L989.9 111.3L990.4 113.2L990.9 115.1L991.4 117.1L991.9 119.0L992.3 120.9L992.8 122.9L993.3 124.8L993.8 126.8L994.2 128.7L994.7 130.7L995.1 132.6L995.6 134.6L996.0 136.6L996.5 138.5L996.9 140.5L997.3 142.4L997.7 144.4L998.2 146.4L998.6 148.3L999.0 150.3L999.4 152.3L999.8 154.2L1000.2 156.2L1000.6 158.2L1000.9 160.2L1001.3 162.1L1001.7 164.1L1002.1 166.1L1002.4 168.0L1002.8 170.0L1003.1 172.0L1003.5 174.0L1003.8 175.9L1004.2 177.9L1004.5 179.9L1004.9 181.8L1005.2 183.8L1005.5 185.8L1005.9 187.7L1006.2 189.7L1006.5 191.7L1006.8 193.7L1007.1 195.6L1007.4 197.6L1007.8 199.6L1008.1 201.6L1008.4 203.5L1008.7 205.5L1009.0 207.5L1009.3 209.5L1009.6 211.4L1009.9 213.4L1010.2 215.4L1010.4 217.4L1010.7 219.4L1011.0 221.3L1011.3 223.3L1011.6 225.3L1011.9 227.3L1012.2 229.3L1012.4 231.2L1012.7 233.2L1013.0 235.2L1013.2 237.2L1013.5 239.2L1013.8 241.2L1014.0 243.2L1014.3 245.1L1014.6 247.1L1014.8 249.1L1015.1 251.1L1015.3 253.1L1015.6 255.1L1015.9 257.1L1016.1 259.1L1016.4 261.0L1016.6 263.0L1016.8 265.0L1017.1 267.0L1017.3 269.0L1017.6 271.0L1017.8 273.0L1018.1 275.0L1018.3 277.0L1018.5 279.0L1018.8 280.9L1019.0 282.9L1019.2 284.9L1019.5 286.9L1019.7 288.9L1019.9 290.9L1020.1 292.9L1020.4 294.9L1020.6 296.9L1020.8 298.9L1021.0 300.9L1021.2 302.8L1021.5 304.8L1021.7 306.8L1021.9 308.8L1022.1 310.8L1022.3 312.8L1022.5 314.8L1022.7 316.8L1022.9 318.8L1023.1 320.8L1023.4 322.8L1023.6 324.7L1023.8 326.7L1024.0 328.7L1024.2 330.7L1024.4 332.7L1024.6 334.7L1024.8 336.7L1025.0 338.7L1025.2 340.7L1025.4 342.7L1025.6 344.7L1025.8 346.6L1026.0 348.6L1026.2 350.6L1026.4 352.6L1026.6 354.6L1026.8 356.6L1026.9 358.6L1027.1 360.6L1027.3 362.6L1027.5 364.6L1027.7 366.6L1027.9 368.6L1028.1 370.6L1028.3 372.5L1028.5 374.5L1028.7 376.5L1028.9 378.5L1029.0 380.5L1029.2 382.5L1029.4 384.5L1029.6 386.5L1029.8 388.5L1029.9 390.5L1030.1 392.5L1030.3 394.5L1030.5 396.5L1030.7 398.5L1030.8 400.5L1031.0 402.5L1031.2 404.5L1031.4 406.5L1031.5 408.4L1031.7 410.4L1031.9 412.4L1032.0 414.4L1032.2 416.4L1032.4 418.4L1032.5 420.4L1032.7 422.4L1032.9 424.4L1033.0 426.4L1033.2 428.4L1033.3 430.4L1033.5 432.4L1033.7 434.4L1033.8 436.4L1034.0 438.4L1034.1 440.4L1034.3 442.4L1034.4 444.4L1034.6 446.4L1034.7 448.4L1034.9 450.4L1035.0 452.4L1035.1 454.4L1035.3 456.4L1035.4 458.4L1035.6 460.4L1035.7 462.4L1035.8 464.4L1036.0 466.3L1036.1 468.3L1036.2 470.3L1036.3 472.3L1036.5 474.3L1036.6 476.3L1036.7 478.3L1036.8 480.3L1037.0 482.3L1037.1 484.3L1037.2 485.8L1037.3 487.8L1037.4 489.8L1037.5 491.8L1037.6 493.8L1037.7 495.8L1037.8 497.8L1037.9 499.8L1038.1 501.8L1038.2 503.8L1038.3 505.8L1038.4 507.8L1038.5 509.8L1038.6 511.8L1038.7 513.8L1038.8 515.8L1038.9 517.8L1039.0 519.8L1039.0 521.8L1039.1 523.8L1039.2 525.8L1039.3 527.8L1039.4 529.8L1039.5 531.8L1039.6 533.8L1039.7 535.8L1039.8 537.8L1039.9 539.8L1039.9 541.8L1040.0 543.8L1040.1 545.8L1040.2 547.8L1040.3 549.8L1040.4 551.8L1040.4 553.8L1040.5 555.8L1040.6 557.8L1040.7 559.8L1040.8 561.8L1040.9 563.8L1040.9 565.8L1041.0 567.8L1041.1 569.8L1041.2 571.8L1041.3 573.8L1041.3 575.8L1041.4 577.8L1041.5 579.8L1041.6 581.8L1041.7 583.8L1041.7 585.8L1041.8 587.8L1041.9 589.8L1042.0 591.8L1042.1 593.8L1042.1 595.8L1042.2 597.8L1042.3 599.8L1042.4 601.8L1042.5 603.8L1042.5 605.8L1042.6 607.8L1042.7 609.8L1042.8 611.8L1042.8 613.8L1042.9 615.8L1043.0 617.8L1043.1 619.8L1043.1 621.8L1043.2 623.8L1043.3 625.8L1043.4 627.8L1043.4 629.8L1043.5 631.8L1043.6 633.8L1043.6 635.8L1043.7 637.8L1043.8 639.8L1043.9 641.8L1043.9 643.8L1044.0 645.8L1044.1 647.8L1044.2 649.8L1044.2 651.8L1044.3 653.8L1044.4 655.8L1044.5 657.8L1044.6 659.8L1044.6 661.8L1044.7 663.8L1044.8 665.8L1044.9 667.8L1044.9 669.8L1045.0 671.8L1045.1 673.8L1045.2 675.8L1045.2 677.8L1045.3 679.8L1045.4 681.8L1045.5 683.8L1045.5 685.8L1045.6 687.8L1045.7 689.8L1045.8 691.8L1045.8 693.8L1045.9 695.8L1046.0 697.8L1046.0 699.8L1046.1 701.8L1046.2 703.8L1046.3 705.8L1046.3 707.8L1046.4 709.8L1046.5 711.8L1046.5 713.8L1046.6 715.8L1046.7 717.8L1046.7 719.8L1046.8 721.8L1046.9 723.8L1046.9 725.8L1047.0 727.8L1047.0 729.8L1047.1 731.8L1047.2 733.8L1047.2 735.8L1047.3 737.8L1047.4 739.8L1047.4 741.8L1047.5 743.9L1047.6 745.9L1047.6 747.9L1047.7 749.9L1047.7 751.9L1047.8 753.9L1047.9 755.9L1047.9 757.9L1048.0 759.9L1048.0 761.9L1048.1 763.9L1048.1 765.9L1048.2 767.9L1048.3 769.9L1048.3 771.9L1048.4 773.9L1048.4 775.9L1048.5 777.9L1048.5 779.9L1048.6 781.9L1048.6 783.9L1048.7 785.9L1048.7 787.9L1048.8 789.9L1048.8 791.9L1048.8 793.9L1048.9 795.9L1048.9 797.9L1049.0 799.9L1049.0 801.9L1049.0 803.9L1049.1 805.9L1049.1 807.9L1049.1 809.9L1049.2 811.9L1049.2 813.9L1049.3 815.9L1049.3 817.9L1049.3 819.9L1049.4 821.9L1049.4 823.9L1049.4 825.9L1049.4 827.9L1049.5 829.9L1049.5 831.9L1049.5 833.9L1049.6 835.9L1049.6 837.9L1049.6 839.9L1049.7 841.9L1049.7 843.9L1049.7 845.9L1049.8 847.9L1049.8 849.9L1049.8 851.9L1049.9 853.9L1049.9 855.9L1049.9 857.9L1050.0 859.9L1050.0 861.9L1050.0 863.9L1050.1 865.9L1050.1 867.9L1050.1 869.9L1050.2 871.9L1050.2 873.9L1050.2 875.9L1050.3 877.9L1050.3 879.9L1050.4 881.9L1050.4 883.9L1050.4 885.9L1050.5 888.0L1050.5 890.0L1050.5 892.0L1050.6 894.0L1050.6 896.0L1050.7 898.0L1050.7 900.0L1050.7 902.0L1050.8 904.0L1050.8 906.0L1050.8 908.0L1050.9 910.0L1050.9 912.0L1051.0 914.0L1051.0 916.0L1051.0 918.0L1051.1 920.0L1051.1 922.0L1051.2 924.0L1051.2 926.0L1051.2 928.0L1051.3 930.0L1051.3 932.0L1051.4 934.0L1051.4 936.0L1051.4 938.0L1051.5 940.0L1051.5 942.0L1051.6 944.0L1051.6 946.0L1051.6 948.0L1051.7 950.0L1051.7 952.0L1051.8 954.0L1051.8 956.0L1051.8 954.0L1051.9 952.0L1051.9 950.0L1051.9 948.0L1051.9 946.0L1052.0 944.0L1052.0 942.0L1052.0 940.0L1052.1 938.0L1052.1 936.0L1052.1 934.0L1052.2 932.0L1052.2 930.0L1052.3 928.0L1052.3 926.0L1052.3 924.0L1052.4 922.0L1052.4 920.0L1052.5 918.0L1052.5 916.0L1052.5 914.0L1052.6 912.0L1052.6 910.0L1052.7 908.0L1052.7 906.0L1052.7 904.0L1052.8 902.0L1052.8 900.0L1052.9 898.0L1052.9 896.0L1053.0 894.0L1053.0 892.0L1053.1 890.0L1053.1 888.0L1053.2 886.0L1053.2 884.0L1053.3 882.0L1053.3 880.0L1053.3 878.0L1053.4 876.0L1053.4 874.0L1053.5 872.0L1053.5 870.0L1053.6 868.0L1053.6 866.0L1053.7 864.0L1053.7 862.0L1053.8 859.9L1053.8 857.9L1053.9 855.9L1054.0 853.9L1054.0 851.9L1054.1 849.9L1054.1 847.9L1054.2 845.9L1054.3 843.9L1054.3 841.9L1054.4 839.9L1054.5 837.9L1054.6 835.9L1054.6 833.9L1054.7 831.9L1054.8 829.9L1054.9 827.9L1055.0 825.9L1055.1 823.9L1055.2 821.9L1055.3 819.9L1055.4 817.9L1055.5 815.9L1055.6 813.9L1055.7 811.9L1055.9 809.9L1056.0 807.9L1056.2 805.9L1056.3 803.9L1056.5 801.9L1056.7 799.9L1056.9 797.9L1057.1 795.9L1057.3 793.9L1057.6 791.9L1057.9 789.9L1058.2 787.7L1058.6 785.4L1059.1 783.0L1059.7 780.6L1060.3 778.3L1061.0 776.3L1061.7 774.6L1062.3 773.4L1063.0 772.8L1063.7 772.8L1064.3 773.3L1065.0 774.3L1065.7 775.7L1066.4 777.5L1067.1 779.6L1067.8 781.8L1068.5 784.2L1069.2 786.6L1069.9 789.0L1070.6 791.3L1071.3 793.5L1072.0 795.7L1072.7 797.9L1073.5 800.2L1074.2 802.6L1074.9 805.0L1075.6 807.4L1076.3 809.7L1077.0 811.9L1077.7 813.7L1078.3 815.3L1078.8 816.4L1079.4 817.1L1079.8 817.3L1080.3 817.0L1080.7 816.2L1081.0 815.1L1081.4 813.5L1081.7 811.7L1082.0 809.6L1082.3 807.3L1082.6 804.9L1082.9 802.3L1083.2 799.8L1083.5 797.2L1083.8 794.7L1084.1 792.3L1084.4 790.1L1084.8 788.0L1085.2 785.9L1085.5 783.9L1085.9 782.0L1086.3 780.0L1086.7 778.1L1087.1 776.1L1087.5 774.1L1087.9 772.2L1088.3 770.2L1088.7 768.2L1089.1 766.3L1089.5 764.3L1089.9 762.4L1090.3 760.4L1090.7 758.4L1091.1 756.5L1091.5 754.5L1091.9 752.5L1092.2 750.6L1092.6 748.6L1093.0 746.7L1093.4 744.7L1093.8 742.7L1094.2 740.8L1094.6 738.8L1095.0 736.8L1095.4 734.9L1095.8 732.9L1096.2 731.0L1096.5 729.0L1096.9 727.0L1097.3 725.0L1097.6 723.1L1098.0 721.1L1098.3 719.1L1098.7 717.1L1099.0 715.2L1099.4 713.2L1099.8 711.2L1100.3 709.3L1100.7 707.3L1101.2 705.4L1101.7 703.5L1102.3 701.6L1102.9 699.7L1103.6 697.8L1104.3 695.9L1105.1 694.0L1106.0 692.2L1107.0 690.3L1108.2 688.6L1109.4 687.2L1110.6 686.3L1111.9 686.3L1113.1 687.1L1114.2 688.6L1115.2 690.4L1116.1 692.3L1116.8 694.2L1117.3 696.1L1117.8 698.1L1118.3 700.1L1118.7 702.0L1119.1 704.0L1119.5 706.0L1119.8 707.9L1120.2 709.9L1120.5 711.9L1120.8 713.9L1121.1 715.8L1121.4 717.8L1121.8 720.3L1122.0 722.3L1122.3 724.3L1122.5 726.3L1122.8 728.3L1123.0 730.2L1123.3 732.2L1123.5 734.2L1123.7 736.2L1124.0 738.2L1124.2 740.2L1124.4 742.2L1124.6 744.2L1124.8 746.2L1125.0 748.1L1125.2 750.1L1125.3 752.1L1125.5 754.1L1125.7 756.1L1125.9 758.1L1126.1 760.1L1126.2 762.1L1126.4 764.1L1126.6 766.1L1126.8 768.1L1127.0 770.1L1127.1 772.1L1127.3 774.1L1127.5 776.1L1127.6 778.1L1127.8 780.1L1127.9 782.0L1128.0 784.0L1128.2 786.0L1128.3 788.0L1128.4 790.0L1128.5 792.0L1128.6 794.0L1128.7 796.0L1128.8 798.0L1128.9 800.0L1129.0 802.0L1129.1 804.0L1129.2 806.0L1129.3 808.0L1129.4 810.0L1129.4 812.0L1129.5 814.0L1129.6 816.0L1129.7 818.0L1129.8 820.0L1129.8 822.0L1129.9 824.0L1130.0 826.0L1130.0 828.0L1130.1 830.0L1130.2 832.0L1130.2 834.0L1130.3 836.0L1130.4 838.0L1130.4 840.0L1130.5 842.0L1130.6 844.0L1130.6 846.0L1130.7 848.0L1130.7 850.0L1130.8 852.0L1130.9 854.0L1130.9 856.0L1131.0 858.0L1131.0 860.0L1131.1 862.0L1131.2 864.0L1131.2 866.0L1131.3 868.0L1131.3 870.0L1131.4 872.0L1131.4 874.0L1131.5 876.0L1131.5 878.0L1131.6 880.0L1131.6 882.0L1131.7 884.0L1131.7 886.0L1131.8 888.0L1131.8 890.0L1131.8 892.0L1131.9 894.1L1131.9 896.1L1132.0 898.1L1132.0 900.1L1132.0 902.1L1132.1 904.1L1132.1 906.1L1132.1 908.1L1132.2 910.1L1132.2 912.1L1132.2 914.1L1132.3 916.1L1132.3 918.1L1132.3 920.1L1132.4 922.1L1132.4 924.1L1132.4 926.1L1132.5 928.1L1132.5 930.1L1132.5 932.1L1132.5 934.1L1132.6 936.1L1132.6 938.1L1132.6 940.1L1132.7 942.1L1132.7 944.1L1132.7 946.1L1132.7 948.1L1132.8 950.1L1132.8 952.1L1132.8 954.1L1132.8 956.1L1132.9 958.1L1132.9 960.1L1132.9 962.1L1132.9 964.1L1133.0 966.1L1133.0 968.1L1133.0 970.1L1133.0 972.1L1133.0 974.1L1133.1 976.1L1133.1 978.1L1133.1 980.1L1133.1 982.1L1133.1 984.1L1133.2 986.1L1133.2 988.1L1133.2 990.1L1133.2 992.1L1133.2 994.1L1133.3 996.1L1133.3 998.1L1133.3 1000.1L1133.3 1002.1L1133.3 1004.1L1133.4 1006.1L1133.4 1008.1L1133.4 1010.1L1133.4 1012.1L1133.4 1014.1L1133.4 1016.1L1133.5 1018.1L1133.5 1020.1L1133.5 1022.1L1133.5 1024.1L1133.5 1026.1L1133.6 1028.1L1133.6 1030.1L1133.6 1032.1L1133.6 1034.1L1133.6 1036.1L1133.6 1038.1L1133.7 1040.1L1133.7 1042.1L1133.7 1044.1L1133.7 1046.1L1133.7 1048.1L1133.7 1050.1L1133.8 1052.1L1133.8 1054.2L1133.8 1056.2L1133.8 1058.2L1133.8 1060.2L1133.8 1062.2L1133.8 1064.2L1133.9 1066.2L1133.9 1068.2L1133.9 1070.2L1133.9 1072.2L1133.9 1074.2L1133.9 1076.2L1133.9 1078.2L1134.0 1080.2L1134.0 1082.2L1134.0 1084.2L1134.0 1086.2L1134.0 1088.2L1134.0 1090.2L1134.0 1092.2L1134.0 1094.2L1134.1 1096.2L1134.1 1098.2L1134.1 1100.2L1134.1 1102.2L1134.1 1104.2L1134.1 1106.2L1134.1 1108.2L1134.1 1110.2L1134.1 1112.2L1134.1 1114.2L1134.2 1116.2L1134.2 1118.2L1134.2 1120.2L1134.2 1122.2L1134.2 1124.2L1134.2 1126.2L1134.2 1124.2L1134.2 1122.2L1134.2 1120.2L1134.2 1118.2L1134.2 1116.2L1134.2 1114.2L1134.2 1112.2L1134.2 1110.2L1134.2 1108.2L1134.3 1106.2L1134.3 1104.2L1134.3 1102.2L1134.3 1100.2L1134.3 1098.2L1134.3 1096.2L1134.3 1094.2L1134.3 1092.2L1134.3 1090.2L1134.3 1088.2L1134.3 1086.2L1134.3 1084.2L1134.4 1082.2L1134.4 1080.2L1134.4 1078.1L1134.4 1076.1L1134.4 1074.1L1134.4 1072.1L1134.4 1070.1L1134.4 1068.1L1134.4 1066.1L1134.5 1064.1L1134.5 1062.1L1134.5 1060.1L1134.5 1058.1L1134.5 1056.1L1134.5 1054.1L1134.5 1052.1L1134.5 1050.1L1134.6 1048.1L1134.6 1046.1L1134.6 1044.1L1134.6 1042.1L1134.6 1040.1L1134.6 1038.1L1134.6 1036.1L1134.6 1034.1L1134.7 1032.1L1134.7 1030.1L1134.7 1028.1L1134.7 1026.1L1134.7 1024.1L1134.7 1022.1L1134.7 1020.1L1134.8 1018.1L1134.8 1016.1L1134.8 1014.1L1134.8 1012.1L1134.8 1010.1L1134.8 1008.1L1134.9 1006.1L1134.9 1004.1L1134.9 1002.1L1134.9 1000.1L1134.9 998.1L1134.9 996.1L1134.9 994.1L1135.0 992.1L1135.0 990.1L1135.0 988.1L1135.0 986.1L1135.0 984.1L1135.1 982.0L1135.1 980.0L1135.1 978.0L1135.1 976.0L1135.1 974.0L1135.2 972.0L1135.2 970.0L1135.2 968.0L1135.2 966.0L1135.3 964.0L1135.3 962.0L1135.3 960.0L1135.3 958.0L1135.4 956.0L1135.4 954.0L1135.4 952.0L1135.4 950.0L1135.5 948.0L1135.5 946.0L1135.5 944.0L1135.5 942.0L1135.6 940.0L1135.6 938.0L1135.6 936.0L1135.6 934.0L1135.7 932.0L1135.7 930.0L1135.7 928.0L1135.7 926.0L1135.8 924.0L1135.8 922.0L1135.8 920.0L1135.9 918.0L1135.9 916.0L1135.9 914.0L1135.9 912.0L1136.0 910.0L1136.0 908.0L1136.0 906.0L1136.0 904.0L1136.1 902.0L1136.1 900.0L1136.1 898.0L1136.2 896.0L1136.2 894.0L1136.2 892.0L1136.2 890.0L1136.3 888.0L1136.3 886.0L1136.3 884.0L1136.3 881.9L1136.3 879.9L1136.4 877.9L1136.4 875.9L1136.4 873.9L1136.4 871.9L1136.5 869.9L1136.5 867.9L1136.5 865.9L1136.5 863.9L1136.5 861.9L1136.6 859.9L1136.6 857.9L1136.6 855.9L1136.6 853.9L1136.7 851.9L1136.7 849.9L1136.7 847.9L1136.7 845.9L1136.8 843.9L1136.8 841.9L1136.8 839.9L1136.8 837.9L1136.9 835.9L1136.9 833.9L1136.9 831.9L1137.0 829.9L1137.0 827.9L1137.0 825.9L1137.0 823.9L1137.1 821.9L1137.1 819.9L1137.2 817.9L1137.2 815.9L1137.2 813.9L1137.3 811.9L1137.3 809.9L1137.3 807.9L1137.4 805.9L1137.4 803.9L1137.5 801.9L1137.5 799.9L1137.6 797.9L1137.6 795.9L1137.7 793.9L1137.7 791.9L1137.8 789.9L1137.9 787.9L1137.9 785.9L1138.0 783.9L1138.1 781.9L1138.2 779.9L1138.3 777.9L1138.4 775.9L1138.6 773.9L1138.7 771.9L1138.9 769.9L1139.0 767.9L1139.2 765.9L1139.4 763.9L1139.5 761.9L1139.7 759.9L1139.9 757.9L1140.1 755.9L1140.3 753.9L1140.5 751.9L1140.8 749.9L1141.0 748.0L1141.3 746.0L1141.6 744.0L1141.8 742.0L1142.1 740.0L1142.3 738.0L1142.6 736.0L1142.8 734.1L1143.0 732.1L1143.2 730.1L1143.4 728.1L1143.6 726.1L1143.8 724.1L1143.9 722.1L1144.1 720.1L1144.2 718.1L1144.4 716.1L1144.6 714.1L1144.7 712.1L1144.9 710.1L1145.1 708.1L1145.3 706.1L1145.4 704.1L1145.7 702.1L1145.9 700.2L1146.1 698.2L1146.4 696.2L1146.7 694.2L1147.0 692.2L1147.4 690.3L1147.7 688.3L1148.1 686.3L1148.5 684.4L1148.9 682.4L1149.2 680.4L1149.6 678.5L1150.0 676.5L1150.3 674.5L1150.7 672.5L1151.1 670.6L1151.4 668.6L1151.8 666.6L1152.2 664.7L1152.6 662.7L1153.1 660.8L1153.6 658.8L1154.1 656.9L1154.6 654.9L1155.2 653.0L1155.8 651.1L1156.5 649.1L1157.2 647.1L1158.0 644.9L1158.8 642.7L1159.7 640.5L1160.7 638.4L1161.7 636.5L1162.8 634.9L1163.9 633.8L1165.1 633.1L1166.4 633.0L1167.9 633.5L1169.5 634.5L1171.2 635.7L1173.0 637.1L1174.8 638.4L1176.5 639.4L1178.1 640.0L1179.6 640.0L1181.0 639.4L1182.2 638.3L1183.4 636.7L1184.6 634.8L1185.7 632.8L1186.7 630.8L1187.7 628.9L1188.6 627.1L1189.4 625.2L1190.2 623.4L1191.1 621.6L1191.9 619.7L1192.7 617.9L1193.6 616.1L1194.4 614.3L1195.3 612.5L1196.1 610.6L1196.9 608.8L1197.7 606.9L1198.5 605.1L1199.4 603.3L1200.4 601.7L1201.7 600.2L1203.1 598.9L1204.8 598.1L1206.5 597.8L1208.3 598.0L1209.9 598.8L1211.2 600.1L1212.4 601.7L1213.4 603.4L1214.2 605.2L1215.1 607.1L1215.9 608.9L1216.6 610.8L1217.4 612.6L1218.0 614.5L1218.7 616.4L1219.3 618.3L1219.8 620.2L1220.3 622.2L1220.7 624.1L1221.1 626.1L1221.5 628.0L1221.8 630.0L1222.2 632.0L1222.5 634.0L1222.8 636.0L1223.2 637.9L1223.5 639.9L1223.8 641.9L1224.2 643.9L1224.5 645.8L1224.9 647.8L1225.2 649.8L1225.5 651.8L1225.9 653.7L1226.2 655.7L1226.5 657.7L1226.7 659.7L1227.0 661.7L1227.3 663.6L1227.5 665.6L1227.8 667.6L1228.0 669.6L1228.2 671.6L1228.4 673.6L1228.6 675.6L1228.8 677.6L1228.9 679.6L1229.1 681.6L1229.2 683.6L1229.3 685.6L1229.4 687.6L1229.5 689.6L1229.6 691.6L1229.7 693.6L1229.8 695.6L1229.9 697.6L1229.9 699.6L1230.0 701.6L1230.1 703.6L1230.2 705.6L1230.2 707.6L1230.3 709.6L1230.4 711.6L1230.4 713.6L1230.5 715.6L1230.5 717.6L1230.6 719.6L1230.6 721.6L1230.7 723.6L1230.8 725.6L1230.8 727.6L1230.9 729.6L1231.0 731.6L1231.1 733.6L1231.2 735.6L1231.3 737.6L1231.4 739.6L1231.4 741.6L1231.6 743.6L1231.7 745.7L1231.8 747.7L1231.9 749.7L1232.1 751.7L1232.2 753.6L1232.4 755.6L1232.6 757.6L1232.8 759.6L1233.1 761.5L1233.4 763.5L1233.8 765.4L1234.3 767.3L1234.9 769.2L1235.5 771.2L1236.2 773.1L1236.9 775.0L1237.6 776.8L1238.4 778.7L1239.2 780.6L1239.4 778.6L1239.7 776.6L1240.0 774.7L1240.2 772.7L1240.5 770.7L1240.8 768.7L1241.1 766.7L1241.3 764.7L1241.6 762.8L1241.9 760.8L1242.2 758.8L1242.5 756.8L1242.8 754.8L1243.1 752.8L1243.4 750.9L1243.7 748.9L1244.0 746.9L1244.3 744.9L1244.6 742.9L1244.9 741.0L1245.2 739.0L1245.5 737.0L1245.8 735.0L1246.1 733.0L1246.3 731.0L1246.6 729.1L1246.8 727.1L1247.1 725.1L1247.3 723.1L1247.5 721.1L1247.7 719.1L1248.0 717.1L1248.2 715.1L1248.4 713.1L1248.7 711.1L1248.9 709.1L1249.2 707.2L1249.5 705.2L1249.8 703.1L1250.2 701.0L1250.6 698.8L1250.9 696.5L1251.3 694.1L1251.8 691.6L1252.2 689.0L1252.7 686.5L1253.1 684.0L1253.6 681.5L1254.2 679.1L1254.7 676.8L1255.3 674.6L1255.9 672.6L1256.5 670.8L1257.1 669.2L1257.8 667.9L1258.5 666.8L1259.2 666.1L1260.0 665.7L1260.8 665.9L1261.8 666.7L1262.9 667.9L1264.0 669.7L1265.1 671.6L1266.1 673.7L1266.9 675.6L1267.6 677.5L1268.2 679.4L1268.9 681.8L1269.4 683.7L1269.9 685.7L1270.3 687.6L1270.8 689.6L1271.1 691.6L1271.5 693.6L1271.9 695.6L1272.2 697.6L1272.6 699.6L1272.9 701.6L1273.2 703.6L1273.5 705.6L1273.8 707.6L1274.1 709.6L1274.4 711.5L1274.6 713.5L1274.9 715.5L1275.1 717.5L1275.4 719.5L1275.6 721.5L1275.8 723.5L1276.0 725.5L1276.3 727.5L1276.5 729.5L1276.7 731.5L1276.9 733.4L1277.1 735.4L1277.3 737.4L1277.6 739.4L1277.8 741.4L1278.0 743.4L1278.2 745.4L1278.4 747.4L1278.6 749.4L1278.8 751.4L1279.0 753.4L1279.1 755.4L1279.3 757.4L1279.5 759.4L1279.7 761.4L1279.8 763.4L1280.0 765.3L1280.2 767.3L1280.3 769.3L1280.5 771.3L1280.6 773.3L1280.8 775.3L1280.9 777.3L1281.1 779.3L1281.2 781.3L1281.3 783.3L1281.5 785.3L1281.6 787.3L1281.8 789.3L1281.9 791.3L1282.0 793.3L1282.2 795.3L1282.3 797.3L1282.5 799.3L1282.6 801.3L1282.7 803.3L1282.9 805.3L1283.0 807.3L1283.1 809.3L1283.3 811.3L1283.4 813.3L1283.5 815.3L1283.7 817.3L1283.8 819.3L1283.9 821.3L1284.1 823.3L1284.2 825.3L1284.3 827.3L1284.4 829.3L1284.5 831.3L1284.6 833.3L1284.7 835.3L1284.8 837.3L1284.9 839.3L1285.0 841.3L1285.1 843.3L1285.1 845.3L1285.2 847.3L1285.3 849.3L1285.4 851.3L1285.4 853.3L1285.5 855.3L1285.6 857.3L1285.7 859.3L1285.7 861.3L1285.8 863.3L1285.9 865.3L1285.9 867.3L1286.0 869.3L1286.1 871.4L1286.1 873.4L1286.2 875.4L1286.2 877.4L1286.3 879.4L1286.4 881.4L1286.4 883.4L1286.5 885.4L1286.5 887.4L1286.6 889.4L1286.6 891.4L1286.7 893.4L1286.7 895.4L1286.7 897.4L1286.8 899.4L1286.8 901.4L1286.9 903.4L1286.9 905.4L1286.9 907.4L1287.0 909.4L1287.0 911.4L1287.0 913.4L1287.1 915.4L1287.1 917.4L1287.1 919.4L1287.2 921.4L1287.2 923.4L1287.2 925.4L1287.3 927.4L1287.3 929.4L1287.3 931.4L1287.4 933.4L1287.4 935.4L1287.4 937.5L1287.4 939.5L1287.5 941.5L1287.5 943.5L1287.5 945.5L1287.6 947.5L1287.6 949.5L1287.6 952.0L1287.6 954.0L1287.7 956.0L1287.7 958.0L1287.7 960.0L1287.7 962.0L1287.8 964.0L1287.8 966.0L1287.8 968.0L1287.8 970.0L1287.9 972.0L1287.9 974.0L1287.9 976.0L1287.9 978.0L1287.9 980.0L1288.0 982.0L1288.0 984.0L1288.0 986.0L1288.0 988.0L1288.1 990.0L1288.1 992.0L1288.1 994.0L1288.1 996.1L1288.2 998.1L1288.2 1000.1L1288.2 1002.1L1288.3 1004.1L1288.3 1006.1L1288.3 1008.1L1288.3 1010.1L1288.4 1012.1L1288.4 1014.1L1288.4 1016.1L1288.4 1018.1L1288.5 1020.1L1288.5 1022.1L1288.5 1024.1L1288.5 1026.1L1288.6 1028.1L1288.6 1030.1L1288.6 1032.1L1288.6 1034.1L1288.7 1036.1L1288.7 1038.1L1288.7 1040.1L1288.7 1042.1L1288.8 1044.1L1288.8 1046.1L1288.8 1048.1L1288.9 1050.1L1288.9 1052.1L1288.9 1054.1L1288.9 1056.2L1289.0 1058.2L1289.0 1060.2L1289.0 1062.2L1289.0 1064.2L1289.1 1066.2L1289.1 1068.2L1289.1 1070.2L1289.1 1072.2L1289.2 1074.2L1289.2 1076.2L1289.2 1078.2L1289.2 1080.2L1289.3 1082.2L1289.3 1084.2L1289.3 1086.2L1289.3 1084.2L1289.4 1082.2L1289.4 1080.2L1289.4 1078.2L1289.5 1076.2L1289.5 1074.2L1289.6 1072.2L1289.6 1070.2L1289.6 1068.2L1289.7 1066.2L1289.7 1064.2L1289.7 1062.2L1289.8 1060.2L1289.8 1058.2L1289.8 1056.2L1289.9 1054.2L1289.9 1052.1L1289.9 1050.1L1290.0 1048.1L1290.0 1046.1L1290.0 1044.1L1290.1 1042.1L1290.1 1040.1L1290.2 1038.1L1290.2 1036.1L1290.2 1034.1L1290.3 1032.1L1290.3 1030.1L1290.3 1028.1L1290.4 1026.1L1290.4 1024.1L1290.4 1022.1L1290.5 1020.1L1290.5 1018.1L1290.5 1016.1L1290.6 1014.1L1290.6 1012.1L1290.6 1010.1L1290.7 1008.1L1290.7 1006.1L1290.7 1004.1L1290.8 1002.1L1290.8 1000.1L1290.8 998.1L1290.9 996.1L1290.9 994.1L1290.9 992.1L1291.0 990.1L1291.0 988.0L1291.0 986.0L1291.1 984.0L1291.1 982.0L1291.1 980.0L1291.1 978.0L1291.2 976.0L1291.2 974.0L1291.2 972.0L1291.3 970.0L1291.3 968.0L1291.3 966.0L1291.3 964.0L1291.4 962.0L1291.4 960.0L1291.4 958.0L1291.5 956.0L1291.5 954.0L1291.5 952.0L1291.6 950.0L1291.6 948.0L1291.6 946.0L1291.6 944.0L1291.7 942.0L1291.7 940.0L1291.7 938.0L1291.8 936.0L1291.8 934.0L1291.8 932.0L1291.9 930.0L1291.9 928.0L1291.9 925.9L1292.0 923.9L1292.0 921.9L1292.0 919.9L1292.1 917.9L1292.1 915.9L1292.1 913.9L1292.2 911.9L1292.2 909.9L1292.2 907.9L1292.3 905.9L1292.3 903.9L1292.4 901.9L1292.4 899.9L1292.4 897.9L1292.5 895.9L1292.5 893.9L1292.6 891.9L1292.6 889.9L1292.7 887.9L1292.7 885.9L1292.7 883.9L1292.8 881.9L1292.8 879.9L1292.9 877.9L1292.9 875.9L1293.0 873.9L1293.0 871.9L1293.1 869.9L1293.1 867.9L1293.2 865.9L1293.2 863.9L1293.3 861.8L1293.3 859.8L1293.4 857.8L1293.5 855.8L1293.5 853.8L1293.6 851.3L1293.7 849.3L1293.7 847.3L1293.8 845.3L1293.9 843.3L1293.9 841.3L1294.0 839.3L1294.1 837.3L1294.2 835.3L1294.3 833.3L1294.4 831.3L1294.5 829.3L1294.6 827.3L1294.7 825.3L1294.8 823.3L1294.9 821.3L1295.0 819.3L1295.2 817.3L1295.3 815.3L1295.4 813.3L1295.6 811.3L1295.7 809.3L1295.8 807.3L1296.0 805.3L1296.1 803.3L1296.3 801.3L1296.4 799.3L1296.6 797.3L1296.7 795.3L1296.9 793.3L1297.0 791.3L1297.2 789.3L1297.4 787.3L1297.5 785.3L1297.7 783.3L1297.8 781.3L1298.0 779.3L1298.2 777.3L1298.3 775.3L1298.5 773.3L1298.7 771.3L1298.9 769.3L1299.1 767.3L1299.4 765.3L1299.6 763.3L1300.0 761.4L1300.3 759.3L1300.7 757.2L1301.2 754.9L1301.8 752.6L1302.5 750.1L1303.2 747.7L1304.0 745.4L1304.8 743.1L1305.7 741.0L1306.5 739.2L1307.4 737.6L1308.2 736.4L1309.0 735.5L1309.8 735.1L1310.5 735.2L1311.3 735.8L1312.0 736.7L1312.8 738.1L1313.5 739.8L1314.3 741.8L1315.1 743.9L1315.8 746.3L1316.5 748.7L1317.1 751.1L1317.8 753.5L1318.3 755.9L1318.8 758.1L1319.2 760.2L1319.6 762.2L1320.0 764.2L1320.3 766.2L1320.6 768.1L1320.9 770.1L1321.1 772.1L1321.4 774.1L1321.6 776.1L1321.9 778.1L1322.1 780.1L1322.3 782.1L1322.6 784.1L1322.8 786.1L1323.0 788.1L1323.3 790.1L1323.5 792.1L1323.8 794.1L1324.0 796.0L1324.3 798.0L1324.5 800.0L1324.7 802.0L1325.0 804.0L1325.2 806.0L1325.5 808.0L1325.7 810.0L1325.9 812.0L1326.2 813.9L1326.4 815.9L1326.6 817.9L1326.9 819.9L1327.1 821.9L1327.3 823.9L1327.5 825.9L1327.8 827.9L1328.0 829.9L1328.2 831.9L1328.4 833.9L1328.6 835.8L1328.9 837.8L1329.1 839.8L1329.3 841.8L1329.5 843.8L1329.7 845.8L1329.9 847.8L1330.2 845.8L1330.5 843.8L1330.8 841.9L1331.1 839.9L1331.4 837.9L1331.7 835.9L1332.0 833.9L1332.3 832.0L1332.6 830.0L1332.9 828.0L1333.1 826.0L1333.4 824.0L1333.6 822.0L1333.8 820.1L1334.1 818.1L1334.3 816.1L1334.5 814.1L1334.7 812.1L1334.9 810.1L1335.1 808.1L1335.3 806.1L1335.5 804.1L1335.7 802.1L1335.8 800.1L1336.0 798.1L1336.2 796.2L1336.4 794.2L1336.6 792.2L1336.8 790.2L1337.0 788.2L1337.2 786.2L1337.4 784.2L1337.6 782.2L1337.8 780.2L1338.0 778.2L1338.2 776.2L1338.4 774.2L1338.6 772.2L1338.8 770.2L1339.0 768.3L1339.3 766.3L1339.5 764.3L1339.8 762.3L1340.1 760.3L1340.4 758.4L1340.8 756.4L1341.2 754.4L1341.6 752.5L1342.1 750.5L1342.6 748.6L1343.0 746.6L1343.5 744.6L1344.0 742.7L1344.4 740.7L1344.8 738.8L1345.1 736.8L1345.4 734.8L1345.6 732.8L1345.7 730.8L1345.8 728.8L1345.9 726.8L1346.1 724.8L1346.3 722.8L1346.8 720.7L1347.5 718.5L1348.3 716.3L1349.4 714.2L1350.6 712.3L1351.8 710.7L1353.0 709.5L1354.2 708.9L1355.3 708.9L1356.4 709.5L1357.5 710.6L1358.6 712.2L1359.8 714.2L1360.9 716.4L1362.1 718.7L1363.2 721.1L1364.3 723.4L1365.5 725.4L1366.6 727.1L1367.6 728.4L1368.7 729.1L1369.8 729.2L1370.8 728.5L1371.8 727.3L1372.8 725.5L1373.7 723.5L1374.5 721.3L1375.3 719.3L1375.9 717.3L1376.5 715.3L1377.1 713.4L1377.6 711.5L1378.0 709.5L1378.5 707.5L1378.9 705.6L1379.3 703.6L1379.8 701.6L1380.2 699.7L1380.6 697.7L1381.0 695.8L1381.4 693.8L1381.8 691.8L1382.2 689.9L1382.6 687.9L1382.9 685.9L1383.3 684.0L1383.7 682.0L1384.1 680.0L1384.5 678.1L1384.9 676.1L1385.2 674.2L1385.6 672.2L1386.0 670.2L1386.4 668.3L1386.8 666.3L1387.2 664.3L1387.6 662.4L1388.0 660.4L1388.4 658.5L1388.8 656.5L1389.3 654.5L1389.7 652.6L1390.2 650.6L1390.6 648.7L1391.1 646.7L1391.6 644.8L1392.1 642.9L1392.7 640.9L1393.3 639.0L1393.9 637.1L1394.5 635.2L1395.2 633.2L1396.0 631.3L1396.7 629.5L1397.6 627.7L1398.5 626.0L1399.6 624.2L1400.8 622.5L1402.1 620.8L1403.6 619.2L1405.1 618.0L1406.7 617.1L1408.4 616.6L1410.2 616.6L1412.1 617.0L1414.0 617.6L1416.0 618.3L1418.0 619.1L1419.9 619.7L1421.8 620.1L1423.5 620.2L1425.1 619.8L1426.5 618.9L1427.9 617.5L1429.2 615.9L1430.5 614.1L1431.7 612.2L1432.9 610.5L1434.0 608.7L1435.0 607.0L1436.1 605.3L1437.1 603.6L1438.0 601.8L1439.0 600.1L1440.0 598.3L1440.9 596.5L1441.8 594.7L1442.7 592.9L1443.6 591.1L1444.5 589.3L1445.4 587.6L1446.4 585.8L1447.4 584.1L1448.4 582.3L1449.5 580.6L1450.6 579.0L1451.8 577.3L1453.0 575.8L1454.4 574.3L1455.8 572.9L1457.3 571.6L1458.9 570.4L1460.7 569.5L1462.4 568.7L1464.3 568.1L1466.2 567.7L1468.2 567.3L1470.2 567.0L1472.2 566.8L1474.2 566.6L1476.3 566.5L1478.3 566.5L1480.3 566.6L1482.3 566.7L1484.3 566.9L1486.3 567.2L1488.3 567.4L1490.2 567.8L1492.1 568.3L1494.0 569.0L1495.8 569.9L1497.5 570.9L1499.1 572.1L1500.6 573.4L1502.0 574.8L1503.4 576.3L1504.6 577.8L1505.8 579.4L1506.7 580.7L1507.8 582.4L1508.8 584.1L1509.8 585.8L1510.7 587.6L1511.6 589.4L1512.5 591.2L1513.4 593.0L1514.3 594.8L1515.1 596.6L1516.0 598.4L1516.8 600.3L1517.6 602.1L1518.4 603.9L1519.2 605.7L1520.1 607.6L1520.9 609.4L1521.8 611.2L1522.7 613.1L1523.6 614.9L1524.6 616.7L1525.6 618.4L1526.6 620.0L1527.8 621.6L1529.1 622.9L1530.6 624.2L1532.2 625.4L1533.9 626.5L1535.6 627.6L1537.2 628.8L1538.8 630.1L1540.4 631.4L1541.9 632.7L1543.4 634.1L1544.9 635.5L1546.3 637.0L1547.6 638.5L1548.8 640.0L1550.0 641.6L1551.0 643.3L1551.9 645.0L1552.8 646.8L1553.6 648.6L1554.3 650.5L1555.0 652.4L1555.7 654.3L1556.3 656.2L1556.9 658.1L1557.4 660.1L1557.9 662.0L1558.4 663.9L1558.9 665.8L1559.4 667.8L1559.8 669.8L1560.3 671.7L1560.7 673.7L1561.1 675.6L1561.5 677.6L1561.9 679.6L1562.3 681.5L1562.7 683.5L1563.0 685.5L1563.4 687.5L1563.8 689.4L1564.2 691.4L1564.5 693.4L1564.9 695.3L1565.2 697.3L1565.6 699.3L1565.9 701.2L1566.2 703.2L1566.6 705.2L1566.9 707.2L1567.2 709.1L1567.6 711.1L1567.9 713.1L1568.3 715.1L1568.6 717.0L1569.0 719.0L1569.4 721.0L1569.7 722.9L1570.1 724.9L1570.4 726.9L1570.8 728.8L1571.2 730.8L1571.5 732.8L1571.9 734.7L1572.3 736.7L1572.6 738.7L1573.0 740.7L1573.4 742.8L1573.7 745.0L1574.0 747.4L1574.4 749.8L1574.7 752.3L1575.0 754.9L1575.3 757.5L1575.6 760.0L1576.0 762.6L1576.3 765.0L1576.6 767.4L1577.0 769.6L1577.3 771.6L1577.7 773.4L1578.1 775.0L1578.5 776.3L1579.0 777.3L1579.4 778.0L1580.0 778.2L1580.5 778.0L1581.2 777.2L1581.9 776.0L1582.6 774.3L1583.4 772.3L1584.3 770.1L1585.2 767.8L1586.1 765.5L1587.0 763.3L1587.9 761.1L1588.8 759.0L1589.8 756.9L1590.8 754.7L1591.8 752.6L1592.8 750.7L1593.8 749.1L1594.8 748.0L1595.7 747.4L1596.6 747.5L1597.5 748.1L1598.4 749.2L1599.3 750.8L1600.1 752.7L1601.0 754.8L1601.7 757.1L1602.5 759.5L1603.1 761.8L1603.7 764.1L1604.2 766.2L1604.7 768.2L1605.1 770.2L1605.4 772.2L1605.8 774.1L1606.1 776.1L1606.4 778.1L1606.7 780.1L1606.9 782.1L1607.2 784.1L1607.4 786.1L1607.7 788.1L1607.9 790.1L1608.2 792.1L1608.4 794.1L1608.6 796.0L1608.8 798.0L1609.1 800.0L1609.3 802.0L1609.5 804.0L1609.7 806.0L1609.8 808.0L1610.0 810.0L1610.2 812.0L1610.4 814.0L1610.6 816.0L1610.7 818.0L1610.9 820.0L1611.1 822.0L1611.2 824.0L1611.4 825.9L1611.5 827.9L1611.7 829.9L1611.8 831.9L1612.0 833.9L1612.1 835.9L1612.2 837.9L1612.4 839.9L1612.5 841.9L1612.7 843.9L1612.8 845.9L1612.9 847.9L1613.1 849.9L1613.2 851.9L1613.4 853.9L1613.5 855.9L1613.7 857.9L1613.8 859.9L1614.0 861.9L1614.1 863.9L1614.3 865.9L1614.5 867.9L1614.7 869.9L1614.9 871.9L1615.0 873.8L1615.2 875.8L1615.4 877.8L1615.7 879.8L1615.9 881.8L1616.1 883.8L1616.3 885.8L1616.5 887.8L1616.8 889.8L1617.0 891.8L1617.2 893.7L1617.5 895.7L1617.7 897.7L1618.0 899.7L1618.2 901.7L1618.5 903.7L1618.7 905.7L1619.0 907.6L1619.3 909.6L1619.5 911.6L1619.8 913.6L1619.8 911.6L1619.8 909.6L1619.8 907.6L1619.9 905.6L1619.9 903.6L1619.9 901.6L1619.9 899.6L1620.0 897.6L1620.0 895.6L1620.1 893.6L1620.1 891.6L1620.2 889.6L1620.3 887.6L1620.3 885.6L1620.4 883.6L1620.4 881.6L1620.5 879.6L1620.6 877.6L1620.7 875.6L1620.7 873.6L1620.8 871.6L1620.9 869.6L1621.0 867.6L1621.1 865.6L1621.2 863.6L1621.3 861.6L1621.4 859.6L1621.5 857.6L1621.7 855.6L1621.8 853.6L1622.0 851.6L1622.1 849.6L1622.3 847.6L1622.5 845.6L1622.7 843.6L1622.9 841.6L1623.1 839.6L1623.3 837.6L1623.5 835.6L1623.7 833.6L1623.9 831.6L1624.1 829.6L1624.3 827.6L1624.5 825.6L1624.7 823.7L1624.9 821.7L1625.2 819.7L1625.4 817.7L1625.6 815.7L1625.8 813.7L1626.0 811.7L1626.3 809.7L1626.5 807.7L1626.8 805.7L1627.0 803.8L1627.3 801.8L1627.5 799.8L1627.8 797.8L1628.1 795.8L1628.3 793.8L1628.6 791.8L1628.9 789.9L1629.2 787.9L1629.4 785.9L1629.7 783.9L1630.0 781.9L1630.3 779.9L1630.6 778.0L1630.9 776.0L1631.2 774.0L1631.5 772.0L1631.8 770.0L1632.1 768.1L1632.5 766.1L1632.8 764.1L1633.1 762.1L1633.5 760.2L1633.8 758.2L1634.2 756.2L1634.5 754.3L1634.9 752.3L1635.3 750.3L1635.7 748.3L1636.1 746.4L1636.5 744.4L1636.9 742.5L1637.4 740.5L1637.9 738.4L1638.4 736.2L1639.0 733.9L1639.6 731.5L1640.3 729.1L1641.0 726.8L1641.7 724.7L1642.3 723.0L1643.0 721.7L1643.6 720.9L1644.2 720.8L1644.8 721.2L1645.3 722.3L1645.8 723.8L1646.4 725.8L1646.9 728.0L1647.4 730.4L1647.9 732.9L1648.3 735.3L1648.8 737.5L1649.2 739.7L1649.7 741.7L1650.1 743.7L1650.5 745.7L1650.9 747.6L1651.3 749.6L1651.7 751.6L1652.1 753.5L1652.4 755.5L1652.8 757.5L1653.2 759.4L1653.6 761.4L1654.0 763.3L1654.4 765.3L1654.8 767.3L1655.2 769.2L1655.6 771.2L1656.0 773.2L1656.4 775.1L1656.8 777.1L1657.2 779.1L1657.6 781.0L1658.0 783.0L1658.3 785.0L1658.7 786.9L1659.0 788.9L1659.4 790.9L1659.7 792.9L1660.0 794.8L1660.3 796.8L1660.5 798.8L1660.8 800.8L1661.0 802.8L1661.3 804.8L1661.5 806.7L1661.7 808.7L1662.0 810.7L1662.2 812.7L1662.4 814.7L1662.5 816.7L1662.7 818.7L1662.9 820.7L1663.0 822.7L1663.2 824.7L1663.3 826.7L1663.5 828.7L1663.6 830.7L1663.7 832.7L1663.8 834.2L1663.9 836.2L1664.1 838.2L1664.2 840.2L1664.3 842.2L1664.4 844.2L1664.5 846.2L1664.6 848.2L1664.7 850.2L1664.8 852.2L1664.9 854.2L1665.0 856.2L1665.1 858.2L1665.2 860.2L1665.3 862.2L1665.4 864.2L1665.5 866.2L1665.6 868.2L1665.7 870.2L1665.8 872.2L1665.9 874.2L1666.0 876.2L1666.1 878.2L1666.2 880.2L1666.3 882.2L1666.4 884.2L1666.5 886.2L1666.6 888.2L1666.7 890.2L1666.7 892.2L1666.8 894.2L1666.9 896.2L1666.9 898.2L1667.0 900.2L1667.1 902.2L1667.1 904.2L1667.2 906.2L1667.2 908.2L1667.3 910.2L1667.3 912.2L1667.4 914.2L1667.4 916.2L1667.5 918.2L1667.5 920.2L1667.6 922.2L1667.6 924.2L1667.6 926.2L1667.7 928.2L1667.7 930.2L1667.8 932.2L1667.8 934.2L1667.8 936.2L1667.9 938.2L1667.9 940.2L1668.0 942.2L1668.0 944.2L1668.0 946.2L1668.1 948.2L1668.1 950.3L1668.1 952.3L1668.2 954.3L1668.2 956.3L1668.2 958.3L1668.3 960.3L1668.3 962.3L1668.3 964.3L1668.4 966.3L1668.4 968.3L1668.4 970.3L1668.5 972.3L1668.5 974.3L1668.5 976.3L1668.6 978.3L1668.6 980.3L1668.6 982.3L1668.7 984.3L1668.7 986.3L1668.7 988.3L1668.8 990.3L1668.8 992.3L1668.8 994.3L1668.9 996.3L1668.9 998.3L1668.9 1000.3L1669.0 1002.3L1669.0 1004.3L1669.0 1006.3L1669.1 1008.3L1669.1 1010.3L1669.1 1012.3L1669.2 1014.3L1669.2 1016.3L1669.2 1018.3L1669.2 1020.3L1669.3 1022.3L1669.3 1024.3L1669.3 1026.3L1669.4 1028.3L1669.4 1030.4L1669.4 1032.4L1669.4 1034.4L1669.5 1036.4L1669.5 1038.4L1669.5 1040.4L1669.6 1042.4L1669.6 1044.4L1669.6 1046.4L1669.6 1048.4L1669.7 1050.4L1669.7 1052.4L1669.7 1054.4L1669.8 1056.4L1669.8 1058.4L1669.8 1060.4L1669.8 1062.4L1669.9 1064.4L1669.9 1066.4L1669.9 1068.4L1669.9 1070.4L1670.0 1072.4L1670.0 1074.4L1670.0 1076.4L1670.0 1078.4L1670.1 1080.4L1670.1 1082.4L1670.1 1084.4L1670.1 1086.4L1670.2 1088.4L1670.2 1090.4L1670.2 1092.4L1670.2 1094.4L1670.3 1096.4L1670.3 1098.4L1670.3 1100.4L1670.3 1102.4L1670.3 1104.4L1670.4 1106.4L1670.4 1108.5L1670.4 1110.5L1670.4 1112.5L1670.5 1114.5L1670.5 1116.5L1670.5 1118.5L1670.5 1120.5L1670.6 1122.5L1670.6 1124.5L1670.6 1126.5L1670.6 1128.5L1670.6 1130.5L1670.7 1132.5L1670.7 1134.5L1670.7 1136.5L1670.7 1138.5L1670.7 1140.5L1670.8 1142.5L1670.8 1144.5L1670.8 1146.5L1670.8 1144.5L1670.8 1142.5L1670.8 1140.5L1670.8 1138.5L1670.9 1136.5L1670.9 1134.5L1670.9 1132.5L1670.9 1130.5L1670.9 1128.5L1670.9 1126.5L1670.9 1124.5L1670.9 1122.5L1670.9 1120.5L1671.0 1118.5L1671.0 1116.5L1671.0 1114.5L1671.0 1112.5L1671.0 1110.5L1671.0 1108.5L1671.0 1106.5L1671.0 1104.5L1671.1 1102.5L1671.1 1100.5L1671.1 1098.5L1671.1 1096.5L1671.1 1094.5L1671.1 1092.5L1671.2 1090.5L1671.2 1088.5L1671.2 1086.5L1671.2 1084.5L1671.2 1082.5L1671.2 1080.5L1671.2 1078.4L1671.3 1076.4L1671.3 1074.4L1671.3 1072.4L1671.3 1070.4L1671.3 1068.4L1671.3 1066.4L1671.4 1064.4L1671.4 1062.4L1671.4 1060.4L1671.4 1058.4L1671.4 1056.4L1671.4 1054.4L1671.5 1052.4L1671.5 1050.4L1671.5 1048.4L1671.5 1046.4L1671.5 1044.4L1671.6 1042.4L1671.6 1040.4L1671.6 1038.4L1671.6 1036.4L1671.6 1034.4L1671.7 1032.4L1671.7 1030.4L1671.7 1028.4L1671.7 1026.4L1671.7 1024.4L1671.8 1022.4L1671.8 1020.4L1671.8 1018.4L1671.8 1016.4L1671.9 1014.4L1671.9 1012.4L1671.9 1010.4L1671.9 1008.4L1672.0 1006.4L1672.0 1004.4L1672.0 1002.4L1672.0 1000.4L1672.1 998.4L1672.1 996.4L1672.1 994.4L1672.1 992.4L1672.2 990.4L1672.2 988.4L1672.2 986.4L1672.2 984.4L1672.3 982.4L1672.3 980.4L1672.3 978.4L1672.4 976.4L1672.4 974.4L1672.4 972.4L1672.4 970.4L1672.5 968.4L1672.5 966.4L1672.5 964.4L1672.6 962.4L1672.6 960.4L1672.6 958.4L1672.7 956.4L1672.7 954.4L1672.7 952.4L1672.8 950.4L1672.8 947.9L1672.8 945.9L1672.9 943.9L1672.9 941.9L1672.9 939.9L1673.0 937.9L1673.0 935.9L1673.0 933.9L1673.1 931.8L1673.1 929.8L1673.2 927.8L1673.2 925.8L1673.2 923.8L1673.3 921.8L1673.3 919.8L1673.4 917.8L1673.4 915.8L1673.5 913.8L1673.5 911.8L1673.6 909.8L1673.6 907.8L1673.7 905.8L1673.7 903.8L1673.8 901.8L1673.8 899.8L1673.9 897.8L1673.9 895.8L1674.0 893.8L1674.0 891.8L1674.1 889.8L1674.1 887.8L1674.2 885.8L1674.3 883.8L1674.3 881.8L1674.4 879.8L1674.5 877.8L1674.6 875.8L1674.6 873.8L1674.7 871.8L1674.8 869.8L1674.9 867.8L1674.9 865.8L1675.0 863.8L1675.1 861.8L1675.2 859.8L1675.3 857.8L1675.4 855.8L1675.5 853.8L1675.6 851.8L1675.7 849.8L1675.8 847.8L1675.9 845.8L1676.0 843.8L1676.2 841.8L1676.3 839.8L1676.4 837.8L1676.6 835.9L1676.7 833.9L1676.9 831.9L1677.0 829.9L1677.2 827.9L1677.4 825.9L1677.5 823.9L1677.7 821.9L1677.9 819.9L1678.1 817.9L1678.2 815.9L1678.4 813.9L1678.6 811.9L1678.8 809.9L1679.0 807.9L1679.2 805.9L1679.4 804.0L1679.6 802.0L1679.8 800.0L1680.1 798.0L1680.3 796.0L1680.5 794.0L1680.7 792.0L1680.9 790.0L1681.1 788.0L1681.3 786.0L1681.5 784.0L1681.7 782.0L1682.0 780.0L1682.2 778.1L1682.5 776.1L1682.7 774.1L1683.1 772.1L1683.4 770.2L1683.8 768.2L1684.2 766.2L1684.6 764.3L1685.1 762.3L1685.6 760.4L1686.2 758.4L1686.9 756.3L1687.6 754.1L1688.4 751.8L1689.2 749.5L1690.1 747.3L1691.0 745.4L1691.9 743.7L1692.8 742.5L1693.7 741.9L1694.6 741.8L1695.5 742.3L1696.4 743.4L1697.4 744.9L1698.3 746.8L1699.2 748.9L1700.0 751.2L1700.8 753.5L1701.5 755.7L1702.1 757.8L1702.7 759.9L1703.1 761.9L1703.6 763.8L1703.9 765.8L1704.3 767.8L1704.7 769.7L1705.0 771.7L1705.4 773.7L1705.8 775.7L1706.1 777.6L1706.5 779.6L1706.8 781.6L1707.2 783.6L1707.5 785.5L1707.8 787.5L1708.1 789.5L1708.3 791.5L1708.6 793.5L1708.8 795.4L1708.9 797.4L1709.1 799.4L1709.2 801.4L1709.3 803.4L1709.4 805.4L1709.5 807.4L1709.6 809.4L1709.7 811.4L1709.8 813.4L1709.9 815.4L1710.0 817.4L1710.1 819.4L1710.2 821.4L1710.3 823.4L1710.4 825.4L1710.5 827.4L1710.6 829.4L1710.7 831.4L1710.8 833.4L1710.9 835.4L1711.0 837.4L1711.1 839.4L1711.2 841.4L1711.3 843.4L1711.4 845.4L1711.5 847.4L1711.6 849.4L1711.6 851.4L1711.7 853.4L1711.8 855.4L1711.8 857.4L1711.9 859.4L1711.9 861.4L1712.0 863.4L1712.1 865.4L1712.1 867.4L1712.2 869.4L1712.2 871.4L1712.3 873.4L1712.3 875.4L1712.4 877.4L1712.4 879.4L1712.5 881.4L1712.5 883.4L1712.6 885.4L1712.6 887.4L1712.7 889.4L1712.8 891.4L1712.8 893.4L1712.9 895.4L1713.0 897.4L1713.0 899.4L1713.1 901.4L1713.2 903.4L1713.3 905.4L1713.4 907.4L1713.5 909.4L1713.7 911.4L1713.8 913.4L1713.9 915.4L1714.0 917.4L1714.2 919.4L1714.3 921.4L1714.4 923.4L1714.6 925.9L1714.7 927.9L1714.8 929.9L1715.0 931.9L1715.1 933.9L1715.2 935.9L1715.3 937.9L1715.4 939.9L1715.5 941.9L1715.6 943.9L1715.7 945.9L1715.7 947.9L1715.8 949.9L1715.8 951.9L1715.9 953.9L1715.9 955.9L1716.0 957.9L1716.0 959.9L1716.1 961.9L1716.1 963.9L1716.1 965.9L1716.2 967.9L1716.2 969.9L1716.3 971.9L1716.3 973.9L1716.3 975.9L1716.4 977.9L1716.4 979.9L1716.4 981.9L1716.5 983.9L1716.5 985.9L1716.5 987.9L1716.5 989.9L1716.6 991.9L1716.6 993.9L1716.6 995.9L1716.6 997.9L1716.7 999.9L1716.7 1001.9L1716.7 1003.9L1716.7 1005.9L1716.8 1007.9L1716.8 1009.9L1716.8 1011.9L1716.8 1013.9L1716.9 1015.9L1716.9 1017.9L1716.9 1019.9L1716.9 1021.9L1716.9 1023.9L1717.0 1025.9L1717.0 1027.9L1717.0 1029.9L1717.0 1031.9L1717.1 1033.9L1717.1 1035.9L1717.1 1037.9L1717.2 1039.9L1717.2 1041.9L1717.2 1044.0L1717.2 1046.0L1717.3 1048.0L1717.3 1050.0L1717.3 1052.0L1717.4 1054.0L1717.4 1056.0L1717.4 1058.0L1717.5 1060.0L1717.5 1062.0L1717.5 1064.0L1717.6 1066.0L1717.6 1068.0L1717.6 1070.0L1717.7 1072.0L1717.7 1074.0L1717.7 1076.0L1717.8 1078.0L1717.8 1080.0L1717.8 1082.0L1717.9 1084.0L1717.9 1086.0L1717.9 1088.0L1718.0 1090.0L1718.0 1092.0L1718.0 1094.0L1718.1 1096.0L1718.1 1098.0L1718.1 1100.0L1718.2 1102.0L1718.2 1104.0L1718.2 1106.0L1718.3 1108.0L1718.3 1110.0L1718.3 1112.0L1718.4 1114.0L1718.4 1116.0L1718.4 1118.0L1718.5 1120.0L1718.5 1122.0" stroke="#2f97a3" stroke-width="10.0"/>
</g>
<rect x="1314" y="70" width="365" height="308" fill="#262626"/><rect x="1317" y="73" width="358" height="301" fill="#ffffff"/>
<line x1="1328.8" y1="106.8" x2="1471.9" y2="106.8" stroke="#000" stroke-width="10.0" stroke-dasharray="30 27"/><text class="lg" x="1483.6" y="123.6">reference</text>
<line x1="1328.8" y1="165.0" x2="1471.9" y2="165.0" stroke="#3e2a6e" stroke-width="10.0"/><text class="lg" y="185.3"><tspan class="xi" x="1482">ξ</tspan><tspan x="1503.6">=2</tspan></text>
<line x1="1328.8" y1="223.5" x2="1471.9" y2="223.5" stroke="#ee644a" stroke-width="10.0"/><text class="lg" y="240.9"><tspan class="xi" x="1482">ξ</tspan><tspan x="1503.6">=1</tspan></text>
<line x1="1328.8" y1="282.0" x2="1471.9" y2="282.0" stroke="#fea832" stroke-width="10.0"/><text class="lg" y="301.9"><tspan class="xi" x="1482">ξ</tspan><tspan x="1503.6">=0.5</tspan></text>
<line x1="1328.8" y1="340.5" x2="1471.9" y2="340.5" stroke="#2f97a3" stroke-width="10.0"/><text class="lg" y="358.0"><tspan class="xi" x="1482">ξ</tspan><tspan x="1503.6">=0.1</tspan></text>
</svg>
</body></html>
